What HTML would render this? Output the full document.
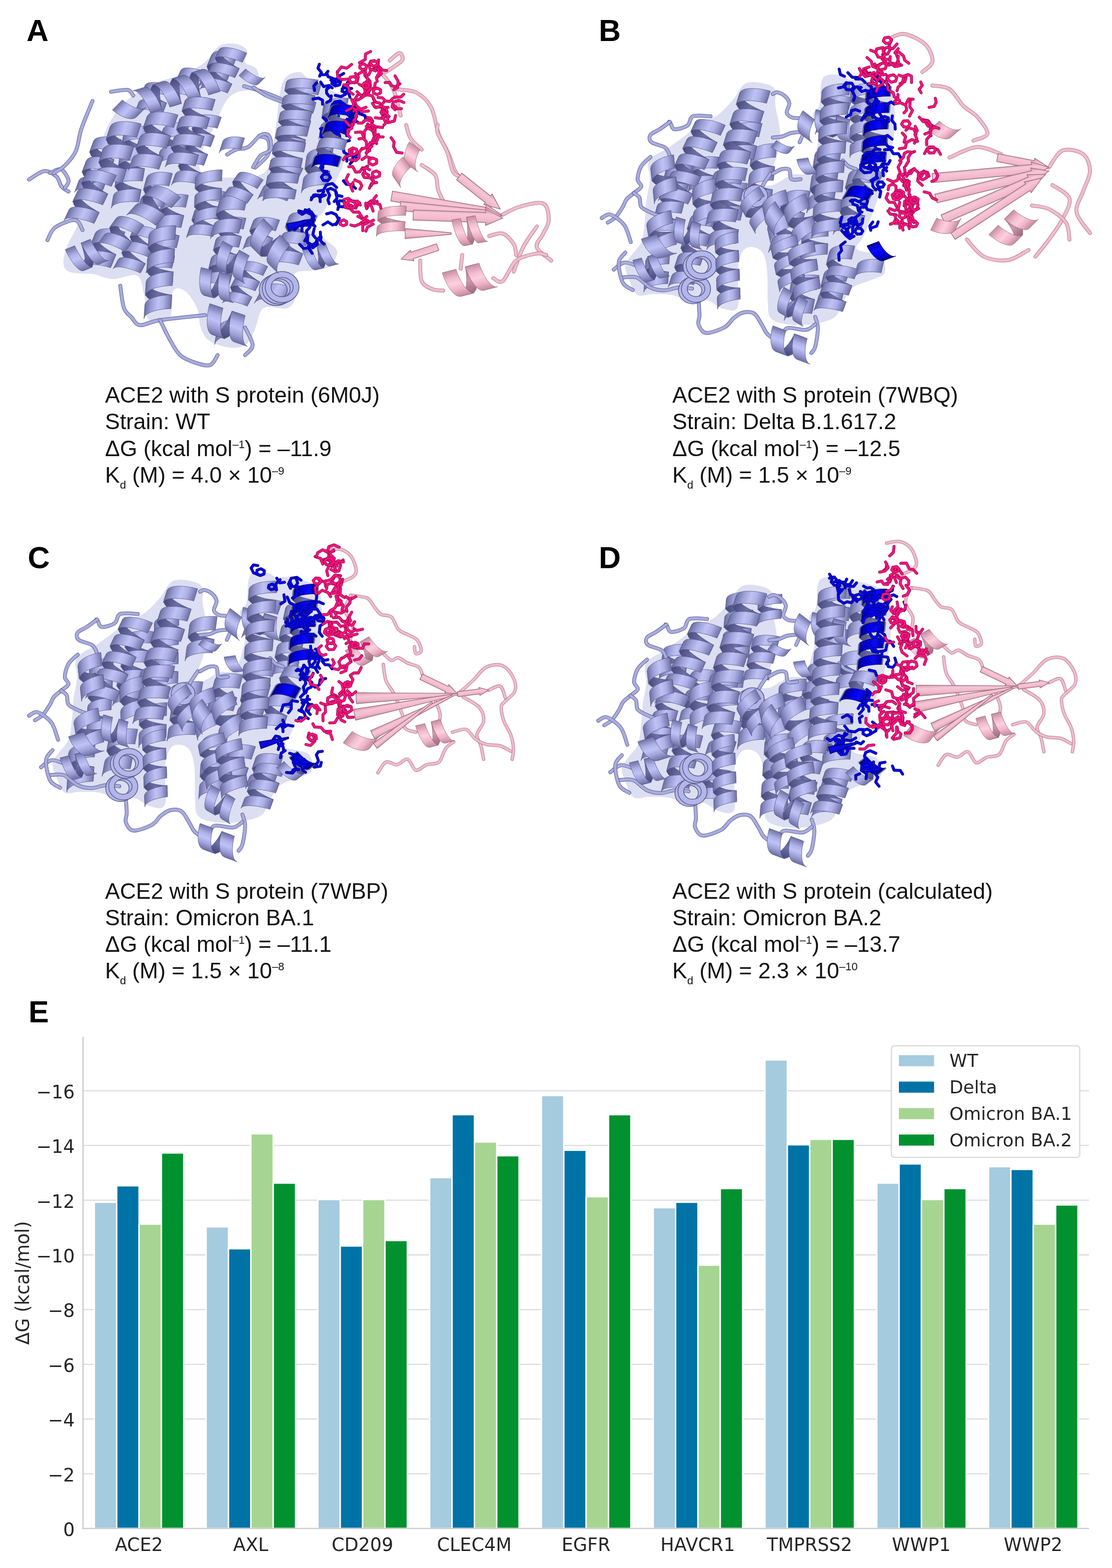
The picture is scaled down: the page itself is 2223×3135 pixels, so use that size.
<!DOCTYPE html>
<html><head><meta charset="utf-8"><style>
html,body{margin:0;padding:0;background:#fff;}
body{width:2223px;height:3135px;position:relative;overflow:hidden;}
.tk{font-family:"DejaVu Sans",sans-serif;font-size:36.5px;fill:#262626;}
.cap{position:absolute;font-family:"Liberation Sans",Arial,sans-serif;font-size:44.5px;line-height:53.3px;color:#111;white-space:nowrap;}
.cap sup{font-size:22px;line-height:0;vertical-align:0;position:relative;top:-16px;}
.cap sub{font-size:22px;line-height:0;vertical-align:0;position:relative;top:12px;}
.lab{position:absolute;font-family:"Liberation Sans",Arial,sans-serif;font-weight:bold;font-size:61px;line-height:70px;color:#000;}
</style></head><body>
<svg width="2223" height="3135" viewBox="0 0 2223 3135" style="position:absolute;left:0;top:0"><defs><linearGradient id="lf" x1="0" y1="0" x2="0" y2="1"><stop offset="0" stop-color="#6f72a6"/><stop offset="0.3" stop-color="#aeb1e6"/><stop offset="0.5" stop-color="#bfc2f5"/><stop offset="0.75" stop-color="#9da0d6"/><stop offset="1" stop-color="#6c6fa2"/></linearGradient><linearGradient id="lb" x1="0" y1="0" x2="0" y2="1"><stop offset="0" stop-color="#4a4c7c"/><stop offset="0.5" stop-color="#6e71a6"/><stop offset="1" stop-color="#46487a"/></linearGradient><linearGradient id="pf" x1="0" y1="0" x2="0" y2="1"><stop offset="0" stop-color="#c48ea2"/><stop offset="0.3" stop-color="#f3bccf"/><stop offset="0.5" stop-color="#fbd0de"/><stop offset="0.75" stop-color="#eeb2c6"/><stop offset="1" stop-color="#c08a9e"/></linearGradient><linearGradient id="sp" x1="0" y1="0" x2="0" y2="1"><stop offset="0" stop-color="#d79fb2"/><stop offset="0.35" stop-color="#f7c6d6"/><stop offset="0.7" stop-color="#f1b8ca"/><stop offset="1" stop-color="#c99aab"/></linearGradient><linearGradient id="pb" x1="0" y1="0" x2="0" y2="1"><stop offset="0" stop-color="#a67486"/><stop offset="0.5" stop-color="#cf9aae"/><stop offset="1" stop-color="#9a6a7c"/></linearGradient><linearGradient id="bf" x1="0" y1="0" x2="0" y2="1"><stop offset="0" stop-color="#00009a"/><stop offset="0.35" stop-color="#0a0af5"/><stop offset="0.6" stop-color="#0000ee"/><stop offset="1" stop-color="#000090"/></linearGradient><linearGradient id="bb" x1="0" y1="0" x2="0" y2="1"><stop offset="0" stop-color="#000070"/><stop offset="0.5" stop-color="#0000b8"/><stop offset="1" stop-color="#000068"/></linearGradient><linearGradient id="mf" x1="0" y1="0" x2="0" y2="1"><stop offset="0" stop-color="#a00048"/><stop offset="0.4" stop-color="#ff1a8a"/><stop offset="1" stop-color="#b0004e"/></linearGradient><symbol id="hl1" overflow="visible">
<path d="M0.000,-1.000 0.001,-0.951 0.006,-0.809 0.021,-0.588 0.048,-0.309 0.090,-0.000 0.148,0.309 0.221,0.588 0.306,0.809 0.401,0.951 0.500,1.000 1.100,1.000 1.001,0.951 0.906,0.809 0.821,0.588 0.748,0.309 0.690,-0.000 0.648,-0.309 0.621,-0.588 0.606,-0.809 0.601,-0.951 0.600,-1.000Z" fill="url(#lf)" stroke="#55578a" stroke-width="0.8" vector-effect="non-scaling-stroke"/>
</symbol><symbol id="hp1" overflow="visible">
<path d="M0.000,-1.000 0.001,-0.951 0.006,-0.809 0.021,-0.588 0.048,-0.309 0.090,-0.000 0.148,0.309 0.221,0.588 0.306,0.809 0.401,0.951 0.500,1.000 1.100,1.000 1.001,0.951 0.906,0.809 0.821,0.588 0.748,0.309 0.690,-0.000 0.648,-0.309 0.621,-0.588 0.606,-0.809 0.601,-0.951 0.600,-1.000Z" fill="url(#pf)" stroke="#98687a" stroke-width="0.8" vector-effect="non-scaling-stroke"/>
</symbol><symbol id="hb1" overflow="visible">
<path d="M0.000,-1.000 0.001,-0.951 0.006,-0.809 0.021,-0.588 0.048,-0.309 0.090,-0.000 0.148,0.309 0.221,0.588 0.306,0.809 0.401,0.951 0.500,1.000 1.100,1.000 1.001,0.951 0.906,0.809 0.821,0.588 0.748,0.309 0.690,-0.000 0.648,-0.309 0.621,-0.588 0.606,-0.809 0.601,-0.951 0.600,-1.000Z" fill="url(#bf)" stroke="#000050" stroke-width="0.8" vector-effect="non-scaling-stroke"/>
</symbol><symbol id="hl2" overflow="visible">
<path d="M0.500,1.000 0.599,0.951 0.694,0.809 0.779,0.588 0.852,0.309 0.910,0.000 0.952,-0.309 0.979,-0.588 0.994,-0.809 0.999,-0.951 1.000,-1.000 1.500,-1.000 1.499,-0.951 1.494,-0.809 1.479,-0.588 1.452,-0.309 1.410,0.000 1.352,0.309 1.279,0.588 1.194,0.809 1.099,0.951 1.000,1.000Z" fill="url(#lb)" stroke="#55578a" stroke-width="0.8" vector-effect="non-scaling-stroke"/>
<path d="M0.000,-1.000 0.001,-0.951 0.006,-0.809 0.021,-0.588 0.048,-0.309 0.090,-0.000 0.148,0.309 0.221,0.588 0.306,0.809 0.401,0.951 0.500,1.000 1.100,1.000 1.001,0.951 0.906,0.809 0.821,0.588 0.748,0.309 0.690,-0.000 0.648,-0.309 0.621,-0.588 0.606,-0.809 0.601,-0.951 0.600,-1.000ZM1.000,-1.000 1.001,-0.951 1.006,-0.809 1.021,-0.588 1.048,-0.309 1.090,-0.000 1.148,0.309 1.221,0.588 1.306,0.809 1.401,0.951 1.500,1.000 2.100,1.000 2.001,0.951 1.906,0.809 1.821,0.588 1.748,0.309 1.690,-0.000 1.648,-0.309 1.621,-0.588 1.606,-0.809 1.601,-0.951 1.600,-1.000Z" fill="url(#lf)" stroke="#55578a" stroke-width="0.8" vector-effect="non-scaling-stroke"/>
</symbol><symbol id="hp2" overflow="visible">
<path d="M0.500,1.000 0.599,0.951 0.694,0.809 0.779,0.588 0.852,0.309 0.910,0.000 0.952,-0.309 0.979,-0.588 0.994,-0.809 0.999,-0.951 1.000,-1.000 1.500,-1.000 1.499,-0.951 1.494,-0.809 1.479,-0.588 1.452,-0.309 1.410,0.000 1.352,0.309 1.279,0.588 1.194,0.809 1.099,0.951 1.000,1.000Z" fill="url(#pb)" stroke="#98687a" stroke-width="0.8" vector-effect="non-scaling-stroke"/>
<path d="M0.000,-1.000 0.001,-0.951 0.006,-0.809 0.021,-0.588 0.048,-0.309 0.090,-0.000 0.148,0.309 0.221,0.588 0.306,0.809 0.401,0.951 0.500,1.000 1.100,1.000 1.001,0.951 0.906,0.809 0.821,0.588 0.748,0.309 0.690,-0.000 0.648,-0.309 0.621,-0.588 0.606,-0.809 0.601,-0.951 0.600,-1.000ZM1.000,-1.000 1.001,-0.951 1.006,-0.809 1.021,-0.588 1.048,-0.309 1.090,-0.000 1.148,0.309 1.221,0.588 1.306,0.809 1.401,0.951 1.500,1.000 2.100,1.000 2.001,0.951 1.906,0.809 1.821,0.588 1.748,0.309 1.690,-0.000 1.648,-0.309 1.621,-0.588 1.606,-0.809 1.601,-0.951 1.600,-1.000Z" fill="url(#pf)" stroke="#98687a" stroke-width="0.8" vector-effect="non-scaling-stroke"/>
</symbol><symbol id="hb2" overflow="visible">
<path d="M0.500,1.000 0.599,0.951 0.694,0.809 0.779,0.588 0.852,0.309 0.910,0.000 0.952,-0.309 0.979,-0.588 0.994,-0.809 0.999,-0.951 1.000,-1.000 1.500,-1.000 1.499,-0.951 1.494,-0.809 1.479,-0.588 1.452,-0.309 1.410,0.000 1.352,0.309 1.279,0.588 1.194,0.809 1.099,0.951 1.000,1.000Z" fill="url(#bb)" stroke="#000050" stroke-width="0.8" vector-effect="non-scaling-stroke"/>
<path d="M0.000,-1.000 0.001,-0.951 0.006,-0.809 0.021,-0.588 0.048,-0.309 0.090,-0.000 0.148,0.309 0.221,0.588 0.306,0.809 0.401,0.951 0.500,1.000 1.100,1.000 1.001,0.951 0.906,0.809 0.821,0.588 0.748,0.309 0.690,-0.000 0.648,-0.309 0.621,-0.588 0.606,-0.809 0.601,-0.951 0.600,-1.000ZM1.000,-1.000 1.001,-0.951 1.006,-0.809 1.021,-0.588 1.048,-0.309 1.090,-0.000 1.148,0.309 1.221,0.588 1.306,0.809 1.401,0.951 1.500,1.000 2.100,1.000 2.001,0.951 1.906,0.809 1.821,0.588 1.748,0.309 1.690,-0.000 1.648,-0.309 1.621,-0.588 1.606,-0.809 1.601,-0.951 1.600,-1.000Z" fill="url(#bf)" stroke="#000050" stroke-width="0.8" vector-effect="non-scaling-stroke"/>
</symbol><symbol id="hl3" overflow="visible">
<path d="M0.500,1.000 0.599,0.951 0.694,0.809 0.779,0.588 0.852,0.309 0.910,0.000 0.952,-0.309 0.979,-0.588 0.994,-0.809 0.999,-0.951 1.000,-1.000 1.500,-1.000 1.499,-0.951 1.494,-0.809 1.479,-0.588 1.452,-0.309 1.410,0.000 1.352,0.309 1.279,0.588 1.194,0.809 1.099,0.951 1.000,1.000ZM1.500,1.000 1.599,0.951 1.694,0.809 1.779,0.588 1.852,0.309 1.910,0.000 1.952,-0.309 1.979,-0.588 1.994,-0.809 1.999,-0.951 2.000,-1.000 2.500,-1.000 2.499,-0.951 2.494,-0.809 2.479,-0.588 2.452,-0.309 2.410,0.000 2.352,0.309 2.279,0.588 2.194,0.809 2.099,0.951 2.000,1.000Z" fill="url(#lb)" stroke="#55578a" stroke-width="0.8" vector-effect="non-scaling-stroke"/>
<path d="M0.000,-1.000 0.001,-0.951 0.006,-0.809 0.021,-0.588 0.048,-0.309 0.090,-0.000 0.148,0.309 0.221,0.588 0.306,0.809 0.401,0.951 0.500,1.000 1.100,1.000 1.001,0.951 0.906,0.809 0.821,0.588 0.748,0.309 0.690,-0.000 0.648,-0.309 0.621,-0.588 0.606,-0.809 0.601,-0.951 0.600,-1.000ZM1.000,-1.000 1.001,-0.951 1.006,-0.809 1.021,-0.588 1.048,-0.309 1.090,-0.000 1.148,0.309 1.221,0.588 1.306,0.809 1.401,0.951 1.500,1.000 2.100,1.000 2.001,0.951 1.906,0.809 1.821,0.588 1.748,0.309 1.690,-0.000 1.648,-0.309 1.621,-0.588 1.606,-0.809 1.601,-0.951 1.600,-1.000ZM2.000,-1.000 2.001,-0.951 2.006,-0.809 2.021,-0.588 2.048,-0.309 2.090,-0.000 2.148,0.309 2.221,0.588 2.306,0.809 2.401,0.951 2.500,1.000 3.100,1.000 3.001,0.951 2.906,0.809 2.821,0.588 2.748,0.309 2.690,-0.000 2.648,-0.309 2.621,-0.588 2.606,-0.809 2.601,-0.951 2.600,-1.000Z" fill="url(#lf)" stroke="#55578a" stroke-width="0.8" vector-effect="non-scaling-stroke"/>
</symbol><symbol id="hp3" overflow="visible">
<path d="M0.500,1.000 0.599,0.951 0.694,0.809 0.779,0.588 0.852,0.309 0.910,0.000 0.952,-0.309 0.979,-0.588 0.994,-0.809 0.999,-0.951 1.000,-1.000 1.500,-1.000 1.499,-0.951 1.494,-0.809 1.479,-0.588 1.452,-0.309 1.410,0.000 1.352,0.309 1.279,0.588 1.194,0.809 1.099,0.951 1.000,1.000ZM1.500,1.000 1.599,0.951 1.694,0.809 1.779,0.588 1.852,0.309 1.910,0.000 1.952,-0.309 1.979,-0.588 1.994,-0.809 1.999,-0.951 2.000,-1.000 2.500,-1.000 2.499,-0.951 2.494,-0.809 2.479,-0.588 2.452,-0.309 2.410,0.000 2.352,0.309 2.279,0.588 2.194,0.809 2.099,0.951 2.000,1.000Z" fill="url(#pb)" stroke="#98687a" stroke-width="0.8" vector-effect="non-scaling-stroke"/>
<path d="M0.000,-1.000 0.001,-0.951 0.006,-0.809 0.021,-0.588 0.048,-0.309 0.090,-0.000 0.148,0.309 0.221,0.588 0.306,0.809 0.401,0.951 0.500,1.000 1.100,1.000 1.001,0.951 0.906,0.809 0.821,0.588 0.748,0.309 0.690,-0.000 0.648,-0.309 0.621,-0.588 0.606,-0.809 0.601,-0.951 0.600,-1.000ZM1.000,-1.000 1.001,-0.951 1.006,-0.809 1.021,-0.588 1.048,-0.309 1.090,-0.000 1.148,0.309 1.221,0.588 1.306,0.809 1.401,0.951 1.500,1.000 2.100,1.000 2.001,0.951 1.906,0.809 1.821,0.588 1.748,0.309 1.690,-0.000 1.648,-0.309 1.621,-0.588 1.606,-0.809 1.601,-0.951 1.600,-1.000ZM2.000,-1.000 2.001,-0.951 2.006,-0.809 2.021,-0.588 2.048,-0.309 2.090,-0.000 2.148,0.309 2.221,0.588 2.306,0.809 2.401,0.951 2.500,1.000 3.100,1.000 3.001,0.951 2.906,0.809 2.821,0.588 2.748,0.309 2.690,-0.000 2.648,-0.309 2.621,-0.588 2.606,-0.809 2.601,-0.951 2.600,-1.000Z" fill="url(#pf)" stroke="#98687a" stroke-width="0.8" vector-effect="non-scaling-stroke"/>
</symbol><symbol id="hb3" overflow="visible">
<path d="M0.500,1.000 0.599,0.951 0.694,0.809 0.779,0.588 0.852,0.309 0.910,0.000 0.952,-0.309 0.979,-0.588 0.994,-0.809 0.999,-0.951 1.000,-1.000 1.500,-1.000 1.499,-0.951 1.494,-0.809 1.479,-0.588 1.452,-0.309 1.410,0.000 1.352,0.309 1.279,0.588 1.194,0.809 1.099,0.951 1.000,1.000ZM1.500,1.000 1.599,0.951 1.694,0.809 1.779,0.588 1.852,0.309 1.910,0.000 1.952,-0.309 1.979,-0.588 1.994,-0.809 1.999,-0.951 2.000,-1.000 2.500,-1.000 2.499,-0.951 2.494,-0.809 2.479,-0.588 2.452,-0.309 2.410,0.000 2.352,0.309 2.279,0.588 2.194,0.809 2.099,0.951 2.000,1.000Z" fill="url(#bb)" stroke="#000050" stroke-width="0.8" vector-effect="non-scaling-stroke"/>
<path d="M0.000,-1.000 0.001,-0.951 0.006,-0.809 0.021,-0.588 0.048,-0.309 0.090,-0.000 0.148,0.309 0.221,0.588 0.306,0.809 0.401,0.951 0.500,1.000 1.100,1.000 1.001,0.951 0.906,0.809 0.821,0.588 0.748,0.309 0.690,-0.000 0.648,-0.309 0.621,-0.588 0.606,-0.809 0.601,-0.951 0.600,-1.000ZM1.000,-1.000 1.001,-0.951 1.006,-0.809 1.021,-0.588 1.048,-0.309 1.090,-0.000 1.148,0.309 1.221,0.588 1.306,0.809 1.401,0.951 1.500,1.000 2.100,1.000 2.001,0.951 1.906,0.809 1.821,0.588 1.748,0.309 1.690,-0.000 1.648,-0.309 1.621,-0.588 1.606,-0.809 1.601,-0.951 1.600,-1.000ZM2.000,-1.000 2.001,-0.951 2.006,-0.809 2.021,-0.588 2.048,-0.309 2.090,-0.000 2.148,0.309 2.221,0.588 2.306,0.809 2.401,0.951 2.500,1.000 3.100,1.000 3.001,0.951 2.906,0.809 2.821,0.588 2.748,0.309 2.690,-0.000 2.648,-0.309 2.621,-0.588 2.606,-0.809 2.601,-0.951 2.600,-1.000Z" fill="url(#bf)" stroke="#000050" stroke-width="0.8" vector-effect="non-scaling-stroke"/>
</symbol><symbol id="hl4" overflow="visible">
<path d="M0.500,1.000 0.599,0.951 0.694,0.809 0.779,0.588 0.852,0.309 0.910,0.000 0.952,-0.309 0.979,-0.588 0.994,-0.809 0.999,-0.951 1.000,-1.000 1.500,-1.000 1.499,-0.951 1.494,-0.809 1.479,-0.588 1.452,-0.309 1.410,0.000 1.352,0.309 1.279,0.588 1.194,0.809 1.099,0.951 1.000,1.000ZM1.500,1.000 1.599,0.951 1.694,0.809 1.779,0.588 1.852,0.309 1.910,0.000 1.952,-0.309 1.979,-0.588 1.994,-0.809 1.999,-0.951 2.000,-1.000 2.500,-1.000 2.499,-0.951 2.494,-0.809 2.479,-0.588 2.452,-0.309 2.410,0.000 2.352,0.309 2.279,0.588 2.194,0.809 2.099,0.951 2.000,1.000ZM2.500,1.000 2.599,0.951 2.694,0.809 2.779,0.588 2.852,0.309 2.910,0.000 2.952,-0.309 2.979,-0.588 2.994,-0.809 2.999,-0.951 3.000,-1.000 3.500,-1.000 3.499,-0.951 3.494,-0.809 3.479,-0.588 3.452,-0.309 3.410,0.000 3.352,0.309 3.279,0.588 3.194,0.809 3.099,0.951 3.000,1.000Z" fill="url(#lb)" stroke="#55578a" stroke-width="0.8" vector-effect="non-scaling-stroke"/>
<path d="M0.000,-1.000 0.001,-0.951 0.006,-0.809 0.021,-0.588 0.048,-0.309 0.090,-0.000 0.148,0.309 0.221,0.588 0.306,0.809 0.401,0.951 0.500,1.000 1.100,1.000 1.001,0.951 0.906,0.809 0.821,0.588 0.748,0.309 0.690,-0.000 0.648,-0.309 0.621,-0.588 0.606,-0.809 0.601,-0.951 0.600,-1.000ZM1.000,-1.000 1.001,-0.951 1.006,-0.809 1.021,-0.588 1.048,-0.309 1.090,-0.000 1.148,0.309 1.221,0.588 1.306,0.809 1.401,0.951 1.500,1.000 2.100,1.000 2.001,0.951 1.906,0.809 1.821,0.588 1.748,0.309 1.690,-0.000 1.648,-0.309 1.621,-0.588 1.606,-0.809 1.601,-0.951 1.600,-1.000ZM2.000,-1.000 2.001,-0.951 2.006,-0.809 2.021,-0.588 2.048,-0.309 2.090,-0.000 2.148,0.309 2.221,0.588 2.306,0.809 2.401,0.951 2.500,1.000 3.100,1.000 3.001,0.951 2.906,0.809 2.821,0.588 2.748,0.309 2.690,-0.000 2.648,-0.309 2.621,-0.588 2.606,-0.809 2.601,-0.951 2.600,-1.000ZM3.000,-1.000 3.001,-0.951 3.006,-0.809 3.021,-0.588 3.048,-0.309 3.090,-0.000 3.148,0.309 3.221,0.588 3.306,0.809 3.401,0.951 3.500,1.000 4.100,1.000 4.001,0.951 3.906,0.809 3.821,0.588 3.748,0.309 3.690,-0.000 3.648,-0.309 3.621,-0.588 3.606,-0.809 3.601,-0.951 3.600,-1.000Z" fill="url(#lf)" stroke="#55578a" stroke-width="0.8" vector-effect="non-scaling-stroke"/>
</symbol><symbol id="hp4" overflow="visible">
<path d="M0.500,1.000 0.599,0.951 0.694,0.809 0.779,0.588 0.852,0.309 0.910,0.000 0.952,-0.309 0.979,-0.588 0.994,-0.809 0.999,-0.951 1.000,-1.000 1.500,-1.000 1.499,-0.951 1.494,-0.809 1.479,-0.588 1.452,-0.309 1.410,0.000 1.352,0.309 1.279,0.588 1.194,0.809 1.099,0.951 1.000,1.000ZM1.500,1.000 1.599,0.951 1.694,0.809 1.779,0.588 1.852,0.309 1.910,0.000 1.952,-0.309 1.979,-0.588 1.994,-0.809 1.999,-0.951 2.000,-1.000 2.500,-1.000 2.499,-0.951 2.494,-0.809 2.479,-0.588 2.452,-0.309 2.410,0.000 2.352,0.309 2.279,0.588 2.194,0.809 2.099,0.951 2.000,1.000ZM2.500,1.000 2.599,0.951 2.694,0.809 2.779,0.588 2.852,0.309 2.910,0.000 2.952,-0.309 2.979,-0.588 2.994,-0.809 2.999,-0.951 3.000,-1.000 3.500,-1.000 3.499,-0.951 3.494,-0.809 3.479,-0.588 3.452,-0.309 3.410,0.000 3.352,0.309 3.279,0.588 3.194,0.809 3.099,0.951 3.000,1.000Z" fill="url(#pb)" stroke="#98687a" stroke-width="0.8" vector-effect="non-scaling-stroke"/>
<path d="M0.000,-1.000 0.001,-0.951 0.006,-0.809 0.021,-0.588 0.048,-0.309 0.090,-0.000 0.148,0.309 0.221,0.588 0.306,0.809 0.401,0.951 0.500,1.000 1.100,1.000 1.001,0.951 0.906,0.809 0.821,0.588 0.748,0.309 0.690,-0.000 0.648,-0.309 0.621,-0.588 0.606,-0.809 0.601,-0.951 0.600,-1.000ZM1.000,-1.000 1.001,-0.951 1.006,-0.809 1.021,-0.588 1.048,-0.309 1.090,-0.000 1.148,0.309 1.221,0.588 1.306,0.809 1.401,0.951 1.500,1.000 2.100,1.000 2.001,0.951 1.906,0.809 1.821,0.588 1.748,0.309 1.690,-0.000 1.648,-0.309 1.621,-0.588 1.606,-0.809 1.601,-0.951 1.600,-1.000ZM2.000,-1.000 2.001,-0.951 2.006,-0.809 2.021,-0.588 2.048,-0.309 2.090,-0.000 2.148,0.309 2.221,0.588 2.306,0.809 2.401,0.951 2.500,1.000 3.100,1.000 3.001,0.951 2.906,0.809 2.821,0.588 2.748,0.309 2.690,-0.000 2.648,-0.309 2.621,-0.588 2.606,-0.809 2.601,-0.951 2.600,-1.000ZM3.000,-1.000 3.001,-0.951 3.006,-0.809 3.021,-0.588 3.048,-0.309 3.090,-0.000 3.148,0.309 3.221,0.588 3.306,0.809 3.401,0.951 3.500,1.000 4.100,1.000 4.001,0.951 3.906,0.809 3.821,0.588 3.748,0.309 3.690,-0.000 3.648,-0.309 3.621,-0.588 3.606,-0.809 3.601,-0.951 3.600,-1.000Z" fill="url(#pf)" stroke="#98687a" stroke-width="0.8" vector-effect="non-scaling-stroke"/>
</symbol><symbol id="hb4" overflow="visible">
<path d="M0.500,1.000 0.599,0.951 0.694,0.809 0.779,0.588 0.852,0.309 0.910,0.000 0.952,-0.309 0.979,-0.588 0.994,-0.809 0.999,-0.951 1.000,-1.000 1.500,-1.000 1.499,-0.951 1.494,-0.809 1.479,-0.588 1.452,-0.309 1.410,0.000 1.352,0.309 1.279,0.588 1.194,0.809 1.099,0.951 1.000,1.000ZM1.500,1.000 1.599,0.951 1.694,0.809 1.779,0.588 1.852,0.309 1.910,0.000 1.952,-0.309 1.979,-0.588 1.994,-0.809 1.999,-0.951 2.000,-1.000 2.500,-1.000 2.499,-0.951 2.494,-0.809 2.479,-0.588 2.452,-0.309 2.410,0.000 2.352,0.309 2.279,0.588 2.194,0.809 2.099,0.951 2.000,1.000ZM2.500,1.000 2.599,0.951 2.694,0.809 2.779,0.588 2.852,0.309 2.910,0.000 2.952,-0.309 2.979,-0.588 2.994,-0.809 2.999,-0.951 3.000,-1.000 3.500,-1.000 3.499,-0.951 3.494,-0.809 3.479,-0.588 3.452,-0.309 3.410,0.000 3.352,0.309 3.279,0.588 3.194,0.809 3.099,0.951 3.000,1.000Z" fill="url(#bb)" stroke="#000050" stroke-width="0.8" vector-effect="non-scaling-stroke"/>
<path d="M0.000,-1.000 0.001,-0.951 0.006,-0.809 0.021,-0.588 0.048,-0.309 0.090,-0.000 0.148,0.309 0.221,0.588 0.306,0.809 0.401,0.951 0.500,1.000 1.100,1.000 1.001,0.951 0.906,0.809 0.821,0.588 0.748,0.309 0.690,-0.000 0.648,-0.309 0.621,-0.588 0.606,-0.809 0.601,-0.951 0.600,-1.000ZM1.000,-1.000 1.001,-0.951 1.006,-0.809 1.021,-0.588 1.048,-0.309 1.090,-0.000 1.148,0.309 1.221,0.588 1.306,0.809 1.401,0.951 1.500,1.000 2.100,1.000 2.001,0.951 1.906,0.809 1.821,0.588 1.748,0.309 1.690,-0.000 1.648,-0.309 1.621,-0.588 1.606,-0.809 1.601,-0.951 1.600,-1.000ZM2.000,-1.000 2.001,-0.951 2.006,-0.809 2.021,-0.588 2.048,-0.309 2.090,-0.000 2.148,0.309 2.221,0.588 2.306,0.809 2.401,0.951 2.500,1.000 3.100,1.000 3.001,0.951 2.906,0.809 2.821,0.588 2.748,0.309 2.690,-0.000 2.648,-0.309 2.621,-0.588 2.606,-0.809 2.601,-0.951 2.600,-1.000ZM3.000,-1.000 3.001,-0.951 3.006,-0.809 3.021,-0.588 3.048,-0.309 3.090,-0.000 3.148,0.309 3.221,0.588 3.306,0.809 3.401,0.951 3.500,1.000 4.100,1.000 4.001,0.951 3.906,0.809 3.821,0.588 3.748,0.309 3.690,-0.000 3.648,-0.309 3.621,-0.588 3.606,-0.809 3.601,-0.951 3.600,-1.000Z" fill="url(#bf)" stroke="#000050" stroke-width="0.8" vector-effect="non-scaling-stroke"/>
</symbol><symbol id="hl5" overflow="visible">
<path d="M0.500,1.000 0.599,0.951 0.694,0.809 0.779,0.588 0.852,0.309 0.910,0.000 0.952,-0.309 0.979,-0.588 0.994,-0.809 0.999,-0.951 1.000,-1.000 1.500,-1.000 1.499,-0.951 1.494,-0.809 1.479,-0.588 1.452,-0.309 1.410,0.000 1.352,0.309 1.279,0.588 1.194,0.809 1.099,0.951 1.000,1.000ZM1.500,1.000 1.599,0.951 1.694,0.809 1.779,0.588 1.852,0.309 1.910,0.000 1.952,-0.309 1.979,-0.588 1.994,-0.809 1.999,-0.951 2.000,-1.000 2.500,-1.000 2.499,-0.951 2.494,-0.809 2.479,-0.588 2.452,-0.309 2.410,0.000 2.352,0.309 2.279,0.588 2.194,0.809 2.099,0.951 2.000,1.000ZM2.500,1.000 2.599,0.951 2.694,0.809 2.779,0.588 2.852,0.309 2.910,0.000 2.952,-0.309 2.979,-0.588 2.994,-0.809 2.999,-0.951 3.000,-1.000 3.500,-1.000 3.499,-0.951 3.494,-0.809 3.479,-0.588 3.452,-0.309 3.410,0.000 3.352,0.309 3.279,0.588 3.194,0.809 3.099,0.951 3.000,1.000ZM3.500,1.000 3.599,0.951 3.694,0.809 3.779,0.588 3.852,0.309 3.910,0.000 3.952,-0.309 3.979,-0.588 3.994,-0.809 3.999,-0.951 4.000,-1.000 4.500,-1.000 4.499,-0.951 4.494,-0.809 4.479,-0.588 4.452,-0.309 4.410,0.000 4.352,0.309 4.279,0.588 4.194,0.809 4.099,0.951 4.000,1.000Z" fill="url(#lb)" stroke="#55578a" stroke-width="0.8" vector-effect="non-scaling-stroke"/>
<path d="M0.000,-1.000 0.001,-0.951 0.006,-0.809 0.021,-0.588 0.048,-0.309 0.090,-0.000 0.148,0.309 0.221,0.588 0.306,0.809 0.401,0.951 0.500,1.000 1.100,1.000 1.001,0.951 0.906,0.809 0.821,0.588 0.748,0.309 0.690,-0.000 0.648,-0.309 0.621,-0.588 0.606,-0.809 0.601,-0.951 0.600,-1.000ZM1.000,-1.000 1.001,-0.951 1.006,-0.809 1.021,-0.588 1.048,-0.309 1.090,-0.000 1.148,0.309 1.221,0.588 1.306,0.809 1.401,0.951 1.500,1.000 2.100,1.000 2.001,0.951 1.906,0.809 1.821,0.588 1.748,0.309 1.690,-0.000 1.648,-0.309 1.621,-0.588 1.606,-0.809 1.601,-0.951 1.600,-1.000ZM2.000,-1.000 2.001,-0.951 2.006,-0.809 2.021,-0.588 2.048,-0.309 2.090,-0.000 2.148,0.309 2.221,0.588 2.306,0.809 2.401,0.951 2.500,1.000 3.100,1.000 3.001,0.951 2.906,0.809 2.821,0.588 2.748,0.309 2.690,-0.000 2.648,-0.309 2.621,-0.588 2.606,-0.809 2.601,-0.951 2.600,-1.000ZM3.000,-1.000 3.001,-0.951 3.006,-0.809 3.021,-0.588 3.048,-0.309 3.090,-0.000 3.148,0.309 3.221,0.588 3.306,0.809 3.401,0.951 3.500,1.000 4.100,1.000 4.001,0.951 3.906,0.809 3.821,0.588 3.748,0.309 3.690,-0.000 3.648,-0.309 3.621,-0.588 3.606,-0.809 3.601,-0.951 3.600,-1.000ZM4.000,-1.000 4.001,-0.951 4.006,-0.809 4.021,-0.588 4.048,-0.309 4.090,-0.000 4.148,0.309 4.221,0.588 4.306,0.809 4.401,0.951 4.500,1.000 5.100,1.000 5.001,0.951 4.906,0.809 4.821,0.588 4.748,0.309 4.690,-0.000 4.648,-0.309 4.621,-0.588 4.606,-0.809 4.601,-0.951 4.600,-1.000Z" fill="url(#lf)" stroke="#55578a" stroke-width="0.8" vector-effect="non-scaling-stroke"/>
</symbol><symbol id="hp5" overflow="visible">
<path d="M0.500,1.000 0.599,0.951 0.694,0.809 0.779,0.588 0.852,0.309 0.910,0.000 0.952,-0.309 0.979,-0.588 0.994,-0.809 0.999,-0.951 1.000,-1.000 1.500,-1.000 1.499,-0.951 1.494,-0.809 1.479,-0.588 1.452,-0.309 1.410,0.000 1.352,0.309 1.279,0.588 1.194,0.809 1.099,0.951 1.000,1.000ZM1.500,1.000 1.599,0.951 1.694,0.809 1.779,0.588 1.852,0.309 1.910,0.000 1.952,-0.309 1.979,-0.588 1.994,-0.809 1.999,-0.951 2.000,-1.000 2.500,-1.000 2.499,-0.951 2.494,-0.809 2.479,-0.588 2.452,-0.309 2.410,0.000 2.352,0.309 2.279,0.588 2.194,0.809 2.099,0.951 2.000,1.000ZM2.500,1.000 2.599,0.951 2.694,0.809 2.779,0.588 2.852,0.309 2.910,0.000 2.952,-0.309 2.979,-0.588 2.994,-0.809 2.999,-0.951 3.000,-1.000 3.500,-1.000 3.499,-0.951 3.494,-0.809 3.479,-0.588 3.452,-0.309 3.410,0.000 3.352,0.309 3.279,0.588 3.194,0.809 3.099,0.951 3.000,1.000ZM3.500,1.000 3.599,0.951 3.694,0.809 3.779,0.588 3.852,0.309 3.910,0.000 3.952,-0.309 3.979,-0.588 3.994,-0.809 3.999,-0.951 4.000,-1.000 4.500,-1.000 4.499,-0.951 4.494,-0.809 4.479,-0.588 4.452,-0.309 4.410,0.000 4.352,0.309 4.279,0.588 4.194,0.809 4.099,0.951 4.000,1.000Z" fill="url(#pb)" stroke="#98687a" stroke-width="0.8" vector-effect="non-scaling-stroke"/>
<path d="M0.000,-1.000 0.001,-0.951 0.006,-0.809 0.021,-0.588 0.048,-0.309 0.090,-0.000 0.148,0.309 0.221,0.588 0.306,0.809 0.401,0.951 0.500,1.000 1.100,1.000 1.001,0.951 0.906,0.809 0.821,0.588 0.748,0.309 0.690,-0.000 0.648,-0.309 0.621,-0.588 0.606,-0.809 0.601,-0.951 0.600,-1.000ZM1.000,-1.000 1.001,-0.951 1.006,-0.809 1.021,-0.588 1.048,-0.309 1.090,-0.000 1.148,0.309 1.221,0.588 1.306,0.809 1.401,0.951 1.500,1.000 2.100,1.000 2.001,0.951 1.906,0.809 1.821,0.588 1.748,0.309 1.690,-0.000 1.648,-0.309 1.621,-0.588 1.606,-0.809 1.601,-0.951 1.600,-1.000ZM2.000,-1.000 2.001,-0.951 2.006,-0.809 2.021,-0.588 2.048,-0.309 2.090,-0.000 2.148,0.309 2.221,0.588 2.306,0.809 2.401,0.951 2.500,1.000 3.100,1.000 3.001,0.951 2.906,0.809 2.821,0.588 2.748,0.309 2.690,-0.000 2.648,-0.309 2.621,-0.588 2.606,-0.809 2.601,-0.951 2.600,-1.000ZM3.000,-1.000 3.001,-0.951 3.006,-0.809 3.021,-0.588 3.048,-0.309 3.090,-0.000 3.148,0.309 3.221,0.588 3.306,0.809 3.401,0.951 3.500,1.000 4.100,1.000 4.001,0.951 3.906,0.809 3.821,0.588 3.748,0.309 3.690,-0.000 3.648,-0.309 3.621,-0.588 3.606,-0.809 3.601,-0.951 3.600,-1.000ZM4.000,-1.000 4.001,-0.951 4.006,-0.809 4.021,-0.588 4.048,-0.309 4.090,-0.000 4.148,0.309 4.221,0.588 4.306,0.809 4.401,0.951 4.500,1.000 5.100,1.000 5.001,0.951 4.906,0.809 4.821,0.588 4.748,0.309 4.690,-0.000 4.648,-0.309 4.621,-0.588 4.606,-0.809 4.601,-0.951 4.600,-1.000Z" fill="url(#pf)" stroke="#98687a" stroke-width="0.8" vector-effect="non-scaling-stroke"/>
</symbol><symbol id="hb5" overflow="visible">
<path d="M0.500,1.000 0.599,0.951 0.694,0.809 0.779,0.588 0.852,0.309 0.910,0.000 0.952,-0.309 0.979,-0.588 0.994,-0.809 0.999,-0.951 1.000,-1.000 1.500,-1.000 1.499,-0.951 1.494,-0.809 1.479,-0.588 1.452,-0.309 1.410,0.000 1.352,0.309 1.279,0.588 1.194,0.809 1.099,0.951 1.000,1.000ZM1.500,1.000 1.599,0.951 1.694,0.809 1.779,0.588 1.852,0.309 1.910,0.000 1.952,-0.309 1.979,-0.588 1.994,-0.809 1.999,-0.951 2.000,-1.000 2.500,-1.000 2.499,-0.951 2.494,-0.809 2.479,-0.588 2.452,-0.309 2.410,0.000 2.352,0.309 2.279,0.588 2.194,0.809 2.099,0.951 2.000,1.000ZM2.500,1.000 2.599,0.951 2.694,0.809 2.779,0.588 2.852,0.309 2.910,0.000 2.952,-0.309 2.979,-0.588 2.994,-0.809 2.999,-0.951 3.000,-1.000 3.500,-1.000 3.499,-0.951 3.494,-0.809 3.479,-0.588 3.452,-0.309 3.410,0.000 3.352,0.309 3.279,0.588 3.194,0.809 3.099,0.951 3.000,1.000ZM3.500,1.000 3.599,0.951 3.694,0.809 3.779,0.588 3.852,0.309 3.910,0.000 3.952,-0.309 3.979,-0.588 3.994,-0.809 3.999,-0.951 4.000,-1.000 4.500,-1.000 4.499,-0.951 4.494,-0.809 4.479,-0.588 4.452,-0.309 4.410,0.000 4.352,0.309 4.279,0.588 4.194,0.809 4.099,0.951 4.000,1.000Z" fill="url(#bb)" stroke="#000050" stroke-width="0.8" vector-effect="non-scaling-stroke"/>
<path d="M0.000,-1.000 0.001,-0.951 0.006,-0.809 0.021,-0.588 0.048,-0.309 0.090,-0.000 0.148,0.309 0.221,0.588 0.306,0.809 0.401,0.951 0.500,1.000 1.100,1.000 1.001,0.951 0.906,0.809 0.821,0.588 0.748,0.309 0.690,-0.000 0.648,-0.309 0.621,-0.588 0.606,-0.809 0.601,-0.951 0.600,-1.000ZM1.000,-1.000 1.001,-0.951 1.006,-0.809 1.021,-0.588 1.048,-0.309 1.090,-0.000 1.148,0.309 1.221,0.588 1.306,0.809 1.401,0.951 1.500,1.000 2.100,1.000 2.001,0.951 1.906,0.809 1.821,0.588 1.748,0.309 1.690,-0.000 1.648,-0.309 1.621,-0.588 1.606,-0.809 1.601,-0.951 1.600,-1.000ZM2.000,-1.000 2.001,-0.951 2.006,-0.809 2.021,-0.588 2.048,-0.309 2.090,-0.000 2.148,0.309 2.221,0.588 2.306,0.809 2.401,0.951 2.500,1.000 3.100,1.000 3.001,0.951 2.906,0.809 2.821,0.588 2.748,0.309 2.690,-0.000 2.648,-0.309 2.621,-0.588 2.606,-0.809 2.601,-0.951 2.600,-1.000ZM3.000,-1.000 3.001,-0.951 3.006,-0.809 3.021,-0.588 3.048,-0.309 3.090,-0.000 3.148,0.309 3.221,0.588 3.306,0.809 3.401,0.951 3.500,1.000 4.100,1.000 4.001,0.951 3.906,0.809 3.821,0.588 3.748,0.309 3.690,-0.000 3.648,-0.309 3.621,-0.588 3.606,-0.809 3.601,-0.951 3.600,-1.000ZM4.000,-1.000 4.001,-0.951 4.006,-0.809 4.021,-0.588 4.048,-0.309 4.090,-0.000 4.148,0.309 4.221,0.588 4.306,0.809 4.401,0.951 4.500,1.000 5.100,1.000 5.001,0.951 4.906,0.809 4.821,0.588 4.748,0.309 4.690,-0.000 4.648,-0.309 4.621,-0.588 4.606,-0.809 4.601,-0.951 4.600,-1.000Z" fill="url(#bf)" stroke="#000050" stroke-width="0.8" vector-effect="non-scaling-stroke"/>
</symbol><symbol id="hl6" overflow="visible">
<path d="M0.500,1.000 0.599,0.951 0.694,0.809 0.779,0.588 0.852,0.309 0.910,0.000 0.952,-0.309 0.979,-0.588 0.994,-0.809 0.999,-0.951 1.000,-1.000 1.500,-1.000 1.499,-0.951 1.494,-0.809 1.479,-0.588 1.452,-0.309 1.410,0.000 1.352,0.309 1.279,0.588 1.194,0.809 1.099,0.951 1.000,1.000ZM1.500,1.000 1.599,0.951 1.694,0.809 1.779,0.588 1.852,0.309 1.910,0.000 1.952,-0.309 1.979,-0.588 1.994,-0.809 1.999,-0.951 2.000,-1.000 2.500,-1.000 2.499,-0.951 2.494,-0.809 2.479,-0.588 2.452,-0.309 2.410,0.000 2.352,0.309 2.279,0.588 2.194,0.809 2.099,0.951 2.000,1.000ZM2.500,1.000 2.599,0.951 2.694,0.809 2.779,0.588 2.852,0.309 2.910,0.000 2.952,-0.309 2.979,-0.588 2.994,-0.809 2.999,-0.951 3.000,-1.000 3.500,-1.000 3.499,-0.951 3.494,-0.809 3.479,-0.588 3.452,-0.309 3.410,0.000 3.352,0.309 3.279,0.588 3.194,0.809 3.099,0.951 3.000,1.000ZM3.500,1.000 3.599,0.951 3.694,0.809 3.779,0.588 3.852,0.309 3.910,0.000 3.952,-0.309 3.979,-0.588 3.994,-0.809 3.999,-0.951 4.000,-1.000 4.500,-1.000 4.499,-0.951 4.494,-0.809 4.479,-0.588 4.452,-0.309 4.410,0.000 4.352,0.309 4.279,0.588 4.194,0.809 4.099,0.951 4.000,1.000ZM4.500,1.000 4.599,0.951 4.694,0.809 4.779,0.588 4.852,0.309 4.910,0.000 4.952,-0.309 4.979,-0.588 4.994,-0.809 4.999,-0.951 5.000,-1.000 5.500,-1.000 5.499,-0.951 5.494,-0.809 5.479,-0.588 5.452,-0.309 5.410,0.000 5.352,0.309 5.279,0.588 5.194,0.809 5.099,0.951 5.000,1.000Z" fill="url(#lb)" stroke="#55578a" stroke-width="0.8" vector-effect="non-scaling-stroke"/>
<path d="M0.000,-1.000 0.001,-0.951 0.006,-0.809 0.021,-0.588 0.048,-0.309 0.090,-0.000 0.148,0.309 0.221,0.588 0.306,0.809 0.401,0.951 0.500,1.000 1.100,1.000 1.001,0.951 0.906,0.809 0.821,0.588 0.748,0.309 0.690,-0.000 0.648,-0.309 0.621,-0.588 0.606,-0.809 0.601,-0.951 0.600,-1.000ZM1.000,-1.000 1.001,-0.951 1.006,-0.809 1.021,-0.588 1.048,-0.309 1.090,-0.000 1.148,0.309 1.221,0.588 1.306,0.809 1.401,0.951 1.500,1.000 2.100,1.000 2.001,0.951 1.906,0.809 1.821,0.588 1.748,0.309 1.690,-0.000 1.648,-0.309 1.621,-0.588 1.606,-0.809 1.601,-0.951 1.600,-1.000ZM2.000,-1.000 2.001,-0.951 2.006,-0.809 2.021,-0.588 2.048,-0.309 2.090,-0.000 2.148,0.309 2.221,0.588 2.306,0.809 2.401,0.951 2.500,1.000 3.100,1.000 3.001,0.951 2.906,0.809 2.821,0.588 2.748,0.309 2.690,-0.000 2.648,-0.309 2.621,-0.588 2.606,-0.809 2.601,-0.951 2.600,-1.000ZM3.000,-1.000 3.001,-0.951 3.006,-0.809 3.021,-0.588 3.048,-0.309 3.090,-0.000 3.148,0.309 3.221,0.588 3.306,0.809 3.401,0.951 3.500,1.000 4.100,1.000 4.001,0.951 3.906,0.809 3.821,0.588 3.748,0.309 3.690,-0.000 3.648,-0.309 3.621,-0.588 3.606,-0.809 3.601,-0.951 3.600,-1.000ZM4.000,-1.000 4.001,-0.951 4.006,-0.809 4.021,-0.588 4.048,-0.309 4.090,-0.000 4.148,0.309 4.221,0.588 4.306,0.809 4.401,0.951 4.500,1.000 5.100,1.000 5.001,0.951 4.906,0.809 4.821,0.588 4.748,0.309 4.690,-0.000 4.648,-0.309 4.621,-0.588 4.606,-0.809 4.601,-0.951 4.600,-1.000ZM5.000,-1.000 5.001,-0.951 5.006,-0.809 5.021,-0.588 5.048,-0.309 5.090,-0.000 5.148,0.309 5.221,0.588 5.306,0.809 5.401,0.951 5.500,1.000 6.100,1.000 6.001,0.951 5.906,0.809 5.821,0.588 5.748,0.309 5.690,-0.000 5.648,-0.309 5.621,-0.588 5.606,-0.809 5.601,-0.951 5.600,-1.000Z" fill="url(#lf)" stroke="#55578a" stroke-width="0.8" vector-effect="non-scaling-stroke"/>
</symbol><symbol id="hp6" overflow="visible">
<path d="M0.500,1.000 0.599,0.951 0.694,0.809 0.779,0.588 0.852,0.309 0.910,0.000 0.952,-0.309 0.979,-0.588 0.994,-0.809 0.999,-0.951 1.000,-1.000 1.500,-1.000 1.499,-0.951 1.494,-0.809 1.479,-0.588 1.452,-0.309 1.410,0.000 1.352,0.309 1.279,0.588 1.194,0.809 1.099,0.951 1.000,1.000ZM1.500,1.000 1.599,0.951 1.694,0.809 1.779,0.588 1.852,0.309 1.910,0.000 1.952,-0.309 1.979,-0.588 1.994,-0.809 1.999,-0.951 2.000,-1.000 2.500,-1.000 2.499,-0.951 2.494,-0.809 2.479,-0.588 2.452,-0.309 2.410,0.000 2.352,0.309 2.279,0.588 2.194,0.809 2.099,0.951 2.000,1.000ZM2.500,1.000 2.599,0.951 2.694,0.809 2.779,0.588 2.852,0.309 2.910,0.000 2.952,-0.309 2.979,-0.588 2.994,-0.809 2.999,-0.951 3.000,-1.000 3.500,-1.000 3.499,-0.951 3.494,-0.809 3.479,-0.588 3.452,-0.309 3.410,0.000 3.352,0.309 3.279,0.588 3.194,0.809 3.099,0.951 3.000,1.000ZM3.500,1.000 3.599,0.951 3.694,0.809 3.779,0.588 3.852,0.309 3.910,0.000 3.952,-0.309 3.979,-0.588 3.994,-0.809 3.999,-0.951 4.000,-1.000 4.500,-1.000 4.499,-0.951 4.494,-0.809 4.479,-0.588 4.452,-0.309 4.410,0.000 4.352,0.309 4.279,0.588 4.194,0.809 4.099,0.951 4.000,1.000ZM4.500,1.000 4.599,0.951 4.694,0.809 4.779,0.588 4.852,0.309 4.910,0.000 4.952,-0.309 4.979,-0.588 4.994,-0.809 4.999,-0.951 5.000,-1.000 5.500,-1.000 5.499,-0.951 5.494,-0.809 5.479,-0.588 5.452,-0.309 5.410,0.000 5.352,0.309 5.279,0.588 5.194,0.809 5.099,0.951 5.000,1.000Z" fill="url(#pb)" stroke="#98687a" stroke-width="0.8" vector-effect="non-scaling-stroke"/>
<path d="M0.000,-1.000 0.001,-0.951 0.006,-0.809 0.021,-0.588 0.048,-0.309 0.090,-0.000 0.148,0.309 0.221,0.588 0.306,0.809 0.401,0.951 0.500,1.000 1.100,1.000 1.001,0.951 0.906,0.809 0.821,0.588 0.748,0.309 0.690,-0.000 0.648,-0.309 0.621,-0.588 0.606,-0.809 0.601,-0.951 0.600,-1.000ZM1.000,-1.000 1.001,-0.951 1.006,-0.809 1.021,-0.588 1.048,-0.309 1.090,-0.000 1.148,0.309 1.221,0.588 1.306,0.809 1.401,0.951 1.500,1.000 2.100,1.000 2.001,0.951 1.906,0.809 1.821,0.588 1.748,0.309 1.690,-0.000 1.648,-0.309 1.621,-0.588 1.606,-0.809 1.601,-0.951 1.600,-1.000ZM2.000,-1.000 2.001,-0.951 2.006,-0.809 2.021,-0.588 2.048,-0.309 2.090,-0.000 2.148,0.309 2.221,0.588 2.306,0.809 2.401,0.951 2.500,1.000 3.100,1.000 3.001,0.951 2.906,0.809 2.821,0.588 2.748,0.309 2.690,-0.000 2.648,-0.309 2.621,-0.588 2.606,-0.809 2.601,-0.951 2.600,-1.000ZM3.000,-1.000 3.001,-0.951 3.006,-0.809 3.021,-0.588 3.048,-0.309 3.090,-0.000 3.148,0.309 3.221,0.588 3.306,0.809 3.401,0.951 3.500,1.000 4.100,1.000 4.001,0.951 3.906,0.809 3.821,0.588 3.748,0.309 3.690,-0.000 3.648,-0.309 3.621,-0.588 3.606,-0.809 3.601,-0.951 3.600,-1.000ZM4.000,-1.000 4.001,-0.951 4.006,-0.809 4.021,-0.588 4.048,-0.309 4.090,-0.000 4.148,0.309 4.221,0.588 4.306,0.809 4.401,0.951 4.500,1.000 5.100,1.000 5.001,0.951 4.906,0.809 4.821,0.588 4.748,0.309 4.690,-0.000 4.648,-0.309 4.621,-0.588 4.606,-0.809 4.601,-0.951 4.600,-1.000ZM5.000,-1.000 5.001,-0.951 5.006,-0.809 5.021,-0.588 5.048,-0.309 5.090,-0.000 5.148,0.309 5.221,0.588 5.306,0.809 5.401,0.951 5.500,1.000 6.100,1.000 6.001,0.951 5.906,0.809 5.821,0.588 5.748,0.309 5.690,-0.000 5.648,-0.309 5.621,-0.588 5.606,-0.809 5.601,-0.951 5.600,-1.000Z" fill="url(#pf)" stroke="#98687a" stroke-width="0.8" vector-effect="non-scaling-stroke"/>
</symbol><symbol id="hb6" overflow="visible">
<path d="M0.500,1.000 0.599,0.951 0.694,0.809 0.779,0.588 0.852,0.309 0.910,0.000 0.952,-0.309 0.979,-0.588 0.994,-0.809 0.999,-0.951 1.000,-1.000 1.500,-1.000 1.499,-0.951 1.494,-0.809 1.479,-0.588 1.452,-0.309 1.410,0.000 1.352,0.309 1.279,0.588 1.194,0.809 1.099,0.951 1.000,1.000ZM1.500,1.000 1.599,0.951 1.694,0.809 1.779,0.588 1.852,0.309 1.910,0.000 1.952,-0.309 1.979,-0.588 1.994,-0.809 1.999,-0.951 2.000,-1.000 2.500,-1.000 2.499,-0.951 2.494,-0.809 2.479,-0.588 2.452,-0.309 2.410,0.000 2.352,0.309 2.279,0.588 2.194,0.809 2.099,0.951 2.000,1.000ZM2.500,1.000 2.599,0.951 2.694,0.809 2.779,0.588 2.852,0.309 2.910,0.000 2.952,-0.309 2.979,-0.588 2.994,-0.809 2.999,-0.951 3.000,-1.000 3.500,-1.000 3.499,-0.951 3.494,-0.809 3.479,-0.588 3.452,-0.309 3.410,0.000 3.352,0.309 3.279,0.588 3.194,0.809 3.099,0.951 3.000,1.000ZM3.500,1.000 3.599,0.951 3.694,0.809 3.779,0.588 3.852,0.309 3.910,0.000 3.952,-0.309 3.979,-0.588 3.994,-0.809 3.999,-0.951 4.000,-1.000 4.500,-1.000 4.499,-0.951 4.494,-0.809 4.479,-0.588 4.452,-0.309 4.410,0.000 4.352,0.309 4.279,0.588 4.194,0.809 4.099,0.951 4.000,1.000ZM4.500,1.000 4.599,0.951 4.694,0.809 4.779,0.588 4.852,0.309 4.910,0.000 4.952,-0.309 4.979,-0.588 4.994,-0.809 4.999,-0.951 5.000,-1.000 5.500,-1.000 5.499,-0.951 5.494,-0.809 5.479,-0.588 5.452,-0.309 5.410,0.000 5.352,0.309 5.279,0.588 5.194,0.809 5.099,0.951 5.000,1.000Z" fill="url(#bb)" stroke="#000050" stroke-width="0.8" vector-effect="non-scaling-stroke"/>
<path d="M0.000,-1.000 0.001,-0.951 0.006,-0.809 0.021,-0.588 0.048,-0.309 0.090,-0.000 0.148,0.309 0.221,0.588 0.306,0.809 0.401,0.951 0.500,1.000 1.100,1.000 1.001,0.951 0.906,0.809 0.821,0.588 0.748,0.309 0.690,-0.000 0.648,-0.309 0.621,-0.588 0.606,-0.809 0.601,-0.951 0.600,-1.000ZM1.000,-1.000 1.001,-0.951 1.006,-0.809 1.021,-0.588 1.048,-0.309 1.090,-0.000 1.148,0.309 1.221,0.588 1.306,0.809 1.401,0.951 1.500,1.000 2.100,1.000 2.001,0.951 1.906,0.809 1.821,0.588 1.748,0.309 1.690,-0.000 1.648,-0.309 1.621,-0.588 1.606,-0.809 1.601,-0.951 1.600,-1.000ZM2.000,-1.000 2.001,-0.951 2.006,-0.809 2.021,-0.588 2.048,-0.309 2.090,-0.000 2.148,0.309 2.221,0.588 2.306,0.809 2.401,0.951 2.500,1.000 3.100,1.000 3.001,0.951 2.906,0.809 2.821,0.588 2.748,0.309 2.690,-0.000 2.648,-0.309 2.621,-0.588 2.606,-0.809 2.601,-0.951 2.600,-1.000ZM3.000,-1.000 3.001,-0.951 3.006,-0.809 3.021,-0.588 3.048,-0.309 3.090,-0.000 3.148,0.309 3.221,0.588 3.306,0.809 3.401,0.951 3.500,1.000 4.100,1.000 4.001,0.951 3.906,0.809 3.821,0.588 3.748,0.309 3.690,-0.000 3.648,-0.309 3.621,-0.588 3.606,-0.809 3.601,-0.951 3.600,-1.000ZM4.000,-1.000 4.001,-0.951 4.006,-0.809 4.021,-0.588 4.048,-0.309 4.090,-0.000 4.148,0.309 4.221,0.588 4.306,0.809 4.401,0.951 4.500,1.000 5.100,1.000 5.001,0.951 4.906,0.809 4.821,0.588 4.748,0.309 4.690,-0.000 4.648,-0.309 4.621,-0.588 4.606,-0.809 4.601,-0.951 4.600,-1.000ZM5.000,-1.000 5.001,-0.951 5.006,-0.809 5.021,-0.588 5.048,-0.309 5.090,-0.000 5.148,0.309 5.221,0.588 5.306,0.809 5.401,0.951 5.500,1.000 6.100,1.000 6.001,0.951 5.906,0.809 5.821,0.588 5.748,0.309 5.690,-0.000 5.648,-0.309 5.621,-0.588 5.606,-0.809 5.601,-0.951 5.600,-1.000Z" fill="url(#bf)" stroke="#000050" stroke-width="0.8" vector-effect="non-scaling-stroke"/>
</symbol><symbol id="hl7" overflow="visible">
<path d="M0.500,1.000 0.599,0.951 0.694,0.809 0.779,0.588 0.852,0.309 0.910,0.000 0.952,-0.309 0.979,-0.588 0.994,-0.809 0.999,-0.951 1.000,-1.000 1.500,-1.000 1.499,-0.951 1.494,-0.809 1.479,-0.588 1.452,-0.309 1.410,0.000 1.352,0.309 1.279,0.588 1.194,0.809 1.099,0.951 1.000,1.000ZM1.500,1.000 1.599,0.951 1.694,0.809 1.779,0.588 1.852,0.309 1.910,0.000 1.952,-0.309 1.979,-0.588 1.994,-0.809 1.999,-0.951 2.000,-1.000 2.500,-1.000 2.499,-0.951 2.494,-0.809 2.479,-0.588 2.452,-0.309 2.410,0.000 2.352,0.309 2.279,0.588 2.194,0.809 2.099,0.951 2.000,1.000ZM2.500,1.000 2.599,0.951 2.694,0.809 2.779,0.588 2.852,0.309 2.910,0.000 2.952,-0.309 2.979,-0.588 2.994,-0.809 2.999,-0.951 3.000,-1.000 3.500,-1.000 3.499,-0.951 3.494,-0.809 3.479,-0.588 3.452,-0.309 3.410,0.000 3.352,0.309 3.279,0.588 3.194,0.809 3.099,0.951 3.000,1.000ZM3.500,1.000 3.599,0.951 3.694,0.809 3.779,0.588 3.852,0.309 3.910,0.000 3.952,-0.309 3.979,-0.588 3.994,-0.809 3.999,-0.951 4.000,-1.000 4.500,-1.000 4.499,-0.951 4.494,-0.809 4.479,-0.588 4.452,-0.309 4.410,0.000 4.352,0.309 4.279,0.588 4.194,0.809 4.099,0.951 4.000,1.000ZM4.500,1.000 4.599,0.951 4.694,0.809 4.779,0.588 4.852,0.309 4.910,0.000 4.952,-0.309 4.979,-0.588 4.994,-0.809 4.999,-0.951 5.000,-1.000 5.500,-1.000 5.499,-0.951 5.494,-0.809 5.479,-0.588 5.452,-0.309 5.410,0.000 5.352,0.309 5.279,0.588 5.194,0.809 5.099,0.951 5.000,1.000ZM5.500,1.000 5.599,0.951 5.694,0.809 5.779,0.588 5.852,0.309 5.910,0.000 5.952,-0.309 5.979,-0.588 5.994,-0.809 5.999,-0.951 6.000,-1.000 6.500,-1.000 6.499,-0.951 6.494,-0.809 6.479,-0.588 6.452,-0.309 6.410,0.000 6.352,0.309 6.279,0.588 6.194,0.809 6.099,0.951 6.000,1.000Z" fill="url(#lb)" stroke="#55578a" stroke-width="0.8" vector-effect="non-scaling-stroke"/>
<path d="M0.000,-1.000 0.001,-0.951 0.006,-0.809 0.021,-0.588 0.048,-0.309 0.090,-0.000 0.148,0.309 0.221,0.588 0.306,0.809 0.401,0.951 0.500,1.000 1.100,1.000 1.001,0.951 0.906,0.809 0.821,0.588 0.748,0.309 0.690,-0.000 0.648,-0.309 0.621,-0.588 0.606,-0.809 0.601,-0.951 0.600,-1.000ZM1.000,-1.000 1.001,-0.951 1.006,-0.809 1.021,-0.588 1.048,-0.309 1.090,-0.000 1.148,0.309 1.221,0.588 1.306,0.809 1.401,0.951 1.500,1.000 2.100,1.000 2.001,0.951 1.906,0.809 1.821,0.588 1.748,0.309 1.690,-0.000 1.648,-0.309 1.621,-0.588 1.606,-0.809 1.601,-0.951 1.600,-1.000ZM2.000,-1.000 2.001,-0.951 2.006,-0.809 2.021,-0.588 2.048,-0.309 2.090,-0.000 2.148,0.309 2.221,0.588 2.306,0.809 2.401,0.951 2.500,1.000 3.100,1.000 3.001,0.951 2.906,0.809 2.821,0.588 2.748,0.309 2.690,-0.000 2.648,-0.309 2.621,-0.588 2.606,-0.809 2.601,-0.951 2.600,-1.000ZM3.000,-1.000 3.001,-0.951 3.006,-0.809 3.021,-0.588 3.048,-0.309 3.090,-0.000 3.148,0.309 3.221,0.588 3.306,0.809 3.401,0.951 3.500,1.000 4.100,1.000 4.001,0.951 3.906,0.809 3.821,0.588 3.748,0.309 3.690,-0.000 3.648,-0.309 3.621,-0.588 3.606,-0.809 3.601,-0.951 3.600,-1.000ZM4.000,-1.000 4.001,-0.951 4.006,-0.809 4.021,-0.588 4.048,-0.309 4.090,-0.000 4.148,0.309 4.221,0.588 4.306,0.809 4.401,0.951 4.500,1.000 5.100,1.000 5.001,0.951 4.906,0.809 4.821,0.588 4.748,0.309 4.690,-0.000 4.648,-0.309 4.621,-0.588 4.606,-0.809 4.601,-0.951 4.600,-1.000ZM5.000,-1.000 5.001,-0.951 5.006,-0.809 5.021,-0.588 5.048,-0.309 5.090,-0.000 5.148,0.309 5.221,0.588 5.306,0.809 5.401,0.951 5.500,1.000 6.100,1.000 6.001,0.951 5.906,0.809 5.821,0.588 5.748,0.309 5.690,-0.000 5.648,-0.309 5.621,-0.588 5.606,-0.809 5.601,-0.951 5.600,-1.000ZM6.000,-1.000 6.001,-0.951 6.006,-0.809 6.021,-0.588 6.048,-0.309 6.090,-0.000 6.148,0.309 6.221,0.588 6.306,0.809 6.401,0.951 6.500,1.000 7.100,1.000 7.001,0.951 6.906,0.809 6.821,0.588 6.748,0.309 6.690,-0.000 6.648,-0.309 6.621,-0.588 6.606,-0.809 6.601,-0.951 6.600,-1.000Z" fill="url(#lf)" stroke="#55578a" stroke-width="0.8" vector-effect="non-scaling-stroke"/>
</symbol><symbol id="hp7" overflow="visible">
<path d="M0.500,1.000 0.599,0.951 0.694,0.809 0.779,0.588 0.852,0.309 0.910,0.000 0.952,-0.309 0.979,-0.588 0.994,-0.809 0.999,-0.951 1.000,-1.000 1.500,-1.000 1.499,-0.951 1.494,-0.809 1.479,-0.588 1.452,-0.309 1.410,0.000 1.352,0.309 1.279,0.588 1.194,0.809 1.099,0.951 1.000,1.000ZM1.500,1.000 1.599,0.951 1.694,0.809 1.779,0.588 1.852,0.309 1.910,0.000 1.952,-0.309 1.979,-0.588 1.994,-0.809 1.999,-0.951 2.000,-1.000 2.500,-1.000 2.499,-0.951 2.494,-0.809 2.479,-0.588 2.452,-0.309 2.410,0.000 2.352,0.309 2.279,0.588 2.194,0.809 2.099,0.951 2.000,1.000ZM2.500,1.000 2.599,0.951 2.694,0.809 2.779,0.588 2.852,0.309 2.910,0.000 2.952,-0.309 2.979,-0.588 2.994,-0.809 2.999,-0.951 3.000,-1.000 3.500,-1.000 3.499,-0.951 3.494,-0.809 3.479,-0.588 3.452,-0.309 3.410,0.000 3.352,0.309 3.279,0.588 3.194,0.809 3.099,0.951 3.000,1.000ZM3.500,1.000 3.599,0.951 3.694,0.809 3.779,0.588 3.852,0.309 3.910,0.000 3.952,-0.309 3.979,-0.588 3.994,-0.809 3.999,-0.951 4.000,-1.000 4.500,-1.000 4.499,-0.951 4.494,-0.809 4.479,-0.588 4.452,-0.309 4.410,0.000 4.352,0.309 4.279,0.588 4.194,0.809 4.099,0.951 4.000,1.000ZM4.500,1.000 4.599,0.951 4.694,0.809 4.779,0.588 4.852,0.309 4.910,0.000 4.952,-0.309 4.979,-0.588 4.994,-0.809 4.999,-0.951 5.000,-1.000 5.500,-1.000 5.499,-0.951 5.494,-0.809 5.479,-0.588 5.452,-0.309 5.410,0.000 5.352,0.309 5.279,0.588 5.194,0.809 5.099,0.951 5.000,1.000ZM5.500,1.000 5.599,0.951 5.694,0.809 5.779,0.588 5.852,0.309 5.910,0.000 5.952,-0.309 5.979,-0.588 5.994,-0.809 5.999,-0.951 6.000,-1.000 6.500,-1.000 6.499,-0.951 6.494,-0.809 6.479,-0.588 6.452,-0.309 6.410,0.000 6.352,0.309 6.279,0.588 6.194,0.809 6.099,0.951 6.000,1.000Z" fill="url(#pb)" stroke="#98687a" stroke-width="0.8" vector-effect="non-scaling-stroke"/>
<path d="M0.000,-1.000 0.001,-0.951 0.006,-0.809 0.021,-0.588 0.048,-0.309 0.090,-0.000 0.148,0.309 0.221,0.588 0.306,0.809 0.401,0.951 0.500,1.000 1.100,1.000 1.001,0.951 0.906,0.809 0.821,0.588 0.748,0.309 0.690,-0.000 0.648,-0.309 0.621,-0.588 0.606,-0.809 0.601,-0.951 0.600,-1.000ZM1.000,-1.000 1.001,-0.951 1.006,-0.809 1.021,-0.588 1.048,-0.309 1.090,-0.000 1.148,0.309 1.221,0.588 1.306,0.809 1.401,0.951 1.500,1.000 2.100,1.000 2.001,0.951 1.906,0.809 1.821,0.588 1.748,0.309 1.690,-0.000 1.648,-0.309 1.621,-0.588 1.606,-0.809 1.601,-0.951 1.600,-1.000ZM2.000,-1.000 2.001,-0.951 2.006,-0.809 2.021,-0.588 2.048,-0.309 2.090,-0.000 2.148,0.309 2.221,0.588 2.306,0.809 2.401,0.951 2.500,1.000 3.100,1.000 3.001,0.951 2.906,0.809 2.821,0.588 2.748,0.309 2.690,-0.000 2.648,-0.309 2.621,-0.588 2.606,-0.809 2.601,-0.951 2.600,-1.000ZM3.000,-1.000 3.001,-0.951 3.006,-0.809 3.021,-0.588 3.048,-0.309 3.090,-0.000 3.148,0.309 3.221,0.588 3.306,0.809 3.401,0.951 3.500,1.000 4.100,1.000 4.001,0.951 3.906,0.809 3.821,0.588 3.748,0.309 3.690,-0.000 3.648,-0.309 3.621,-0.588 3.606,-0.809 3.601,-0.951 3.600,-1.000ZM4.000,-1.000 4.001,-0.951 4.006,-0.809 4.021,-0.588 4.048,-0.309 4.090,-0.000 4.148,0.309 4.221,0.588 4.306,0.809 4.401,0.951 4.500,1.000 5.100,1.000 5.001,0.951 4.906,0.809 4.821,0.588 4.748,0.309 4.690,-0.000 4.648,-0.309 4.621,-0.588 4.606,-0.809 4.601,-0.951 4.600,-1.000ZM5.000,-1.000 5.001,-0.951 5.006,-0.809 5.021,-0.588 5.048,-0.309 5.090,-0.000 5.148,0.309 5.221,0.588 5.306,0.809 5.401,0.951 5.500,1.000 6.100,1.000 6.001,0.951 5.906,0.809 5.821,0.588 5.748,0.309 5.690,-0.000 5.648,-0.309 5.621,-0.588 5.606,-0.809 5.601,-0.951 5.600,-1.000ZM6.000,-1.000 6.001,-0.951 6.006,-0.809 6.021,-0.588 6.048,-0.309 6.090,-0.000 6.148,0.309 6.221,0.588 6.306,0.809 6.401,0.951 6.500,1.000 7.100,1.000 7.001,0.951 6.906,0.809 6.821,0.588 6.748,0.309 6.690,-0.000 6.648,-0.309 6.621,-0.588 6.606,-0.809 6.601,-0.951 6.600,-1.000Z" fill="url(#pf)" stroke="#98687a" stroke-width="0.8" vector-effect="non-scaling-stroke"/>
</symbol><symbol id="hb7" overflow="visible">
<path d="M0.500,1.000 0.599,0.951 0.694,0.809 0.779,0.588 0.852,0.309 0.910,0.000 0.952,-0.309 0.979,-0.588 0.994,-0.809 0.999,-0.951 1.000,-1.000 1.500,-1.000 1.499,-0.951 1.494,-0.809 1.479,-0.588 1.452,-0.309 1.410,0.000 1.352,0.309 1.279,0.588 1.194,0.809 1.099,0.951 1.000,1.000ZM1.500,1.000 1.599,0.951 1.694,0.809 1.779,0.588 1.852,0.309 1.910,0.000 1.952,-0.309 1.979,-0.588 1.994,-0.809 1.999,-0.951 2.000,-1.000 2.500,-1.000 2.499,-0.951 2.494,-0.809 2.479,-0.588 2.452,-0.309 2.410,0.000 2.352,0.309 2.279,0.588 2.194,0.809 2.099,0.951 2.000,1.000ZM2.500,1.000 2.599,0.951 2.694,0.809 2.779,0.588 2.852,0.309 2.910,0.000 2.952,-0.309 2.979,-0.588 2.994,-0.809 2.999,-0.951 3.000,-1.000 3.500,-1.000 3.499,-0.951 3.494,-0.809 3.479,-0.588 3.452,-0.309 3.410,0.000 3.352,0.309 3.279,0.588 3.194,0.809 3.099,0.951 3.000,1.000ZM3.500,1.000 3.599,0.951 3.694,0.809 3.779,0.588 3.852,0.309 3.910,0.000 3.952,-0.309 3.979,-0.588 3.994,-0.809 3.999,-0.951 4.000,-1.000 4.500,-1.000 4.499,-0.951 4.494,-0.809 4.479,-0.588 4.452,-0.309 4.410,0.000 4.352,0.309 4.279,0.588 4.194,0.809 4.099,0.951 4.000,1.000ZM4.500,1.000 4.599,0.951 4.694,0.809 4.779,0.588 4.852,0.309 4.910,0.000 4.952,-0.309 4.979,-0.588 4.994,-0.809 4.999,-0.951 5.000,-1.000 5.500,-1.000 5.499,-0.951 5.494,-0.809 5.479,-0.588 5.452,-0.309 5.410,0.000 5.352,0.309 5.279,0.588 5.194,0.809 5.099,0.951 5.000,1.000ZM5.500,1.000 5.599,0.951 5.694,0.809 5.779,0.588 5.852,0.309 5.910,0.000 5.952,-0.309 5.979,-0.588 5.994,-0.809 5.999,-0.951 6.000,-1.000 6.500,-1.000 6.499,-0.951 6.494,-0.809 6.479,-0.588 6.452,-0.309 6.410,0.000 6.352,0.309 6.279,0.588 6.194,0.809 6.099,0.951 6.000,1.000Z" fill="url(#bb)" stroke="#000050" stroke-width="0.8" vector-effect="non-scaling-stroke"/>
<path d="M0.000,-1.000 0.001,-0.951 0.006,-0.809 0.021,-0.588 0.048,-0.309 0.090,-0.000 0.148,0.309 0.221,0.588 0.306,0.809 0.401,0.951 0.500,1.000 1.100,1.000 1.001,0.951 0.906,0.809 0.821,0.588 0.748,0.309 0.690,-0.000 0.648,-0.309 0.621,-0.588 0.606,-0.809 0.601,-0.951 0.600,-1.000ZM1.000,-1.000 1.001,-0.951 1.006,-0.809 1.021,-0.588 1.048,-0.309 1.090,-0.000 1.148,0.309 1.221,0.588 1.306,0.809 1.401,0.951 1.500,1.000 2.100,1.000 2.001,0.951 1.906,0.809 1.821,0.588 1.748,0.309 1.690,-0.000 1.648,-0.309 1.621,-0.588 1.606,-0.809 1.601,-0.951 1.600,-1.000ZM2.000,-1.000 2.001,-0.951 2.006,-0.809 2.021,-0.588 2.048,-0.309 2.090,-0.000 2.148,0.309 2.221,0.588 2.306,0.809 2.401,0.951 2.500,1.000 3.100,1.000 3.001,0.951 2.906,0.809 2.821,0.588 2.748,0.309 2.690,-0.000 2.648,-0.309 2.621,-0.588 2.606,-0.809 2.601,-0.951 2.600,-1.000ZM3.000,-1.000 3.001,-0.951 3.006,-0.809 3.021,-0.588 3.048,-0.309 3.090,-0.000 3.148,0.309 3.221,0.588 3.306,0.809 3.401,0.951 3.500,1.000 4.100,1.000 4.001,0.951 3.906,0.809 3.821,0.588 3.748,0.309 3.690,-0.000 3.648,-0.309 3.621,-0.588 3.606,-0.809 3.601,-0.951 3.600,-1.000ZM4.000,-1.000 4.001,-0.951 4.006,-0.809 4.021,-0.588 4.048,-0.309 4.090,-0.000 4.148,0.309 4.221,0.588 4.306,0.809 4.401,0.951 4.500,1.000 5.100,1.000 5.001,0.951 4.906,0.809 4.821,0.588 4.748,0.309 4.690,-0.000 4.648,-0.309 4.621,-0.588 4.606,-0.809 4.601,-0.951 4.600,-1.000ZM5.000,-1.000 5.001,-0.951 5.006,-0.809 5.021,-0.588 5.048,-0.309 5.090,-0.000 5.148,0.309 5.221,0.588 5.306,0.809 5.401,0.951 5.500,1.000 6.100,1.000 6.001,0.951 5.906,0.809 5.821,0.588 5.748,0.309 5.690,-0.000 5.648,-0.309 5.621,-0.588 5.606,-0.809 5.601,-0.951 5.600,-1.000ZM6.000,-1.000 6.001,-0.951 6.006,-0.809 6.021,-0.588 6.048,-0.309 6.090,-0.000 6.148,0.309 6.221,0.588 6.306,0.809 6.401,0.951 6.500,1.000 7.100,1.000 7.001,0.951 6.906,0.809 6.821,0.588 6.748,0.309 6.690,-0.000 6.648,-0.309 6.621,-0.588 6.606,-0.809 6.601,-0.951 6.600,-1.000Z" fill="url(#bf)" stroke="#000050" stroke-width="0.8" vector-effect="non-scaling-stroke"/>
</symbol><symbol id="hl8" overflow="visible">
<path d="M0.500,1.000 0.599,0.951 0.694,0.809 0.779,0.588 0.852,0.309 0.910,0.000 0.952,-0.309 0.979,-0.588 0.994,-0.809 0.999,-0.951 1.000,-1.000 1.500,-1.000 1.499,-0.951 1.494,-0.809 1.479,-0.588 1.452,-0.309 1.410,0.000 1.352,0.309 1.279,0.588 1.194,0.809 1.099,0.951 1.000,1.000ZM1.500,1.000 1.599,0.951 1.694,0.809 1.779,0.588 1.852,0.309 1.910,0.000 1.952,-0.309 1.979,-0.588 1.994,-0.809 1.999,-0.951 2.000,-1.000 2.500,-1.000 2.499,-0.951 2.494,-0.809 2.479,-0.588 2.452,-0.309 2.410,0.000 2.352,0.309 2.279,0.588 2.194,0.809 2.099,0.951 2.000,1.000ZM2.500,1.000 2.599,0.951 2.694,0.809 2.779,0.588 2.852,0.309 2.910,0.000 2.952,-0.309 2.979,-0.588 2.994,-0.809 2.999,-0.951 3.000,-1.000 3.500,-1.000 3.499,-0.951 3.494,-0.809 3.479,-0.588 3.452,-0.309 3.410,0.000 3.352,0.309 3.279,0.588 3.194,0.809 3.099,0.951 3.000,1.000ZM3.500,1.000 3.599,0.951 3.694,0.809 3.779,0.588 3.852,0.309 3.910,0.000 3.952,-0.309 3.979,-0.588 3.994,-0.809 3.999,-0.951 4.000,-1.000 4.500,-1.000 4.499,-0.951 4.494,-0.809 4.479,-0.588 4.452,-0.309 4.410,0.000 4.352,0.309 4.279,0.588 4.194,0.809 4.099,0.951 4.000,1.000ZM4.500,1.000 4.599,0.951 4.694,0.809 4.779,0.588 4.852,0.309 4.910,0.000 4.952,-0.309 4.979,-0.588 4.994,-0.809 4.999,-0.951 5.000,-1.000 5.500,-1.000 5.499,-0.951 5.494,-0.809 5.479,-0.588 5.452,-0.309 5.410,0.000 5.352,0.309 5.279,0.588 5.194,0.809 5.099,0.951 5.000,1.000ZM5.500,1.000 5.599,0.951 5.694,0.809 5.779,0.588 5.852,0.309 5.910,0.000 5.952,-0.309 5.979,-0.588 5.994,-0.809 5.999,-0.951 6.000,-1.000 6.500,-1.000 6.499,-0.951 6.494,-0.809 6.479,-0.588 6.452,-0.309 6.410,0.000 6.352,0.309 6.279,0.588 6.194,0.809 6.099,0.951 6.000,1.000ZM6.500,1.000 6.599,0.951 6.694,0.809 6.779,0.588 6.852,0.309 6.910,0.000 6.952,-0.309 6.979,-0.588 6.994,-0.809 6.999,-0.951 7.000,-1.000 7.500,-1.000 7.499,-0.951 7.494,-0.809 7.479,-0.588 7.452,-0.309 7.410,0.000 7.352,0.309 7.279,0.588 7.194,0.809 7.099,0.951 7.000,1.000Z" fill="url(#lb)" stroke="#55578a" stroke-width="0.8" vector-effect="non-scaling-stroke"/>
<path d="M0.000,-1.000 0.001,-0.951 0.006,-0.809 0.021,-0.588 0.048,-0.309 0.090,-0.000 0.148,0.309 0.221,0.588 0.306,0.809 0.401,0.951 0.500,1.000 1.100,1.000 1.001,0.951 0.906,0.809 0.821,0.588 0.748,0.309 0.690,-0.000 0.648,-0.309 0.621,-0.588 0.606,-0.809 0.601,-0.951 0.600,-1.000ZM1.000,-1.000 1.001,-0.951 1.006,-0.809 1.021,-0.588 1.048,-0.309 1.090,-0.000 1.148,0.309 1.221,0.588 1.306,0.809 1.401,0.951 1.500,1.000 2.100,1.000 2.001,0.951 1.906,0.809 1.821,0.588 1.748,0.309 1.690,-0.000 1.648,-0.309 1.621,-0.588 1.606,-0.809 1.601,-0.951 1.600,-1.000ZM2.000,-1.000 2.001,-0.951 2.006,-0.809 2.021,-0.588 2.048,-0.309 2.090,-0.000 2.148,0.309 2.221,0.588 2.306,0.809 2.401,0.951 2.500,1.000 3.100,1.000 3.001,0.951 2.906,0.809 2.821,0.588 2.748,0.309 2.690,-0.000 2.648,-0.309 2.621,-0.588 2.606,-0.809 2.601,-0.951 2.600,-1.000ZM3.000,-1.000 3.001,-0.951 3.006,-0.809 3.021,-0.588 3.048,-0.309 3.090,-0.000 3.148,0.309 3.221,0.588 3.306,0.809 3.401,0.951 3.500,1.000 4.100,1.000 4.001,0.951 3.906,0.809 3.821,0.588 3.748,0.309 3.690,-0.000 3.648,-0.309 3.621,-0.588 3.606,-0.809 3.601,-0.951 3.600,-1.000ZM4.000,-1.000 4.001,-0.951 4.006,-0.809 4.021,-0.588 4.048,-0.309 4.090,-0.000 4.148,0.309 4.221,0.588 4.306,0.809 4.401,0.951 4.500,1.000 5.100,1.000 5.001,0.951 4.906,0.809 4.821,0.588 4.748,0.309 4.690,-0.000 4.648,-0.309 4.621,-0.588 4.606,-0.809 4.601,-0.951 4.600,-1.000ZM5.000,-1.000 5.001,-0.951 5.006,-0.809 5.021,-0.588 5.048,-0.309 5.090,-0.000 5.148,0.309 5.221,0.588 5.306,0.809 5.401,0.951 5.500,1.000 6.100,1.000 6.001,0.951 5.906,0.809 5.821,0.588 5.748,0.309 5.690,-0.000 5.648,-0.309 5.621,-0.588 5.606,-0.809 5.601,-0.951 5.600,-1.000ZM6.000,-1.000 6.001,-0.951 6.006,-0.809 6.021,-0.588 6.048,-0.309 6.090,-0.000 6.148,0.309 6.221,0.588 6.306,0.809 6.401,0.951 6.500,1.000 7.100,1.000 7.001,0.951 6.906,0.809 6.821,0.588 6.748,0.309 6.690,-0.000 6.648,-0.309 6.621,-0.588 6.606,-0.809 6.601,-0.951 6.600,-1.000ZM7.000,-1.000 7.001,-0.951 7.006,-0.809 7.021,-0.588 7.048,-0.309 7.090,-0.000 7.148,0.309 7.221,0.588 7.306,0.809 7.401,0.951 7.500,1.000 8.100,1.000 8.001,0.951 7.906,0.809 7.821,0.588 7.748,0.309 7.690,-0.000 7.648,-0.309 7.621,-0.588 7.606,-0.809 7.601,-0.951 7.600,-1.000Z" fill="url(#lf)" stroke="#55578a" stroke-width="0.8" vector-effect="non-scaling-stroke"/>
</symbol><symbol id="hp8" overflow="visible">
<path d="M0.500,1.000 0.599,0.951 0.694,0.809 0.779,0.588 0.852,0.309 0.910,0.000 0.952,-0.309 0.979,-0.588 0.994,-0.809 0.999,-0.951 1.000,-1.000 1.500,-1.000 1.499,-0.951 1.494,-0.809 1.479,-0.588 1.452,-0.309 1.410,0.000 1.352,0.309 1.279,0.588 1.194,0.809 1.099,0.951 1.000,1.000ZM1.500,1.000 1.599,0.951 1.694,0.809 1.779,0.588 1.852,0.309 1.910,0.000 1.952,-0.309 1.979,-0.588 1.994,-0.809 1.999,-0.951 2.000,-1.000 2.500,-1.000 2.499,-0.951 2.494,-0.809 2.479,-0.588 2.452,-0.309 2.410,0.000 2.352,0.309 2.279,0.588 2.194,0.809 2.099,0.951 2.000,1.000ZM2.500,1.000 2.599,0.951 2.694,0.809 2.779,0.588 2.852,0.309 2.910,0.000 2.952,-0.309 2.979,-0.588 2.994,-0.809 2.999,-0.951 3.000,-1.000 3.500,-1.000 3.499,-0.951 3.494,-0.809 3.479,-0.588 3.452,-0.309 3.410,0.000 3.352,0.309 3.279,0.588 3.194,0.809 3.099,0.951 3.000,1.000ZM3.500,1.000 3.599,0.951 3.694,0.809 3.779,0.588 3.852,0.309 3.910,0.000 3.952,-0.309 3.979,-0.588 3.994,-0.809 3.999,-0.951 4.000,-1.000 4.500,-1.000 4.499,-0.951 4.494,-0.809 4.479,-0.588 4.452,-0.309 4.410,0.000 4.352,0.309 4.279,0.588 4.194,0.809 4.099,0.951 4.000,1.000ZM4.500,1.000 4.599,0.951 4.694,0.809 4.779,0.588 4.852,0.309 4.910,0.000 4.952,-0.309 4.979,-0.588 4.994,-0.809 4.999,-0.951 5.000,-1.000 5.500,-1.000 5.499,-0.951 5.494,-0.809 5.479,-0.588 5.452,-0.309 5.410,0.000 5.352,0.309 5.279,0.588 5.194,0.809 5.099,0.951 5.000,1.000ZM5.500,1.000 5.599,0.951 5.694,0.809 5.779,0.588 5.852,0.309 5.910,0.000 5.952,-0.309 5.979,-0.588 5.994,-0.809 5.999,-0.951 6.000,-1.000 6.500,-1.000 6.499,-0.951 6.494,-0.809 6.479,-0.588 6.452,-0.309 6.410,0.000 6.352,0.309 6.279,0.588 6.194,0.809 6.099,0.951 6.000,1.000ZM6.500,1.000 6.599,0.951 6.694,0.809 6.779,0.588 6.852,0.309 6.910,0.000 6.952,-0.309 6.979,-0.588 6.994,-0.809 6.999,-0.951 7.000,-1.000 7.500,-1.000 7.499,-0.951 7.494,-0.809 7.479,-0.588 7.452,-0.309 7.410,0.000 7.352,0.309 7.279,0.588 7.194,0.809 7.099,0.951 7.000,1.000Z" fill="url(#pb)" stroke="#98687a" stroke-width="0.8" vector-effect="non-scaling-stroke"/>
<path d="M0.000,-1.000 0.001,-0.951 0.006,-0.809 0.021,-0.588 0.048,-0.309 0.090,-0.000 0.148,0.309 0.221,0.588 0.306,0.809 0.401,0.951 0.500,1.000 1.100,1.000 1.001,0.951 0.906,0.809 0.821,0.588 0.748,0.309 0.690,-0.000 0.648,-0.309 0.621,-0.588 0.606,-0.809 0.601,-0.951 0.600,-1.000ZM1.000,-1.000 1.001,-0.951 1.006,-0.809 1.021,-0.588 1.048,-0.309 1.090,-0.000 1.148,0.309 1.221,0.588 1.306,0.809 1.401,0.951 1.500,1.000 2.100,1.000 2.001,0.951 1.906,0.809 1.821,0.588 1.748,0.309 1.690,-0.000 1.648,-0.309 1.621,-0.588 1.606,-0.809 1.601,-0.951 1.600,-1.000ZM2.000,-1.000 2.001,-0.951 2.006,-0.809 2.021,-0.588 2.048,-0.309 2.090,-0.000 2.148,0.309 2.221,0.588 2.306,0.809 2.401,0.951 2.500,1.000 3.100,1.000 3.001,0.951 2.906,0.809 2.821,0.588 2.748,0.309 2.690,-0.000 2.648,-0.309 2.621,-0.588 2.606,-0.809 2.601,-0.951 2.600,-1.000ZM3.000,-1.000 3.001,-0.951 3.006,-0.809 3.021,-0.588 3.048,-0.309 3.090,-0.000 3.148,0.309 3.221,0.588 3.306,0.809 3.401,0.951 3.500,1.000 4.100,1.000 4.001,0.951 3.906,0.809 3.821,0.588 3.748,0.309 3.690,-0.000 3.648,-0.309 3.621,-0.588 3.606,-0.809 3.601,-0.951 3.600,-1.000ZM4.000,-1.000 4.001,-0.951 4.006,-0.809 4.021,-0.588 4.048,-0.309 4.090,-0.000 4.148,0.309 4.221,0.588 4.306,0.809 4.401,0.951 4.500,1.000 5.100,1.000 5.001,0.951 4.906,0.809 4.821,0.588 4.748,0.309 4.690,-0.000 4.648,-0.309 4.621,-0.588 4.606,-0.809 4.601,-0.951 4.600,-1.000ZM5.000,-1.000 5.001,-0.951 5.006,-0.809 5.021,-0.588 5.048,-0.309 5.090,-0.000 5.148,0.309 5.221,0.588 5.306,0.809 5.401,0.951 5.500,1.000 6.100,1.000 6.001,0.951 5.906,0.809 5.821,0.588 5.748,0.309 5.690,-0.000 5.648,-0.309 5.621,-0.588 5.606,-0.809 5.601,-0.951 5.600,-1.000ZM6.000,-1.000 6.001,-0.951 6.006,-0.809 6.021,-0.588 6.048,-0.309 6.090,-0.000 6.148,0.309 6.221,0.588 6.306,0.809 6.401,0.951 6.500,1.000 7.100,1.000 7.001,0.951 6.906,0.809 6.821,0.588 6.748,0.309 6.690,-0.000 6.648,-0.309 6.621,-0.588 6.606,-0.809 6.601,-0.951 6.600,-1.000ZM7.000,-1.000 7.001,-0.951 7.006,-0.809 7.021,-0.588 7.048,-0.309 7.090,-0.000 7.148,0.309 7.221,0.588 7.306,0.809 7.401,0.951 7.500,1.000 8.100,1.000 8.001,0.951 7.906,0.809 7.821,0.588 7.748,0.309 7.690,-0.000 7.648,-0.309 7.621,-0.588 7.606,-0.809 7.601,-0.951 7.600,-1.000Z" fill="url(#pf)" stroke="#98687a" stroke-width="0.8" vector-effect="non-scaling-stroke"/>
</symbol><symbol id="hb8" overflow="visible">
<path d="M0.500,1.000 0.599,0.951 0.694,0.809 0.779,0.588 0.852,0.309 0.910,0.000 0.952,-0.309 0.979,-0.588 0.994,-0.809 0.999,-0.951 1.000,-1.000 1.500,-1.000 1.499,-0.951 1.494,-0.809 1.479,-0.588 1.452,-0.309 1.410,0.000 1.352,0.309 1.279,0.588 1.194,0.809 1.099,0.951 1.000,1.000ZM1.500,1.000 1.599,0.951 1.694,0.809 1.779,0.588 1.852,0.309 1.910,0.000 1.952,-0.309 1.979,-0.588 1.994,-0.809 1.999,-0.951 2.000,-1.000 2.500,-1.000 2.499,-0.951 2.494,-0.809 2.479,-0.588 2.452,-0.309 2.410,0.000 2.352,0.309 2.279,0.588 2.194,0.809 2.099,0.951 2.000,1.000ZM2.500,1.000 2.599,0.951 2.694,0.809 2.779,0.588 2.852,0.309 2.910,0.000 2.952,-0.309 2.979,-0.588 2.994,-0.809 2.999,-0.951 3.000,-1.000 3.500,-1.000 3.499,-0.951 3.494,-0.809 3.479,-0.588 3.452,-0.309 3.410,0.000 3.352,0.309 3.279,0.588 3.194,0.809 3.099,0.951 3.000,1.000ZM3.500,1.000 3.599,0.951 3.694,0.809 3.779,0.588 3.852,0.309 3.910,0.000 3.952,-0.309 3.979,-0.588 3.994,-0.809 3.999,-0.951 4.000,-1.000 4.500,-1.000 4.499,-0.951 4.494,-0.809 4.479,-0.588 4.452,-0.309 4.410,0.000 4.352,0.309 4.279,0.588 4.194,0.809 4.099,0.951 4.000,1.000ZM4.500,1.000 4.599,0.951 4.694,0.809 4.779,0.588 4.852,0.309 4.910,0.000 4.952,-0.309 4.979,-0.588 4.994,-0.809 4.999,-0.951 5.000,-1.000 5.500,-1.000 5.499,-0.951 5.494,-0.809 5.479,-0.588 5.452,-0.309 5.410,0.000 5.352,0.309 5.279,0.588 5.194,0.809 5.099,0.951 5.000,1.000ZM5.500,1.000 5.599,0.951 5.694,0.809 5.779,0.588 5.852,0.309 5.910,0.000 5.952,-0.309 5.979,-0.588 5.994,-0.809 5.999,-0.951 6.000,-1.000 6.500,-1.000 6.499,-0.951 6.494,-0.809 6.479,-0.588 6.452,-0.309 6.410,0.000 6.352,0.309 6.279,0.588 6.194,0.809 6.099,0.951 6.000,1.000ZM6.500,1.000 6.599,0.951 6.694,0.809 6.779,0.588 6.852,0.309 6.910,0.000 6.952,-0.309 6.979,-0.588 6.994,-0.809 6.999,-0.951 7.000,-1.000 7.500,-1.000 7.499,-0.951 7.494,-0.809 7.479,-0.588 7.452,-0.309 7.410,0.000 7.352,0.309 7.279,0.588 7.194,0.809 7.099,0.951 7.000,1.000Z" fill="url(#bb)" stroke="#000050" stroke-width="0.8" vector-effect="non-scaling-stroke"/>
<path d="M0.000,-1.000 0.001,-0.951 0.006,-0.809 0.021,-0.588 0.048,-0.309 0.090,-0.000 0.148,0.309 0.221,0.588 0.306,0.809 0.401,0.951 0.500,1.000 1.100,1.000 1.001,0.951 0.906,0.809 0.821,0.588 0.748,0.309 0.690,-0.000 0.648,-0.309 0.621,-0.588 0.606,-0.809 0.601,-0.951 0.600,-1.000ZM1.000,-1.000 1.001,-0.951 1.006,-0.809 1.021,-0.588 1.048,-0.309 1.090,-0.000 1.148,0.309 1.221,0.588 1.306,0.809 1.401,0.951 1.500,1.000 2.100,1.000 2.001,0.951 1.906,0.809 1.821,0.588 1.748,0.309 1.690,-0.000 1.648,-0.309 1.621,-0.588 1.606,-0.809 1.601,-0.951 1.600,-1.000ZM2.000,-1.000 2.001,-0.951 2.006,-0.809 2.021,-0.588 2.048,-0.309 2.090,-0.000 2.148,0.309 2.221,0.588 2.306,0.809 2.401,0.951 2.500,1.000 3.100,1.000 3.001,0.951 2.906,0.809 2.821,0.588 2.748,0.309 2.690,-0.000 2.648,-0.309 2.621,-0.588 2.606,-0.809 2.601,-0.951 2.600,-1.000ZM3.000,-1.000 3.001,-0.951 3.006,-0.809 3.021,-0.588 3.048,-0.309 3.090,-0.000 3.148,0.309 3.221,0.588 3.306,0.809 3.401,0.951 3.500,1.000 4.100,1.000 4.001,0.951 3.906,0.809 3.821,0.588 3.748,0.309 3.690,-0.000 3.648,-0.309 3.621,-0.588 3.606,-0.809 3.601,-0.951 3.600,-1.000ZM4.000,-1.000 4.001,-0.951 4.006,-0.809 4.021,-0.588 4.048,-0.309 4.090,-0.000 4.148,0.309 4.221,0.588 4.306,0.809 4.401,0.951 4.500,1.000 5.100,1.000 5.001,0.951 4.906,0.809 4.821,0.588 4.748,0.309 4.690,-0.000 4.648,-0.309 4.621,-0.588 4.606,-0.809 4.601,-0.951 4.600,-1.000ZM5.000,-1.000 5.001,-0.951 5.006,-0.809 5.021,-0.588 5.048,-0.309 5.090,-0.000 5.148,0.309 5.221,0.588 5.306,0.809 5.401,0.951 5.500,1.000 6.100,1.000 6.001,0.951 5.906,0.809 5.821,0.588 5.748,0.309 5.690,-0.000 5.648,-0.309 5.621,-0.588 5.606,-0.809 5.601,-0.951 5.600,-1.000ZM6.000,-1.000 6.001,-0.951 6.006,-0.809 6.021,-0.588 6.048,-0.309 6.090,-0.000 6.148,0.309 6.221,0.588 6.306,0.809 6.401,0.951 6.500,1.000 7.100,1.000 7.001,0.951 6.906,0.809 6.821,0.588 6.748,0.309 6.690,-0.000 6.648,-0.309 6.621,-0.588 6.606,-0.809 6.601,-0.951 6.600,-1.000ZM7.000,-1.000 7.001,-0.951 7.006,-0.809 7.021,-0.588 7.048,-0.309 7.090,-0.000 7.148,0.309 7.221,0.588 7.306,0.809 7.401,0.951 7.500,1.000 8.100,1.000 8.001,0.951 7.906,0.809 7.821,0.588 7.748,0.309 7.690,-0.000 7.648,-0.309 7.621,-0.588 7.606,-0.809 7.601,-0.951 7.600,-1.000Z" fill="url(#bf)" stroke="#000050" stroke-width="0.8" vector-effect="non-scaling-stroke"/>
</symbol></defs><path d="M438,92C448.2,86.2 462.7,86.5 472,88C481.3,89.5 491,94.8 494,101C497,107.2 487,119 490,125C493,131 507.3,130.5 512,137C516.7,143.5 519.8,157 518,164C516.2,171 508.7,175.5 501,179C493.3,182.5 480.5,180.7 472,185C463.5,189.3 457,194.2 450,205C443,215.8 437.5,234.2 430,250C422.5,265.8 410,285 405,300C400,315 395.8,331 400,340C404.2,349 416.7,351.7 430,354C443.3,356.3 465,354.7 480,354C495,353.3 510,354.8 520,350C530,345.2 534.7,341.7 540,325C545.3,308.3 547.8,276.7 552,250C556.2,223.3 557.5,182.7 565,165C572.5,147.3 587.8,144.7 597,144C606.2,143.3 610,155.2 620,161C630,166.8 645.7,172.7 657,179C668.3,185.3 681.7,185.5 688,199C694.3,212.5 695,239.5 695,260C695,280.5 692.5,303.7 688,322C683.5,340.3 674.3,354 668,370C661.7,386 658,403.8 650,418C642,432.2 620,444.8 620,455C620,465.2 641,471 650,479C659,487 672.8,493.8 674,503C675.2,512.2 666,527.7 657,534C648,540.3 631.3,538.7 620,541C608.7,543.3 593.7,540 589,548C584.3,556 594.3,577.7 592,589C589.7,600.3 585.8,611.5 575,616C564.2,620.5 537.8,609.2 527,616C516.2,622.8 515.7,645 510,657C504.3,669 501.5,681.7 493,688C484.5,694.3 471.5,696.2 459,695C446.5,693.8 427.7,687.8 418,681C408.3,674.2 405,664.8 401,654C397,643.2 399.2,628 394,616C388.8,604 378,587.7 370,582C362,576.3 351.2,572.8 346,582C340.8,591.2 347,627.3 339,637C331,646.7 306.5,648 298,640C289.5,632 292,603.8 288,589C284,574.2 284.3,556.2 274,551C263.7,545.8 240.8,558.5 226,558C211.2,557.5 199.3,550.3 185,548C170.7,545.7 149.7,547.5 140,544C130.3,540.5 128,535.5 127,527C126,518.5 129,506.7 134,493C139,479.3 150.8,463.3 157,445C163.2,426.7 164.7,403.5 171,383C177.3,362.5 188.7,341.3 195,322C201.3,302.7 202.2,284.2 209,267C215.8,249.8 225.2,232.7 236,219C246.8,205.3 260.8,194.2 274,185C287.2,175.8 299,170.3 315,164C331,157.7 354,153.8 370,147C386,140.2 399.7,132.2 411,123C422.3,113.8 427.8,97.8 438,92Z" fill="#dcdef2" fill-opacity="1.0"/>
<use href="#hl2" transform="translate(673.3,192.9) rotate(98.3) scale(42.87,23.4)"/>
<use href="#hl2" transform="translate(641.7,292) rotate(98.6) scale(47.10,25)"/>
<use href="#hl3" transform="translate(610,422) rotate(110.8) scale(40.64,26)"/>
<use href="#hl1" transform="translate(561.4,563.6) rotate(118) scale(57.13,26.8)"/>
<use href="#hl4" transform="translate(616.5,160.3) rotate(105.7) scale(38.66,26.8)"/>
<use href="#hl2" transform="translate(581.4,324.5) rotate(116.2) scale(45.49,27.4)"/>
<use href="#hl2" transform="translate(536.4,431.6) rotate(110.6) scale(38.65,24.3)"/>
<use href="#hl3" transform="translate(514.3,522) rotate(117.3) scale(34.42,23.6)"/>
<use href="#hl1" transform="translate(461.9,634.5) rotate(99.2) scale(53.79,23.9)"/>
<use href="#hl4" transform="translate(468.7,430.5) rotate(104.1) scale(37.59,24)"/>
<use href="#hl3" transform="translate(429.2,377) rotate(107.1) scale(35.72,25.2)"/>
<use href="#hl2" transform="translate(454.2,98.1) rotate(112.8) scale(44.49,24)"/>
<use href="#hl4" transform="translate(420.4,226.2) rotate(110.1) scale(39.55,23.6)"/>
<use href="#hl4" transform="translate(353.1,384.9) rotate(102.8) scale(41.57,24.2)"/>
<use href="#hl2" transform="translate(391.2,134.6) rotate(115) scale(35.19,24.3)"/>
<use href="#hl2" transform="translate(353.4,241.4) rotate(98.3) scale(45.20,25.1)"/>
<use href="#hl2" transform="translate(322,340.4) rotate(105.4) scale(43.81,23.7)"/>
<use href="#hl3" transform="translate(300.5,451.8) rotate(117.6) scale(35.61,26.1)"/>
<use href="#hl2" transform="translate(321.2,162.8) rotate(110.7) scale(36.06,26.3)"/>
<use href="#hl4" transform="translate(277.1,248.9) rotate(99.5) scale(42.48,26.3)"/>
<use href="#hl2" transform="translate(225,453.7) rotate(112.1) scale(48.25,27.1)"/>
<use href="#hl3" transform="translate(219,270.5) rotate(110.5) scale(42.43,25.7)"/>
<path d="M58,359C63.2,356.2 79.8,343 89,342C98.2,341 107.3,347.8 113,353C118.7,358.2 119,368 123,373C127,378 134.7,381.3 137,383" fill="none" stroke="#5c5f90" stroke-width="7.5" stroke-linecap="round" stroke-linejoin="round"/><path d="M58,359C63.2,356.2 79.8,343 89,342C98.2,341 107.3,347.8 113,353C118.7,358.2 119,368 123,373C127,378 134.7,381.3 137,383" fill="none" stroke="#a9acdf" stroke-width="5.5" stroke-linecap="round" stroke-linejoin="round"/>
<path d="M95,480C97.5,475.8 100.8,461.7 110,455C119.2,448.3 140.8,439.2 150,440C159.2,440.8 162.5,456.7 165,460" fill="none" stroke="#5c5f90" stroke-width="7.5" stroke-linecap="round" stroke-linejoin="round"/><path d="M95,480C97.5,475.8 100.8,461.7 110,455C119.2,448.3 140.8,439.2 150,440C159.2,440.8 162.5,456.7 165,460" fill="none" stroke="#a9acdf" stroke-width="5.5" stroke-linecap="round" stroke-linejoin="round"/>
<path d="M100,346C103.7,344.8 115.8,336.1 122,338.6C128.2,341.1 135.7,354.6 137,360.8C138.3,367 130.8,373.1 129.6,375.6" fill="none" stroke="#5c5f90" stroke-width="7.5" stroke-linecap="round" stroke-linejoin="round"/><path d="M100,346C103.7,344.8 115.8,336.1 122,338.6C128.2,341.1 135.7,354.6 137,360.8C138.3,367 130.8,373.1 129.6,375.6" fill="none" stroke="#a9acdf" stroke-width="5.5" stroke-linecap="round" stroke-linejoin="round"/>
<path d="M222,183.4C227.5,182.8 247.6,178.6 255,179.8C262.4,181 264.4,189 266.3,190.8" fill="none" stroke="#5c5f90" stroke-width="7.5" stroke-linecap="round" stroke-linejoin="round"/><path d="M222,183.4C227.5,182.8 247.6,178.6 255,179.8C262.4,181 264.4,189 266.3,190.8" fill="none" stroke="#a9acdf" stroke-width="5.5" stroke-linecap="round" stroke-linejoin="round"/>
<path d="M185,201.9C181.3,211.1 168.4,240.7 162.8,257.3C157.2,273.9 157.2,289.4 151.7,301.7C146.2,314 137,323.8 129.6,331.2C122.2,338.6 111.1,343.5 107.4,346" fill="none" stroke="#5c5f90" stroke-width="7.5" stroke-linecap="round" stroke-linejoin="round"/><path d="M185,201.9C181.3,211.1 168.4,240.7 162.8,257.3C157.2,273.9 157.2,289.4 151.7,301.7C146.2,314 137,323.8 129.6,331.2C122.2,338.6 111.1,343.5 107.4,346" fill="none" stroke="#a9acdf" stroke-width="5.5" stroke-linecap="round" stroke-linejoin="round"/>
<path d="M488,172.4C494.2,174.2 512.7,179.1 525,183.4C537.3,187.7 555.8,195.7 562,198.2" fill="none" stroke="#5c5f90" stroke-width="7.5" stroke-linecap="round" stroke-linejoin="round"/><path d="M488,172.4C494.2,174.2 512.7,179.1 525,183.4C537.3,187.7 555.8,195.7 562,198.2" fill="none" stroke="#a9acdf" stroke-width="5.5" stroke-linecap="round" stroke-linejoin="round"/>
<path d="M517.5,272C520.6,273.2 532.9,273.3 536,279.5C539.1,285.7 540.3,299.8 536,309C531.7,318.2 514.3,330.7 510,335" fill="none" stroke="#5c5f90" stroke-width="7.5" stroke-linecap="round" stroke-linejoin="round"/><path d="M517.5,272C520.6,273.2 532.9,273.3 536,279.5C539.1,285.7 540.3,299.8 536,309C531.7,318.2 514.3,330.7 510,335" fill="none" stroke="#a9acdf" stroke-width="5.5" stroke-linecap="round" stroke-linejoin="round"/>
<path d="M240.4,571.4C241.6,578.8 244.1,605.2 247.8,615.7C251.5,626.2 257.2,628.5 262.6,634.2C268,639.9 270.4,649 280,650C289.6,651 298.3,643.3 320,640C341.7,636.7 395,631.7 410,630" fill="none" stroke="#5c5f90" stroke-width="7.5" stroke-linecap="round" stroke-linejoin="round"/><path d="M240.4,571.4C241.6,578.8 244.1,605.2 247.8,615.7C251.5,626.2 257.2,628.5 262.6,634.2C268,639.9 270.4,649 280,650C289.6,651 298.3,643.3 320,640C341.7,636.7 395,631.7 410,630" fill="none" stroke="#a9acdf" stroke-width="5.5" stroke-linecap="round" stroke-linejoin="round"/>
<path d="M320,640C323.3,646.7 333.3,668.3 340,680C346.7,691.7 351.7,702.5 360,710C368.3,717.5 380,721.7 390,725C400,728.3 412.5,732.5 420,730C427.5,727.5 432.5,713.3 435,710" fill="none" stroke="#5c5f90" stroke-width="7.5" stroke-linecap="round" stroke-linejoin="round"/><path d="M320,640C323.3,646.7 333.3,668.3 340,680C346.7,691.7 351.7,702.5 360,710C368.3,717.5 380,721.7 390,725C400,728.3 412.5,732.5 420,730C427.5,727.5 432.5,713.3 435,710" fill="none" stroke="#a9acdf" stroke-width="5.5" stroke-linecap="round" stroke-linejoin="round"/>
<path d="M490,655C492.5,660.8 505,680.8 505,690C505,699.2 492.5,706.7 490,710" fill="none" stroke="#5c5f90" stroke-width="7.5" stroke-linecap="round" stroke-linejoin="round"/><path d="M490,655C492.5,660.8 505,680.8 505,690C505,699.2 492.5,706.7 490,710" fill="none" stroke="#a9acdf" stroke-width="5.5" stroke-linecap="round" stroke-linejoin="round"/>
<path d="M454,309C457,307.3 465,301.5 472,299C479,296.5 487.8,298.8 496,294C504.2,289.2 514,273.7 521,270C528,266.3 534.7,267.2 538,272C541.3,276.8 543.8,292.5 541,299C538.2,305.5 526.8,305.2 521,311C515.2,316.8 508.5,330.2 506,334" fill="none" stroke="#5c5f90" stroke-width="7.5" stroke-linecap="round" stroke-linejoin="round"/><path d="M454,309C457,307.3 465,301.5 472,299C479,296.5 487.8,298.8 496,294C504.2,289.2 514,273.7 521,270C528,266.3 534.7,267.2 538,272C541.3,276.8 543.8,292.5 541,299C538.2,305.5 526.8,305.2 521,311C515.2,316.8 508.5,330.2 506,334" fill="none" stroke="#a9acdf" stroke-width="5.5" stroke-linecap="round" stroke-linejoin="round"/>
<path d="M507,175C511.5,177.8 523.8,187 534,192C544.2,197 562.3,202.8 568,205" fill="none" stroke="#5c5f90" stroke-width="7.5" stroke-linecap="round" stroke-linejoin="round"/><path d="M507,175C511.5,177.8 523.8,187 534,192C544.2,197 562.3,202.8 568,205" fill="none" stroke="#a9acdf" stroke-width="5.5" stroke-linecap="round" stroke-linejoin="round"/>
<ellipse cx="552" cy="580" rx="28" ry="25.2" fill="none" stroke="#5a5c88" stroke-width="13"/><ellipse cx="552" cy="580" rx="28" ry="25.2" fill="none" stroke="#b3b6ea" stroke-width="10"/><ellipse cx="558" cy="577" rx="28" ry="25.2" fill="none" stroke="#5a5c88" stroke-width="13"/><ellipse cx="558" cy="577" rx="28" ry="25.2" fill="none" stroke="#b3b6ea" stroke-width="10"/><ellipse cx="564" cy="574" rx="28" ry="25.2" fill="none" stroke="#5a5c88" stroke-width="13"/><ellipse cx="564" cy="574" rx="28" ry="25.2" fill="none" stroke="#b3b6ea" stroke-width="10"/>
<use href="#hl3" transform="translate(469.5,94.8) rotate(115.7) scale(34.14,26.4)"/>
<use href="#hl4" transform="translate(432.5,157.6) rotate(162.8) scale(40.61,26.4)"/>
<use href="#hl4" transform="translate(403,190.8) rotate(106.7) scale(38.58,28.6)"/>
<use href="#hl3" transform="translate(329,220.4) rotate(109.4) scale(44.39,28.6)"/>
<use href="#hl3" transform="translate(255,238.9) rotate(107.9) scale(47.89,28.6)"/>
<use href="#hl3" transform="translate(207,338.6) rotate(115) scale(40.77,28.6)"/>
<use href="#hl2" transform="translate(340,375.6) rotate(131.8) scale(47.06,28.6)"/>
<use href="#hl2" transform="translate(266.3,434.7) rotate(125.9) scale(41.04,26.4)"/>
<use href="#hl2" transform="translate(140.6,523.4) rotate(-22.4) scale(33.97,26.4)"/>
<use href="#hl4" transform="translate(325.4,449.5) rotate(93.4) scale(46.26,26.4)"/>
<use href="#hl3" transform="translate(417.7,338.6) rotate(91.9) scale(36.99,26.4)"/>
<use href="#hl2" transform="translate(469.5,386.7) rotate(103.5) scale(47.47,26.4)"/>
<use href="#hl2" transform="translate(506.4,346) rotate(124.5) scale(35.81,24.2)"/>
<use href="#hl2" transform="translate(506.4,456.9) rotate(44.9) scale(47.02,28.6)"/>
<use href="#hl2" transform="translate(395.6,560.3) rotate(14.1) scale(38.09,26.4)"/>
<use href="#hl2" transform="translate(410.3,634.2) rotate(18.5) scale(46.75,28.6)"/>
<use href="#hl2" transform="translate(432.5,504.9) rotate(29) scale(38.03,26.4)"/>
<use href="#hl1" transform="translate(491.6,165) rotate(-45) scale(31.40,19.8)"/>
<use href="#hl1" transform="translate(470,270) rotate(107.5) scale(39.85,19.8)"/>
<use href="#hl1" transform="translate(240.4,235.2) rotate(-45.1) scale(47.02,22)"/>
<use href="#hl2" transform="translate(610,520) rotate(-14.5) scale(29.95,24.2)"/>
<use href="#hl8" transform="translate(606,154) rotate(101.3) scale(31.99,30.8)"/>
<g fill="none" stroke-linecap="round" stroke-linejoin="round"><path d="M673,374.8 664.5,366.8 652.4,369.8 646.5,380.4 636.1,381.9" stroke="#00006a" stroke-width="5.8"/><path d="M673,374.8 664.5,366.8 652.4,369.8 646.5,380.4 636.1,381.9" stroke="#0505e8" stroke-width="4.2"/><path d="M628.3,432.4 622.4,423.5 610.2,419.6" stroke="#00006a" stroke-width="5.8"/><path d="M628.3,432.4 622.4,423.5 610.2,419.6" stroke="#0505e8" stroke-width="4.2"/><path d="M617.9,419.1 606.4,423.8 597.2,421.7" stroke="#00006a" stroke-width="5.8"/><path d="M617.9,419.1 606.4,423.8 597.2,421.7" stroke="#0505e8" stroke-width="4.2"/><path d="M713.7,217.1 718.5,227.2 729.7,231.2 731.4,239.1 726.1,244.2" stroke="#00006a" stroke-width="5.8"/><path d="M713.7,217.1 718.5,227.2 729.7,231.2 731.4,239.1 726.1,244.2" stroke="#0505e8" stroke-width="4.2"/><path d="M639.6,320.9 647.3,310.8 642.4,299.2" stroke="#00006a" stroke-width="5.8"/><path d="M639.6,320.9 647.3,310.8 642.4,299.2" stroke="#0505e8" stroke-width="4.2"/><path d="M714.5,243.6 706.9,242.5 704.8,235.6 696.1,230.4 697.3,221.4" stroke="#00006a" stroke-width="5.8"/><path d="M714.5,243.6 706.9,242.5 704.8,235.6 696.1,230.4 697.3,221.4" stroke="#0505e8" stroke-width="4.2"/><path d="M712.1,309.9 705.5,313.3 704.9,322.1 699.9,327.4" stroke="#00006a" stroke-width="5.8"/><path d="M712.1,309.9 705.5,313.3 704.9,322.1 699.9,327.4" stroke="#0505e8" stroke-width="4.2"/><path d="M644.8,208.3 644.8,200.4 636.9,196.1 625.7,198.2" stroke="#00006a" stroke-width="5.8"/><path d="M644.8,208.3 644.8,200.4 636.9,196.1 625.7,198.2" stroke="#0505e8" stroke-width="4.2"/><path d="M694.4,165.2 694,173.9 684,177.8" stroke="#00006a" stroke-width="5.8"/><path d="M694.4,165.2 694,173.9 684,177.8" stroke="#0505e8" stroke-width="4.2"/><path d="M653.1,427.6 662.7,425 671.8,429.2 677.3,439.6 671.8,449.1" stroke="#00006a" stroke-width="5.8"/><path d="M653.1,427.6 662.7,425 671.8,429.2 677.3,439.6 671.8,449.1" stroke="#0505e8" stroke-width="4.2"/><path d="M690.8,249.9 696.6,238.5 705.6,239.1 710.2,233.7" stroke="#00006a" stroke-width="5.8"/><path d="M690.8,249.9 696.6,238.5 705.6,239.1 710.2,233.7" stroke="#0505e8" stroke-width="4.2"/><path d="M663.1,212.7 669.2,203.7 680,202 689.6,209.2" stroke="#00006a" stroke-width="5.8"/><path d="M663.1,212.7 669.2,203.7 680,202 689.6,209.2" stroke="#0505e8" stroke-width="4.2"/><path d="M659.4,304.7 657.6,311.9 648.1,318.8 637.9,317.2" stroke="#00006a" stroke-width="5.8"/><path d="M659.4,304.7 657.6,311.9 648.1,318.8 637.9,317.2" stroke="#0505e8" stroke-width="4.2"/><path d="M704.7,219.3 710.7,210.4 709.2,199.4" stroke="#00006a" stroke-width="5.8"/><path d="M704.7,219.3 710.7,210.4 709.2,199.4" stroke="#0505e8" stroke-width="4.2"/><path d="M653.3,204.7 660.6,201.1 662.4,191.8" stroke="#00006a" stroke-width="5.8"/><path d="M653.3,204.7 660.6,201.1 662.4,191.8" stroke="#0505e8" stroke-width="4.2"/><path d="M685.3,253.4 674.4,251.4 672.2,241.4 676.7,232.1" stroke="#00006a" stroke-width="5.8"/><path d="M685.3,253.4 674.4,251.4 672.2,241.4 676.7,232.1" stroke="#0505e8" stroke-width="4.2"/><path d="M636.1,321.7 644.8,327.4 645.6,335.3" stroke="#00006a" stroke-width="5.8"/><path d="M636.1,321.7 644.8,327.4 645.6,335.3" stroke="#0505e8" stroke-width="4.2"/><path d="M641.8,287.4 652.9,292.7 661.2,289.3" stroke="#00006a" stroke-width="5.8"/><path d="M641.8,287.4 652.9,292.7 661.2,289.3" stroke="#0505e8" stroke-width="4.2"/><path d="M711.1,308 698.6,311.1 687.6,304.5 685.1,292.6 677.3,289.2" stroke="#00006a" stroke-width="5.8"/><path d="M711.1,308 698.6,311.1 687.6,304.5 685.1,292.6 677.3,289.2" stroke="#0505e8" stroke-width="4.2"/><path d="M646,235.3 652,239.3 653.7,246.3 660.5,248" stroke="#00006a" stroke-width="5.8"/><path d="M646,235.3 652,239.3 653.7,246.3 660.5,248" stroke="#0505e8" stroke-width="4.2"/><path d="M661.2,220.3 664.5,208.7 673.7,203.4" stroke="#00006a" stroke-width="5.8"/><path d="M661.2,220.3 664.5,208.7 673.7,203.4" stroke="#0505e8" stroke-width="4.2"/><path d="M653.7,342.8 646,342.5 640.8,335.1 643.8,328.6 654.7,324.9" stroke="#00006a" stroke-width="5.8"/><path d="M653.7,342.8 646,342.5 640.8,335.1 643.8,328.6 654.7,324.9" stroke="#0505e8" stroke-width="4.2"/><path d="M693.2,271.2 693.4,259.1 702.6,251.2 699.8,241.8 693.7,238.4" stroke="#00006a" stroke-width="5.8"/><path d="M693.2,271.2 693.4,259.1 702.6,251.2 699.8,241.8 693.7,238.4" stroke="#0505e8" stroke-width="4.2"/><path d="M693.3,322.1 693.7,312.2 703.4,308.8 713.1,315.6" stroke="#00006a" stroke-width="5.8"/><path d="M693.3,322.1 693.7,312.2 703.4,308.8 713.1,315.6" stroke="#0505e8" stroke-width="4.2"/><path d="M671.4,266.6 678.5,269.5 679.6,278.1 691,282.7 698.4,281.1" stroke="#00006a" stroke-width="5.8"/><path d="M671.4,266.6 678.5,269.5 679.6,278.1 691,282.7 698.4,281.1" stroke="#0505e8" stroke-width="4.2"/><path d="M681.1,291.5 673.5,289.7 666.9,281.2 671.8,272.1 669.1,262.1" stroke="#00006a" stroke-width="5.8"/><path d="M681.1,291.5 673.5,289.7 666.9,281.2 671.8,272.1 669.1,262.1" stroke="#0505e8" stroke-width="4.2"/><path d="M659.2,174.1 652.7,178.9 653,186.4 658,192.3" stroke="#00006a" stroke-width="5.8"/><path d="M659.2,174.1 652.7,178.9 653,186.4 658,192.3" stroke="#0505e8" stroke-width="4.2"/><path d="M669.2,208.7 679.3,207.6 686.2,211.6 686.5,219.9" stroke="#00006a" stroke-width="5.8"/><path d="M669.2,208.7 679.3,207.6 686.2,211.6 686.5,219.9" stroke="#0505e8" stroke-width="4.2"/><path d="M607.1,451 597.8,450.8 588.7,459.5" stroke="#00006a" stroke-width="5.8"/><path d="M607.1,451 597.8,450.8 588.7,459.5" stroke="#0505e8" stroke-width="4.2"/><path d="M683.7,392.7 672.2,390.1 670.6,381 661.2,376.6 654.2,379.5" stroke="#00006a" stroke-width="5.8"/><path d="M683.7,392.7 672.2,390.1 670.6,381 661.2,376.6 654.2,379.5" stroke="#0505e8" stroke-width="4.2"/><path d="M654.5,380.9 659,390.6 655.6,399.8 658.2,407.3" stroke="#00006a" stroke-width="5.8"/><path d="M654.5,380.9 659,390.6 655.6,399.8 658.2,407.3" stroke="#0505e8" stroke-width="4.2"/><path d="M640.7,257.3 652.6,256.2 656.9,262" stroke="#00006a" stroke-width="5.8"/><path d="M640.7,257.3 652.6,256.2 656.9,262" stroke="#0505e8" stroke-width="4.2"/><path d="M708.5,243.6 699.2,237.7 700.1,229.8 708.6,222.8" stroke="#00006a" stroke-width="5.8"/><path d="M708.5,243.6 699.2,237.7 700.1,229.8 708.6,222.8" stroke="#0505e8" stroke-width="4.2"/><path d="M686.8,183.9 697.1,186.7 699.5,194.5" stroke="#00006a" stroke-width="5.8"/><path d="M686.8,183.9 697.1,186.7 699.5,194.5" stroke="#0505e8" stroke-width="4.2"/><path d="M639,152.1 642.6,144.9 635.6,136.5 638.5,128.4" stroke="#00006a" stroke-width="5.8"/><path d="M639,152.1 642.6,144.9 635.6,136.5 638.5,128.4" stroke="#0505e8" stroke-width="4.2"/><path d="M652,279.5 641.6,273.5 642.9,262.3" stroke="#00006a" stroke-width="5.8"/><path d="M652,279.5 641.6,273.5 642.9,262.3" stroke="#0505e8" stroke-width="4.2"/><path d="M622.8,395.1 632.7,390.5 639.4,393.4 640.1,403.1" stroke="#00006a" stroke-width="5.8"/><path d="M622.8,395.1 632.7,390.5 639.4,393.4 640.1,403.1" stroke="#0505e8" stroke-width="4.2"/><path d="M675.3,418.8 677.8,408.2 673.1,402.4" stroke="#00006a" stroke-width="5.8"/><path d="M675.3,418.8 677.8,408.2 673.1,402.4" stroke="#0505e8" stroke-width="4.2"/><path d="M632.8,165.6 627.3,171.9 628.7,180.9" stroke="#00006a" stroke-width="5.8"/><path d="M632.8,165.6 627.3,171.9 628.7,180.9" stroke="#0505e8" stroke-width="4.2"/><path d="M647,383.5 642.3,391 629.4,389.3" stroke="#00006a" stroke-width="5.8"/><path d="M647,383.5 642.3,391 629.4,389.3" stroke="#0505e8" stroke-width="4.2"/><path d="M664.1,175.8 658,170.9 647.1,173.1 641,164" stroke="#00006a" stroke-width="5.8"/><path d="M664.1,175.8 658,170.9 647.1,173.1 641,164" stroke="#0505e8" stroke-width="4.2"/><path d="M692,255.4 702.4,250.3 705.3,238.7" stroke="#00006a" stroke-width="5.8"/><path d="M692,255.4 702.4,250.3 705.3,238.7" stroke="#0505e8" stroke-width="4.2"/><path d="M686.6,361.4 692.2,368.3 703.2,369.7 710.7,376.7" stroke="#00006a" stroke-width="5.8"/><path d="M686.6,361.4 692.2,368.3 703.2,369.7 710.7,376.7" stroke="#0505e8" stroke-width="4.2"/><path d="M607.8,449.9 618.5,450.8 623.6,445 623.2,438" stroke="#00006a" stroke-width="5.8"/><path d="M607.8,449.9 618.5,450.8 623.6,445 623.2,438" stroke="#0505e8" stroke-width="4.2"/><path d="M668,402.9 673.6,397.1 672.4,384.6" stroke="#00006a" stroke-width="5.8"/><path d="M668,402.9 673.6,397.1 672.4,384.6" stroke="#0505e8" stroke-width="4.2"/><path d="M695.3,169 687.4,170.5 683.5,182.5" stroke="#00006a" stroke-width="5.8"/><path d="M695.3,169 687.4,170.5 683.5,182.5" stroke="#0505e8" stroke-width="4.2"/><path d="M669.5,164.2 667.3,157.5 655.8,153.2 653.1,145.4" stroke="#00006a" stroke-width="5.8"/><path d="M669.5,164.2 667.3,157.5 655.8,153.2 653.1,145.4" stroke="#0505e8" stroke-width="4.2"/><path d="M698.8,230.1 693.6,223.4 684.2,223.9" stroke="#00006a" stroke-width="5.8"/><path d="M698.8,230.1 693.6,223.4 684.2,223.9" stroke="#0505e8" stroke-width="4.2"/><path d="M655.7,142.5 650.9,149.1 641,149.5" stroke="#00006a" stroke-width="5.8"/><path d="M655.7,142.5 650.9,149.1 641,149.5" stroke="#0505e8" stroke-width="4.2"/><path d="M661.4,160.1 670.2,166 676.5,162.5 677.6,152.5 687.1,146.8" stroke="#00006a" stroke-width="5.8"/><path d="M661.4,160.1 670.2,166 676.5,162.5 677.6,152.5 687.1,146.8" stroke="#0505e8" stroke-width="4.2"/><path d="M650.5,389.9 639.7,394.8 634.5,389.9 627,390 622.1,399.5" stroke="#00006a" stroke-width="5.8"/><path d="M650.5,389.9 639.7,394.8 634.5,389.9 627,390 622.1,399.5" stroke="#0505e8" stroke-width="4.2"/><path d="M645.7,449.6 655.5,443.6 664.8,449.8 672,447.5 678.4,436.4" stroke="#00006a" stroke-width="5.8"/><path d="M645.7,449.6 655.5,443.6 664.8,449.8 672,447.5 678.4,436.4" stroke="#0505e8" stroke-width="4.2"/><path d="M662.7,259.8 670.9,267.1 680.6,262.7 691.9,267.1" stroke="#00006a" stroke-width="5.8"/><path d="M662.7,259.8 670.9,267.1 680.6,262.7 691.9,267.1" stroke="#0505e8" stroke-width="4.2"/><path d="M602.1,443.7 609.3,441.8 617.2,447.2 625.7,445.6" stroke="#00006a" stroke-width="5.8"/><path d="M602.1,443.7 609.3,441.8 617.2,447.2 625.7,445.6" stroke="#0505e8" stroke-width="4.2"/><path d="M670.4,190.7 681.3,193 690.4,188.9 694.5,177.5 702.9,177" stroke="#00006a" stroke-width="5.8"/><path d="M670.4,190.7 681.3,193 690.4,188.9 694.5,177.5 702.9,177" stroke="#0505e8" stroke-width="4.2"/><path d="M691,408.1 686,413.6 677.7,412.9 674.2,406.8 679.1,401.3 687.5,402Z" stroke="#00006a" stroke-width="5.8"/><path d="M691,408.1 686,413.6 677.7,412.9 674.2,406.8 679.1,401.3 687.5,402Z" stroke="#0505e8" stroke-width="4.2"/><path d="M678.9,169.6 670.1,171.9 663.2,166.9 665.2,159.6 674,157.4 680.9,162.3Z" stroke="#00006a" stroke-width="5.8"/><path d="M678.9,169.6 670.1,171.9 663.2,166.9 665.2,159.6 674,157.4 680.9,162.3Z" stroke="#0505e8" stroke-width="4.2"/><path d="M660.8,355.2 655.6,361.2 646.4,360.6 642.4,353.9 647.7,347.9 656.9,348.5Z" stroke="#00006a" stroke-width="5.8"/><path d="M660.8,355.2 655.6,361.2 646.4,360.6 642.4,353.9 647.7,347.9 656.9,348.5Z" stroke="#0505e8" stroke-width="4.2"/><path d="M652.5,310.1 647.6,315.3 639.6,314.6 636.4,308.6 641.2,303.4 649.3,304.1Z" stroke="#00006a" stroke-width="5.8"/><path d="M652.5,310.1 647.6,315.3 639.6,314.6 636.4,308.6 641.2,303.4 649.3,304.1Z" stroke="#0505e8" stroke-width="4.2"/></g>
<use href="#hl4" transform="translate(691,206) rotate(108.3) scale(35.02,26.4)"/><g transform="translate(691,206) rotate(108.3)"><use href="#hb1" transform="translate(0.0,0) scale(35.02,24)"/><use href="#hb1" transform="translate(35.0,0) scale(35.02,24)"/><use href="#hb1" transform="translate(105.1,0) scale(35.02,24)"/></g>
<g fill="none" stroke-linecap="round" stroke-linejoin="round"><path d="M633.5,483.4 625,490.5 614.9,485.1 614.7,476.5" stroke="#00006a" stroke-width="5.8"/><path d="M633.5,483.4 625,490.5 614.9,485.1 614.7,476.5" stroke="#0505e8" stroke-width="4.2"/><path d="M634.2,477.4 631,487.3 620.7,490 618.8,498.8 624.2,506.5" stroke="#00006a" stroke-width="5.8"/><path d="M634.2,477.4 631,487.3 620.7,490 618.8,498.8 624.2,506.5" stroke="#0505e8" stroke-width="4.2"/><path d="M630.4,475.5 625.4,469.1 628.1,457.4" stroke="#00006a" stroke-width="5.8"/><path d="M630.4,475.5 625.4,469.1 628.1,457.4" stroke="#0505e8" stroke-width="4.2"/><path d="M647.6,488 640.7,481.3 641.9,473.9" stroke="#00006a" stroke-width="5.8"/><path d="M647.6,488 640.7,481.3 641.9,473.9" stroke="#0505e8" stroke-width="4.2"/><path d="M640.4,464.1 640.8,472.3 634.1,480.5 634.4,488.5 625.7,495.3" stroke="#00006a" stroke-width="5.8"/><path d="M640.4,464.1 640.8,472.3 634.1,480.5 634.4,488.5 625.7,495.3" stroke="#0505e8" stroke-width="4.2"/><path d="M619.5,454.4 612.8,461.7 614.2,473.1 609.2,481.4" stroke="#00006a" stroke-width="5.8"/><path d="M619.5,454.4 612.8,461.7 614.2,473.1 609.2,481.4" stroke="#0505e8" stroke-width="4.2"/><path d="M618.3,486.6 615.1,495.9 607,496.6 599,488.6" stroke="#00006a" stroke-width="5.8"/><path d="M618.3,486.6 615.1,495.9 607,496.6 599,488.6" stroke="#0505e8" stroke-width="4.2"/><path d="M613,446.3 621.5,443.3 629.8,452.7" stroke="#00006a" stroke-width="5.8"/><path d="M613,446.3 621.5,443.3 629.8,452.7" stroke="#0505e8" stroke-width="4.2"/><path d="M603.7,461.6 603.4,450.2 611.5,441.6 619.4,441.6 624,448.9" stroke="#00006a" stroke-width="5.8"/><path d="M603.7,461.6 603.4,450.2 611.5,441.6 619.4,441.6 624,448.9" stroke="#0505e8" stroke-width="4.2"/><path d="M628.3,440.3 622.4,429 612,423.7 604.1,428.5 597.9,424.5" stroke="#00006a" stroke-width="5.8"/><path d="M628.3,440.3 622.4,429 612,423.7 604.1,428.5 597.9,424.5" stroke="#0505e8" stroke-width="4.2"/></g>
<path d="M0,-8 47.4,-1.5 47.4,1.5 0,8Z" transform="translate(575,455) rotate(-18.4)" fill="#0a0ae0" stroke="#00006a" stroke-width="1.4"/>
<path d="M779,121C782.2,118.5 793.7,106.5 798,106C802.3,105.5 805.7,114.2 805,118C804.3,121.8 799.7,124.7 794,129C788.3,133.3 774.8,141.5 771,144" fill="none" stroke="#b07e90" stroke-width="7.5" stroke-linecap="round" stroke-linejoin="round"/><path d="M779,121C782.2,118.5 793.7,106.5 798,106C802.3,105.5 805.7,114.2 805,118C804.3,121.8 799.7,124.7 794,129C788.3,133.3 774.8,141.5 771,144" fill="none" stroke="#f2bccd" stroke-width="5.5" stroke-linecap="round" stroke-linejoin="round"/>
<path d="M786,178C793.7,179.2 819.3,178.8 832,185C844.7,191.2 854.5,201.2 862,215C869.5,228.8 871.3,252.8 877,268C882.7,283.2 890.3,293.3 896,306C901.7,318.7 906,335.2 911,344C916,352.8 923.5,356.5 926,359" fill="none" stroke="#b07e90" stroke-width="7.5" stroke-linecap="round" stroke-linejoin="round"/><path d="M786,178C793.7,179.2 819.3,178.8 832,185C844.7,191.2 854.5,201.2 862,215C869.5,228.8 871.3,252.8 877,268C882.7,283.2 890.3,293.3 896,306C901.7,318.7 906,335.2 911,344C916,352.8 923.5,356.5 926,359" fill="none" stroke="#f2bccd" stroke-width="5.5" stroke-linecap="round" stroke-linejoin="round"/>
<path d="M764,148C767.7,153 779.8,164.2 786,178C792.2,191.8 798.5,222.2 801,231" fill="none" stroke="#b07e90" stroke-width="7.5" stroke-linecap="round" stroke-linejoin="round"/><path d="M764,148C767.7,153 779.8,164.2 786,178C792.2,191.8 798.5,222.2 801,231" fill="none" stroke="#f2bccd" stroke-width="5.5" stroke-linecap="round" stroke-linejoin="round"/>
<path d="M812,250C813.5,254.5 815.8,268.8 821,277C826.2,285.2 839.3,295.3 843,299" fill="none" stroke="#b07e90" stroke-width="7.5" stroke-linecap="round" stroke-linejoin="round"/><path d="M812,250C813.5,254.5 815.8,268.8 821,277C826.2,285.2 839.3,295.3 843,299" fill="none" stroke="#f2bccd" stroke-width="5.5" stroke-linecap="round" stroke-linejoin="round"/>
<path d="M875,250C875,252.7 871.8,257 875,266C878.2,275 889,291.3 894,304C899,316.7 901,333.8 905,342C909,350.2 915.8,351.2 918,353" fill="none" stroke="#b07e90" stroke-width="7.5" stroke-linecap="round" stroke-linejoin="round"/><path d="M875,250C875,252.7 871.8,257 875,266C878.2,275 889,291.3 894,304C899,316.7 901,333.8 905,342C909,350.2 915.8,351.2 918,353" fill="none" stroke="#f2bccd" stroke-width="5.5" stroke-linecap="round" stroke-linejoin="round"/>
<path d="M1005,429C1010.8,426.3 1026.5,416.7 1040,413C1053.5,409.3 1076.5,402.5 1086,407C1095.5,411.5 1097,430 1097,440C1097,450 1090,458 1086,467C1082,476 1070.3,485 1073,494C1075.7,503 1097.2,516.5 1102,521" fill="none" stroke="#b07e90" stroke-width="7.5" stroke-linecap="round" stroke-linejoin="round"/><path d="M1005,429C1010.8,426.3 1026.5,416.7 1040,413C1053.5,409.3 1076.5,402.5 1086,407C1095.5,411.5 1097,430 1097,440C1097,450 1090,458 1086,467C1082,476 1070.3,485 1073,494C1075.7,503 1097.2,516.5 1102,521" fill="none" stroke="#f2bccd" stroke-width="5.5" stroke-linecap="round" stroke-linejoin="round"/>
<path d="M1027,543C1030.2,534.8 1038.3,509 1046,494C1053.7,479 1068.5,459.8 1073,453" fill="none" stroke="#b07e90" stroke-width="7.5" stroke-linecap="round" stroke-linejoin="round"/><path d="M1027,543C1030.2,534.8 1038.3,509 1046,494C1053.7,479 1068.5,459.8 1073,453" fill="none" stroke="#f2bccd" stroke-width="5.5" stroke-linecap="round" stroke-linejoin="round"/>
<path d="M978,472C982.5,471.2 996.8,464.3 1005,467C1013.2,469.7 1022.5,480.8 1027,488C1031.5,495.2 1031.2,506.3 1032,510" fill="none" stroke="#b07e90" stroke-width="7.5" stroke-linecap="round" stroke-linejoin="round"/><path d="M978,472C982.5,471.2 996.8,464.3 1005,467C1013.2,469.7 1022.5,480.8 1027,488C1031.5,495.2 1031.2,506.3 1032,510" fill="none" stroke="#f2bccd" stroke-width="5.5" stroke-linecap="round" stroke-linejoin="round"/>
<path d="M986,556C989.2,557 997.3,567.8 1005,562C1012.7,556.2 1020.7,530.2 1032,521C1043.3,511.8 1063,508.8 1073,507C1083,505.2 1088.8,509.5 1092,510" fill="none" stroke="#b07e90" stroke-width="7.5" stroke-linecap="round" stroke-linejoin="round"/><path d="M986,556C989.2,557 997.3,567.8 1005,562C1012.7,556.2 1020.7,530.2 1032,521C1043.3,511.8 1063,508.8 1073,507C1083,505.2 1088.8,509.5 1092,510" fill="none" stroke="#f2bccd" stroke-width="5.5" stroke-linecap="round" stroke-linejoin="round"/>
<path d="M840,521C840.5,527.8 839,552.5 843,562C847,571.5 856.8,574.8 864,578C871.2,581.2 882.3,580.5 886,581" fill="none" stroke="#b07e90" stroke-width="7.5" stroke-linecap="round" stroke-linejoin="round"/><path d="M840,521C840.5,527.8 839,552.5 843,562C847,571.5 856.8,574.8 864,578C871.2,581.2 882.3,580.5 886,581" fill="none" stroke="#f2bccd" stroke-width="5.5" stroke-linecap="round" stroke-linejoin="round"/>
<path d="M924,510C923.5,514.5 921.5,532.5 921,537" fill="none" stroke="#b07e90" stroke-width="7.5" stroke-linecap="round" stroke-linejoin="round"/><path d="M924,510C923.5,514.5 921.5,532.5 921,537" fill="none" stroke="#f2bccd" stroke-width="5.5" stroke-linecap="round" stroke-linejoin="round"/>
<path d="M843,330C847.5,333.3 864.5,341.7 870,350C875.5,358.3 872.7,370 876,380C879.3,390 887.7,405 890,410" fill="none" stroke="#b07e90" stroke-width="7.5" stroke-linecap="round" stroke-linejoin="round"/><path d="M843,330C847.5,333.3 864.5,341.7 870,350C875.5,358.3 872.7,370 876,380C879.3,390 887.7,405 890,410" fill="none" stroke="#f2bccd" stroke-width="5.5" stroke-linecap="round" stroke-linejoin="round"/>
<path d="M0,-8.5 73.2,-8.5 73.2,-13.6 104.6,0 73.2,13.6 73.2,8.5 0,8.5Z" transform="translate(918,353) rotate(38.4)" fill="url(#sp)" stroke="#a0707f" stroke-width="1.4"/>
<path d="M0,-10 189.3,-10 189.3,-16 223.3,0 189.3,16 189.3,10 0,10Z" transform="translate(783,392) rotate(9.8)" fill="url(#sp)" stroke="#a0707f" stroke-width="1.4"/>
<path d="M0,-9 170,-9 170,-14.4 204,0 170,14.4 170,9 0,9Z" transform="translate(800,412) rotate(5.6)" fill="url(#sp)" stroke="#a0707f" stroke-width="1.4"/>
<path d="M0,-10 145.1,-10 145.1,-16 179.1,0 145.1,16 145.1,10 0,10Z" transform="translate(826,430) rotate(1.9)" fill="url(#sp)" stroke="#a0707f" stroke-width="1.4"/>
<path d="M0,-10 92,-1.5 92,1.5 0,10Z" transform="translate(810,467) rotate(0)" fill="url(#sp)" stroke="#a0707f" stroke-width="1.4"/>
<path d="M0,-7 53.8,-7 53.8,-11.2 76.8,0 53.8,11.2 53.8,7 0,7Z" transform="translate(875,494) rotate(161.8)" fill="url(#sp)" stroke="#a0707f" stroke-width="1.4"/>
<use href="#hp2" transform="translate(785,410) rotate(94.6) scale(31.10,27.5)"/>
<use href="#hp2" transform="translate(908,467) rotate(-10.6) scale(30.01,27.5)"/>
<use href="#hp2" transform="translate(891,572) rotate(-14.6) scale(47.54,27.5)"/>
<use href="#hp1" transform="translate(807,300) rotate(34.8) scale(43.83,19.8)"/>
<use href="#hp1" transform="translate(790,325) rotate(54.5) scale(43.01,19.8)"/>
<g fill="none" stroke-linecap="round" stroke-linejoin="round"><path d="M708.7,165.5 701.4,164.6 693,169.1" stroke="#8a0040" stroke-width="5.8"/><path d="M708.7,165.5 701.4,164.6 693,169.1" stroke="#f5137d" stroke-width="4.2"/><path d="M674.4,143.4 675.2,154.1 683.2,159.1 695.3,158.1 702.6,165.3" stroke="#8a0040" stroke-width="5.8"/><path d="M674.4,143.4 675.2,154.1 683.2,159.1 695.3,158.1 702.6,165.3" stroke="#f5137d" stroke-width="4.2"/><path d="M742.1,316.2 732.3,312.9 723.6,319.1" stroke="#8a0040" stroke-width="5.8"/><path d="M742.1,316.2 732.3,312.9 723.6,319.1" stroke="#f5137d" stroke-width="4.2"/><path d="M732,305.7 739.1,301 738.8,292.5 748.3,284.8" stroke="#8a0040" stroke-width="5.8"/><path d="M732,305.7 739.1,301 738.8,292.5 748.3,284.8" stroke="#f5137d" stroke-width="4.2"/><path d="M763.5,216 771.1,220.9 772.9,233.5" stroke="#8a0040" stroke-width="5.8"/><path d="M763.5,216 771.1,220.9 772.9,233.5" stroke="#f5137d" stroke-width="4.2"/><path d="M710.9,238.9 705.5,250.3 698.1,251.1 689.9,241.1" stroke="#8a0040" stroke-width="5.8"/><path d="M710.9,238.9 705.5,250.3 698.1,251.1 689.9,241.1" stroke="#f5137d" stroke-width="4.2"/><path d="M776,214.7 766.2,215.7 761.5,224.5 765.6,231.1 777.9,233.2" stroke="#8a0040" stroke-width="5.8"/><path d="M776,214.7 766.2,215.7 761.5,224.5 765.6,231.1 777.9,233.2" stroke="#f5137d" stroke-width="4.2"/><path d="M732,171.2 733.7,183.3 723.7,191.5 716.7,187.8" stroke="#8a0040" stroke-width="5.8"/><path d="M732,171.2 733.7,183.3 723.7,191.5 716.7,187.8" stroke="#f5137d" stroke-width="4.2"/><path d="M744.5,206.7 749.4,214.1 759.5,213.9 767.1,204.4" stroke="#8a0040" stroke-width="5.8"/><path d="M744.5,206.7 749.4,214.1 759.5,213.9 767.1,204.4" stroke="#f5137d" stroke-width="4.2"/><path d="M740.5,256.5 733.1,256.7 728.3,262.7 728.1,273.1" stroke="#8a0040" stroke-width="5.8"/><path d="M740.5,256.5 733.1,256.7 728.3,262.7 728.1,273.1" stroke="#f5137d" stroke-width="4.2"/><path d="M747.9,135.9 759.9,140 762.6,147.2 755.4,153.7" stroke="#8a0040" stroke-width="5.8"/><path d="M747.9,135.9 759.9,140 762.6,147.2 755.4,153.7" stroke="#f5137d" stroke-width="4.2"/><path d="M730.3,141.6 730.8,152.7 739.6,161.9 740.4,172.2" stroke="#8a0040" stroke-width="5.8"/><path d="M730.3,141.6 730.8,152.7 739.6,161.9 740.4,172.2" stroke="#f5137d" stroke-width="4.2"/><path d="M759,206.1 749,203.8 745.3,193.8" stroke="#8a0040" stroke-width="5.8"/><path d="M759,206.1 749,203.8 745.3,193.8" stroke="#f5137d" stroke-width="4.2"/><path d="M719.1,405.6 710.5,415.3 702.4,415 694.6,405.1" stroke="#8a0040" stroke-width="5.8"/><path d="M719.1,405.6 710.5,415.3 702.4,415 694.6,405.1" stroke="#f5137d" stroke-width="4.2"/><path d="M714.2,191.1 708.4,200.1 711.7,210.5" stroke="#8a0040" stroke-width="5.8"/><path d="M714.2,191.1 708.4,200.1 711.7,210.5" stroke="#f5137d" stroke-width="4.2"/><path d="M773,141.2 764.9,140.2 755.9,131.4 756.8,119.9" stroke="#8a0040" stroke-width="5.8"/><path d="M773,141.2 764.9,140.2 755.9,131.4 756.8,119.9" stroke="#f5137d" stroke-width="4.2"/><path d="M744.8,281.3 748.3,272.9 745.9,261.3 734.5,255.9 735,247.8" stroke="#8a0040" stroke-width="5.8"/><path d="M744.8,281.3 748.3,272.9 745.9,261.3 734.5,255.9 735,247.8" stroke="#f5137d" stroke-width="4.2"/><path d="M768.1,230 762.2,236.9 750.4,235.4" stroke="#8a0040" stroke-width="5.8"/><path d="M768.1,230 762.2,236.9 750.4,235.4" stroke="#f5137d" stroke-width="4.2"/><path d="M734.8,414.4 734,407.3 742.7,401.2" stroke="#8a0040" stroke-width="5.8"/><path d="M734.8,414.4 734,407.3 742.7,401.2" stroke="#f5137d" stroke-width="4.2"/><path d="M769.8,165.1 778.7,164.7 782.7,171.3 791,173.6 799.4,167.5" stroke="#8a0040" stroke-width="5.8"/><path d="M769.8,165.1 778.7,164.7 782.7,171.3 791,173.6 799.4,167.5" stroke="#f5137d" stroke-width="4.2"/><path d="M724.8,335.4 719.4,343.5 711,344.1 705.1,333.2 697.3,333.4" stroke="#8a0040" stroke-width="5.8"/><path d="M724.8,335.4 719.4,343.5 711,344.1 705.1,333.2 697.3,333.4" stroke="#f5137d" stroke-width="4.2"/><path d="M754.1,162.6 752.5,155.2 757.7,145.5 755.6,136.1" stroke="#8a0040" stroke-width="5.8"/><path d="M754.1,162.6 752.5,155.2 757.7,145.5 755.6,136.1" stroke="#f5137d" stroke-width="4.2"/><path d="M734.6,234.8 741.6,236.2 745.1,242.4 741.6,250.5" stroke="#8a0040" stroke-width="5.8"/><path d="M734.6,234.8 741.6,236.2 745.1,242.4 741.6,250.5" stroke="#f5137d" stroke-width="4.2"/><path d="M789,194.1 801.4,193.9 807,188.5" stroke="#8a0040" stroke-width="5.8"/><path d="M789,194.1 801.4,193.9 807,188.5" stroke="#f5137d" stroke-width="4.2"/><path d="M722,445.4 733.3,440 739.6,444.1 746.7,440.1" stroke="#8a0040" stroke-width="5.8"/><path d="M722,445.4 733.3,440 739.6,444.1 746.7,440.1" stroke="#f5137d" stroke-width="4.2"/><path d="M785.9,209 794.7,217.3 802.4,217.3" stroke="#8a0040" stroke-width="5.8"/><path d="M785.9,209 794.7,217.3 802.4,217.3" stroke="#f5137d" stroke-width="4.2"/><path d="M721.4,446.9 709.6,451.8 701.6,450" stroke="#8a0040" stroke-width="5.8"/><path d="M721.4,446.9 709.6,451.8 701.6,450" stroke="#f5137d" stroke-width="4.2"/><path d="M707.1,222.2 713.7,217.6 725.3,223.5 736.6,221.9" stroke="#8a0040" stroke-width="5.8"/><path d="M707.1,222.2 713.7,217.6 725.3,223.5 736.6,221.9" stroke="#f5137d" stroke-width="4.2"/><path d="M739.4,179.7 735,189.7 723,192.4 713.8,183.3" stroke="#8a0040" stroke-width="5.8"/><path d="M739.4,179.7 735,189.7 723,192.4 713.8,183.3" stroke="#f5137d" stroke-width="4.2"/><path d="M711.3,416.3 703.1,412.3 697.5,416.5 690.3,415 687.7,404.3" stroke="#8a0040" stroke-width="5.8"/><path d="M711.3,416.3 703.1,412.3 697.5,416.5 690.3,415 687.7,404.3" stroke="#f5137d" stroke-width="4.2"/><path d="M703.1,199.1 707,208 703.6,216.2 692,221.6" stroke="#8a0040" stroke-width="5.8"/><path d="M703.1,199.1 707,208 703.6,216.2 692,221.6" stroke="#f5137d" stroke-width="4.2"/><path d="M706.8,241.2 713.2,233.5 712.5,221.9 707,216.7" stroke="#8a0040" stroke-width="5.8"/><path d="M706.8,241.2 713.2,233.5 712.5,221.9 707,216.7" stroke="#f5137d" stroke-width="4.2"/><path d="M718.9,125.3 730.1,119.1 730.8,107.8 741,103" stroke="#8a0040" stroke-width="5.8"/><path d="M718.9,125.3 730.1,119.1 730.8,107.8 741,103" stroke="#f5137d" stroke-width="4.2"/><path d="M731.7,214.6 721.1,218.4 712,210.9" stroke="#8a0040" stroke-width="5.8"/><path d="M731.7,214.6 721.1,218.4 712,210.9" stroke="#f5137d" stroke-width="4.2"/><path d="M733.1,417.3 730.9,410.3 738,404.4 748.4,406.8 754,402.5" stroke="#8a0040" stroke-width="5.8"/><path d="M733.1,417.3 730.9,410.3 738,404.4 748.4,406.8 754,402.5" stroke="#f5137d" stroke-width="4.2"/><path d="M732.9,307 734.2,299.6 743.4,292.7" stroke="#8a0040" stroke-width="5.8"/><path d="M732.9,307 734.2,299.6 743.4,292.7" stroke="#f5137d" stroke-width="4.2"/><path d="M696.1,349.2 691.5,359.2 697,368.6 706,369.3" stroke="#8a0040" stroke-width="5.8"/><path d="M696.1,349.2 691.5,359.2 697,368.6 706,369.3" stroke="#f5137d" stroke-width="4.2"/><path d="M753,365 743.1,366.3 738.5,376.3" stroke="#8a0040" stroke-width="5.8"/><path d="M753,365 743.1,366.3 738.5,376.3" stroke="#f5137d" stroke-width="4.2"/><path d="M704.3,300.1 702.7,310.3 690.4,313.2 686.4,319.4" stroke="#8a0040" stroke-width="5.8"/><path d="M704.3,300.1 702.7,310.3 690.4,313.2 686.4,319.4" stroke="#f5137d" stroke-width="4.2"/><path d="M675.1,143.2 682.4,133.8 693.4,136.3 702.9,128.7" stroke="#8a0040" stroke-width="5.8"/><path d="M675.1,143.2 682.4,133.8 693.4,136.3 702.9,128.7" stroke="#f5137d" stroke-width="4.2"/><path d="M718.2,168.5 728,174.3 730.1,182.9 726,193.7 715.2,200" stroke="#8a0040" stroke-width="5.8"/><path d="M718.2,168.5 728,174.3 730.1,182.9 726,193.7 715.2,200" stroke="#f5137d" stroke-width="4.2"/><path d="M704.1,247 703.3,256.5 695.3,259.7 694.5,268.4 699.7,275.2" stroke="#8a0040" stroke-width="5.8"/><path d="M704.1,247 703.3,256.5 695.3,259.7 694.5,268.4 699.7,275.2" stroke="#f5137d" stroke-width="4.2"/><path d="M734,179.9 737.3,190.1 744.4,191.8 749.7,202" stroke="#8a0040" stroke-width="5.8"/><path d="M734,179.9 737.3,190.1 744.4,191.8 749.7,202" stroke="#f5137d" stroke-width="4.2"/><path d="M752,215.3 760.8,211.7 771.4,216 774.2,223.9 769,231.7" stroke="#8a0040" stroke-width="5.8"/><path d="M752,215.3 760.8,211.7 771.4,216 774.2,223.9 769,231.7" stroke="#f5137d" stroke-width="4.2"/><path d="M687.6,169.5 695.8,173.3 698.6,183.2 705.9,188.5" stroke="#8a0040" stroke-width="5.8"/><path d="M687.6,169.5 695.8,173.3 698.6,183.2 705.9,188.5" stroke="#f5137d" stroke-width="4.2"/><path d="M699.9,319.6 711.3,321 718.1,315.2 717.8,304.7 723.8,296.7" stroke="#8a0040" stroke-width="5.8"/><path d="M699.9,319.6 711.3,321 718.1,315.2 717.8,304.7 723.8,296.7" stroke="#f5137d" stroke-width="4.2"/><path d="M725.2,461.1 725.2,449.8 734.4,446" stroke="#8a0040" stroke-width="5.8"/><path d="M725.2,461.1 725.2,449.8 734.4,446" stroke="#f5137d" stroke-width="4.2"/><path d="M728.2,275.2 722.2,263.9 710.9,264.7" stroke="#8a0040" stroke-width="5.8"/><path d="M728.2,275.2 722.2,263.9 710.9,264.7" stroke="#f5137d" stroke-width="4.2"/><path d="M752.4,391.4 747.4,397.4 749.9,405.8 759.6,408.9 761.4,416.4" stroke="#8a0040" stroke-width="5.8"/><path d="M752.4,391.4 747.4,397.4 749.9,405.8 759.6,408.9 761.4,416.4" stroke="#f5137d" stroke-width="4.2"/><path d="M743.7,252.8 749.8,259.1 749.9,268 756.4,273.3 765.9,273.9" stroke="#8a0040" stroke-width="5.8"/><path d="M743.7,252.8 749.8,259.1 749.9,268 756.4,273.3 765.9,273.9" stroke="#f5137d" stroke-width="4.2"/><path d="M752.7,130.4 750.2,138.4 741.9,139.3 737.2,149.6 729.1,150.6" stroke="#8a0040" stroke-width="5.8"/><path d="M752.7,130.4 750.2,138.4 741.9,139.3 737.2,149.6 729.1,150.6" stroke="#f5137d" stroke-width="4.2"/><path d="M733.2,185.5 738.2,178.9 748.5,176.1 750.2,166.3" stroke="#8a0040" stroke-width="5.8"/><path d="M733.2,185.5 738.2,178.9 748.5,176.1 750.2,166.3" stroke="#f5137d" stroke-width="4.2"/><path d="M745.5,262.9 752,253.7 764.9,254.8" stroke="#8a0040" stroke-width="5.8"/><path d="M745.5,262.9 752,253.7 764.9,254.8" stroke="#f5137d" stroke-width="4.2"/><path d="M790.8,231.2 788.4,241.9 775.9,245.1 769.6,242.1 765.3,233.6" stroke="#8a0040" stroke-width="5.8"/><path d="M790.8,231.2 788.4,241.9 775.9,245.1 769.6,242.1 765.3,233.6" stroke="#f5137d" stroke-width="4.2"/><path d="M767.4,249.9 775.3,241.8 774.6,229.3 766,221.8" stroke="#8a0040" stroke-width="5.8"/><path d="M767.4,249.9 775.3,241.8 774.6,229.3 766,221.8" stroke="#f5137d" stroke-width="4.2"/><path d="M729.1,342.5 724.9,348.4 728.3,354.9 740.6,355.6 746.4,362.5" stroke="#8a0040" stroke-width="5.8"/><path d="M729.1,342.5 724.9,348.4 728.3,354.9 740.6,355.6 746.4,362.5" stroke="#f5137d" stroke-width="4.2"/><path d="M789.8,219.4 783.8,213.5 786.1,204 798.1,200.8 807.3,204.9" stroke="#8a0040" stroke-width="5.8"/><path d="M789.8,219.4 783.8,213.5 786.1,204 798.1,200.8 807.3,204.9" stroke="#f5137d" stroke-width="4.2"/><path d="M705.9,364.7 701.3,373.3 705,381.9" stroke="#8a0040" stroke-width="5.8"/><path d="M705.9,364.7 701.3,373.3 705,381.9" stroke="#f5137d" stroke-width="4.2"/><path d="M752.7,287.3 750.6,274.5 756.6,268.8" stroke="#8a0040" stroke-width="5.8"/><path d="M752.7,287.3 750.6,274.5 756.6,268.8" stroke="#f5137d" stroke-width="4.2"/><path d="M785.3,196.5 779.4,202.9 770.2,201.8 764.5,195.6 755.8,194.8" stroke="#8a0040" stroke-width="5.8"/><path d="M785.3,196.5 779.4,202.9 770.2,201.8 764.5,195.6 755.8,194.8" stroke="#f5137d" stroke-width="4.2"/><path d="M787.5,179.3 794.9,175.3 795.9,162.4 789.8,151.7" stroke="#8a0040" stroke-width="5.8"/><path d="M787.5,179.3 794.9,175.3 795.9,162.4 789.8,151.7" stroke="#f5137d" stroke-width="4.2"/><path d="M715.5,432.7 726,438.5 733.3,432.8" stroke="#8a0040" stroke-width="5.8"/><path d="M715.5,432.7 726,438.5 733.3,432.8" stroke="#f5137d" stroke-width="4.2"/><path d="M781.9,275.3 787.9,284 786.7,293.1 792.9,304.6 803.8,305.8" stroke="#8a0040" stroke-width="5.8"/><path d="M781.9,275.3 787.9,284 786.7,293.1 792.9,304.6 803.8,305.8" stroke="#f5137d" stroke-width="4.2"/><path d="M709.2,359.6 719.8,364.6 723.4,371.4 719.6,378.3" stroke="#8a0040" stroke-width="5.8"/><path d="M709.2,359.6 719.8,364.6 723.4,371.4 719.6,378.3" stroke="#f5137d" stroke-width="4.2"/><path d="M737.1,350.3 727.7,344.6 729.1,335.8 735,332" stroke="#8a0040" stroke-width="5.8"/><path d="M737.1,350.3 727.7,344.6 729.1,335.8 735,332" stroke="#f5137d" stroke-width="4.2"/><path d="M752,253.8 743.8,248.9 732.1,252.5" stroke="#8a0040" stroke-width="5.8"/><path d="M752,253.8 743.8,248.9 732.1,252.5" stroke="#f5137d" stroke-width="4.2"/><path d="M727.2,169.8 735.1,160.1 731.8,148 724.7,142.9 718.1,146.9" stroke="#8a0040" stroke-width="5.8"/><path d="M727.2,169.8 735.1,160.1 731.8,148 724.7,142.9 718.1,146.9" stroke="#f5137d" stroke-width="4.2"/><path d="M731.2,406.2 742.5,411.9 745.8,422" stroke="#8a0040" stroke-width="5.8"/><path d="M731.2,406.2 742.5,411.9 745.8,422" stroke="#f5137d" stroke-width="4.2"/><path d="M750.9,141.8 739.5,137.6 737.5,129.7 741.1,122.2 749.1,122.6" stroke="#8a0040" stroke-width="5.8"/><path d="M750.9,141.8 739.5,137.6 737.5,129.7 741.1,122.2 749.1,122.6" stroke="#f5137d" stroke-width="4.2"/><path d="M713.5,165 716.5,153.3 710.5,146.8" stroke="#8a0040" stroke-width="5.8"/><path d="M713.5,165 716.5,153.3 710.5,146.8" stroke="#f5137d" stroke-width="4.2"/><path d="M717.6,277.7 726,276.3 732.5,283.5 732.8,290.5" stroke="#8a0040" stroke-width="5.8"/><path d="M717.6,277.7 726,276.3 732.5,283.5 732.8,290.5" stroke="#f5137d" stroke-width="4.2"/><path d="M725.3,337.6 732.4,335.5 738.8,339.5" stroke="#8a0040" stroke-width="5.8"/><path d="M725.3,337.6 732.4,335.5 738.8,339.5" stroke="#f5137d" stroke-width="4.2"/><path d="M724.7,297.7 735.2,293.4 740.4,284.8 752.1,284.4 757.4,272.6" stroke="#8a0040" stroke-width="5.8"/><path d="M724.7,297.7 735.2,293.4 740.4,284.8 752.1,284.4 757.4,272.6" stroke="#f5137d" stroke-width="4.2"/><path d="M731.4,462 735,453.7 746,448" stroke="#8a0040" stroke-width="5.8"/><path d="M731.4,462 735,453.7 746,448" stroke="#f5137d" stroke-width="4.2"/><path d="M702.1,410.2 701.6,418.7 706.5,424.1 717.3,424 724,434.4" stroke="#8a0040" stroke-width="5.8"/><path d="M702.1,410.2 701.6,418.7 706.5,424.1 717.3,424 724,434.4" stroke="#f5137d" stroke-width="4.2"/><path d="M687.8,398.8 696.6,396.5 704.8,403 715,402.2 720.3,409.8" stroke="#8a0040" stroke-width="5.8"/><path d="M687.8,398.8 696.6,396.5 704.8,403 715,402.2 720.3,409.8" stroke="#f5137d" stroke-width="4.2"/><path d="M715.7,245.8 723.8,246.2 731.3,239.5 743.8,242.8" stroke="#8a0040" stroke-width="5.8"/><path d="M715.7,245.8 723.8,246.2 731.3,239.5 743.8,242.8" stroke="#f5137d" stroke-width="4.2"/><path d="M744.1,354.2 747,362.5 742.5,370.5" stroke="#8a0040" stroke-width="5.8"/><path d="M744.1,354.2 747,362.5 742.5,370.5" stroke="#f5137d" stroke-width="4.2"/><path d="M753.7,129.9 747.4,132.5 741.3,129.4 741.6,123.7 748,121 754,124.1Z" stroke="#8a0040" stroke-width="5.8"/><path d="M753.7,129.9 747.4,132.5 741.3,129.4 741.6,123.7 748,121 754,124.1Z" stroke="#f5137d" stroke-width="4.2"/><path d="M713.9,305.3 707,309.3 699.1,306.6 698.1,299.7 705.1,295.7 712.9,298.4Z" stroke="#8a0040" stroke-width="5.8"/><path d="M713.9,305.3 707,309.3 699.1,306.6 698.1,299.7 705.1,295.7 712.9,298.4Z" stroke="#f5137d" stroke-width="4.2"/><path d="M711.1,164 703.2,165.4 697.8,160.6 700.2,154.4 708.1,153 713.6,157.8Z" stroke="#8a0040" stroke-width="5.8"/><path d="M711.1,164 703.2,165.4 697.8,160.6 700.2,154.4 708.1,153 713.6,157.8Z" stroke="#f5137d" stroke-width="4.2"/><path d="M731.7,137.1 724.8,139.3 719,135.6 720,129.8 726.9,127.5 732.8,131.2Z" stroke="#8a0040" stroke-width="5.8"/><path d="M731.7,137.1 724.8,139.3 719,135.6 720,129.8 726.9,127.5 732.8,131.2Z" stroke="#f5137d" stroke-width="4.2"/><path d="M711.3,409.1 705.9,415.7 696,415.3 691.5,408.2 697,401.6 706.8,402Z" stroke="#8a0040" stroke-width="5.8"/><path d="M711.3,409.1 705.9,415.7 696,415.3 691.5,408.2 697,401.6 706.8,402Z" stroke="#f5137d" stroke-width="4.2"/><path d="M752.9,326.4 745.3,329.9 737.7,326.4 737.6,319.4 745.2,315.8 752.9,319.3Z" stroke="#8a0040" stroke-width="5.8"/><path d="M752.9,326.4 745.3,329.9 737.7,326.4 737.6,319.4 745.2,315.8 752.9,319.3Z" stroke="#f5137d" stroke-width="4.2"/><path d="M738.5,171.1 734.7,175.8 727.7,175.4 724.5,170.4 728.4,165.7 735.4,166.1Z" stroke="#8a0040" stroke-width="5.8"/><path d="M738.5,171.1 734.7,175.8 727.7,175.4 724.5,170.4 728.4,165.7 735.4,166.1Z" stroke="#f5137d" stroke-width="4.2"/><path d="M692.5,448.9 685.8,451.3 679.9,448 680.5,442.2 687.1,439.7 693.1,443.1Z" stroke="#8a0040" stroke-width="5.8"/><path d="M692.5,448.9 685.8,451.3 679.9,448 680.5,442.2 687.1,439.7 693.1,443.1Z" stroke="#f5137d" stroke-width="4.2"/><path d="M760.8,185.9 753.7,189.2 746.6,185.9 746.5,179.3 753.6,176 760.8,179.3Z" stroke="#8a0040" stroke-width="5.8"/><path d="M760.8,185.9 753.7,189.2 746.6,185.9 746.5,179.3 753.6,176 760.8,179.3Z" stroke="#f5137d" stroke-width="4.2"/><path d="M758.5,352.1 751,354.9 744.3,351.1 745,344.5 752.5,341.7 759.2,345.5Z" stroke="#8a0040" stroke-width="5.8"/><path d="M758.5,352.1 751,354.9 744.3,351.1 745,344.5 752.5,341.7 759.2,345.5Z" stroke="#f5137d" stroke-width="4.2"/></g>
<path d="M1490,167C1500.5,161.5 1518,164.8 1528,167C1538,169.2 1546.3,172.8 1550,180C1553.7,187.2 1548.3,194.2 1550,210C1551.7,225.8 1560.8,254.2 1560,275C1559.2,295.8 1550.8,320 1545,335C1539.2,350 1525,359.2 1525,365C1525,370.8 1535.3,372.5 1545,370C1554.7,367.5 1571.3,354.2 1583,350C1594.7,345.8 1607.2,352.5 1615,345C1622.8,337.5 1626.7,316.7 1630,305C1633.3,293.3 1635.8,287.5 1635,275C1634.2,262.5 1624.5,240.8 1625,230C1625.5,219.2 1634.7,222.3 1638,210C1641.3,197.7 1638.2,166 1645,156C1651.8,146 1670.3,149.5 1679,150C1687.7,150.5 1689,157.5 1697,159C1705,160.5 1716.3,157.3 1727,159C1737.7,160.7 1751.8,165 1761,169C1770.2,173 1777.3,171.5 1782,183C1786.7,194.5 1789,217.5 1789,238C1789,258.5 1785.5,285.5 1782,306C1778.5,326.5 1773.7,342.7 1768,361C1762.3,379.3 1754.8,397.7 1748,416C1741.2,434.3 1732.8,457.3 1727,471C1721.2,484.7 1707.3,491.2 1713,498C1718.7,504.8 1751.8,504 1761,512C1770.2,520 1771.3,538 1768,546C1764.7,554 1751.5,555.2 1741,560C1730.5,564.8 1714.3,567.5 1705,575C1695.7,582.5 1690.8,595.3 1685,605C1679.2,614.7 1677.5,626.3 1670,633C1662.5,639.7 1650.8,642.2 1640,645C1629.2,647.8 1617.5,649.7 1605,650C1592.5,650.3 1575.8,649.5 1565,647C1554.2,644.5 1545,642 1540,635C1535,628 1536.2,621.7 1535,605C1533.8,588.3 1535.5,552.5 1533,535C1530.5,517.5 1527.2,506.3 1520,500C1512.8,493.7 1497.5,491.2 1490,497C1482.5,502.8 1477.5,515.7 1475,535C1472.5,554.3 1480,599.3 1475,613C1470,626.7 1455.3,619.2 1445,617C1434.7,614.8 1423.3,602 1413,600C1402.7,598 1394.3,606.7 1383,605C1371.7,603.3 1358,592.8 1345,590C1332,587.2 1316.7,588 1305,588C1293.3,588 1282.5,593.8 1275,590C1267.5,586.2 1264.2,574.7 1260,565C1255.8,555.3 1249.8,540.8 1250,532C1250.2,523.2 1255.7,520 1261,512C1266.3,504 1277.3,495.5 1282,484C1286.7,472.5 1287.3,456.7 1289,443C1290.7,429.3 1290.3,415.7 1292,402C1293.7,388.3 1298.3,373.5 1299,361C1299.7,348.5 1294.2,335.5 1296,327C1297.8,318.5 1303.2,315.3 1310,310C1316.8,304.7 1326.2,302.2 1337,295C1347.8,287.8 1363.3,275.7 1375,267C1386.7,258.3 1397,249.2 1407,243C1417,236.8 1425.3,237.2 1435,230C1444.7,222.8 1455.8,210.5 1465,200C1474.2,189.5 1479.5,172.5 1490,167Z" fill="#dcdef2" fill-opacity="1.0"/>
<use href="#hl1" transform="translate(1743.1,514.5) rotate(103.2) scale(43.18,25)"/>
<use href="#hl4" transform="translate(1727.5,163.2) rotate(90.7) scale(37.11,26.8)"/>
<use href="#hl3" transform="translate(1727.8,332.6) rotate(104.6) scale(47.54,26)"/>
<use href="#hl3" transform="translate(1686.3,486.4) rotate(103.8) scale(45.71,23.3)"/>
<use href="#hl2" transform="translate(1680.8,187.8) rotate(107.8) scale(44.10,24.4)"/>
<use href="#hl3" transform="translate(1657.5,289.9) rotate(98.1) scale(45.59,25.3)"/>
<use href="#hl2" transform="translate(1630.3,449.7) rotate(92.7) scale(36.08,26.3)"/>
<use href="#hl2" transform="translate(1612.1,545.9) rotate(100.8) scale(48.50,26)"/>
<use href="#hl3" transform="translate(1596.3,376.3) rotate(105) scale(45.18,24.9)"/>
<use href="#hl3" transform="translate(1528.8,284.8) rotate(95.5) scale(46.20,24.5)"/>
<use href="#hl2" transform="translate(1496.9,240.3) rotate(103.5) scale(46.42,27.5)"/>
<use href="#hl3" transform="translate(1467.8,361.6) rotate(101.1) scale(47.10,27.4)"/>
<use href="#hl2" transform="translate(1413.6,309.9) rotate(100.2) scale(38.59,24.6)"/>
<use href="#hl4" transform="translate(1409.7,423.5) rotate(108.1) scale(40.55,23.8)"/>
<use href="#hl4" transform="translate(1360.8,326.3) rotate(103.8) scale(37.44,25.3)"/>
<use href="#hl2" transform="translate(1315.6,502.6) rotate(93.6) scale(39.65,23.4)"/>
<path d="M1337.4,243.7C1338,244.3 1339.2,245 1341,247.4C1342.8,249.9 1342.9,257.8 1348.4,258.4C1354,259 1368.1,255.3 1374.3,251C1380.5,246.7 1377.7,235.7 1385.4,232.6C1393.1,229.5 1414.7,232.6 1420.5,232.6" fill="none" stroke="#5c5f90" stroke-width="7.5" stroke-linecap="round" stroke-linejoin="round"/><path d="M1337.4,243.7C1338,244.3 1339.2,245 1341,247.4C1342.8,249.9 1342.9,257.8 1348.4,258.4C1354,259 1368.1,255.3 1374.3,251C1380.5,246.7 1377.7,235.7 1385.4,232.6C1393.1,229.5 1414.7,232.6 1420.5,232.6" fill="none" stroke="#a9acdf" stroke-width="5.5" stroke-linecap="round" stroke-linejoin="round"/>
<path d="M1339.2,243.7C1335.8,246.2 1325.4,254.1 1318.9,258.4C1312.4,262.7 1303.2,265.2 1300.4,269.5C1297.6,273.8 1297.4,280 1302.3,284.3C1307.2,288.6 1323.8,290.8 1330,295.4C1336.2,300 1337.7,309.2 1339.2,312" fill="none" stroke="#5c5f90" stroke-width="7.5" stroke-linecap="round" stroke-linejoin="round"/><path d="M1339.2,243.7C1335.8,246.2 1325.4,254.1 1318.9,258.4C1312.4,262.7 1303.2,265.2 1300.4,269.5C1297.6,273.8 1297.4,280 1302.3,284.3C1307.2,288.6 1323.8,290.8 1330,295.4C1336.2,300 1337.7,309.2 1339.2,312" fill="none" stroke="#a9acdf" stroke-width="5.5" stroke-linecap="round" stroke-linejoin="round"/>
<path d="M1300.4,313.9C1297.3,317 1286.2,324.9 1281.9,332.3C1277.6,339.7 1274.6,351.4 1274.6,358.2C1274.6,365 1283.1,368.4 1281.9,373C1280.7,377.6 1272.1,381.6 1267.2,385.9C1262.3,390.2 1256.1,394.2 1252.4,398.8C1248.7,403.4 1248.7,407.6 1245,413.6C1241.3,419.6 1235,429.8 1230,435C1225,440.2 1217.5,443.3 1215,445" fill="none" stroke="#5c5f90" stroke-width="7.5" stroke-linecap="round" stroke-linejoin="round"/><path d="M1300.4,313.9C1297.3,317 1286.2,324.9 1281.9,332.3C1277.6,339.7 1274.6,351.4 1274.6,358.2C1274.6,365 1283.1,368.4 1281.9,373C1280.7,377.6 1272.1,381.6 1267.2,385.9C1262.3,390.2 1256.1,394.2 1252.4,398.8C1248.7,403.4 1248.7,407.6 1245,413.6C1241.3,419.6 1235,429.8 1230,435C1225,440.2 1217.5,443.3 1215,445" fill="none" stroke="#a9acdf" stroke-width="5.5" stroke-linecap="round" stroke-linejoin="round"/>
<path d="M1267.2,385.9C1269,387.4 1275.8,390.5 1278.3,395.1C1280.8,399.7 1278.2,408.7 1281.9,413.6C1285.6,418.5 1294.2,421.6 1300.4,424.7C1306.6,427.8 1315.8,430.8 1318.9,432" fill="none" stroke="#5c5f90" stroke-width="7.5" stroke-linecap="round" stroke-linejoin="round"/><path d="M1267.2,385.9C1269,387.4 1275.8,390.5 1278.3,395.1C1280.8,399.7 1278.2,408.7 1281.9,413.6C1285.6,418.5 1294.2,421.6 1300.4,424.7C1306.6,427.8 1315.8,430.8 1318.9,432" fill="none" stroke="#a9acdf" stroke-width="5.5" stroke-linecap="round" stroke-linejoin="round"/>
<path d="M1540.6,347C1538.1,350.7 1529.5,362.5 1525.8,369.3C1522.1,376.1 1519.6,384.6 1518.4,387.7" fill="none" stroke="#5c5f90" stroke-width="7.5" stroke-linecap="round" stroke-linejoin="round"/><path d="M1540.6,347C1538.1,350.7 1529.5,362.5 1525.8,369.3C1522.1,376.1 1519.6,384.6 1518.4,387.7" fill="none" stroke="#a9acdf" stroke-width="5.5" stroke-linecap="round" stroke-linejoin="round"/>
<path d="M1545,188C1546.5,187.4 1550,183.9 1554,184.6C1558,185.3 1565,188.3 1569,192C1573,195.7 1577.4,201.2 1578,206.7C1578.6,212.2 1572,220.4 1572.7,225C1573.4,229.6 1578,232.5 1582,234.4C1586,236.3 1594.2,236 1596.7,236.3" fill="none" stroke="#5c5f90" stroke-width="7.5" stroke-linecap="round" stroke-linejoin="round"/><path d="M1545,188C1546.5,187.4 1550,183.9 1554,184.6C1558,185.3 1565,188.3 1569,192C1573,195.7 1577.4,201.2 1578,206.7C1578.6,212.2 1572,220.4 1572.7,225C1573.4,229.6 1578,232.5 1582,234.4C1586,236.3 1594.2,236 1596.7,236.3" fill="none" stroke="#a9acdf" stroke-width="5.5" stroke-linecap="round" stroke-linejoin="round"/>
<path d="M1545,275C1548.1,274.7 1557.3,274.5 1563.5,273C1569.7,271.5 1575.2,267 1582,265.8C1588.8,264.6 1601.2,262.7 1604,265.8C1606.8,268.9 1599.5,281.2 1598.6,284.3" fill="none" stroke="#5c5f90" stroke-width="7.5" stroke-linecap="round" stroke-linejoin="round"/><path d="M1545,275C1548.1,274.7 1557.3,274.5 1563.5,273C1569.7,271.5 1575.2,267 1582,265.8C1588.8,264.6 1601.2,262.7 1604,265.8C1606.8,268.9 1599.5,281.2 1598.6,284.3" fill="none" stroke="#a9acdf" stroke-width="5.5" stroke-linecap="round" stroke-linejoin="round"/>
<path d="M1545,347C1548.1,345.5 1558,339.2 1563.5,338C1569,336.8 1574.9,336.3 1578,339.7C1581.1,343.1 1578.3,355.1 1582,358.2C1585.7,361.3 1597.3,358.2 1600.4,358.2" fill="none" stroke="#5c5f90" stroke-width="7.5" stroke-linecap="round" stroke-linejoin="round"/><path d="M1545,347C1548.1,345.5 1558,339.2 1563.5,338C1569,336.8 1574.9,336.3 1578,339.7C1581.1,343.1 1578.3,355.1 1582,358.2C1585.7,361.3 1597.3,358.2 1600.4,358.2" fill="none" stroke="#a9acdf" stroke-width="5.5" stroke-linecap="round" stroke-linejoin="round"/>
<path d="M1685,321C1686.8,322.8 1691.7,329.2 1696,332C1700.3,334.8 1708.5,337 1711,338" fill="none" stroke="#5c5f90" stroke-width="7.5" stroke-linecap="round" stroke-linejoin="round"/><path d="M1685,321C1686.8,322.8 1691.7,329.2 1696,332C1700.3,334.8 1708.5,337 1711,338" fill="none" stroke="#a9acdf" stroke-width="5.5" stroke-linecap="round" stroke-linejoin="round"/>
<path d="M1396.5,599C1396.8,604.2 1398.3,622.2 1398.3,630.5C1398.3,638.8 1394.3,643.1 1396.5,649C1398.7,654.9 1402.7,664.7 1411.3,665.6C1419.9,666.5 1439,659.4 1448.2,654.5C1457.4,649.6 1460.6,640.9 1466.7,636C1472.8,631.1 1478.3,626.5 1485.1,625C1491.9,623.5 1501,622.9 1507.3,626.8C1513.5,630.7 1518.5,642.1 1522.6,648.5C1526.7,654.9 1528.9,660.9 1531.8,665C1534.7,669.1 1538.6,671.7 1540,673" fill="none" stroke="#5c5f90" stroke-width="7.5" stroke-linecap="round" stroke-linejoin="round"/><path d="M1396.5,599C1396.8,604.2 1398.3,622.2 1398.3,630.5C1398.3,638.8 1394.3,643.1 1396.5,649C1398.7,654.9 1402.7,664.7 1411.3,665.6C1419.9,666.5 1439,659.4 1448.2,654.5C1457.4,649.6 1460.6,640.9 1466.7,636C1472.8,631.1 1478.3,626.5 1485.1,625C1491.9,623.5 1501,622.9 1507.3,626.8C1513.5,630.7 1518.5,642.1 1522.6,648.5C1526.7,654.9 1528.9,660.9 1531.8,665C1534.7,669.1 1538.6,671.7 1540,673" fill="none" stroke="#a9acdf" stroke-width="5.5" stroke-linecap="round" stroke-linejoin="round"/>
<path d="M1245,554.8C1249.6,554.8 1263.5,551.4 1272.7,554.8C1281.9,558.2 1291.2,570.7 1300.4,575C1309.6,579.3 1318.9,580.6 1328.1,580.6C1337.3,580.6 1346.6,575.6 1355.8,575C1365,574.4 1378.9,576.7 1383.5,577" fill="none" stroke="#5c5f90" stroke-width="7.5" stroke-linecap="round" stroke-linejoin="round"/><path d="M1245,554.8C1249.6,554.8 1263.5,551.4 1272.7,554.8C1281.9,558.2 1291.2,570.7 1300.4,575C1309.6,579.3 1318.9,580.6 1328.1,580.6C1337.3,580.6 1346.6,575.6 1355.8,575C1365,574.4 1378.9,576.7 1383.5,577" fill="none" stroke="#a9acdf" stroke-width="5.5" stroke-linecap="round" stroke-linejoin="round"/>
<path d="M1629.7,633.7C1630.6,637.4 1635,646.1 1635,656C1635,665.9 1631.9,684.7 1629.7,693C1627.5,701.3 1623.3,703.6 1622,705.7" fill="none" stroke="#5c5f90" stroke-width="7.5" stroke-linecap="round" stroke-linejoin="round"/><path d="M1629.7,633.7C1630.6,637.4 1635,646.1 1635,656C1635,665.9 1631.9,684.7 1629.7,693C1627.5,701.3 1623.3,703.6 1622,705.7" fill="none" stroke="#a9acdf" stroke-width="5.5" stroke-linecap="round" stroke-linejoin="round"/>
<path d="M1563,674C1564.8,671 1566,658.4 1574,656C1582,653.6 1601.7,660.8 1611,659.5C1620.3,658.2 1626.6,650.3 1629.7,648.5" fill="none" stroke="#5c5f90" stroke-width="7.5" stroke-linecap="round" stroke-linejoin="round"/><path d="M1563,674C1564.8,671 1566,658.4 1574,656C1582,653.6 1601.7,660.8 1611,659.5C1620.3,658.2 1626.6,650.3 1629.7,648.5" fill="none" stroke="#a9acdf" stroke-width="5.5" stroke-linecap="round" stroke-linejoin="round"/>
<path d="M1203,436C1205.8,434.8 1212.5,426.7 1220,429C1227.5,431.3 1241.2,440.8 1248,450C1254.8,459.2 1258.8,478.3 1261,484" fill="none" stroke="#5c5f90" stroke-width="7.5" stroke-linecap="round" stroke-linejoin="round"/><path d="M1203,436C1205.8,434.8 1212.5,426.7 1220,429C1227.5,431.3 1241.2,440.8 1248,450C1254.8,459.2 1258.8,478.3 1261,484" fill="none" stroke="#a9acdf" stroke-width="5.5" stroke-linecap="round" stroke-linejoin="round"/>
<path d="M1227,539C1230.5,536.7 1240,526.2 1248,525C1256,523.8 1270.5,530.8 1275,532" fill="none" stroke="#5c5f90" stroke-width="7.5" stroke-linecap="round" stroke-linejoin="round"/><path d="M1227,539C1230.5,536.7 1240,526.2 1248,525C1256,523.8 1270.5,530.8 1275,532" fill="none" stroke="#a9acdf" stroke-width="5.5" stroke-linecap="round" stroke-linejoin="round"/>
<path d="M1250,505C1247.8,508.3 1237.8,515 1237,525C1236.2,535 1240.3,555.8 1245,565C1249.7,574.2 1261.7,577.5 1265,580" fill="none" stroke="#5c5f90" stroke-width="7.5" stroke-linecap="round" stroke-linejoin="round"/><path d="M1250,505C1247.8,508.3 1237.8,515 1237,525C1236.2,535 1240.3,555.8 1245,565C1249.7,574.2 1261.7,577.5 1265,580" fill="none" stroke="#a9acdf" stroke-width="5.5" stroke-linecap="round" stroke-linejoin="round"/>
<use href="#hl2" transform="translate(1625,240) rotate(16.4) scale(44.30,22)"/>
<ellipse cx="1385.4" cy="580.6" rx="23.4" ry="21.1" fill="none" stroke="#5a5c88" stroke-width="13"/><ellipse cx="1385.4" cy="580.6" rx="23.4" ry="21.1" fill="none" stroke="#b3b6ea" stroke-width="10"/><ellipse cx="1391.4" cy="577.6" rx="23.4" ry="21.1" fill="none" stroke="#5a5c88" stroke-width="13"/><ellipse cx="1391.4" cy="577.6" rx="23.4" ry="21.1" fill="none" stroke="#b3b6ea" stroke-width="10"/>
<ellipse cx="1396.5" cy="532.6" rx="25.2" ry="22.7" fill="none" stroke="#5a5c88" stroke-width="13"/><ellipse cx="1396.5" cy="532.6" rx="25.2" ry="22.7" fill="none" stroke="#b3b6ea" stroke-width="10"/><ellipse cx="1402.5" cy="529.6" rx="25.2" ry="22.7" fill="none" stroke="#5a5c88" stroke-width="13"/><ellipse cx="1402.5" cy="529.6" rx="25.2" ry="22.7" fill="none" stroke="#b3b6ea" stroke-width="10"/>
<ellipse cx="1505" cy="395" rx="18" ry="16.2" fill="none" stroke="#5a5c88" stroke-width="13"/><ellipse cx="1505" cy="395" rx="18" ry="16.2" fill="none" stroke="#b3b6ea" stroke-width="10"/><ellipse cx="1511" cy="392" rx="18" ry="16.2" fill="none" stroke="#5a5c88" stroke-width="13"/><ellipse cx="1511" cy="392" rx="18" ry="16.2" fill="none" stroke="#b3b6ea" stroke-width="10"/>
<use href="#hl5" transform="translate(1512.9,173.5) rotate(107.7) scale(42.65,28.6)"/>
<use href="#hl5" transform="translate(1424.2,238.1) rotate(115.3) scale(38.01,28.6)"/>
<use href="#hl2" transform="translate(1322.6,312) rotate(84.1) scale(44.59,24.2)"/>
<use href="#hl2" transform="translate(1407.6,358) rotate(87.9) scale(46.33,24.2)"/>
<use href="#hl3" transform="translate(1466.7,330.5) rotate(102.6) scale(42.29,28.6)"/>
<use href="#hl2" transform="translate(1494.4,385.9) rotate(60.3) scale(37.24,26.4)"/>
<use href="#hl2" transform="translate(1315,425) rotate(80) scale(43.16,26.4)"/>
<use href="#hl2" transform="translate(1345,457) rotate(16.2) scale(32.28,24.2)"/>
<use href="#hl1" transform="translate(1593,237) rotate(37.6) scale(49.20,19.8)"/>
<use href="#hl1" transform="translate(1555,305) rotate(-50.7) scale(28.43,17.6)"/>
<use href="#hl1" transform="translate(1595,335) rotate(-7.5) scale(38.33,16.5)"/>
<use href="#hl4" transform="translate(1451.9,464) rotate(87.9) scale(37.50,23.1)"/>
<use href="#hl2" transform="translate(1270.9,543.7) rotate(-14.1) scale(30.46,24.2)"/>
<use href="#hl1" transform="translate(1289.3,501) rotate(-17.6) scale(54.24,24.2)"/>
<use href="#hl2" transform="translate(1545,385) rotate(77.5) scale(46.10,26.4)"/>
<use href="#hl2" transform="translate(1585,395) rotate(71.6) scale(47.43,26.4)"/>
<use href="#hl1" transform="translate(1533,414) rotate(55.7) scale(53.25,19.8)"/>
<use href="#hl3" transform="translate(1565,475) rotate(78.7) scale(33.99,27.5)"/>
<use href="#hl3" transform="translate(1600,485) rotate(82.2) scale(37.01,27.5)"/>
<use href="#hl2" transform="translate(1555,595) rotate(30.3) scale(34.73,24.2)"/>
<use href="#hl3" transform="translate(1689,529) rotate(109.7) scale(34.69,27.5)"/>
<use href="#hl2" transform="translate(1537,673) rotate(20.4) scale(45.88,23.1)"/>
<use href="#hl8" transform="translate(1672,165) rotate(94.1) scale(38.85,27.5)"/>
<use href="#hl5" transform="translate(1757,171) rotate(94.2) scale(32.89,25.3)"/><g transform="translate(1757,171) rotate(94.2)"><use href="#hb1" transform="translate(0.0,0) scale(32.89,23)"/><use href="#hb1" transform="translate(32.9,0) scale(32.89,23)"/><use href="#hb1" transform="translate(65.8,0) scale(32.89,23)"/><use href="#hb1" transform="translate(98.7,0) scale(32.89,23)"/><use href="#hb1" transform="translate(131.6,0) scale(32.89,23)"/></g>
<use href="#hl2" transform="translate(1745,335) rotate(118.5) scale(39.82,24.2)"/><g transform="translate(1745,335) rotate(118.5)"><use href="#hb1" transform="translate(39.8,0) scale(39.82,22)"/></g>
<g fill="none" stroke-linecap="round" stroke-linejoin="round"><path d="M1739.6,145.9 1748.2,152.9 1755.1,151" stroke="#00006a" stroke-width="5.8"/><path d="M1739.6,145.9 1748.2,152.9 1755.1,151" stroke="#0505e8" stroke-width="4.2"/><path d="M1734.5,336.8 1739.7,327.7 1735.6,320.8 1737.7,313.2 1745.2,307.6" stroke="#00006a" stroke-width="5.8"/><path d="M1734.5,336.8 1739.7,327.7 1735.6,320.8 1737.7,313.2 1745.2,307.6" stroke="#0505e8" stroke-width="4.2"/><path d="M1688.2,152.5 1680.1,149.1 1677.6,138.2" stroke="#00006a" stroke-width="5.8"/><path d="M1688.2,152.5 1680.1,149.1 1677.6,138.2" stroke="#0505e8" stroke-width="4.2"/><path d="M1691.6,165.4 1685,174 1676.1,175.9" stroke="#00006a" stroke-width="5.8"/><path d="M1691.6,165.4 1685,174 1676.1,175.9" stroke="#0505e8" stroke-width="4.2"/><path d="M1743.8,386.8 1735.6,384.9 1729.3,373.6" stroke="#00006a" stroke-width="5.8"/><path d="M1743.8,386.8 1735.6,384.9 1729.3,373.6" stroke="#0505e8" stroke-width="4.2"/><path d="M1739.7,335.3 1727.9,334.5 1722.3,328.4" stroke="#00006a" stroke-width="5.8"/><path d="M1739.7,335.3 1727.9,334.5 1722.3,328.4" stroke="#0505e8" stroke-width="4.2"/><path d="M1706.2,462.6 1700.7,471.3 1691.1,470.9 1682.6,461.1" stroke="#00006a" stroke-width="5.8"/><path d="M1706.2,462.6 1700.7,471.3 1691.1,470.9 1682.6,461.1" stroke="#0505e8" stroke-width="4.2"/><path d="M1755.5,443.6 1752.4,452.3 1740.1,456.2" stroke="#00006a" stroke-width="5.8"/><path d="M1755.5,443.6 1752.4,452.3 1740.1,456.2" stroke="#0505e8" stroke-width="4.2"/><path d="M1750.7,379.7 1744.8,372.2 1744,360.9 1754.4,355.8" stroke="#00006a" stroke-width="5.8"/><path d="M1750.7,379.7 1744.8,372.2 1744,360.9 1754.4,355.8" stroke="#0505e8" stroke-width="4.2"/><path d="M1721.6,174.9 1710,173.8 1703.6,181.3 1708.9,192.4 1706.5,200.5" stroke="#00006a" stroke-width="5.8"/><path d="M1721.6,174.9 1710,173.8 1703.6,181.3 1708.9,192.4 1706.5,200.5" stroke="#0505e8" stroke-width="4.2"/><path d="M1729.7,165 1722.7,158.1 1710.5,157.9" stroke="#00006a" stroke-width="5.8"/><path d="M1729.7,165 1722.7,158.1 1710.5,157.9" stroke="#0505e8" stroke-width="4.2"/><path d="M1725.9,396.9 1717.4,403.7 1708.7,399.4 1700,401.9" stroke="#00006a" stroke-width="5.8"/><path d="M1725.9,396.9 1717.4,403.7 1708.7,399.4 1700,401.9" stroke="#0505e8" stroke-width="4.2"/><path d="M1732.6,218.9 1742.5,226.4 1744.9,234.5" stroke="#00006a" stroke-width="5.8"/><path d="M1732.6,218.9 1742.5,226.4 1744.9,234.5" stroke="#0505e8" stroke-width="4.2"/><path d="M1743.6,213.3 1743.6,223.1 1738.6,228.8 1729.1,229.2 1722.6,240.3" stroke="#00006a" stroke-width="5.8"/><path d="M1743.6,213.3 1743.6,223.1 1738.6,228.8 1729.1,229.2 1722.6,240.3" stroke="#0505e8" stroke-width="4.2"/><path d="M1698.5,443.8 1693.4,450.1 1681,451.9" stroke="#00006a" stroke-width="5.8"/><path d="M1698.5,443.8 1693.4,450.1 1681,451.9" stroke="#0505e8" stroke-width="4.2"/><path d="M1712.7,443.6 1704.6,453.2 1704.5,463.1" stroke="#00006a" stroke-width="5.8"/><path d="M1712.7,443.6 1704.6,453.2 1704.5,463.1" stroke="#0505e8" stroke-width="4.2"/><path d="M1759.4,299 1750.8,297.2 1743.2,304.1 1732.8,305.2 1725.4,311.9" stroke="#00006a" stroke-width="5.8"/><path d="M1759.4,299 1750.8,297.2 1743.2,304.1 1732.8,305.2 1725.4,311.9" stroke="#0505e8" stroke-width="4.2"/><path d="M1707.3,472.2 1699.1,477.1 1692.5,472.2 1690.6,463 1698.4,453.2" stroke="#00006a" stroke-width="5.8"/><path d="M1707.3,472.2 1699.1,477.1 1692.5,472.2 1690.6,463 1698.4,453.2" stroke="#0505e8" stroke-width="4.2"/><path d="M1737.1,337.4 1744.6,335.3 1752.7,344.6 1752.2,354.2 1741.1,360.9" stroke="#00006a" stroke-width="5.8"/><path d="M1737.1,337.4 1744.6,335.3 1752.7,344.6 1752.2,354.2 1741.1,360.9" stroke="#0505e8" stroke-width="4.2"/><path d="M1763.9,243.6 1764.9,236 1758.6,227.5" stroke="#00006a" stroke-width="5.8"/><path d="M1763.9,243.6 1764.9,236 1758.6,227.5" stroke="#0505e8" stroke-width="4.2"/><path d="M1750.3,209.5 1750.6,197 1745,189.3 1744.9,180.3" stroke="#00006a" stroke-width="5.8"/><path d="M1750.3,209.5 1750.6,197 1745,189.3 1744.9,180.3" stroke="#0505e8" stroke-width="4.2"/><path d="M1748.7,336.7 1760.4,334 1763.8,327.6 1775.5,328.3 1779.4,321" stroke="#00006a" stroke-width="5.8"/><path d="M1748.7,336.7 1760.4,334 1763.8,327.6 1775.5,328.3 1779.4,321" stroke="#0505e8" stroke-width="4.2"/><path d="M1697.5,468.4 1692.6,457.7 1685.7,455.5 1679.7,445.2 1683,433.8" stroke="#00006a" stroke-width="5.8"/><path d="M1697.5,468.4 1692.6,457.7 1685.7,455.5 1679.7,445.2 1683,433.8" stroke="#0505e8" stroke-width="4.2"/><path d="M1771.4,216.4 1772.9,209.1 1781.4,203.8 1787.7,208.1" stroke="#00006a" stroke-width="5.8"/><path d="M1771.4,216.4 1772.9,209.1 1781.4,203.8 1787.7,208.1" stroke="#0505e8" stroke-width="4.2"/><path d="M1783.9,231.5 1782.6,240.3 1789.2,248.4 1789.7,258" stroke="#00006a" stroke-width="5.8"/><path d="M1783.9,231.5 1782.6,240.3 1789.2,248.4 1789.7,258" stroke="#0505e8" stroke-width="4.2"/><path d="M1723.2,424.1 1716.3,421.5 1713.6,410.9 1705.2,408.3 1702.8,399.7" stroke="#00006a" stroke-width="5.8"/><path d="M1723.2,424.1 1716.3,421.5 1713.6,410.9 1705.2,408.3 1702.8,399.7" stroke="#0505e8" stroke-width="4.2"/><path d="M1747.5,334.4 1740.1,344.3 1728.1,345.4 1720.7,339.3 1720.7,329.6" stroke="#00006a" stroke-width="5.8"/><path d="M1747.5,334.4 1740.1,344.3 1728.1,345.4 1720.7,339.3 1720.7,329.6" stroke="#0505e8" stroke-width="4.2"/><path d="M1754.9,376.5 1760.8,382.6 1758.6,394" stroke="#00006a" stroke-width="5.8"/><path d="M1754.9,376.5 1760.8,382.6 1758.6,394" stroke="#0505e8" stroke-width="4.2"/><path d="M1714.4,452.5 1712.7,444.2 1700.9,441.3 1695.3,447.5 1687,449.1" stroke="#00006a" stroke-width="5.8"/><path d="M1714.4,452.5 1712.7,444.2 1700.9,441.3 1695.3,447.5 1687,449.1" stroke="#0505e8" stroke-width="4.2"/><path d="M1768.2,299.5 1780.5,298.5 1785.9,307.3 1795.8,307.1 1802,317.4" stroke="#00006a" stroke-width="5.8"/><path d="M1768.2,299.5 1780.5,298.5 1785.9,307.3 1795.8,307.1 1802,317.4" stroke="#0505e8" stroke-width="4.2"/><path d="M1718.4,222.2 1710,219 1702,221.6 1700.3,228.8 1692,233.9" stroke="#00006a" stroke-width="5.8"/><path d="M1718.4,222.2 1710,219 1702,221.6 1700.3,228.8 1692,233.9" stroke="#0505e8" stroke-width="4.2"/><path d="M1772.6,341.9 1765.2,332.4 1768.1,321.4 1763,314.4" stroke="#00006a" stroke-width="5.8"/><path d="M1772.6,341.9 1765.2,332.4 1768.1,321.4 1763,314.4" stroke="#0505e8" stroke-width="4.2"/><path d="M1743.6,421.1 1733.7,418.9 1729.4,408.8 1721.8,407.3" stroke="#00006a" stroke-width="5.8"/><path d="M1743.6,421.1 1733.7,418.9 1729.4,408.8 1721.8,407.3" stroke="#0505e8" stroke-width="4.2"/><path d="M1715.3,154.9 1703.7,154.5 1694.9,145.3" stroke="#00006a" stroke-width="5.8"/><path d="M1715.3,154.9 1703.7,154.5 1694.9,145.3" stroke="#0505e8" stroke-width="4.2"/><path d="M1709.8,434.2 1708.1,443.2 1716.5,450.1 1723.8,446.3 1724.7,437.9" stroke="#00006a" stroke-width="5.8"/><path d="M1709.8,434.2 1708.1,443.2 1716.5,450.1 1723.8,446.3 1724.7,437.9" stroke="#0505e8" stroke-width="4.2"/><path d="M1716.9,177.7 1722.8,183.1 1730.4,180.5 1737.1,182.8" stroke="#00006a" stroke-width="5.8"/><path d="M1716.9,177.7 1722.8,183.1 1730.4,180.5 1737.1,182.8" stroke="#0505e8" stroke-width="4.2"/><path d="M1783.3,278.2 1774.3,270.8 1764.7,274.7" stroke="#00006a" stroke-width="5.8"/><path d="M1783.3,278.2 1774.3,270.8 1764.7,274.7" stroke="#0505e8" stroke-width="4.2"/><path d="M1742.6,161.5 1745.9,154.7 1757.8,153" stroke="#00006a" stroke-width="5.8"/><path d="M1742.6,161.5 1745.9,154.7 1757.8,153" stroke="#0505e8" stroke-width="4.2"/><path d="M1748.9,292 1758.5,283.9 1770.2,286 1775,293 1784.5,295" stroke="#00006a" stroke-width="5.8"/><path d="M1748.9,292 1758.5,283.9 1770.2,286 1775,293 1784.5,295" stroke="#0505e8" stroke-width="4.2"/><path d="M1754.8,339.9 1746,338.4 1738.5,329.3 1739.4,318.8" stroke="#00006a" stroke-width="5.8"/><path d="M1754.8,339.9 1746,338.4 1738.5,329.3 1739.4,318.8" stroke="#0505e8" stroke-width="4.2"/><path d="M1772.6,334.9 1765,340.5 1765.9,351.3" stroke="#00006a" stroke-width="5.8"/><path d="M1772.6,334.9 1765,340.5 1765.9,351.3" stroke="#0505e8" stroke-width="4.2"/><path d="M1719.2,419.3 1719,428.1 1710.9,434.3" stroke="#00006a" stroke-width="5.8"/><path d="M1719.2,419.3 1719,428.1 1710.9,434.3" stroke="#0505e8" stroke-width="4.2"/><path d="M1756.4,202.9 1747,211.7 1736.1,206.5 1733,199.1" stroke="#00006a" stroke-width="5.8"/><path d="M1756.4,202.9 1747,211.7 1736.1,206.5 1733,199.1" stroke="#0505e8" stroke-width="4.2"/><path d="M1689.6,483.8 1680.4,490.8 1682.5,501 1676.7,508 1677.5,520.2" stroke="#00006a" stroke-width="5.8"/><path d="M1689.6,483.8 1680.4,490.8 1682.5,501 1676.7,508 1677.5,520.2" stroke="#0505e8" stroke-width="4.2"/><path d="M1746,191 1740.4,185.7 1742.2,174.1 1734.9,168.4" stroke="#00006a" stroke-width="5.8"/><path d="M1746,191 1740.4,185.7 1742.2,174.1 1734.9,168.4" stroke="#0505e8" stroke-width="4.2"/><path d="M1776.5,242.9 1775.9,235.5 1768.1,232.9 1761.3,236" stroke="#00006a" stroke-width="5.8"/><path d="M1776.5,242.9 1775.9,235.5 1768.1,232.9 1761.3,236" stroke="#0505e8" stroke-width="4.2"/><path d="M1746.4,304.3 1749.7,313.4 1761.4,314.3 1768.7,307.1" stroke="#00006a" stroke-width="5.8"/><path d="M1746.4,304.3 1749.7,313.4 1761.4,314.3 1768.7,307.1" stroke="#0505e8" stroke-width="4.2"/><path d="M1740.7,460.4 1738.8,451.8 1744.7,443.9" stroke="#00006a" stroke-width="5.8"/><path d="M1740.7,460.4 1738.8,451.8 1744.7,443.9" stroke="#0505e8" stroke-width="4.2"/><path d="M1734.7,146.2 1745.4,148.8 1749.8,159.5 1760.2,162.8 1765.8,171.7" stroke="#00006a" stroke-width="5.8"/><path d="M1734.7,146.2 1745.4,148.8 1749.8,159.5 1760.2,162.8 1765.8,171.7" stroke="#0505e8" stroke-width="4.2"/><path d="M1739,312.1 1741.1,322.9 1750.5,328.9 1750.5,338.3" stroke="#00006a" stroke-width="5.8"/><path d="M1739,312.1 1741.1,322.9 1750.5,328.9 1750.5,338.3" stroke="#0505e8" stroke-width="4.2"/><path d="M1756.2,150.1 1760.2,161 1770.1,163.3 1776.7,171" stroke="#00006a" stroke-width="5.8"/><path d="M1756.2,150.1 1760.2,161 1770.1,163.3 1776.7,171" stroke="#0505e8" stroke-width="4.2"/><path d="M1737.3,314.5 1733.9,321.5 1723.1,324.4" stroke="#00006a" stroke-width="5.8"/><path d="M1737.3,314.5 1733.9,321.5 1723.1,324.4" stroke="#0505e8" stroke-width="4.2"/><path d="M1735.4,222.2 1743,222.7 1748.3,217.1 1746.7,205.9 1753.1,198.4" stroke="#00006a" stroke-width="5.8"/><path d="M1735.4,222.2 1743,222.7 1748.3,217.1 1746.7,205.9 1753.1,198.4" stroke="#0505e8" stroke-width="4.2"/><path d="M1734.1,402.7 1730,414.1 1719.9,414.7" stroke="#00006a" stroke-width="5.8"/><path d="M1734.1,402.7 1730,414.1 1719.9,414.7" stroke="#0505e8" stroke-width="4.2"/><path d="M1764.4,237.7 1754.8,239.1 1746.7,232.8 1746.4,223.9 1738.4,221" stroke="#00006a" stroke-width="5.8"/><path d="M1764.4,237.7 1754.8,239.1 1746.7,232.8 1746.4,223.9 1738.4,221" stroke="#0505e8" stroke-width="4.2"/><path d="M1712.3,443.8 1706.1,448.2 1698.3,446.1 1696.6,439.7 1702.8,435.3 1710.6,437.4Z" stroke="#00006a" stroke-width="5.8"/><path d="M1712.3,443.8 1706.1,448.2 1698.3,446.1 1696.6,439.7 1702.8,435.3 1710.6,437.4Z" stroke="#0505e8" stroke-width="4.2"/><path d="M1721.3,467.6 1713.1,468 1708.7,462.6 1712.3,456.7 1720.4,456.4 1724.9,461.8Z" stroke="#00006a" stroke-width="5.8"/><path d="M1721.3,467.6 1713.1,468 1708.7,462.6 1712.3,456.7 1720.4,456.4 1724.9,461.8Z" stroke="#0505e8" stroke-width="4.2"/><path d="M1764.8,374 1757.4,374.5 1753.1,369.6 1756.3,364.2 1763.7,363.7 1768,368.6Z" stroke="#00006a" stroke-width="5.8"/><path d="M1764.8,374 1757.4,374.5 1753.1,369.6 1756.3,364.2 1763.7,363.7 1768,368.6Z" stroke="#0505e8" stroke-width="4.2"/><path d="M1707,173.5 1701.4,179.7 1691.9,178.9 1688,172 1693.6,165.8 1703,166.5Z" stroke="#00006a" stroke-width="5.8"/><path d="M1707,173.5 1701.4,179.7 1691.9,178.9 1688,172 1693.6,165.8 1703,166.5Z" stroke="#0505e8" stroke-width="4.2"/></g>
<use href="#hb1" transform="translate(1740,510) rotate(-20.6) scale(42.72,19.8)"/>
<path d="M1782,75C1786.5,73.8 1797.7,65.7 1809,68C1820.3,70.3 1840.8,79.8 1850,89C1859.2,98.2 1865,113.8 1864,123C1863,132.2 1847.3,140.5 1844,144" fill="none" stroke="#b07e90" stroke-width="7.5" stroke-linecap="round" stroke-linejoin="round"/><path d="M1782,75C1786.5,73.8 1797.7,65.7 1809,68C1820.3,70.3 1840.8,79.8 1850,89C1859.2,98.2 1865,113.8 1864,123C1863,132.2 1847.3,140.5 1844,144" fill="none" stroke="#f2bccd" stroke-width="5.5" stroke-linecap="round" stroke-linejoin="round"/>
<path d="M1864,171C1869.7,172.2 1887.7,171.2 1898,178C1908.3,184.8 1916.8,202.8 1926,212C1935.2,221.2 1945,223.8 1953,233C1961,242.2 1975.2,259 1974,267C1972.8,275 1950.7,278.7 1946,281" fill="none" stroke="#b07e90" stroke-width="7.5" stroke-linecap="round" stroke-linejoin="round"/><path d="M1864,171C1869.7,172.2 1887.7,171.2 1898,178C1908.3,184.8 1916.8,202.8 1926,212C1935.2,221.2 1945,223.8 1953,233C1961,242.2 1975.2,259 1974,267C1972.8,275 1950.7,278.7 1946,281" fill="none" stroke="#f2bccd" stroke-width="5.5" stroke-linecap="round" stroke-linejoin="round"/>
<path d="M2097,335C2101.5,329.3 2112.7,305.5 2124,301C2135.3,296.5 2155.8,301.2 2165,308C2174.2,314.8 2179,329.5 2179,342C2179,354.5 2169.5,369.3 2165,383C2160.5,396.7 2149.7,410.2 2152,424C2154.3,437.8 2174.5,459 2179,466" fill="none" stroke="#b07e90" stroke-width="7.5" stroke-linecap="round" stroke-linejoin="round"/><path d="M2097,335C2101.5,329.3 2112.7,305.5 2124,301C2135.3,296.5 2155.8,301.2 2165,308C2174.2,314.8 2179,329.5 2179,342C2179,354.5 2169.5,369.3 2165,383C2160.5,396.7 2149.7,410.2 2152,424C2154.3,437.8 2174.5,459 2179,466" fill="none" stroke="#f2bccd" stroke-width="5.5" stroke-linecap="round" stroke-linejoin="round"/>
<path d="M2104,370C2109.7,374.5 2134.7,385.7 2138,397C2141.3,408.3 2130.8,424.3 2124,438C2117.2,451.7 2106,466.5 2097,479C2088,491.5 2074.5,507.3 2070,513" fill="none" stroke="#b07e90" stroke-width="7.5" stroke-linecap="round" stroke-linejoin="round"/><path d="M2104,370C2109.7,374.5 2134.7,385.7 2138,397C2141.3,408.3 2130.8,424.3 2124,438C2117.2,451.7 2106,466.5 2097,479C2088,491.5 2074.5,507.3 2070,513" fill="none" stroke="#f2bccd" stroke-width="5.5" stroke-linecap="round" stroke-linejoin="round"/>
<path d="M1933,479C1938.7,484.7 1953.3,506.2 1967,513C1980.7,519.8 2000.2,522.2 2015,520C2029.8,517.8 2049.2,503.3 2056,500" fill="none" stroke="#b07e90" stroke-width="7.5" stroke-linecap="round" stroke-linejoin="round"/><path d="M1933,479C1938.7,484.7 1953.3,506.2 1967,513C1980.7,519.8 2000.2,522.2 2015,520C2029.8,517.8 2049.2,503.3 2056,500" fill="none" stroke="#f2bccd" stroke-width="5.5" stroke-linecap="round" stroke-linejoin="round"/>
<path d="M1898,315C1907.2,311.5 1935.8,295.2 1953,294C1970.2,292.8 1993,305.7 2001,308" fill="none" stroke="#b07e90" stroke-width="7.5" stroke-linecap="round" stroke-linejoin="round"/><path d="M1898,315C1907.2,311.5 1935.8,295.2 1953,294C1970.2,292.8 1993,305.7 2001,308" fill="none" stroke="#f2bccd" stroke-width="5.5" stroke-linecap="round" stroke-linejoin="round"/>
<path d="M2063,411C2068.7,412.2 2085.7,412.3 2097,418C2108.3,423.7 2124.2,434.8 2131,445C2137.8,455.2 2136.8,473.3 2138,479" fill="none" stroke="#b07e90" stroke-width="7.5" stroke-linecap="round" stroke-linejoin="round"/><path d="M2063,411C2068.7,412.2 2085.7,412.3 2097,418C2108.3,423.7 2124.2,434.8 2131,445C2137.8,455.2 2136.8,473.3 2138,479" fill="none" stroke="#f2bccd" stroke-width="5.5" stroke-linecap="round" stroke-linejoin="round"/>
<path d="M0,-8 73.4,-8 73.4,-12.8 104.9,0 73.4,12.8 73.4,8 0,8Z" transform="translate(1994,315) rotate(11)" fill="url(#sp)" stroke="#a0707f" stroke-width="1.4"/>
<path d="M0,-9 199.9,-9 199.9,-14.4 233.9,0 199.9,14.4 199.9,9 0,9Z" transform="translate(1864,356) rotate(-5.2)" fill="url(#sp)" stroke="#a0707f" stroke-width="1.4"/>
<path d="M0,-9 198.6,-9 198.6,-14.4 232.6,0 198.6,14.4 198.6,9 0,9Z" transform="translate(1871,397) rotate(-13.7)" fill="url(#sp)" stroke="#a0707f" stroke-width="1.4"/>
<path d="M0,-9 189.5,-9 189.5,-14.4 223.5,0 189.5,14.4 189.5,9 0,9Z" transform="translate(1885,438) rotate(-23.5)" fill="url(#sp)" stroke="#a0707f" stroke-width="1.4"/>
<path d="M0,-8 178.5,-8 178.5,-12.8 212.5,0 178.5,12.8 178.5,8 0,8Z" transform="translate(1905,472) rotate(-33.1)" fill="url(#sp)" stroke="#a0707f" stroke-width="1.4"/>
<use href="#hp2" transform="translate(1994,486) rotate(-45) scale(43.84,24.2)"/>
<use href="#hp1" transform="translate(1880,470) rotate(-63.4) scale(44.72,22)"/>
<use href="#hp1" transform="translate(1870,275) rotate(-40.6) scale(46.10,19.8)"/>
<g fill="none" stroke-linecap="round" stroke-linejoin="round"><path d="M1819.1,389.8 1815.4,399.6 1808.5,402.2 1807.5,411.4" stroke="#8a0040" stroke-width="5.8"/><path d="M1819.1,389.8 1815.4,399.6 1808.5,402.2 1807.5,411.4" stroke="#f5137d" stroke-width="4.2"/><path d="M1791.4,381.6 1791.2,372.3 1784.6,367.7 1776.8,371.9 1775.6,379.4" stroke="#8a0040" stroke-width="5.8"/><path d="M1791.4,381.6 1791.2,372.3 1784.6,367.7 1776.8,371.9 1775.6,379.4" stroke="#f5137d" stroke-width="4.2"/><path d="M1848.2,307 1853.3,297.5 1863.8,294.5 1874.9,299.4 1880.1,308.6" stroke="#8a0040" stroke-width="5.8"/><path d="M1848.2,307 1853.3,297.5 1863.8,294.5 1874.9,299.4 1880.1,308.6" stroke="#f5137d" stroke-width="4.2"/><path d="M1771.2,148.8 1758.8,150.4 1754.4,144.6 1756.6,137.5 1748.8,128" stroke="#8a0040" stroke-width="5.8"/><path d="M1771.2,148.8 1758.8,150.4 1754.4,144.6 1756.6,137.5 1748.8,128" stroke="#f5137d" stroke-width="4.2"/><path d="M1828.5,302.9 1821.7,305.3 1815.4,315.3 1816.2,322.3 1810.8,331" stroke="#8a0040" stroke-width="5.8"/><path d="M1828.5,302.9 1821.7,305.3 1815.4,315.3 1816.2,322.3 1810.8,331" stroke="#f5137d" stroke-width="4.2"/><path d="M1846.9,341.9 1842.8,351.6 1835.8,353.9 1834.4,361.9 1843.8,370.6" stroke="#8a0040" stroke-width="5.8"/><path d="M1846.9,341.9 1842.8,351.6 1835.8,353.9 1834.4,361.9 1843.8,370.6" stroke="#f5137d" stroke-width="4.2"/><path d="M1748.1,149.6 1743.2,158 1744.1,165.1 1751.7,169.1" stroke="#8a0040" stroke-width="5.8"/><path d="M1748.1,149.6 1743.2,158 1744.1,165.1 1751.7,169.1" stroke="#f5137d" stroke-width="4.2"/><path d="M1811.3,154.8 1808.9,163.4 1799.4,167.2" stroke="#8a0040" stroke-width="5.8"/><path d="M1811.3,154.8 1808.9,163.4 1799.4,167.2" stroke="#f5137d" stroke-width="4.2"/><path d="M1788.7,446.6 1796.5,446.6 1803.3,441.9" stroke="#8a0040" stroke-width="5.8"/><path d="M1788.7,446.6 1796.5,446.6 1803.3,441.9" stroke="#f5137d" stroke-width="4.2"/><path d="M1831,268.3 1827.4,258.5 1816.5,255.7 1811.1,260.3" stroke="#8a0040" stroke-width="5.8"/><path d="M1831,268.3 1827.4,258.5 1816.5,255.7 1811.1,260.3" stroke="#f5137d" stroke-width="4.2"/><path d="M1823.5,434 1820.5,423.8 1811.9,418.8" stroke="#8a0040" stroke-width="5.8"/><path d="M1823.5,434 1820.5,423.8 1811.9,418.8" stroke="#f5137d" stroke-width="4.2"/><path d="M1755.1,130.3 1765.9,125.7 1777,130.2 1786.2,126.8" stroke="#8a0040" stroke-width="5.8"/><path d="M1755.1,130.3 1765.9,125.7 1777,130.2 1786.2,126.8" stroke="#f5137d" stroke-width="4.2"/><path d="M1806,359.4 1815.9,361.9 1817.6,369.4 1812.2,380.1" stroke="#8a0040" stroke-width="5.8"/><path d="M1806,359.4 1815.9,361.9 1817.6,369.4 1812.2,380.1" stroke="#f5137d" stroke-width="4.2"/><path d="M1753.3,136.2 1744.3,132.5 1741.8,122.6 1733.3,115.1" stroke="#8a0040" stroke-width="5.8"/><path d="M1753.3,136.2 1744.3,132.5 1741.8,122.6 1733.3,115.1" stroke="#f5137d" stroke-width="4.2"/><path d="M1789.1,105.3 1796.5,103.8 1806.2,112 1808.5,120.3 1816.8,126.5" stroke="#8a0040" stroke-width="5.8"/><path d="M1789.1,105.3 1796.5,103.8 1806.2,112 1808.5,120.3 1816.8,126.5" stroke="#f5137d" stroke-width="4.2"/><path d="M1792.3,413.3 1788.2,404.9 1777.5,404.4 1771.3,396 1774.8,386.9" stroke="#8a0040" stroke-width="5.8"/><path d="M1792.3,413.3 1788.2,404.9 1777.5,404.4 1771.3,396 1774.8,386.9" stroke="#f5137d" stroke-width="4.2"/><path d="M1806.3,156 1803.3,167.5 1795.2,174.2 1793.4,181.4" stroke="#8a0040" stroke-width="5.8"/><path d="M1806.3,156 1803.3,167.5 1795.2,174.2 1793.4,181.4" stroke="#f5137d" stroke-width="4.2"/><path d="M1816.5,398 1815,407 1809.9,411.9 1812.1,423.9" stroke="#8a0040" stroke-width="5.8"/><path d="M1816.5,398 1815,407 1809.9,411.9 1812.1,423.9" stroke="#f5137d" stroke-width="4.2"/><path d="M1823.7,304.5 1814.1,303.2 1807.9,306.5 1805.9,314.8 1798.6,321.2" stroke="#8a0040" stroke-width="5.8"/><path d="M1823.7,304.5 1814.1,303.2 1807.9,306.5 1805.9,314.8 1798.6,321.2" stroke="#f5137d" stroke-width="4.2"/><path d="M1858.7,271.8 1852.4,279 1852.5,289.6" stroke="#8a0040" stroke-width="5.8"/><path d="M1858.7,271.8 1852.4,279 1852.5,289.6" stroke="#f5137d" stroke-width="4.2"/><path d="M1763.6,118 1772.7,126.4 1770.1,137.1 1758.3,140.2 1750.9,149.1" stroke="#8a0040" stroke-width="5.8"/><path d="M1763.6,118 1772.7,126.4 1770.1,137.1 1758.3,140.2 1750.9,149.1" stroke="#f5137d" stroke-width="4.2"/><path d="M1739.7,150.5 1729.4,153.1 1722.9,144.9 1726.8,137.4 1737.6,133.9" stroke="#8a0040" stroke-width="5.8"/><path d="M1739.7,150.5 1729.4,153.1 1722.9,144.9 1726.8,137.4 1737.6,133.9" stroke="#f5137d" stroke-width="4.2"/><path d="M1869.5,254.6 1863.4,250.9 1855.5,252.5 1848.8,242.3" stroke="#8a0040" stroke-width="5.8"/><path d="M1869.5,254.6 1863.4,250.9 1855.5,252.5 1848.8,242.3" stroke="#f5137d" stroke-width="4.2"/><path d="M1807.4,284.1 1810.4,273.5 1803.9,266.1" stroke="#8a0040" stroke-width="5.8"/><path d="M1807.4,284.1 1810.4,273.5 1803.9,266.1" stroke="#f5137d" stroke-width="4.2"/><path d="M1768,99.3 1765.9,111.7 1770.2,119.1 1779.2,118.2" stroke="#8a0040" stroke-width="5.8"/><path d="M1768,99.3 1765.9,111.7 1770.2,119.1 1779.2,118.2" stroke="#f5137d" stroke-width="4.2"/><path d="M1827.7,403.6 1822.9,415.1 1826.2,424.1 1820.4,430.1 1820.5,440" stroke="#8a0040" stroke-width="5.8"/><path d="M1827.7,403.6 1822.9,415.1 1826.2,424.1 1820.4,430.1 1820.5,440" stroke="#f5137d" stroke-width="4.2"/><path d="M1803.3,437.6 1804.2,446 1816.2,449.7 1817.6,457" stroke="#8a0040" stroke-width="5.8"/><path d="M1803.3,437.6 1804.2,446 1816.2,449.7 1817.6,457" stroke="#f5137d" stroke-width="4.2"/><path d="M1796,122.5 1789.9,128.2 1778.2,125.5" stroke="#8a0040" stroke-width="5.8"/><path d="M1796,122.5 1789.9,128.2 1778.2,125.5" stroke="#f5137d" stroke-width="4.2"/><path d="M1819.6,418.8 1821.5,427.4 1814.8,434.6 1818,445" stroke="#8a0040" stroke-width="5.8"/><path d="M1819.6,418.8 1821.5,427.4 1814.8,434.6 1818,445" stroke="#f5137d" stroke-width="4.2"/><path d="M1773.6,153.2 1771.7,165.6 1775.4,173.2" stroke="#8a0040" stroke-width="5.8"/><path d="M1773.6,153.2 1771.7,165.6 1775.4,173.2" stroke="#f5137d" stroke-width="4.2"/><path d="M1844.9,239.1 1855.5,241.4 1862.1,251.2 1860.3,263.4 1849,268" stroke="#8a0040" stroke-width="5.8"/><path d="M1844.9,239.1 1855.5,241.4 1862.1,251.2 1860.3,263.4 1849,268" stroke="#f5137d" stroke-width="4.2"/><path d="M1804.2,362.9 1795.6,353.1 1799.6,344.9 1795.3,334.1 1801.4,323.7" stroke="#8a0040" stroke-width="5.8"/><path d="M1804.2,362.9 1795.6,353.1 1799.6,344.9 1795.3,334.1 1801.4,323.7" stroke="#f5137d" stroke-width="4.2"/><path d="M1730.4,139.7 1736.4,150.9 1746.1,150.2" stroke="#8a0040" stroke-width="5.8"/><path d="M1730.4,139.7 1736.4,150.9 1746.1,150.2" stroke="#f5137d" stroke-width="4.2"/><path d="M1747.3,144.9 1735.5,149 1727.7,142.9" stroke="#8a0040" stroke-width="5.8"/><path d="M1747.3,144.9 1735.5,149 1727.7,142.9" stroke="#f5137d" stroke-width="4.2"/><path d="M1822.2,164.8 1822.1,152.1 1815,149 1805.1,153 1797,150.2" stroke="#8a0040" stroke-width="5.8"/><path d="M1822.2,164.8 1822.1,152.1 1815,149 1805.1,153 1797,150.2" stroke="#f5137d" stroke-width="4.2"/><path d="M1778.6,417.3 1788.7,420.9 1796.3,416.4 1798.6,404.6" stroke="#8a0040" stroke-width="5.8"/><path d="M1778.6,417.3 1788.7,420.9 1796.3,416.4 1798.6,404.6" stroke="#f5137d" stroke-width="4.2"/><path d="M1806.6,371 1809,363.3 1804.9,351.6 1809.7,346.2 1807.8,334.8" stroke="#8a0040" stroke-width="5.8"/><path d="M1806.6,371 1809,363.3 1804.9,351.6 1809.7,346.2 1807.8,334.8" stroke="#f5137d" stroke-width="4.2"/><path d="M1825.5,198.3 1816.3,197.8 1812.5,205.6" stroke="#8a0040" stroke-width="5.8"/><path d="M1825.5,198.3 1816.3,197.8 1812.5,205.6" stroke="#f5137d" stroke-width="4.2"/><path d="M1805.3,460 1803.7,453 1809.2,447.7 1817.7,450" stroke="#8a0040" stroke-width="5.8"/><path d="M1805.3,460 1803.7,453 1809.2,447.7 1817.7,450" stroke="#f5137d" stroke-width="4.2"/><path d="M1760.1,127.8 1753.7,135 1755.9,141.7 1763.9,144.8" stroke="#8a0040" stroke-width="5.8"/><path d="M1760.1,127.8 1753.7,135 1755.9,141.7 1763.9,144.8" stroke="#f5137d" stroke-width="4.2"/><path d="M1857.4,214.7 1867.3,212.9 1871.4,204.4 1869.8,196.5" stroke="#8a0040" stroke-width="5.8"/><path d="M1857.4,214.7 1867.3,212.9 1871.4,204.4 1869.8,196.5" stroke="#f5137d" stroke-width="4.2"/><path d="M1791.6,429.7 1779.5,427.8 1775.1,421.7" stroke="#8a0040" stroke-width="5.8"/><path d="M1791.6,429.7 1779.5,427.8 1775.1,421.7" stroke="#f5137d" stroke-width="4.2"/><path d="M1717.9,137.1 1722.7,147.1 1718.3,152.9" stroke="#8a0040" stroke-width="5.8"/><path d="M1717.9,137.1 1722.7,147.1 1718.3,152.9" stroke="#f5137d" stroke-width="4.2"/><path d="M1757.1,156.6 1750.4,166.8 1737.6,167.4" stroke="#8a0040" stroke-width="5.8"/><path d="M1757.1,156.6 1750.4,166.8 1737.6,167.4" stroke="#f5137d" stroke-width="4.2"/><path d="M1807.2,225.7 1812.5,220 1810.9,210.4 1800.2,205.5 1790,207.3" stroke="#8a0040" stroke-width="5.8"/><path d="M1807.2,225.7 1812.5,220 1810.9,210.4 1800.2,205.5 1790,207.3" stroke="#f5137d" stroke-width="4.2"/><path d="M1764.3,109.1 1774.5,108.1 1779.7,98.4 1777.3,91.3 1782.6,79.6" stroke="#8a0040" stroke-width="5.8"/><path d="M1764.3,109.1 1774.5,108.1 1779.7,98.4 1777.3,91.3 1782.6,79.6" stroke="#f5137d" stroke-width="4.2"/><path d="M1812.7,352.8 1818.1,342.2 1826.7,337.7 1834.5,343.6" stroke="#8a0040" stroke-width="5.8"/><path d="M1812.7,352.8 1818.1,342.2 1826.7,337.7 1834.5,343.6" stroke="#f5137d" stroke-width="4.2"/><path d="M1816.5,423.4 1817.5,430.5 1823.9,433.8 1827.3,445.2" stroke="#8a0040" stroke-width="5.8"/><path d="M1816.5,423.4 1817.5,430.5 1823.9,433.8 1827.3,445.2" stroke="#f5137d" stroke-width="4.2"/><path d="M1823.8,422.6 1818,416.8 1819.2,409.5 1826.2,406.9" stroke="#8a0040" stroke-width="5.8"/><path d="M1823.8,422.6 1818,416.8 1819.2,409.5 1826.2,406.9" stroke="#f5137d" stroke-width="4.2"/><path d="M1795.1,188.9 1794.7,197.7 1788.5,202.6" stroke="#8a0040" stroke-width="5.8"/><path d="M1795.1,188.9 1794.7,197.7 1788.5,202.6" stroke="#f5137d" stroke-width="4.2"/><path d="M1766.7,110.6 1765.5,99.3 1773.1,94.8 1785,97.3 1793.2,88" stroke="#8a0040" stroke-width="5.8"/><path d="M1766.7,110.6 1765.5,99.3 1773.1,94.8 1785,97.3 1793.2,88" stroke="#f5137d" stroke-width="4.2"/><path d="M1794,114.1 1790,103.9 1795.6,97.4" stroke="#8a0040" stroke-width="5.8"/><path d="M1794,114.1 1790,103.9 1795.6,97.4" stroke="#f5137d" stroke-width="4.2"/><path d="M1829.7,252.7 1833.7,261 1828.9,268.7 1833,277.4 1828.1,286.3" stroke="#8a0040" stroke-width="5.8"/><path d="M1829.7,252.7 1833.7,261 1828.9,268.7 1833,277.4 1828.1,286.3" stroke="#f5137d" stroke-width="4.2"/><path d="M1788.8,429.3 1790.7,437.4 1787.1,445.3 1779.9,448.2" stroke="#8a0040" stroke-width="5.8"/><path d="M1788.8,429.3 1790.7,437.4 1787.1,445.3 1779.9,448.2" stroke="#f5137d" stroke-width="4.2"/><path d="M1752.5,159.5 1744.4,151.3 1733.5,149.7 1728,142.4" stroke="#8a0040" stroke-width="5.8"/><path d="M1752.5,159.5 1744.4,151.3 1733.5,149.7 1728,142.4" stroke="#f5137d" stroke-width="4.2"/><path d="M1859.7,259.3 1860.9,248.8 1853.1,240.9 1845.5,243 1837.8,234.4" stroke="#8a0040" stroke-width="5.8"/><path d="M1859.7,259.3 1860.9,248.8 1853.1,240.9 1845.5,243 1837.8,234.4" stroke="#f5137d" stroke-width="4.2"/><path d="M1814.1,360.2 1807.9,369.3 1812.4,379.8" stroke="#8a0040" stroke-width="5.8"/><path d="M1814.1,360.2 1807.9,369.3 1812.4,379.8" stroke="#f5137d" stroke-width="4.2"/><path d="M1765.1,95.2 1752.4,97.8 1751,105.1" stroke="#8a0040" stroke-width="5.8"/><path d="M1765.1,95.2 1752.4,97.8 1751,105.1" stroke="#f5137d" stroke-width="4.2"/><path d="M1847.5,383.6 1858.3,386.3 1863.5,395.5 1872.3,399.6" stroke="#8a0040" stroke-width="5.8"/><path d="M1847.5,383.6 1858.3,386.3 1863.5,395.5 1872.3,399.6" stroke="#f5137d" stroke-width="4.2"/><path d="M1862.8,362.6 1871.4,359.2 1874.7,351.2 1869.6,341" stroke="#8a0040" stroke-width="5.8"/><path d="M1862.8,362.6 1871.4,359.2 1874.7,351.2 1869.6,341" stroke="#f5137d" stroke-width="4.2"/><path d="M1827.8,337 1820.8,346.9 1810.1,348.2" stroke="#8a0040" stroke-width="5.8"/><path d="M1827.8,337 1820.8,346.9 1810.1,348.2" stroke="#f5137d" stroke-width="4.2"/><path d="M1774.5,172.2 1775.1,179.5 1785.6,185.3 1787.8,193.7 1798.4,200.6" stroke="#8a0040" stroke-width="5.8"/><path d="M1774.5,172.2 1775.1,179.5 1785.6,185.3 1787.8,193.7 1798.4,200.6" stroke="#f5137d" stroke-width="4.2"/><path d="M1861.1,271.5 1859.4,261 1867.6,253.7 1877.1,256.8" stroke="#8a0040" stroke-width="5.8"/><path d="M1861.1,271.5 1859.4,261 1867.6,253.7 1877.1,256.8" stroke="#f5137d" stroke-width="4.2"/><path d="M1770.3,108.4 1763,115.4 1755.4,114.2 1750.6,104.5 1740.6,100.3" stroke="#8a0040" stroke-width="5.8"/><path d="M1770.3,108.4 1763,115.4 1755.4,114.2 1750.6,104.5 1740.6,100.3" stroke="#f5137d" stroke-width="4.2"/><path d="M1818,363.2 1813.1,370.5 1817.9,378.5 1816.9,389.3 1823.7,398.6" stroke="#8a0040" stroke-width="5.8"/><path d="M1818,363.2 1813.1,370.5 1817.9,378.5 1816.9,389.3 1823.7,398.6" stroke="#f5137d" stroke-width="4.2"/><path d="M1802.5,130.4 1794.3,125.3 1795.8,112.5" stroke="#8a0040" stroke-width="5.8"/><path d="M1802.5,130.4 1794.3,125.3 1795.8,112.5" stroke="#f5137d" stroke-width="4.2"/><path d="M1798.7,131.5 1789.1,133.1 1778.8,125.5 1779.6,113.2" stroke="#8a0040" stroke-width="5.8"/><path d="M1798.7,131.5 1789.1,133.1 1778.8,125.5 1779.6,113.2" stroke="#f5137d" stroke-width="4.2"/><path d="M1797.1,421.9 1809.4,424 1819.4,418.1" stroke="#8a0040" stroke-width="5.8"/><path d="M1797.1,421.9 1809.4,424 1819.4,418.1" stroke="#f5137d" stroke-width="4.2"/><path d="M1792.3,438.9 1799.2,445.8 1798.7,455.8" stroke="#8a0040" stroke-width="5.8"/><path d="M1792.3,438.9 1799.2,445.8 1798.7,455.8" stroke="#f5137d" stroke-width="4.2"/><path d="M1812,406.8 1813.7,398.1 1806.1,389.7 1795.7,391.2 1790.3,399" stroke="#8a0040" stroke-width="5.8"/><path d="M1812,406.8 1813.7,398.1 1806.1,389.7 1795.7,391.2 1790.3,399" stroke="#f5137d" stroke-width="4.2"/><path d="M1806.5,348.1 1797.6,351.3 1793.7,360.5 1785.9,363.6 1774.4,358.7" stroke="#8a0040" stroke-width="5.8"/><path d="M1806.5,348.1 1797.6,351.3 1793.7,360.5 1785.9,363.6 1774.4,358.7" stroke="#f5137d" stroke-width="4.2"/><path d="M1816.4,396.4 1829,399.5 1835.4,409.4 1832.8,417.8 1824.6,421.5" stroke="#8a0040" stroke-width="5.8"/><path d="M1816.4,396.4 1829,399.5 1835.4,409.4 1832.8,417.8 1824.6,421.5" stroke="#f5137d" stroke-width="4.2"/><path d="M1836.6,416.7 1828.9,420.9 1822.3,416.6 1821,409.2 1812.7,404" stroke="#8a0040" stroke-width="5.8"/><path d="M1836.6,416.7 1828.9,420.9 1822.3,416.6 1821,409.2 1812.7,404" stroke="#f5137d" stroke-width="4.2"/><path d="M1758.1,155.1 1765.9,161.2 1764.5,168.7 1754.6,173.5 1752,182.6" stroke="#8a0040" stroke-width="5.8"/><path d="M1758.1,155.1 1765.9,161.2 1764.5,168.7 1754.6,173.5 1752,182.6" stroke="#f5137d" stroke-width="4.2"/><path d="M1834.3,282.6 1823,279.2 1812.1,284.8 1809.9,295.3 1797.9,297.3" stroke="#8a0040" stroke-width="5.8"/><path d="M1834.3,282.6 1823,279.2 1812.1,284.8 1809.9,295.3 1797.9,297.3" stroke="#f5137d" stroke-width="4.2"/><path d="M1857.3,352.3 1854.3,344.7 1846.2,342.6" stroke="#8a0040" stroke-width="5.8"/><path d="M1857.3,352.3 1854.3,344.7 1846.2,342.6" stroke="#f5137d" stroke-width="4.2"/><path d="M1841.3,185.3 1837.5,178.6 1843.6,170.9 1840.7,164" stroke="#8a0040" stroke-width="5.8"/><path d="M1841.3,185.3 1837.5,178.6 1843.6,170.9 1840.7,164" stroke="#f5137d" stroke-width="4.2"/><path d="M1818.3,232.1 1824.2,220.7 1818.6,213.6 1819.7,201.1" stroke="#8a0040" stroke-width="5.8"/><path d="M1818.3,232.1 1824.2,220.7 1818.6,213.6 1819.7,201.1" stroke="#f5137d" stroke-width="4.2"/><path d="M1790.3,162.4 1781.1,164.3 1774.4,158.9 1776.9,151.5 1786.2,149.6 1792.9,155.1Z" stroke="#8a0040" stroke-width="5.8"/><path d="M1790.3,162.4 1781.1,164.3 1774.4,158.9 1776.9,151.5 1786.2,149.6 1792.9,155.1Z" stroke="#f5137d" stroke-width="4.2"/><path d="M1815.6,253.4 1807,253.8 1802.3,248 1806.2,241.8 1814.9,241.5 1819.5,247.3Z" stroke="#8a0040" stroke-width="5.8"/><path d="M1815.6,253.4 1807,253.8 1802.3,248 1806.2,241.8 1814.9,241.5 1819.5,247.3Z" stroke="#f5137d" stroke-width="4.2"/><path d="M1866.7,305.5 1858.2,305.9 1853.4,300.2 1857.2,294 1865.8,293.6 1870.5,299.3Z" stroke="#8a0040" stroke-width="5.8"/><path d="M1866.7,305.5 1858.2,305.9 1853.4,300.2 1857.2,294 1865.8,293.6 1870.5,299.3Z" stroke="#f5137d" stroke-width="4.2"/><path d="M1834.3,404.6 1826.5,406.9 1820.1,402.7 1821.4,396.1 1829.2,393.8 1835.6,398Z" stroke="#8a0040" stroke-width="5.8"/><path d="M1834.3,404.6 1826.5,406.9 1820.1,402.7 1821.4,396.1 1829.2,393.8 1835.6,398Z" stroke="#f5137d" stroke-width="4.2"/><path d="M1779.2,85.7 1771.1,86.8 1765.8,81.8 1768.7,75.6 1776.8,74.4 1782.1,79.5Z" stroke="#8a0040" stroke-width="5.8"/><path d="M1779.2,85.7 1771.1,86.8 1765.8,81.8 1768.7,75.6 1776.8,74.4 1782.1,79.5Z" stroke="#f5137d" stroke-width="4.2"/><path d="M1831.3,452.7 1823.5,453.5 1818.8,448.6 1821.8,442.8 1829.5,442 1834.3,446.9Z" stroke="#8a0040" stroke-width="5.8"/><path d="M1831.3,452.7 1823.5,453.5 1818.8,448.6 1821.8,442.8 1829.5,442 1834.3,446.9Z" stroke="#f5137d" stroke-width="4.2"/><path d="M1853.2,354.8 1845.2,359.2 1836.5,355.8 1835.8,348.1 1843.8,343.8 1852.4,347.1Z" stroke="#8a0040" stroke-width="5.8"/><path d="M1853.2,354.8 1845.2,359.2 1836.5,355.8 1835.8,348.1 1843.8,343.8 1852.4,347.1Z" stroke="#f5137d" stroke-width="4.2"/><path d="M1805.7,392 1797.1,395.4 1789.2,391.1 1789.8,383.5 1798.4,380.1 1806.4,384.4Z" stroke="#8a0040" stroke-width="5.8"/><path d="M1805.7,392 1797.1,395.4 1789.2,391.1 1789.8,383.5 1798.4,380.1 1806.4,384.4Z" stroke="#f5137d" stroke-width="4.2"/><path d="M1802.6,393.8 1795.7,399.5 1786.1,397.6 1783.4,390 1790.2,384.3 1799.8,386.2Z" stroke="#8a0040" stroke-width="5.8"/><path d="M1802.6,393.8 1795.7,399.5 1786.1,397.6 1783.4,390 1790.2,384.3 1799.8,386.2Z" stroke="#f5137d" stroke-width="4.2"/><path d="M1809,434.8 1802.1,436.1 1797.3,432 1799.3,426.6 1806.2,425.3 1811,429.4Z" stroke="#8a0040" stroke-width="5.8"/><path d="M1809,434.8 1802.1,436.1 1797.3,432 1799.3,426.6 1806.2,425.3 1811,429.4Z" stroke="#f5137d" stroke-width="4.2"/></g>
<path d="M345,1162C355.5,1156.5 373,1159.8 383,1162C393,1164.2 401.3,1167.8 405,1175C408.7,1182.2 403.3,1189.2 405,1205C406.7,1220.8 415.8,1249.2 415,1270C414.2,1290.8 405.8,1315 400,1330C394.2,1345 380,1354.2 380,1360C380,1365.8 390.3,1367.5 400,1365C409.7,1362.5 426.3,1349.2 438,1345C449.7,1340.8 462.2,1347.5 470,1340C477.8,1332.5 481.7,1311.7 485,1300C488.3,1288.3 490.8,1282.5 490,1270C489.2,1257.5 479.5,1235.8 480,1225C480.5,1214.2 489.7,1217.3 493,1205C496.3,1192.7 493.2,1161 500,1151C506.8,1141 525.3,1144.5 534,1145C542.7,1145.5 544,1152.5 552,1154C560,1155.5 571.3,1152.3 582,1154C592.7,1155.7 606.8,1160 616,1164C625.2,1168 632.3,1166.5 637,1178C641.7,1189.5 644,1212.5 644,1233C644,1253.5 640.5,1280.5 637,1301C633.5,1321.5 628.7,1337.7 623,1356C617.3,1374.3 609.8,1392.7 603,1411C596.2,1429.3 587.8,1452.3 582,1466C576.2,1479.7 562.3,1486.2 568,1493C573.7,1499.8 606.8,1499 616,1507C625.2,1515 626.3,1533 623,1541C619.7,1549 606.5,1550.2 596,1555C585.5,1559.8 569.3,1562.5 560,1570C550.7,1577.5 545.8,1590.3 540,1600C534.2,1609.7 532.5,1621.3 525,1628C517.5,1634.7 505.8,1637.2 495,1640C484.2,1642.8 472.5,1644.7 460,1645C447.5,1645.3 430.8,1644.5 420,1642C409.2,1639.5 400,1637 395,1630C390,1623 391.2,1616.7 390,1600C388.8,1583.3 390.5,1547.5 388,1530C385.5,1512.5 382.2,1501.3 375,1495C367.8,1488.7 352.5,1486.2 345,1492C337.5,1497.8 332.5,1510.7 330,1530C327.5,1549.3 335,1594.3 330,1608C325,1621.7 310.3,1614.2 300,1612C289.7,1609.8 278.3,1597 268,1595C257.7,1593 249.3,1601.7 238,1600C226.7,1598.3 213,1587.8 200,1585C187,1582.2 171.7,1583 160,1583C148.3,1583 137.5,1588.8 130,1585C122.5,1581.2 119.2,1569.7 115,1560C110.8,1550.3 104.8,1535.8 105,1527C105.2,1518.2 110.7,1515 116,1507C121.3,1499 132.3,1490.5 137,1479C141.7,1467.5 142.3,1451.7 144,1438C145.7,1424.3 145.3,1410.7 147,1397C148.7,1383.3 153.3,1368.5 154,1356C154.7,1343.5 149.2,1330.5 151,1322C152.8,1313.5 158.2,1310.3 165,1305C171.8,1299.7 181.2,1297.2 192,1290C202.8,1282.8 218.3,1270.7 230,1262C241.7,1253.3 252,1244.2 262,1238C272,1231.8 280.3,1232.2 290,1225C299.7,1217.8 310.8,1205.5 320,1195C329.2,1184.5 334.5,1167.5 345,1162Z" fill="#dcdef2" fill-opacity="1.0"/>
<use href="#hl4" transform="translate(599.2,1201.6) rotate(102.3) scale(39.38,24.5)"/>
<use href="#hl2" transform="translate(564.8,1384.7) rotate(109) scale(40.79,23.8)"/>
<use href="#hl2" transform="translate(542.3,1503.1) rotate(108.6) scale(41.24,25.5)"/>
<use href="#hl2" transform="translate(539.2,1194.1) rotate(109.4) scale(45.43,26.4)"/>
<use href="#hl3" transform="translate(527,1321.5) rotate(104.6) scale(42.69,25.2)"/>
<use href="#hl2" transform="translate(487.3,1484.8) rotate(108.5) scale(45.05,24.9)"/>
<use href="#hl2" transform="translate(460.7,1342.9) rotate(105) scale(46.58,25.8)"/>
<use href="#hl3" transform="translate(430.2,1463.2) rotate(93.6) scale(44.09,24.6)"/>
<use href="#hl2" transform="translate(408.3,1229.4) rotate(97.5) scale(45.79,26.1)"/>
<use href="#hl3" transform="translate(378.5,1359.5) rotate(98.1) scale(41.18,27.3)"/>
<use href="#hl4" transform="translate(333.5,1227) rotate(91) scale(38.42,24.4)"/>
<use href="#hl2" transform="translate(306.5,1404.1) rotate(91.4) scale(43.53,27.1)"/>
<use href="#hl4" transform="translate(283.6,1258.1) rotate(102) scale(39.54,25.7)"/>
<use href="#hl2" transform="translate(249.4,1453.2) rotate(100.7) scale(50.40,26.5)"/>
<use href="#hl4" transform="translate(203.6,1314) rotate(92.7) scale(40.14,23.5)"/>
<use href="#hl2" transform="translate(164.3,1483) rotate(92.8) scale(48.74,26)"/>
<path d="M192.4,1238.7C193,1239.3 194.2,1240 196,1242.4C197.8,1244.9 197.8,1252.8 203.4,1253.4C209,1254 223.1,1250.3 229.3,1246C235.5,1241.7 232.7,1230.7 240.4,1227.6C248.1,1224.5 269.6,1227.6 275.5,1227.6" fill="none" stroke="#5c5f90" stroke-width="7.5" stroke-linecap="round" stroke-linejoin="round"/><path d="M192.4,1238.7C193,1239.3 194.2,1240 196,1242.4C197.8,1244.9 197.8,1252.8 203.4,1253.4C209,1254 223.1,1250.3 229.3,1246C235.5,1241.7 232.7,1230.7 240.4,1227.6C248.1,1224.5 269.6,1227.6 275.5,1227.6" fill="none" stroke="#a9acdf" stroke-width="5.5" stroke-linecap="round" stroke-linejoin="round"/>
<path d="M194.2,1238.7C190.8,1241.2 180.4,1249.1 173.9,1253.4C167.4,1257.7 158.2,1260.2 155.4,1264.5C152.6,1268.8 152.4,1275 157.3,1279.3C162.2,1283.6 178.8,1285.8 185,1290.4C191.2,1295 192.7,1304.2 194.2,1307" fill="none" stroke="#5c5f90" stroke-width="7.5" stroke-linecap="round" stroke-linejoin="round"/><path d="M194.2,1238.7C190.8,1241.2 180.4,1249.1 173.9,1253.4C167.4,1257.7 158.2,1260.2 155.4,1264.5C152.6,1268.8 152.4,1275 157.3,1279.3C162.2,1283.6 178.8,1285.8 185,1290.4C191.2,1295 192.7,1304.2 194.2,1307" fill="none" stroke="#a9acdf" stroke-width="5.5" stroke-linecap="round" stroke-linejoin="round"/>
<path d="M155.4,1308.9C152.3,1312 141.2,1319.9 136.9,1327.3C132.6,1334.7 129.6,1346.4 129.6,1353.2C129.6,1360 138.1,1363.4 136.9,1368C135.7,1372.6 127.1,1376.6 122.2,1380.9C117.3,1385.2 111.1,1389.2 107.4,1393.8C103.7,1398.4 103.7,1402.6 100,1408.6C96.3,1414.6 90,1424.8 85,1430C80,1435.2 72.5,1438.3 70,1440" fill="none" stroke="#5c5f90" stroke-width="7.5" stroke-linecap="round" stroke-linejoin="round"/><path d="M155.4,1308.9C152.3,1312 141.2,1319.9 136.9,1327.3C132.6,1334.7 129.6,1346.4 129.6,1353.2C129.6,1360 138.1,1363.4 136.9,1368C135.7,1372.6 127.1,1376.6 122.2,1380.9C117.3,1385.2 111.1,1389.2 107.4,1393.8C103.7,1398.4 103.7,1402.6 100,1408.6C96.3,1414.6 90,1424.8 85,1430C80,1435.2 72.5,1438.3 70,1440" fill="none" stroke="#a9acdf" stroke-width="5.5" stroke-linecap="round" stroke-linejoin="round"/>
<path d="M122.2,1380.9C124.1,1382.4 130.9,1385.5 133.3,1390.1C135.8,1394.7 133.2,1403.7 136.9,1408.6C140.6,1413.5 149.2,1416.6 155.4,1419.7C161.6,1422.8 170.8,1425.8 173.9,1427" fill="none" stroke="#5c5f90" stroke-width="7.5" stroke-linecap="round" stroke-linejoin="round"/><path d="M122.2,1380.9C124.1,1382.4 130.9,1385.5 133.3,1390.1C135.8,1394.7 133.2,1403.7 136.9,1408.6C140.6,1413.5 149.2,1416.6 155.4,1419.7C161.6,1422.8 170.8,1425.8 173.9,1427" fill="none" stroke="#a9acdf" stroke-width="5.5" stroke-linecap="round" stroke-linejoin="round"/>
<path d="M395.6,1342C393.1,1345.7 384.5,1357.5 380.8,1364.3C377.1,1371.1 374.6,1379.6 373.4,1382.7" fill="none" stroke="#5c5f90" stroke-width="7.5" stroke-linecap="round" stroke-linejoin="round"/><path d="M395.6,1342C393.1,1345.7 384.5,1357.5 380.8,1364.3C377.1,1371.1 374.6,1379.6 373.4,1382.7" fill="none" stroke="#a9acdf" stroke-width="5.5" stroke-linecap="round" stroke-linejoin="round"/>
<path d="M400,1183C401.5,1182.4 405,1178.9 409,1179.6C413,1180.3 420,1183.3 424,1187C428,1190.7 432.4,1196.2 433,1201.7C433.6,1207.2 427,1215.4 427.7,1220C428.4,1224.6 433,1227.5 437,1229.4C441,1231.3 449.2,1231 451.7,1231.3" fill="none" stroke="#5c5f90" stroke-width="7.5" stroke-linecap="round" stroke-linejoin="round"/><path d="M400,1183C401.5,1182.4 405,1178.9 409,1179.6C413,1180.3 420,1183.3 424,1187C428,1190.7 432.4,1196.2 433,1201.7C433.6,1207.2 427,1215.4 427.7,1220C428.4,1224.6 433,1227.5 437,1229.4C441,1231.3 449.2,1231 451.7,1231.3" fill="none" stroke="#a9acdf" stroke-width="5.5" stroke-linecap="round" stroke-linejoin="round"/>
<path d="M400,1270C403.1,1269.7 412.3,1269.5 418.5,1268C424.7,1266.5 430.2,1262 437,1260.8C443.8,1259.6 456.2,1257.7 459,1260.8C461.8,1263.9 454.5,1276.2 453.6,1279.3" fill="none" stroke="#5c5f90" stroke-width="7.5" stroke-linecap="round" stroke-linejoin="round"/><path d="M400,1270C403.1,1269.7 412.3,1269.5 418.5,1268C424.7,1266.5 430.2,1262 437,1260.8C443.8,1259.6 456.2,1257.7 459,1260.8C461.8,1263.9 454.5,1276.2 453.6,1279.3" fill="none" stroke="#a9acdf" stroke-width="5.5" stroke-linecap="round" stroke-linejoin="round"/>
<path d="M400,1342C403.1,1340.5 413,1334.2 418.5,1333C424,1331.8 429.9,1331.3 433,1334.7C436.1,1338.1 433.3,1350.1 437,1353.2C440.7,1356.3 452.3,1353.2 455.4,1353.2" fill="none" stroke="#5c5f90" stroke-width="7.5" stroke-linecap="round" stroke-linejoin="round"/><path d="M400,1342C403.1,1340.5 413,1334.2 418.5,1333C424,1331.8 429.9,1331.3 433,1334.7C436.1,1338.1 433.3,1350.1 437,1353.2C440.7,1356.3 452.3,1353.2 455.4,1353.2" fill="none" stroke="#a9acdf" stroke-width="5.5" stroke-linecap="round" stroke-linejoin="round"/>
<path d="M540,1316C541.8,1317.8 546.7,1324.2 551,1327C555.3,1329.8 563.5,1332 566,1333" fill="none" stroke="#5c5f90" stroke-width="7.5" stroke-linecap="round" stroke-linejoin="round"/><path d="M540,1316C541.8,1317.8 546.7,1324.2 551,1327C555.3,1329.8 563.5,1332 566,1333" fill="none" stroke="#a9acdf" stroke-width="5.5" stroke-linecap="round" stroke-linejoin="round"/>
<path d="M251.5,1594C251.8,1599.2 253.3,1617.2 253.3,1625.5C253.3,1633.8 249.3,1638.2 251.5,1644C253.7,1649.8 257.7,1659.7 266.3,1660.6C274.9,1661.5 294,1654.4 303.2,1649.5C312.4,1644.6 315.5,1635.9 321.7,1631C327.9,1626.1 333.3,1621.5 340.1,1620C346.9,1618.5 356.1,1617.9 362.3,1621.8C368.6,1625.7 373.5,1637.1 377.6,1643.5C381.7,1649.9 383.9,1655.9 386.8,1660C389.7,1664.1 393.6,1666.7 395,1668" fill="none" stroke="#5c5f90" stroke-width="7.5" stroke-linecap="round" stroke-linejoin="round"/><path d="M251.5,1594C251.8,1599.2 253.3,1617.2 253.3,1625.5C253.3,1633.8 249.3,1638.2 251.5,1644C253.7,1649.8 257.7,1659.7 266.3,1660.6C274.9,1661.5 294,1654.4 303.2,1649.5C312.4,1644.6 315.5,1635.9 321.7,1631C327.9,1626.1 333.3,1621.5 340.1,1620C346.9,1618.5 356.1,1617.9 362.3,1621.8C368.6,1625.7 373.5,1637.1 377.6,1643.5C381.7,1649.9 383.9,1655.9 386.8,1660C389.7,1664.1 393.6,1666.7 395,1668" fill="none" stroke="#a9acdf" stroke-width="5.5" stroke-linecap="round" stroke-linejoin="round"/>
<path d="M100,1549.8C104.6,1549.8 118.5,1546.4 127.7,1549.8C136.9,1553.2 146.2,1565.7 155.4,1570C164.6,1574.3 173.9,1575.6 183.1,1575.6C192.3,1575.6 201.6,1570.6 210.8,1570C220,1569.4 233.9,1571.7 238.5,1572" fill="none" stroke="#5c5f90" stroke-width="7.5" stroke-linecap="round" stroke-linejoin="round"/><path d="M100,1549.8C104.6,1549.8 118.5,1546.4 127.7,1549.8C136.9,1553.2 146.2,1565.7 155.4,1570C164.6,1574.3 173.9,1575.6 183.1,1575.6C192.3,1575.6 201.6,1570.6 210.8,1570C220,1569.4 233.9,1571.7 238.5,1572" fill="none" stroke="#a9acdf" stroke-width="5.5" stroke-linecap="round" stroke-linejoin="round"/>
<path d="M484.7,1628.7C485.6,1632.4 490,1641.1 490,1651C490,1660.9 486.9,1679.7 484.7,1688C482.5,1696.3 478.3,1698.6 477,1700.7" fill="none" stroke="#5c5f90" stroke-width="7.5" stroke-linecap="round" stroke-linejoin="round"/><path d="M484.7,1628.7C485.6,1632.4 490,1641.1 490,1651C490,1660.9 486.9,1679.7 484.7,1688C482.5,1696.3 478.3,1698.6 477,1700.7" fill="none" stroke="#a9acdf" stroke-width="5.5" stroke-linecap="round" stroke-linejoin="round"/>
<path d="M418,1669C419.8,1666 421,1653.4 429,1651C437,1648.6 456.7,1655.8 466,1654.5C475.3,1653.2 481.6,1645.3 484.7,1643.5" fill="none" stroke="#5c5f90" stroke-width="7.5" stroke-linecap="round" stroke-linejoin="round"/><path d="M418,1669C419.8,1666 421,1653.4 429,1651C437,1648.6 456.7,1655.8 466,1654.5C475.3,1653.2 481.6,1645.3 484.7,1643.5" fill="none" stroke="#a9acdf" stroke-width="5.5" stroke-linecap="round" stroke-linejoin="round"/>
<path d="M58,1431C60.8,1429.8 67.5,1421.7 75,1424C82.5,1426.3 96.2,1435.8 103,1445C109.8,1454.2 113.8,1473.3 116,1479" fill="none" stroke="#5c5f90" stroke-width="7.5" stroke-linecap="round" stroke-linejoin="round"/><path d="M58,1431C60.8,1429.8 67.5,1421.7 75,1424C82.5,1426.3 96.2,1435.8 103,1445C109.8,1454.2 113.8,1473.3 116,1479" fill="none" stroke="#a9acdf" stroke-width="5.5" stroke-linecap="round" stroke-linejoin="round"/>
<path d="M82,1534C85.5,1531.7 95,1521.2 103,1520C111,1518.8 125.5,1525.8 130,1527" fill="none" stroke="#5c5f90" stroke-width="7.5" stroke-linecap="round" stroke-linejoin="round"/><path d="M82,1534C85.5,1531.7 95,1521.2 103,1520C111,1518.8 125.5,1525.8 130,1527" fill="none" stroke="#a9acdf" stroke-width="5.5" stroke-linecap="round" stroke-linejoin="round"/>
<path d="M105,1500C102.8,1503.3 92.8,1510 92,1520C91.2,1530 95.3,1550.8 100,1560C104.7,1569.2 116.7,1572.5 120,1575" fill="none" stroke="#5c5f90" stroke-width="7.5" stroke-linecap="round" stroke-linejoin="round"/><path d="M105,1500C102.8,1503.3 92.8,1510 92,1520C91.2,1530 95.3,1550.8 100,1560C104.7,1569.2 116.7,1572.5 120,1575" fill="none" stroke="#a9acdf" stroke-width="5.5" stroke-linecap="round" stroke-linejoin="round"/>
<use href="#hl2" transform="translate(480,1235) rotate(16.4) scale(44.30,22)"/>
<ellipse cx="240.4" cy="1575.6" rx="23.4" ry="21.1" fill="none" stroke="#5a5c88" stroke-width="13"/><ellipse cx="240.4" cy="1575.6" rx="23.4" ry="21.1" fill="none" stroke="#b3b6ea" stroke-width="10"/><ellipse cx="246.4" cy="1572.6" rx="23.4" ry="21.1" fill="none" stroke="#5a5c88" stroke-width="13"/><ellipse cx="246.4" cy="1572.6" rx="23.4" ry="21.1" fill="none" stroke="#b3b6ea" stroke-width="10"/>
<ellipse cx="251.5" cy="1527.6" rx="25.2" ry="22.7" fill="none" stroke="#5a5c88" stroke-width="13"/><ellipse cx="251.5" cy="1527.6" rx="25.2" ry="22.7" fill="none" stroke="#b3b6ea" stroke-width="10"/><ellipse cx="257.5" cy="1524.6" rx="25.2" ry="22.7" fill="none" stroke="#5a5c88" stroke-width="13"/><ellipse cx="257.5" cy="1524.6" rx="25.2" ry="22.7" fill="none" stroke="#b3b6ea" stroke-width="10"/>
<ellipse cx="360" cy="1390" rx="18" ry="16.2" fill="none" stroke="#5a5c88" stroke-width="13"/><ellipse cx="360" cy="1390" rx="18" ry="16.2" fill="none" stroke="#b3b6ea" stroke-width="10"/><ellipse cx="366" cy="1387" rx="18" ry="16.2" fill="none" stroke="#5a5c88" stroke-width="13"/><ellipse cx="366" cy="1387" rx="18" ry="16.2" fill="none" stroke="#b3b6ea" stroke-width="10"/>
<use href="#hl5" transform="translate(367.9,1168.5) rotate(107.7) scale(42.65,28.6)"/>
<use href="#hl5" transform="translate(279.2,1233.1) rotate(115.3) scale(38.01,28.6)"/>
<use href="#hl2" transform="translate(177.6,1307) rotate(84.1) scale(44.59,24.2)"/>
<use href="#hl2" transform="translate(262.6,1353) rotate(87.9) scale(46.33,24.2)"/>
<use href="#hl3" transform="translate(321.7,1325.5) rotate(102.6) scale(42.29,28.6)"/>
<use href="#hl2" transform="translate(349.4,1380.9) rotate(60.3) scale(37.24,26.4)"/>
<use href="#hl2" transform="translate(170,1420) rotate(80) scale(43.16,26.4)"/>
<use href="#hl2" transform="translate(200,1452) rotate(16.2) scale(32.28,24.2)"/>
<use href="#hl1" transform="translate(448,1232) rotate(37.6) scale(49.20,19.8)"/>
<use href="#hl1" transform="translate(410,1300) rotate(-50.7) scale(28.43,17.6)"/>
<use href="#hl1" transform="translate(450,1330) rotate(-7.5) scale(38.33,16.5)"/>
<use href="#hl4" transform="translate(306.9,1459) rotate(87.9) scale(37.50,23.1)"/>
<use href="#hl2" transform="translate(125.9,1538.7) rotate(-14.1) scale(30.46,24.2)"/>
<use href="#hl1" transform="translate(144.3,1496) rotate(-17.6) scale(54.24,24.2)"/>
<use href="#hl2" transform="translate(400,1380) rotate(77.5) scale(46.10,26.4)"/>
<use href="#hl2" transform="translate(440,1390) rotate(71.6) scale(47.43,26.4)"/>
<use href="#hl1" transform="translate(388,1409) rotate(55.7) scale(53.25,19.8)"/>
<use href="#hl3" transform="translate(420,1470) rotate(78.7) scale(33.99,27.5)"/>
<use href="#hl3" transform="translate(455,1480) rotate(82.2) scale(37.01,27.5)"/>
<use href="#hl2" transform="translate(410,1590) rotate(30.3) scale(34.73,24.2)"/>
<use href="#hl3" transform="translate(544,1524) rotate(109.7) scale(34.69,27.5)"/>
<use href="#hl2" transform="translate(392,1668) rotate(20.4) scale(45.88,23.1)"/>
<use href="#hl8" transform="translate(527,1160) rotate(94.1) scale(38.85,27.5)"/>
<use href="#hl5" transform="translate(612,1166) rotate(94.2) scale(32.89,25.3)"/><g transform="translate(612,1166) rotate(94.2)"><use href="#hb1" transform="translate(0.0,0) scale(32.89,23)"/><use href="#hb1" transform="translate(32.9,0) scale(32.89,23)"/><use href="#hb1" transform="translate(65.8,0) scale(32.89,23)"/><use href="#hb1" transform="translate(98.7,0) scale(32.89,23)"/><use href="#hb1" transform="translate(131.6,0) scale(32.89,23)"/></g>
<use href="#hl2" transform="translate(600,1330) rotate(118.5) scale(39.82,24.2)"/><g transform="translate(600,1330) rotate(118.5)"><use href="#hb1" transform="translate(39.8,0) scale(39.82,22)"/></g>
<g fill="none" stroke-linecap="round" stroke-linejoin="round"><path d="M602.6,1262 610.5,1266.1 619.2,1259.2" stroke="#00006a" stroke-width="5.8"/><path d="M602.6,1262 610.5,1266.1 619.2,1259.2" stroke="#0505e8" stroke-width="4.2"/><path d="M594.2,1249.7 604.7,1251.5 610.6,1258.8" stroke="#00006a" stroke-width="5.8"/><path d="M594.2,1249.7 604.7,1251.5 610.6,1258.8" stroke="#0505e8" stroke-width="4.2"/><path d="M644,1321.9 649.7,1329 658.2,1329.4 663.6,1337.1" stroke="#00006a" stroke-width="5.8"/><path d="M644,1321.9 649.7,1329 658.2,1329.4 663.6,1337.1" stroke="#0505e8" stroke-width="4.2"/><path d="M593.2,1245 594.3,1232.6 603,1223 614.5,1221 617.5,1208.6" stroke="#00006a" stroke-width="5.8"/><path d="M593.2,1245 594.3,1232.6 603,1223 614.5,1221 617.5,1208.6" stroke="#0505e8" stroke-width="4.2"/><path d="M622.2,1368.4 629.9,1374 638.3,1369.2 639.9,1359.2 651.1,1356.7" stroke="#00006a" stroke-width="5.8"/><path d="M622.2,1368.4 629.9,1374 638.3,1369.2 639.9,1359.2 651.1,1356.7" stroke="#0505e8" stroke-width="4.2"/><path d="M601.5,1264.9 608.5,1263.5 614.8,1270 625.2,1268 631.7,1271.7" stroke="#00006a" stroke-width="5.8"/><path d="M601.5,1264.9 608.5,1263.5 614.8,1270 625.2,1268 631.7,1271.7" stroke="#0505e8" stroke-width="4.2"/><path d="M580.2,1164 584.3,1172.5 596.8,1173.4" stroke="#00006a" stroke-width="5.8"/><path d="M580.2,1164 584.3,1172.5 596.8,1173.4" stroke="#0505e8" stroke-width="4.2"/><path d="M565.4,1439.7 568.1,1446.4 564.1,1453.9" stroke="#00006a" stroke-width="5.8"/><path d="M565.4,1439.7 568.1,1446.4 564.1,1453.9" stroke="#0505e8" stroke-width="4.2"/><path d="M601.8,1160 593.8,1154.3 582.3,1156 576.7,1167.7 580.7,1176.4" stroke="#00006a" stroke-width="5.8"/><path d="M601.8,1160 593.8,1154.3 582.3,1156 576.7,1167.7 580.7,1176.4" stroke="#0505e8" stroke-width="4.2"/><path d="M609.6,1354.7 611.2,1366.7 606.4,1373.9 609,1385.4 600.5,1393.8" stroke="#00006a" stroke-width="5.8"/><path d="M609.6,1354.7 611.2,1366.7 606.4,1373.9 609,1385.4 600.5,1393.8" stroke="#0505e8" stroke-width="4.2"/><path d="M646.4,1207.2 637.1,1203.2 625,1206.3" stroke="#00006a" stroke-width="5.8"/><path d="M646.4,1207.2 637.1,1203.2 625,1206.3" stroke="#0505e8" stroke-width="4.2"/><path d="M560,1159.2 551.3,1167.8 552.8,1179.3" stroke="#00006a" stroke-width="5.8"/><path d="M560,1159.2 551.3,1167.8 552.8,1179.3" stroke="#0505e8" stroke-width="4.2"/><path d="M607.4,1424.7 602,1418.1 607.8,1407.1" stroke="#00006a" stroke-width="5.8"/><path d="M607.4,1424.7 602,1418.1 607.8,1407.1" stroke="#0505e8" stroke-width="4.2"/><path d="M614.6,1257.3 617.5,1245.9 624.1,1243.7 631.4,1233.4 643.8,1235.7" stroke="#00006a" stroke-width="5.8"/><path d="M614.6,1257.3 617.5,1245.9 624.1,1243.7 631.4,1233.4 643.8,1235.7" stroke="#0505e8" stroke-width="4.2"/><path d="M567.6,1189.3 569.7,1201.9 561.5,1207.4" stroke="#00006a" stroke-width="5.8"/><path d="M567.6,1189.3 569.7,1201.9 561.5,1207.4" stroke="#0505e8" stroke-width="4.2"/><path d="M616.2,1336.3 615.2,1344 608.8,1348.8 599.8,1348.8" stroke="#00006a" stroke-width="5.8"/><path d="M616.2,1336.3 615.2,1344 608.8,1348.8 599.8,1348.8" stroke="#0505e8" stroke-width="4.2"/><path d="M565.8,1462.8 565.3,1455.5 574.6,1449.7 585.6,1451.6" stroke="#00006a" stroke-width="5.8"/><path d="M565.8,1462.8 565.3,1455.5 574.6,1449.7 585.6,1451.6" stroke="#0505e8" stroke-width="4.2"/><path d="M621.6,1234.4 620.2,1244.8 627.9,1249.5" stroke="#00006a" stroke-width="5.8"/><path d="M621.6,1234.4 620.2,1244.8 627.9,1249.5" stroke="#0505e8" stroke-width="4.2"/><path d="M638.8,1336.4 634,1329.6 638.1,1319.9 633.5,1312.8" stroke="#00006a" stroke-width="5.8"/><path d="M638.8,1336.4 634,1329.6 638.1,1319.9 633.5,1312.8" stroke="#0505e8" stroke-width="4.2"/><path d="M576.6,1424.9 582.2,1417.6 582.4,1407" stroke="#00006a" stroke-width="5.8"/><path d="M576.6,1424.9 582.2,1417.6 582.4,1407" stroke="#0505e8" stroke-width="4.2"/><path d="M611.1,1222.3 612.3,1230.2 605.6,1241 609.6,1248.6" stroke="#00006a" stroke-width="5.8"/><path d="M611.1,1222.3 612.3,1230.2 605.6,1241 609.6,1248.6" stroke="#0505e8" stroke-width="4.2"/><path d="M611.2,1385.4 614.8,1377.2 622.1,1373.8 623.8,1364.8 615.7,1358.6" stroke="#00006a" stroke-width="5.8"/><path d="M611.2,1385.4 614.8,1377.2 622.1,1373.8 623.8,1364.8 615.7,1358.6" stroke="#0505e8" stroke-width="4.2"/><path d="M613.6,1221.6 621,1216.4 633.4,1217.4 640.3,1227.7" stroke="#00006a" stroke-width="5.8"/><path d="M613.6,1221.6 621,1216.4 633.4,1217.4 640.3,1227.7" stroke="#0505e8" stroke-width="4.2"/><path d="M607.8,1329.9 604,1338.7 592,1340.8" stroke="#00006a" stroke-width="5.8"/><path d="M607.8,1329.9 604,1338.7 592,1340.8" stroke="#0505e8" stroke-width="4.2"/><path d="M597.4,1420.1 608.1,1425.1 610.4,1432.9 616.3,1436.8" stroke="#00006a" stroke-width="5.8"/><path d="M597.4,1420.1 608.1,1425.1 610.4,1432.9 616.3,1436.8" stroke="#0505e8" stroke-width="4.2"/><path d="M617,1420.3 619.7,1411.5 612,1401.2 602.9,1399.2" stroke="#00006a" stroke-width="5.8"/><path d="M617,1420.3 619.7,1411.5 612,1401.2 602.9,1399.2" stroke="#0505e8" stroke-width="4.2"/><path d="M552.2,1457.1 561.3,1448.9 569.6,1448.7" stroke="#00006a" stroke-width="5.8"/><path d="M552.2,1457.1 561.3,1448.9 569.6,1448.7" stroke="#0505e8" stroke-width="4.2"/><path d="M588.4,1218.5 588.4,1209.9 579,1204.8 574.3,1193.6" stroke="#00006a" stroke-width="5.8"/><path d="M588.4,1218.5 588.4,1209.9 579,1204.8 574.3,1193.6" stroke="#0505e8" stroke-width="4.2"/><path d="M561.4,1490.6 563,1480.4 558.6,1473.4 551,1471.7 546.1,1478.5" stroke="#00006a" stroke-width="5.8"/><path d="M561.4,1490.6 563,1480.4 558.6,1473.4 551,1471.7 546.1,1478.5" stroke="#0505e8" stroke-width="4.2"/><path d="M593.5,1179.4 593,1191.1 584.6,1195.5" stroke="#00006a" stroke-width="5.8"/><path d="M593.5,1179.4 593,1191.1 584.6,1195.5" stroke="#0505e8" stroke-width="4.2"/><path d="M606.1,1407.4 612.8,1401.6 615.1,1391.6" stroke="#00006a" stroke-width="5.8"/><path d="M606.1,1407.4 612.8,1401.6 615.1,1391.6" stroke="#0505e8" stroke-width="4.2"/><path d="M582.5,1222.2 579.9,1233.1 584.6,1238.5 580.2,1247.6 571.6,1251.8" stroke="#00006a" stroke-width="5.8"/><path d="M582.5,1222.2 579.9,1233.1 584.6,1238.5 580.2,1247.6 571.6,1251.8" stroke="#0505e8" stroke-width="4.2"/><path d="M627.4,1174.6 627.7,1183.1 633.3,1189.9 632.4,1198.4" stroke="#00006a" stroke-width="5.8"/><path d="M627.4,1174.6 627.7,1183.1 633.3,1189.9 632.4,1198.4" stroke="#0505e8" stroke-width="4.2"/><path d="M647.1,1235.4 646.4,1247.1 639.7,1251.5 638.4,1264.4 644.1,1272.1" stroke="#00006a" stroke-width="5.8"/><path d="M647.1,1235.4 646.4,1247.1 639.7,1251.5 638.4,1264.4 644.1,1272.1" stroke="#0505e8" stroke-width="4.2"/><path d="M625.2,1311.6 617.5,1321.8 620.3,1332.6 630.3,1335" stroke="#00006a" stroke-width="5.8"/><path d="M625.2,1311.6 617.5,1321.8 620.3,1332.6 630.3,1335" stroke="#0505e8" stroke-width="4.2"/><path d="M607,1330.1 613.2,1335.9 613,1348.3 602.6,1352.6 600.1,1359.2" stroke="#00006a" stroke-width="5.8"/><path d="M607,1330.1 613.2,1335.9 613,1348.3 602.6,1352.6 600.1,1359.2" stroke="#0505e8" stroke-width="4.2"/><path d="M604,1405.2 610.4,1399.4 618.9,1398.4" stroke="#00006a" stroke-width="5.8"/><path d="M604,1405.2 610.4,1399.4 618.9,1398.4" stroke="#0505e8" stroke-width="4.2"/><path d="M565.9,1487.4 558.7,1489.4 556.3,1498.6" stroke="#00006a" stroke-width="5.8"/><path d="M565.9,1487.4 558.7,1489.4 556.3,1498.6" stroke="#0505e8" stroke-width="4.2"/><path d="M594.8,1402.7 584.4,1400.7 579.1,1407.8 566.4,1409.4 562.3,1421.6" stroke="#00006a" stroke-width="5.8"/><path d="M594.8,1402.7 584.4,1400.7 579.1,1407.8 566.4,1409.4 562.3,1421.6" stroke="#0505e8" stroke-width="4.2"/><path d="M625.1,1209.3 618.3,1213.5 608.7,1212 602.2,1218.4 602.1,1229.2" stroke="#00006a" stroke-width="5.8"/><path d="M625.1,1209.3 618.3,1213.5 608.7,1212 602.2,1218.4 602.1,1229.2" stroke="#0505e8" stroke-width="4.2"/><path d="M605.5,1228 612.6,1230.1 622.4,1222.3" stroke="#00006a" stroke-width="5.8"/><path d="M605.5,1228 612.6,1230.1 622.4,1222.3" stroke="#0505e8" stroke-width="4.2"/><path d="M604.6,1185.9 597.4,1183.6 590.4,1172.9 595.1,1165.6 591.4,1154.7" stroke="#00006a" stroke-width="5.8"/><path d="M604.6,1185.9 597.4,1183.6 590.4,1172.9 595.1,1165.6 591.4,1154.7" stroke="#0505e8" stroke-width="4.2"/><path d="M595.2,1337.7 605.5,1345 606.8,1357.9" stroke="#00006a" stroke-width="5.8"/><path d="M595.2,1337.7 605.5,1345 606.8,1357.9" stroke="#0505e8" stroke-width="4.2"/><path d="M626.1,1346.1 623.1,1353.4 614,1355.3 602.9,1350.2 602.1,1342.7" stroke="#00006a" stroke-width="5.8"/><path d="M626.1,1346.1 623.1,1353.4 614,1355.3 602.9,1350.2 602.1,1342.7" stroke="#0505e8" stroke-width="4.2"/><path d="M623.7,1408.3 615.9,1409.2 611.7,1419.6 620.3,1428.5" stroke="#00006a" stroke-width="5.8"/><path d="M623.7,1408.3 615.9,1409.2 611.7,1419.6 620.3,1428.5" stroke="#0505e8" stroke-width="4.2"/><path d="M594.6,1441.5 599.1,1434.5 608.4,1436.1" stroke="#00006a" stroke-width="5.8"/><path d="M594.6,1441.5 599.1,1434.5 608.4,1436.1" stroke="#0505e8" stroke-width="4.2"/><path d="M587.1,1228.1 593,1233.5 590.4,1244.3 579.8,1250.1 570.9,1244.3" stroke="#00006a" stroke-width="5.8"/><path d="M587.1,1228.1 593,1233.5 590.4,1244.3 579.8,1250.1 570.9,1244.3" stroke="#0505e8" stroke-width="4.2"/><path d="M640.7,1229.3 630,1231 624.4,1238.9 612.7,1242 604.6,1233.1" stroke="#00006a" stroke-width="5.8"/><path d="M640.7,1229.3 630,1231 624.4,1238.9 612.7,1242 604.6,1233.1" stroke="#0505e8" stroke-width="4.2"/><path d="M630.7,1297.8 638.3,1304.1 641,1314.6 648.1,1320.5 655.5,1318.8" stroke="#00006a" stroke-width="5.8"/><path d="M630.7,1297.8 638.3,1304.1 641,1314.6 648.1,1320.5 655.5,1318.8" stroke="#0505e8" stroke-width="4.2"/><path d="M594.3,1239.8 594.9,1247.8 584.6,1254.7 574.5,1250.6 574.6,1237.7" stroke="#00006a" stroke-width="5.8"/><path d="M594.3,1239.8 594.9,1247.8 584.6,1254.7 574.5,1250.6 574.6,1237.7" stroke="#0505e8" stroke-width="4.2"/><path d="M635.5,1326.6 631,1337.3 635.1,1344.1" stroke="#00006a" stroke-width="5.8"/><path d="M635.5,1326.6 631,1337.3 635.1,1344.1" stroke="#0505e8" stroke-width="4.2"/><path d="M516.8,1149.4 506.5,1145.1 502,1135.6 506.9,1129.4 515.5,1130.8" stroke="#00006a" stroke-width="5.8"/><path d="M516.8,1149.4 506.5,1145.1 502,1135.6 506.9,1129.4 515.5,1130.8" stroke="#0505e8" stroke-width="4.2"/><path d="M568.7,1164.1 559.9,1165.5 553.3,1156.1" stroke="#00006a" stroke-width="5.8"/><path d="M568.7,1164.1 559.9,1165.5 553.3,1156.1" stroke="#0505e8" stroke-width="4.2"/><path d="M625.1,1328.7 630.3,1322.8 629.9,1311 621.8,1304 620.9,1291.8" stroke="#00006a" stroke-width="5.8"/><path d="M625.1,1328.7 630.3,1322.8 629.9,1311 621.8,1304 620.9,1291.8" stroke="#0505e8" stroke-width="4.2"/><path d="M556.4,1487.3 565.9,1492.6 567.3,1501.5" stroke="#00006a" stroke-width="5.8"/><path d="M556.4,1487.3 565.9,1492.6 567.3,1501.5" stroke="#0505e8" stroke-width="4.2"/><path d="M527.8,1147.8 520.1,1150.7 513.1,1146.8 513.8,1140 521.5,1137.1 528.5,1141Z" stroke="#00006a" stroke-width="5.8"/><path d="M527.8,1147.8 520.1,1150.7 513.1,1146.8 513.8,1140 521.5,1137.1 528.5,1141Z" stroke="#0505e8" stroke-width="4.2"/><path d="M636.7,1312 631.8,1317.2 623.7,1316.4 620.5,1310.4 625.4,1305.2 633.5,1306Z" stroke="#00006a" stroke-width="5.8"/><path d="M636.7,1312 631.8,1317.2 623.7,1316.4 620.5,1310.4 625.4,1305.2 633.5,1306Z" stroke="#0505e8" stroke-width="4.2"/><path d="M548.7,1177 542.1,1179 536.6,1175.5 537.7,1169.9 544.2,1167.8 549.8,1171.4Z" stroke="#00006a" stroke-width="5.8"/><path d="M548.7,1177 542.1,1179 536.6,1175.5 537.7,1169.9 544.2,1167.8 549.8,1171.4Z" stroke="#0505e8" stroke-width="4.2"/><path d="M647.9,1237.3 643.3,1242 635.9,1241.2 633.1,1235.7 637.7,1231 645.1,1231.8Z" stroke="#00006a" stroke-width="5.8"/><path d="M647.9,1237.3 643.3,1242 635.9,1241.2 633.1,1235.7 637.7,1231 645.1,1231.8Z" stroke="#0505e8" stroke-width="4.2"/></g>
<use href="#hl2" transform="translate(566,1552) rotate(-38.3) scale(33.11,22)"/><g transform="translate(566,1552) rotate(-38.3)"><use href="#hb1" transform="translate(33.1,0) scale(33.11,20)"/></g>
<path d="M0,-7 58.9,-1.5 58.9,1.5 0,7Z" transform="translate(520,1490) rotate(-14.7)" fill="#0a0ae0" stroke="#00006a" stroke-width="1.4"/>
<g fill="none" stroke-linecap="round" stroke-linejoin="round"><path d="M608.4,1518.3 602.4,1522.1 596,1518" stroke="#00006a" stroke-width="5.8"/><path d="M608.4,1518.3 602.4,1522.1 596,1518" stroke="#0505e8" stroke-width="4.2"/><path d="M592,1537.4 585,1545.5 572.8,1544.5" stroke="#00006a" stroke-width="5.8"/><path d="M592,1537.4 585,1545.5 572.8,1544.5" stroke="#0505e8" stroke-width="4.2"/><path d="M597.3,1538.5 587.1,1538.3 582.6,1544.3" stroke="#00006a" stroke-width="5.8"/><path d="M597.3,1538.5 587.1,1538.3 582.6,1544.3" stroke="#0505e8" stroke-width="4.2"/><path d="M591.5,1526.2 603.4,1529.8 604.8,1539.4 610.7,1544.2" stroke="#00006a" stroke-width="5.8"/><path d="M591.5,1526.2 603.4,1529.8 604.8,1539.4 610.7,1544.2" stroke="#0505e8" stroke-width="4.2"/><path d="M627.9,1533.9 640.3,1532 642.3,1524.3" stroke="#00006a" stroke-width="5.8"/><path d="M627.9,1533.9 640.3,1532 642.3,1524.3" stroke="#0505e8" stroke-width="4.2"/><path d="M630.6,1532.8 636.6,1521.3 632.5,1509.2 636.4,1503.1 644.5,1502.1" stroke="#00006a" stroke-width="5.8"/><path d="M630.6,1532.8 636.6,1521.3 632.5,1509.2 636.4,1503.1 644.5,1502.1" stroke="#0505e8" stroke-width="4.2"/><path d="M570,1500.7 562,1505.8 560.8,1514.8" stroke="#00006a" stroke-width="5.8"/><path d="M570,1500.7 562,1505.8 560.8,1514.8" stroke="#0505e8" stroke-width="4.2"/><path d="M590.1,1533.1 586.1,1524.4 592.3,1516.1 588.9,1509.2 579,1506.1" stroke="#00006a" stroke-width="5.8"/><path d="M590.1,1533.1 586.1,1524.4 592.3,1516.1 588.9,1509.2 579,1506.1" stroke="#0505e8" stroke-width="4.2"/></g>
<path d="M652.5,1100.8C657,1100.3 671.5,1096.2 679.6,1098C687.7,1099.8 695.9,1104.9 701.3,1111.7C706.7,1118.5 711.1,1132 712,1138.8C712.9,1145.6 710.3,1148.7 706.7,1152.3C703.1,1155.9 695.8,1158.1 690.4,1160.4C685,1162.7 676.9,1165 674.2,1165.9" fill="none" stroke="#b07e90" stroke-width="6.5" stroke-linecap="round" stroke-linejoin="round"/><path d="M652.5,1100.8C657,1100.3 671.5,1096.2 679.6,1098C687.7,1099.8 695.9,1104.9 701.3,1111.7C706.7,1118.5 711.1,1132 712,1138.8C712.9,1145.6 710.3,1148.7 706.7,1152.3C703.1,1155.9 695.8,1158.1 690.4,1160.4C685,1162.7 676.9,1165 674.2,1165.9" fill="none" stroke="#f2bccd" stroke-width="4.5" stroke-linecap="round" stroke-linejoin="round"/>
<path d="M701.3,1190C706.7,1191 726.1,1192 733.8,1195.7C741.5,1199.4 742.8,1206.6 747.3,1212C751.8,1217.4 755.1,1224.4 761,1228C766.9,1231.6 776.8,1228.6 782.6,1233.6C788.4,1238.6 790.6,1252.1 796,1258C801.4,1263.9 808.7,1265.2 815,1268.8C821.3,1272.4 829.5,1274.3 834,1279.7C838.5,1285.1 842.5,1296.5 842,1301C841.5,1305.5 833.2,1308.1 831,1306.8C828.8,1305.5 829,1295.3 828.6,1293" fill="none" stroke="#b07e90" stroke-width="6.5" stroke-linecap="round" stroke-linejoin="round"/><path d="M701.3,1190C706.7,1191 726.1,1192 733.8,1195.7C741.5,1199.4 742.8,1206.6 747.3,1212C751.8,1217.4 755.1,1224.4 761,1228C766.9,1231.6 776.8,1228.6 782.6,1233.6C788.4,1238.6 790.6,1252.1 796,1258C801.4,1263.9 808.7,1265.2 815,1268.8C821.3,1272.4 829.5,1274.3 834,1279.7C838.5,1285.1 842.5,1296.5 842,1301C841.5,1305.5 833.2,1308.1 831,1306.8C828.8,1305.5 829,1295.3 828.6,1293" fill="none" stroke="#f2bccd" stroke-width="4.5" stroke-linecap="round" stroke-linejoin="round"/>
<path d="M766.3,1306.8C769,1309 777.6,1318.9 782.6,1320.3C787.6,1321.7 790.6,1314.1 796,1315C801.4,1315.9 808.2,1322.6 815,1325.7C821.8,1328.8 831.8,1329.8 836.8,1333.8C841.8,1337.8 843.6,1347.3 845,1350" fill="none" stroke="#b07e90" stroke-width="6.5" stroke-linecap="round" stroke-linejoin="round"/><path d="M766.3,1306.8C769,1309 777.6,1318.9 782.6,1320.3C787.6,1321.7 790.6,1314.1 796,1315C801.4,1315.9 808.2,1322.6 815,1325.7C821.8,1328.8 831.8,1329.8 836.8,1333.8C841.8,1337.8 843.6,1347.3 845,1350" fill="none" stroke="#f2bccd" stroke-width="4.5" stroke-linecap="round" stroke-linejoin="round"/>
<path d="M915,1388C920,1383.5 935.5,1370 945,1361C954.5,1352 962,1339 972,1334C982,1329 995.6,1327.4 1004.7,1331C1013.8,1334.6 1022.4,1346.9 1026.4,1355.5C1030.5,1364.1 1032.2,1374.5 1029,1382.6C1025.8,1390.7 1011.9,1398.9 1007.4,1404.3C1002.9,1409.7 1002,1408.7 1002,1415C1002,1421.3 1004.2,1433 1007.4,1442C1010.6,1451 1017.8,1459.9 1021,1469C1024.2,1478.1 1026,1488.2 1026.4,1496.4C1026.9,1504.6 1024.2,1514.4 1023.7,1518" fill="none" stroke="#b07e90" stroke-width="6.5" stroke-linecap="round" stroke-linejoin="round"/><path d="M915,1388C920,1383.5 935.5,1370 945,1361C954.5,1352 962,1339 972,1334C982,1329 995.6,1327.4 1004.7,1331C1013.8,1334.6 1022.4,1346.9 1026.4,1355.5C1030.5,1364.1 1032.2,1374.5 1029,1382.6C1025.8,1390.7 1011.9,1398.9 1007.4,1404.3C1002.9,1409.7 1002,1408.7 1002,1415C1002,1421.3 1004.2,1433 1007.4,1442C1010.6,1451 1017.8,1459.9 1021,1469C1024.2,1478.1 1026,1488.2 1026.4,1496.4C1026.9,1504.6 1024.2,1514.4 1023.7,1518" fill="none" stroke="#f2bccd" stroke-width="4.5" stroke-linecap="round" stroke-linejoin="round"/>
<path d="M926,1393.5C931.5,1397.1 951.9,1406.9 958.7,1415C965.5,1423.1 967.7,1433 966.8,1442C965.9,1451 954.2,1460.8 953.3,1469C952.4,1477.2 959.1,1482.8 961.4,1491C963.6,1499.2 965.9,1513.5 966.8,1518" fill="none" stroke="#b07e90" stroke-width="6.5" stroke-linecap="round" stroke-linejoin="round"/><path d="M926,1393.5C931.5,1397.1 951.9,1406.9 958.7,1415C965.5,1423.1 967.7,1433 966.8,1442C965.9,1451 954.2,1460.8 953.3,1469C952.4,1477.2 959.1,1482.8 961.4,1491C963.6,1499.2 965.9,1513.5 966.8,1518" fill="none" stroke="#f2bccd" stroke-width="4.5" stroke-linecap="round" stroke-linejoin="round"/>
<path d="M904.5,1464C909,1463.1 923.9,1456.2 931.6,1458.5C939.3,1460.8 943.7,1472.5 950.5,1477.5C957.3,1482.5 964.1,1486 972.2,1488.3C980.3,1490.5 991.2,1488.8 999.3,1491C1007.4,1493.2 1017.4,1500 1021,1501.8" fill="none" stroke="#b07e90" stroke-width="6.5" stroke-linecap="round" stroke-linejoin="round"/><path d="M904.5,1464C909,1463.1 923.9,1456.2 931.6,1458.5C939.3,1460.8 943.7,1472.5 950.5,1477.5C957.3,1482.5 964.1,1486 972.2,1488.3C980.3,1490.5 991.2,1488.8 999.3,1491C1007.4,1493.2 1017.4,1500 1021,1501.8" fill="none" stroke="#f2bccd" stroke-width="4.5" stroke-linecap="round" stroke-linejoin="round"/>
<path d="M755.5,1545C758.2,1541.4 765.4,1526.2 771.7,1523.5C778,1520.8 786.2,1529.9 793.4,1529C800.6,1528.1 808.7,1516.2 815,1518C821.3,1519.8 825,1538 831.3,1539.8C837.6,1541.6 845.3,1531.7 853,1529C860.7,1526.3 871.1,1528.9 877.4,1523.5C883.7,1518.1 886,1503.2 891,1496.4C896,1489.7 904.5,1485.2 907.2,1483" fill="none" stroke="#b07e90" stroke-width="6.5" stroke-linecap="round" stroke-linejoin="round"/><path d="M755.5,1545C758.2,1541.4 765.4,1526.2 771.7,1523.5C778,1520.8 786.2,1529.9 793.4,1529C800.6,1528.1 808.7,1516.2 815,1518C821.3,1519.8 825,1538 831.3,1539.8C837.6,1541.6 845.3,1531.7 853,1529C860.7,1526.3 871.1,1528.9 877.4,1523.5C883.7,1518.1 886,1503.2 891,1496.4C896,1489.7 904.5,1485.2 907.2,1483" fill="none" stroke="#f2bccd" stroke-width="4.5" stroke-linecap="round" stroke-linejoin="round"/>
<path d="M766.3,1328.4C767.2,1333.8 768.1,1351.1 771.7,1361C775.3,1370.9 782.6,1376.7 788,1388C793.4,1399.3 800.6,1417.4 804.2,1428.7C807.8,1440 805.2,1449.9 809.7,1455.8C814.2,1461.7 827.7,1462.6 831.3,1464" fill="none" stroke="#b07e90" stroke-width="6.5" stroke-linecap="round" stroke-linejoin="round"/><path d="M766.3,1328.4C767.2,1333.8 768.1,1351.1 771.7,1361C775.3,1370.9 782.6,1376.7 788,1388C793.4,1399.3 800.6,1417.4 804.2,1428.7C807.8,1440 805.2,1449.9 809.7,1455.8C814.2,1461.7 827.7,1462.6 831.3,1464" fill="none" stroke="#f2bccd" stroke-width="4.5" stroke-linecap="round" stroke-linejoin="round"/>
<path d="M701,1190C699.2,1195 689.3,1210 690,1220C690.7,1230 703.3,1240 705,1250C706.7,1260 700.8,1275 700,1280" fill="none" stroke="#b07e90" stroke-width="6.5" stroke-linecap="round" stroke-linejoin="round"/><path d="M701,1190C699.2,1195 689.3,1210 690,1220C690.7,1230 703.3,1240 705,1250C706.7,1260 700.8,1275 700,1280" fill="none" stroke="#f2bccd" stroke-width="4.5" stroke-linecap="round" stroke-linejoin="round"/>
<path d="M870,1400C871.7,1405 879.5,1420 880,1430C880.5,1440 874.2,1455 873,1460" fill="none" stroke="#b07e90" stroke-width="6.5" stroke-linecap="round" stroke-linejoin="round"/><path d="M870,1400C871.7,1405 879.5,1420 880,1430C880.5,1440 874.2,1455 873,1460" fill="none" stroke="#f2bccd" stroke-width="4.5" stroke-linecap="round" stroke-linejoin="round"/>
<path d="M977,1380C980.8,1378.7 994.5,1369.5 1000,1372C1005.5,1374.5 1008.3,1391.2 1010,1395" fill="none" stroke="#b07e90" stroke-width="6.5" stroke-linecap="round" stroke-linejoin="round"/><path d="M977,1380C980.8,1378.7 994.5,1369.5 1000,1372C1005.5,1374.5 1008.3,1391.2 1010,1395" fill="none" stroke="#f2bccd" stroke-width="4.5" stroke-linecap="round" stroke-linejoin="round"/>
<path d="M0,-6 56.7,-6 56.7,-9.6 81,0 56.7,9.6 56.7,6 0,6Z" transform="translate(842,1353) rotate(25.6)" fill="url(#sp)" stroke="#a0707f" stroke-width="1.4"/>
<path d="M0,-11 203.2,-1.5 203.2,1.5 0,11Z" transform="translate(712,1396) rotate(-2.3)" fill="url(#sp)" stroke="#a0707f" stroke-width="1.4"/>
<path d="M0,-11 210,-1.5 210,1.5 0,11Z" transform="translate(709,1429) rotate(-11.3)" fill="url(#sp)" stroke="#a0707f" stroke-width="1.4"/>
<path d="M0,-9 177.1,-1.5 177.1,1.5 0,9Z" transform="translate(745,1469) rotate(-26.1)" fill="url(#sp)" stroke="#a0707f" stroke-width="1.4"/>
<path d="M0,-6.5 143.4,-1.5 143.4,1.5 0,6.5Z" transform="translate(750,1491) rotate(-37.3)" fill="url(#sp)" stroke="#a0707f" stroke-width="1.4"/>
<path d="M0,-5 43.8,-5 43.8,-8 62.5,0 43.8,8 43.8,5 0,5Z" transform="translate(915,1388) rotate(-7.4)" fill="url(#sp)" stroke="#a0707f" stroke-width="1.4"/>
<use href="#hp2" transform="translate(836.8,1474.7) rotate(-14.6) scale(32.14,24.2)"/>
<use href="#hp1" transform="translate(705,1500) rotate(-51.7) scale(48.41,24.2)"/>
<use href="#hp2" transform="translate(701,1320) rotate(-30.3) scale(34.73,22)"/>
<g fill="none" stroke-linecap="round" stroke-linejoin="round"><path d="M661.8,1261.3 655.9,1265.1 649.4,1261" stroke="#8a0040" stroke-width="5.8"/><path d="M661.8,1261.3 655.9,1265.1 649.4,1261" stroke="#f5137d" stroke-width="4.2"/><path d="M709.7,1290.3 714,1296.2 725,1296.1 728.3,1287.5 737,1287.4" stroke="#8a0040" stroke-width="5.8"/><path d="M709.7,1290.3 714,1296.2 725,1296.1 728.3,1287.5 737,1287.4" stroke="#f5137d" stroke-width="4.2"/><path d="M708.9,1319.5 718.3,1317.4 723.2,1311" stroke="#8a0040" stroke-width="5.8"/><path d="M708.9,1319.5 718.3,1317.4 723.2,1311" stroke="#f5137d" stroke-width="4.2"/><path d="M628.8,1414.2 634.9,1418.1 633.5,1426.7" stroke="#8a0040" stroke-width="5.8"/><path d="M628.8,1414.2 634.9,1418.1 633.5,1426.7" stroke="#f5137d" stroke-width="4.2"/><path d="M661.6,1138.5 670.1,1143.3 677.5,1141.4 681,1130 677.3,1123.1" stroke="#8a0040" stroke-width="5.8"/><path d="M661.6,1138.5 670.1,1143.3 677.5,1141.4 681,1130 677.3,1123.1" stroke="#f5137d" stroke-width="4.2"/><path d="M637.4,1159.4 649.4,1163.6 651.1,1172.5" stroke="#8a0040" stroke-width="5.8"/><path d="M637.4,1159.4 649.4,1163.6 651.1,1172.5" stroke="#f5137d" stroke-width="4.2"/><path d="M708.9,1243 704.8,1250.1 696.5,1249.1" stroke="#8a0040" stroke-width="5.8"/><path d="M708.9,1243 704.8,1250.1 696.5,1249.1" stroke="#f5137d" stroke-width="4.2"/><path d="M689,1194.7 679.7,1188.8 680.8,1176.5" stroke="#8a0040" stroke-width="5.8"/><path d="M689,1194.7 679.7,1188.8 680.8,1176.5" stroke="#f5137d" stroke-width="4.2"/><path d="M673.6,1256.9 664.4,1254.2 662.1,1244.1 654.7,1242.2 645.9,1247.6" stroke="#8a0040" stroke-width="5.8"/><path d="M673.6,1256.9 664.4,1254.2 662.1,1244.1 654.7,1242.2 645.9,1247.6" stroke="#f5137d" stroke-width="4.2"/><path d="M691.7,1192.9 700,1198.9 711.2,1192.8" stroke="#8a0040" stroke-width="5.8"/><path d="M691.7,1192.9 700,1198.9 711.2,1192.8" stroke="#f5137d" stroke-width="4.2"/><path d="M681.1,1252.7 673.6,1244 664.9,1244.1" stroke="#8a0040" stroke-width="5.8"/><path d="M681.1,1252.7 673.6,1244 664.9,1244.1" stroke="#f5137d" stroke-width="4.2"/><path d="M677.6,1165.3 671.3,1169 664.5,1167 661.8,1158.6" stroke="#8a0040" stroke-width="5.8"/><path d="M677.6,1165.3 671.3,1169 664.5,1167 661.8,1158.6" stroke="#f5137d" stroke-width="4.2"/><path d="M626.2,1470.3 629.4,1481.7 620.8,1490.5 611.7,1488.5" stroke="#8a0040" stroke-width="5.8"/><path d="M626.2,1470.3 629.4,1481.7 620.8,1490.5 611.7,1488.5" stroke="#f5137d" stroke-width="4.2"/><path d="M682.8,1315.9 677.5,1323.4 681.6,1334.4 690.8,1335.9" stroke="#8a0040" stroke-width="5.8"/><path d="M682.8,1315.9 677.5,1323.4 681.6,1334.4 690.8,1335.9" stroke="#f5137d" stroke-width="4.2"/><path d="M672.6,1210.3 680.2,1209.3 682.1,1201.7 675.2,1196.3 675.5,1184.7" stroke="#8a0040" stroke-width="5.8"/><path d="M672.6,1210.3 680.2,1209.3 682.1,1201.7 675.2,1196.3 675.5,1184.7" stroke="#f5137d" stroke-width="4.2"/><path d="M690.1,1331.1 682.5,1331.9 676.1,1339 668,1337.1" stroke="#8a0040" stroke-width="5.8"/><path d="M690.1,1331.1 682.5,1331.9 676.1,1339 668,1337.1" stroke="#f5137d" stroke-width="4.2"/><path d="M661.2,1462.1 648.6,1462.4 641.4,1454.1 628.6,1453.6 625.5,1447" stroke="#8a0040" stroke-width="5.8"/><path d="M661.2,1462.1 648.6,1462.4 641.4,1454.1 628.6,1453.6 625.5,1447" stroke="#f5137d" stroke-width="4.2"/><path d="M637.6,1378.4 631.7,1371 620.7,1368 618.6,1357.7 625.9,1347.3" stroke="#8a0040" stroke-width="5.8"/><path d="M637.6,1378.4 631.7,1371 620.7,1368 618.6,1357.7 625.9,1347.3" stroke="#f5137d" stroke-width="4.2"/><path d="M689.7,1251.5 691.6,1262.1 685.3,1267.1 675.8,1261.6" stroke="#8a0040" stroke-width="5.8"/><path d="M689.7,1251.5 691.6,1262.1 685.3,1267.1 675.8,1261.6" stroke="#f5137d" stroke-width="4.2"/><path d="M641.9,1120.4 653,1117.6 663.7,1124.7 663.4,1132.5" stroke="#8a0040" stroke-width="5.8"/><path d="M641.9,1120.4 653,1117.6 663.7,1124.7 663.4,1132.5" stroke="#f5137d" stroke-width="4.2"/><path d="M688.8,1277 694.9,1272.1 702,1272" stroke="#8a0040" stroke-width="5.8"/><path d="M688.8,1277 694.9,1272.1 702,1272" stroke="#f5137d" stroke-width="4.2"/><path d="M653,1177.3 653.9,1168.7 665.9,1164.7 676,1170.1" stroke="#8a0040" stroke-width="5.8"/><path d="M653,1177.3 653.9,1168.7 665.9,1164.7 676,1170.1" stroke="#f5137d" stroke-width="4.2"/><path d="M685.9,1315.2 693.1,1310.1 705,1310.6" stroke="#8a0040" stroke-width="5.8"/><path d="M685.9,1315.2 693.1,1310.1 705,1310.6" stroke="#f5137d" stroke-width="4.2"/><path d="M686.8,1376.8 690.2,1368.8 701,1369 705.7,1359.1 701.6,1352.5" stroke="#8a0040" stroke-width="5.8"/><path d="M686.8,1376.8 690.2,1368.8 701,1369 705.7,1359.1 701.6,1352.5" stroke="#f5137d" stroke-width="4.2"/><path d="M691.8,1286.6 698,1283.4 706.7,1289.2" stroke="#8a0040" stroke-width="5.8"/><path d="M691.8,1286.6 698,1283.4 706.7,1289.2" stroke="#f5137d" stroke-width="4.2"/><path d="M659.4,1407.2 650.5,1409.2 641.2,1405.5" stroke="#8a0040" stroke-width="5.8"/><path d="M659.4,1407.2 650.5,1409.2 641.2,1405.5" stroke="#f5137d" stroke-width="4.2"/><path d="M671.3,1139.3 666.2,1130.5 657.6,1131.1 653.1,1141.4 655.5,1150.7" stroke="#8a0040" stroke-width="5.8"/><path d="M671.3,1139.3 666.2,1130.5 657.6,1131.1 653.1,1141.4 655.5,1150.7" stroke="#f5137d" stroke-width="4.2"/><path d="M688.9,1373.3 687.1,1381.1 692.7,1389.8 704.1,1389.1 711.1,1383.1" stroke="#8a0040" stroke-width="5.8"/><path d="M688.9,1373.3 687.1,1381.1 692.7,1389.8 704.1,1389.1 711.1,1383.1" stroke="#f5137d" stroke-width="4.2"/><path d="M698.5,1232.2 692.8,1242.5 685.1,1242.5 677.5,1234 666.6,1235.2" stroke="#8a0040" stroke-width="5.8"/><path d="M698.5,1232.2 692.8,1242.5 685.1,1242.5 677.5,1234 666.6,1235.2" stroke="#f5137d" stroke-width="4.2"/><path d="M703,1224.1 697.7,1233.5 700.2,1240.9 693.1,1251.5 685.1,1251.3" stroke="#8a0040" stroke-width="5.8"/><path d="M703,1224.1 697.7,1233.5 700.2,1240.9 693.1,1251.5 685.1,1251.3" stroke="#f5137d" stroke-width="4.2"/><path d="M678.4,1414.3 676.1,1404.7 665.5,1401.8 658.7,1405.5" stroke="#8a0040" stroke-width="5.8"/><path d="M678.4,1414.3 676.1,1404.7 665.5,1401.8 658.7,1405.5" stroke="#f5137d" stroke-width="4.2"/><path d="M664,1184.7 669.9,1174.4 681.8,1170.6 685.1,1158.2" stroke="#8a0040" stroke-width="5.8"/><path d="M664,1184.7 669.9,1174.4 681.8,1170.6 685.1,1158.2" stroke="#f5137d" stroke-width="4.2"/><path d="M678.8,1386.9 686.5,1379.7 683.6,1367.6 677.6,1362.7" stroke="#8a0040" stroke-width="5.8"/><path d="M678.8,1386.9 686.5,1379.7 683.6,1367.6 677.6,1362.7" stroke="#f5137d" stroke-width="4.2"/><path d="M611.6,1434.5 601.8,1442 591.5,1440.5" stroke="#8a0040" stroke-width="5.8"/><path d="M611.6,1434.5 601.8,1442 591.5,1440.5" stroke="#f5137d" stroke-width="4.2"/><path d="M681,1273.8 670.1,1269.8 669.9,1262.6 659.4,1256.7 658,1245.9" stroke="#8a0040" stroke-width="5.8"/><path d="M681,1273.8 670.1,1269.8 669.9,1262.6 659.4,1256.7 658,1245.9" stroke="#f5137d" stroke-width="4.2"/><path d="M693.3,1267.3 701.3,1270.9 713.8,1267.7" stroke="#8a0040" stroke-width="5.8"/><path d="M693.3,1267.3 701.3,1270.9 713.8,1267.7" stroke="#f5137d" stroke-width="4.2"/><path d="M661.2,1391.9 668.9,1389.5 675.9,1393.8 686.4,1386.4" stroke="#8a0040" stroke-width="5.8"/><path d="M661.2,1391.9 668.9,1389.5 675.9,1393.8 686.4,1386.4" stroke="#f5137d" stroke-width="4.2"/><path d="M679.5,1201.8 686,1210.5 683.5,1219.7" stroke="#8a0040" stroke-width="5.8"/><path d="M679.5,1201.8 686,1210.5 683.5,1219.7" stroke="#f5137d" stroke-width="4.2"/><path d="M707.6,1256.5 713.4,1260.6 724.6,1258.1" stroke="#8a0040" stroke-width="5.8"/><path d="M707.6,1256.5 713.4,1260.6 724.6,1258.1" stroke="#f5137d" stroke-width="4.2"/><path d="M666.3,1127.2 663.8,1119.8 657.4,1115.5 647.2,1122" stroke="#8a0040" stroke-width="5.8"/><path d="M666.3,1127.2 663.8,1119.8 657.4,1115.5 647.2,1122" stroke="#f5137d" stroke-width="4.2"/><path d="M674.4,1267.7 683.2,1273.1 693.2,1272.6 696.7,1278.7" stroke="#8a0040" stroke-width="5.8"/><path d="M674.4,1267.7 683.2,1273.1 693.2,1272.6 696.7,1278.7" stroke="#f5137d" stroke-width="4.2"/><path d="M660.4,1108.9 654.6,1104 657.3,1093.1 667.6,1089.4 678.1,1094.1" stroke="#8a0040" stroke-width="5.8"/><path d="M660.4,1108.9 654.6,1104 657.3,1093.1 667.6,1089.4 678.1,1094.1" stroke="#f5137d" stroke-width="4.2"/><path d="M640.8,1350.1 645.9,1359.2 641,1365.9" stroke="#8a0040" stroke-width="5.8"/><path d="M640.8,1350.1 645.9,1359.2 641,1365.9" stroke="#f5137d" stroke-width="4.2"/><path d="M658.8,1116.2 667.6,1124.6 679.4,1126.3 686,1119.7" stroke="#8a0040" stroke-width="5.8"/><path d="M658.8,1116.2 667.6,1124.6 679.4,1126.3 686,1119.7" stroke="#f5137d" stroke-width="4.2"/><path d="M652.8,1464.8 660.5,1466.5 664.5,1478.6" stroke="#8a0040" stroke-width="5.8"/><path d="M652.8,1464.8 660.5,1466.5 664.5,1478.6" stroke="#f5137d" stroke-width="4.2"/><path d="M701.9,1322.7 696.2,1312.3 701.3,1304.1 697.8,1293.8 703.2,1283.5" stroke="#8a0040" stroke-width="5.8"/><path d="M701.9,1322.7 696.2,1312.3 701.3,1304.1 697.8,1293.8 703.2,1283.5" stroke="#f5137d" stroke-width="4.2"/><path d="M672.7,1224.5 682.4,1225.9 689.1,1221.6" stroke="#8a0040" stroke-width="5.8"/><path d="M672.7,1224.5 682.4,1225.9 689.1,1221.6" stroke="#f5137d" stroke-width="4.2"/><path d="M685.3,1241.6 693.2,1248.1 694.7,1258.6 701.7,1264.2 708.7,1260.5" stroke="#8a0040" stroke-width="5.8"/><path d="M685.3,1241.6 693.2,1248.1 694.7,1258.6 701.7,1264.2 708.7,1260.5" stroke="#f5137d" stroke-width="4.2"/><path d="M677.4,1264.5 670.4,1268.4 662,1264.2 658.1,1252.6 660.3,1245.2" stroke="#8a0040" stroke-width="5.8"/><path d="M677.4,1264.5 670.4,1268.4 662,1264.2 658.1,1252.6 660.3,1245.2" stroke="#f5137d" stroke-width="4.2"/><path d="M673.8,1131.8 665.6,1124.9 658.6,1128.1" stroke="#8a0040" stroke-width="5.8"/><path d="M673.8,1131.8 665.6,1124.9 658.6,1128.1" stroke="#f5137d" stroke-width="4.2"/><path d="M681.5,1345.1 691.8,1340.9 694.3,1328.5 700.5,1323.9" stroke="#8a0040" stroke-width="5.8"/><path d="M681.5,1345.1 691.8,1340.9 694.3,1328.5 700.5,1323.9" stroke="#f5137d" stroke-width="4.2"/><path d="M681,1151.2 670.3,1150.1 665,1160" stroke="#8a0040" stroke-width="5.8"/><path d="M681,1151.2 670.3,1150.1 665,1160" stroke="#f5137d" stroke-width="4.2"/><path d="M645.2,1127.7 641.3,1116.8 629.9,1112.8" stroke="#8a0040" stroke-width="5.8"/><path d="M645.2,1127.7 641.3,1116.8 629.9,1112.8" stroke="#f5137d" stroke-width="4.2"/><path d="M650.1,1412.8 650.9,1423.7 645.5,1428.8 645.8,1441.1" stroke="#8a0040" stroke-width="5.8"/><path d="M650.1,1412.8 650.9,1423.7 645.5,1428.8 645.8,1441.1" stroke="#f5137d" stroke-width="4.2"/><path d="M672.9,1233.9 669.9,1223.3 660,1221.3 654.8,1228.9 645.9,1228.8" stroke="#8a0040" stroke-width="5.8"/><path d="M672.9,1233.9 669.9,1223.3 660,1221.3 654.8,1228.9 645.9,1228.8" stroke="#f5137d" stroke-width="4.2"/><path d="M686.1,1422 685.8,1431.3 674.8,1435.4 669.4,1444.9 659.2,1445.4" stroke="#8a0040" stroke-width="5.8"/><path d="M686.1,1422 685.8,1431.3 674.8,1435.4 669.4,1444.9 659.2,1445.4" stroke="#f5137d" stroke-width="4.2"/><path d="M690.6,1419.7 681.8,1421.4 677.8,1430.8 681.9,1439.7 689.2,1443.2" stroke="#8a0040" stroke-width="5.8"/><path d="M690.6,1419.7 681.8,1421.4 677.8,1430.8 681.9,1439.7 689.2,1443.2" stroke="#f5137d" stroke-width="4.2"/><path d="M621.7,1480.9 615.7,1474.7 617.7,1465.7" stroke="#8a0040" stroke-width="5.8"/><path d="M621.7,1480.9 615.7,1474.7 617.7,1465.7" stroke="#f5137d" stroke-width="4.2"/><path d="M690.5,1424.5 695.5,1434.5 706.2,1433.9" stroke="#8a0040" stroke-width="5.8"/><path d="M690.5,1424.5 695.5,1434.5 706.2,1433.9" stroke="#f5137d" stroke-width="4.2"/><path d="M639.6,1419.5 632.6,1410.1 622.9,1411 616.2,1416.7" stroke="#8a0040" stroke-width="5.8"/><path d="M639.6,1419.5 632.6,1410.1 622.9,1411 616.2,1416.7" stroke="#f5137d" stroke-width="4.2"/><path d="M661,1192.9 655.7,1184.7 644,1180.1 637.1,1185.9" stroke="#8a0040" stroke-width="5.8"/><path d="M661,1192.9 655.7,1184.7 644,1180.1 637.1,1185.9" stroke="#f5137d" stroke-width="4.2"/><path d="M693.7,1221.8 692,1214.1 699.6,1205.8 700.2,1196.3" stroke="#8a0040" stroke-width="5.8"/><path d="M693.7,1221.8 692,1214.1 699.6,1205.8 700.2,1196.3" stroke="#f5137d" stroke-width="4.2"/><path d="M700.3,1350.2 707.8,1345.3 716.5,1345.5 722,1334.6" stroke="#8a0040" stroke-width="5.8"/><path d="M700.3,1350.2 707.8,1345.3 716.5,1345.5 722,1334.6" stroke="#f5137d" stroke-width="4.2"/><path d="M649.6,1161.9 660.5,1159.6 669.1,1150.4 677.9,1153.1 682.7,1163.6" stroke="#8a0040" stroke-width="5.8"/><path d="M649.6,1161.9 660.5,1159.6 669.1,1150.4 677.9,1153.1 682.7,1163.6" stroke="#f5137d" stroke-width="4.2"/><path d="M667.3,1101.8 656.4,1105.1 645.1,1099.2 635.2,1105.1 632.4,1113.4" stroke="#8a0040" stroke-width="5.8"/><path d="M667.3,1101.8 656.4,1105.1 645.1,1099.2 635.2,1105.1 632.4,1113.4" stroke="#f5137d" stroke-width="4.2"/><path d="M662.1,1231.8 661.1,1220.5 669.9,1215.2 674.6,1204.2 671.7,1191.7" stroke="#8a0040" stroke-width="5.8"/><path d="M662.1,1231.8 661.1,1220.5 669.9,1215.2 674.6,1204.2 671.7,1191.7" stroke="#f5137d" stroke-width="4.2"/><path d="M638.1,1165.7 630.1,1175.1 632,1187" stroke="#8a0040" stroke-width="5.8"/><path d="M638.1,1165.7 630.1,1175.1 632,1187" stroke="#f5137d" stroke-width="4.2"/><path d="M659.8,1117.6 669.7,1124.8 676.5,1121.1 686.7,1123.6" stroke="#8a0040" stroke-width="5.8"/><path d="M659.8,1117.6 669.7,1124.8 676.5,1121.1 686.7,1123.6" stroke="#f5137d" stroke-width="4.2"/><path d="M651.6,1308.5 644.9,1310.6 638.2,1305.3 635.7,1297.2 642.3,1291" stroke="#8a0040" stroke-width="5.8"/><path d="M651.6,1308.5 644.9,1310.6 638.2,1305.3 635.7,1297.2 642.3,1291" stroke="#f5137d" stroke-width="4.2"/><path d="M679.4,1411.9 680.8,1403 688.1,1400.1 690.3,1392.3 685.7,1385.5" stroke="#8a0040" stroke-width="5.8"/><path d="M679.4,1411.9 680.8,1403 688.1,1400.1 690.3,1392.3 685.7,1385.5" stroke="#f5137d" stroke-width="4.2"/><path d="M661.7,1186.3 669.4,1185.8 677.4,1176.6 675,1169 680.3,1159.6" stroke="#8a0040" stroke-width="5.8"/><path d="M661.7,1186.3 669.4,1185.8 677.4,1176.6 675,1169 680.3,1159.6" stroke="#f5137d" stroke-width="4.2"/><path d="M666.9,1099.9 657.7,1106.1 656.7,1115.8 661.8,1124 674.2,1125.9" stroke="#8a0040" stroke-width="5.8"/><path d="M666.9,1099.9 657.7,1106.1 656.7,1115.8 661.8,1124 674.2,1125.9" stroke="#f5137d" stroke-width="4.2"/><path d="M665,1375.4 662.8,1385.7 670.5,1393" stroke="#8a0040" stroke-width="5.8"/><path d="M665,1375.4 662.8,1385.7 670.5,1393" stroke="#f5137d" stroke-width="4.2"/><path d="M697,1412.7 685.9,1411.7 675.6,1418 674.8,1429.1" stroke="#8a0040" stroke-width="5.8"/><path d="M697,1412.7 685.9,1411.7 675.6,1418 674.8,1429.1" stroke="#f5137d" stroke-width="4.2"/><path d="M662.6,1333.7 668.3,1325.7 665,1318.8" stroke="#8a0040" stroke-width="5.8"/><path d="M662.6,1333.7 668.3,1325.7 665,1318.8" stroke="#f5137d" stroke-width="4.2"/><path d="M659.7,1108.3 668.5,1116.3 664.7,1128.1" stroke="#8a0040" stroke-width="5.8"/><path d="M659.7,1108.3 668.5,1116.3 664.7,1128.1" stroke="#f5137d" stroke-width="4.2"/><path d="M687,1422.4 687.7,1415.3 680.3,1410.2 679.6,1400.4 673.2,1395.1" stroke="#8a0040" stroke-width="5.8"/><path d="M687,1422.4 687.7,1415.3 680.3,1410.2 679.6,1400.4 673.2,1395.1" stroke="#f5137d" stroke-width="4.2"/><path d="M694.3,1380.9 700,1386.2 698.6,1395.1 704.9,1403.6" stroke="#8a0040" stroke-width="5.8"/><path d="M694.3,1380.9 700,1386.2 698.6,1395.1 704.9,1403.6" stroke="#f5137d" stroke-width="4.2"/><path d="M703.1,1420.1 695.9,1424.5 687.4,1421.7 686.2,1414.5 693.5,1410 701.9,1412.8Z" stroke="#8a0040" stroke-width="5.8"/><path d="M703.1,1420.1 695.9,1424.5 687.4,1421.7 686.2,1414.5 693.5,1410 701.9,1412.8Z" stroke="#f5137d" stroke-width="4.2"/><path d="M632.4,1477 625.7,1480.9 618.2,1478.2 617.3,1471.6 624,1467.7 631.6,1470.4Z" stroke="#8a0040" stroke-width="5.8"/><path d="M632.4,1477 625.7,1480.9 618.2,1478.2 617.3,1471.6 624,1467.7 631.6,1470.4Z" stroke="#f5137d" stroke-width="4.2"/><path d="M700.7,1371.7 694.3,1374.1 688.5,1370.8 689.1,1365.2 695.5,1362.8 701.3,1366Z" stroke="#8a0040" stroke-width="5.8"/><path d="M700.7,1371.7 694.3,1374.1 688.5,1370.8 689.1,1365.2 695.5,1362.8 701.3,1366Z" stroke="#f5137d" stroke-width="4.2"/><path d="M642.2,1162.4 637.4,1167.5 629.4,1166.7 626.2,1160.8 631,1155.7 639,1156.4Z" stroke="#8a0040" stroke-width="5.8"/><path d="M642.2,1162.4 637.4,1167.5 629.4,1166.7 626.2,1160.8 631,1155.7 639,1156.4Z" stroke="#f5137d" stroke-width="4.2"/><path d="M715.9,1292.5 709.9,1295.4 703.8,1292.6 703.7,1287 709.8,1284.1 715.9,1286.9Z" stroke="#8a0040" stroke-width="5.8"/><path d="M715.9,1292.5 709.9,1295.4 703.8,1292.6 703.7,1287 709.8,1284.1 715.9,1286.9Z" stroke="#f5137d" stroke-width="4.2"/><path d="M667.5,1282.9 662.4,1287 655.5,1285.5 653.7,1279.9 658.8,1275.9 665.7,1277.4Z" stroke="#8a0040" stroke-width="5.8"/><path d="M667.5,1282.9 662.4,1287 655.5,1285.5 653.7,1279.9 658.8,1275.9 665.7,1277.4Z" stroke="#f5137d" stroke-width="4.2"/><path d="M667,1123.9 661.6,1129.9 652.3,1129.2 648.5,1122.3 654,1116.3 663.2,1117.1Z" stroke="#8a0040" stroke-width="5.8"/><path d="M667,1123.9 661.6,1129.9 652.3,1129.2 648.5,1122.3 654,1116.3 663.2,1117.1Z" stroke="#f5137d" stroke-width="4.2"/><path d="M666.9,1298.6 657.3,1298.9 652.1,1292.5 656.4,1285.7 666,1285.3 671.2,1291.7Z" stroke="#8a0040" stroke-width="5.8"/><path d="M666.9,1298.6 657.3,1298.9 652.1,1292.5 656.4,1285.7 666,1285.3 671.2,1291.7Z" stroke="#f5137d" stroke-width="4.2"/><path d="M671.1,1403.7 662.7,1407.2 654.7,1403 655.2,1395.4 663.7,1392 671.6,1396.1Z" stroke="#8a0040" stroke-width="5.8"/><path d="M671.1,1403.7 662.7,1407.2 654.7,1403 655.2,1395.4 663.7,1392 671.6,1396.1Z" stroke="#f5137d" stroke-width="4.2"/><path d="M664.2,1268.5 655,1270.3 648.4,1264.9 651,1257.6 660.2,1255.7 666.8,1261.2Z" stroke="#8a0040" stroke-width="5.8"/><path d="M664.2,1268.5 655,1270.3 648.4,1264.9 651,1257.6 660.2,1255.7 666.8,1261.2Z" stroke="#f5137d" stroke-width="4.2"/></g>
<path d="M1483,1172C1493.5,1166.5 1511,1169.8 1521,1172C1531,1174.2 1539.3,1177.8 1543,1185C1546.7,1192.2 1541.3,1199.2 1543,1215C1544.7,1230.8 1553.8,1259.2 1553,1280C1552.2,1300.8 1543.8,1325 1538,1340C1532.2,1355 1518,1364.2 1518,1370C1518,1375.8 1528.3,1377.5 1538,1375C1547.7,1372.5 1564.3,1359.2 1576,1355C1587.7,1350.8 1600.2,1357.5 1608,1350C1615.8,1342.5 1619.7,1321.7 1623,1310C1626.3,1298.3 1628.8,1292.5 1628,1280C1627.2,1267.5 1617.5,1245.8 1618,1235C1618.5,1224.2 1627.7,1227.3 1631,1215C1634.3,1202.7 1631.2,1171 1638,1161C1644.8,1151 1663.3,1154.5 1672,1155C1680.7,1155.5 1682,1162.5 1690,1164C1698,1165.5 1709.3,1162.3 1720,1164C1730.7,1165.7 1744.8,1170 1754,1174C1763.2,1178 1770.3,1176.5 1775,1188C1779.7,1199.5 1782,1222.5 1782,1243C1782,1263.5 1778.5,1290.5 1775,1311C1771.5,1331.5 1766.7,1347.7 1761,1366C1755.3,1384.3 1747.8,1402.7 1741,1421C1734.2,1439.3 1725.8,1462.3 1720,1476C1714.2,1489.7 1700.3,1496.2 1706,1503C1711.7,1509.8 1744.8,1509 1754,1517C1763.2,1525 1764.3,1543 1761,1551C1757.7,1559 1744.5,1560.2 1734,1565C1723.5,1569.8 1707.3,1572.5 1698,1580C1688.7,1587.5 1683.8,1600.3 1678,1610C1672.2,1619.7 1670.5,1631.3 1663,1638C1655.5,1644.7 1643.8,1647.2 1633,1650C1622.2,1652.8 1610.5,1654.7 1598,1655C1585.5,1655.3 1568.8,1654.5 1558,1652C1547.2,1649.5 1538,1647 1533,1640C1528,1633 1529.2,1626.7 1528,1610C1526.8,1593.3 1528.5,1557.5 1526,1540C1523.5,1522.5 1520.2,1511.3 1513,1505C1505.8,1498.7 1490.5,1496.2 1483,1502C1475.5,1507.8 1470.5,1520.7 1468,1540C1465.5,1559.3 1473,1604.3 1468,1618C1463,1631.7 1448.3,1624.2 1438,1622C1427.7,1619.8 1416.3,1607 1406,1605C1395.7,1603 1387.3,1611.7 1376,1610C1364.7,1608.3 1351,1597.8 1338,1595C1325,1592.2 1309.7,1593 1298,1593C1286.3,1593 1275.5,1598.8 1268,1595C1260.5,1591.2 1257.2,1579.7 1253,1570C1248.8,1560.3 1242.8,1545.8 1243,1537C1243.2,1528.2 1248.7,1525 1254,1517C1259.3,1509 1270.3,1500.5 1275,1489C1279.7,1477.5 1280.3,1461.7 1282,1448C1283.7,1434.3 1283.3,1420.7 1285,1407C1286.7,1393.3 1291.3,1378.5 1292,1366C1292.7,1353.5 1287.2,1340.5 1289,1332C1290.8,1323.5 1296.2,1320.3 1303,1315C1309.8,1309.7 1319.2,1307.2 1330,1300C1340.8,1292.8 1356.3,1280.7 1368,1272C1379.7,1263.3 1390,1254.2 1400,1248C1410,1241.8 1418.3,1242.2 1428,1235C1437.7,1227.8 1448.8,1215.5 1458,1205C1467.2,1194.5 1472.5,1177.5 1483,1172Z" fill="#dcdef2" fill-opacity="1.0"/>
<use href="#hl2" transform="translate(1730.5,1189.9) rotate(96.6) scale(44.92,27.3)"/>
<use href="#hl2" transform="translate(1712.7,1297.2) rotate(101.7) scale(45.85,27.3)"/>
<use href="#hl3" transform="translate(1678.5,1424.9) rotate(94.1) scale(35.18,27.5)"/>
<use href="#hl2" transform="translate(1675.2,1545) rotate(107.4) scale(48.18,24.1)"/>
<use href="#hl3" transform="translate(1677.2,1168.1) rotate(94.4) scale(44.70,24.6)"/>
<use href="#hl3" transform="translate(1646.7,1322) rotate(102.9) scale(36.54,27.3)"/>
<use href="#hl4" transform="translate(1633.9,1476.3) rotate(105.8) scale(42.34,23.9)"/>
<use href="#hl2" transform="translate(1585.1,1356.3) rotate(91.9) scale(38.99,27.1)"/>
<use href="#hl4" transform="translate(1557.1,1464.9) rotate(93.9) scale(42.29,26.6)"/>
<use href="#hl2" transform="translate(1539.8,1187.3) rotate(92) scale(30.47,23.6)"/>
<use href="#hl3" transform="translate(1534.6,1266.9) rotate(104.3) scale(34.51,25.2)"/>
<use href="#hl2" transform="translate(1509.8,1396.6) rotate(95.6) scale(49.97,25.8)"/>
<use href="#hl4" transform="translate(1481.2,1180.9) rotate(95.1) scale(36.69,27.4)"/>
<use href="#hl2" transform="translate(1463.9,1350.5) rotate(97.5) scale(35.56,23.9)"/>
<use href="#hl2" transform="translate(1459.5,1436) rotate(107.3) scale(41.24,25.8)"/>
<use href="#hl2" transform="translate(1437.8,1534.9) rotate(106.4) scale(37.97,23.9)"/>
<use href="#hl3" transform="translate(1408.7,1335.3) rotate(104.3) scale(38.72,23.7)"/>
<use href="#hl3" transform="translate(1380.1,1464.6) rotate(104.9) scale(42.02,26.1)"/>
<use href="#hl2" transform="translate(1354,1285.1) rotate(98.5) scale(37.52,25.5)"/>
<use href="#hl4" transform="translate(1342.2,1379.8) rotate(104.7) scale(36.97,23.2)"/>
<path d="M1330.4,1248.7C1331,1249.3 1332.2,1250 1334,1252.4C1335.8,1254.9 1335.9,1262.8 1341.4,1263.4C1347,1264 1361.1,1260.3 1367.3,1256C1373.5,1251.7 1370.7,1240.7 1378.4,1237.6C1386.1,1234.5 1407.7,1237.6 1413.5,1237.6" fill="none" stroke="#5c5f90" stroke-width="7.5" stroke-linecap="round" stroke-linejoin="round"/><path d="M1330.4,1248.7C1331,1249.3 1332.2,1250 1334,1252.4C1335.8,1254.9 1335.9,1262.8 1341.4,1263.4C1347,1264 1361.1,1260.3 1367.3,1256C1373.5,1251.7 1370.7,1240.7 1378.4,1237.6C1386.1,1234.5 1407.7,1237.6 1413.5,1237.6" fill="none" stroke="#a9acdf" stroke-width="5.5" stroke-linecap="round" stroke-linejoin="round"/>
<path d="M1332.2,1248.7C1328.8,1251.2 1318.4,1259.1 1311.9,1263.4C1305.4,1267.7 1296.2,1270.2 1293.4,1274.5C1290.6,1278.8 1290.4,1285 1295.3,1289.3C1300.2,1293.6 1316.8,1295.8 1323,1300.4C1329.2,1305 1330.7,1314.2 1332.2,1317" fill="none" stroke="#5c5f90" stroke-width="7.5" stroke-linecap="round" stroke-linejoin="round"/><path d="M1332.2,1248.7C1328.8,1251.2 1318.4,1259.1 1311.9,1263.4C1305.4,1267.7 1296.2,1270.2 1293.4,1274.5C1290.6,1278.8 1290.4,1285 1295.3,1289.3C1300.2,1293.6 1316.8,1295.8 1323,1300.4C1329.2,1305 1330.7,1314.2 1332.2,1317" fill="none" stroke="#a9acdf" stroke-width="5.5" stroke-linecap="round" stroke-linejoin="round"/>
<path d="M1293.4,1318.9C1290.3,1322 1279.2,1329.9 1274.9,1337.3C1270.6,1344.7 1267.6,1356.4 1267.6,1363.2C1267.6,1370 1276.1,1373.4 1274.9,1378C1273.7,1382.6 1265.1,1386.6 1260.2,1390.9C1255.3,1395.2 1249.1,1399.2 1245.4,1403.8C1241.7,1408.4 1241.7,1412.6 1238,1418.6C1234.3,1424.6 1228,1434.8 1223,1440C1218,1445.2 1210.5,1448.3 1208,1450" fill="none" stroke="#5c5f90" stroke-width="7.5" stroke-linecap="round" stroke-linejoin="round"/><path d="M1293.4,1318.9C1290.3,1322 1279.2,1329.9 1274.9,1337.3C1270.6,1344.7 1267.6,1356.4 1267.6,1363.2C1267.6,1370 1276.1,1373.4 1274.9,1378C1273.7,1382.6 1265.1,1386.6 1260.2,1390.9C1255.3,1395.2 1249.1,1399.2 1245.4,1403.8C1241.7,1408.4 1241.7,1412.6 1238,1418.6C1234.3,1424.6 1228,1434.8 1223,1440C1218,1445.2 1210.5,1448.3 1208,1450" fill="none" stroke="#a9acdf" stroke-width="5.5" stroke-linecap="round" stroke-linejoin="round"/>
<path d="M1260.2,1390.9C1262,1392.4 1268.8,1395.5 1271.3,1400.1C1273.8,1404.7 1271.2,1413.7 1274.9,1418.6C1278.6,1423.5 1287.2,1426.6 1293.4,1429.7C1299.6,1432.8 1308.8,1435.8 1311.9,1437" fill="none" stroke="#5c5f90" stroke-width="7.5" stroke-linecap="round" stroke-linejoin="round"/><path d="M1260.2,1390.9C1262,1392.4 1268.8,1395.5 1271.3,1400.1C1273.8,1404.7 1271.2,1413.7 1274.9,1418.6C1278.6,1423.5 1287.2,1426.6 1293.4,1429.7C1299.6,1432.8 1308.8,1435.8 1311.9,1437" fill="none" stroke="#a9acdf" stroke-width="5.5" stroke-linecap="round" stroke-linejoin="round"/>
<path d="M1533.6,1352C1531.1,1355.7 1522.5,1367.5 1518.8,1374.3C1515.1,1381.1 1512.6,1389.6 1511.4,1392.7" fill="none" stroke="#5c5f90" stroke-width="7.5" stroke-linecap="round" stroke-linejoin="round"/><path d="M1533.6,1352C1531.1,1355.7 1522.5,1367.5 1518.8,1374.3C1515.1,1381.1 1512.6,1389.6 1511.4,1392.7" fill="none" stroke="#a9acdf" stroke-width="5.5" stroke-linecap="round" stroke-linejoin="round"/>
<path d="M1538,1193C1539.5,1192.4 1543,1188.9 1547,1189.6C1551,1190.3 1558,1193.3 1562,1197C1566,1200.7 1570.4,1206.2 1571,1211.7C1571.6,1217.2 1565,1225.4 1565.7,1230C1566.4,1234.6 1571,1237.5 1575,1239.4C1579,1241.3 1587.2,1241 1589.7,1241.3" fill="none" stroke="#5c5f90" stroke-width="7.5" stroke-linecap="round" stroke-linejoin="round"/><path d="M1538,1193C1539.5,1192.4 1543,1188.9 1547,1189.6C1551,1190.3 1558,1193.3 1562,1197C1566,1200.7 1570.4,1206.2 1571,1211.7C1571.6,1217.2 1565,1225.4 1565.7,1230C1566.4,1234.6 1571,1237.5 1575,1239.4C1579,1241.3 1587.2,1241 1589.7,1241.3" fill="none" stroke="#a9acdf" stroke-width="5.5" stroke-linecap="round" stroke-linejoin="round"/>
<path d="M1538,1280C1541.1,1279.7 1550.3,1279.5 1556.5,1278C1562.7,1276.5 1568.2,1272 1575,1270.8C1581.8,1269.6 1594.2,1267.7 1597,1270.8C1599.8,1273.9 1592.5,1286.2 1591.6,1289.3" fill="none" stroke="#5c5f90" stroke-width="7.5" stroke-linecap="round" stroke-linejoin="round"/><path d="M1538,1280C1541.1,1279.7 1550.3,1279.5 1556.5,1278C1562.7,1276.5 1568.2,1272 1575,1270.8C1581.8,1269.6 1594.2,1267.7 1597,1270.8C1599.8,1273.9 1592.5,1286.2 1591.6,1289.3" fill="none" stroke="#a9acdf" stroke-width="5.5" stroke-linecap="round" stroke-linejoin="round"/>
<path d="M1538,1352C1541.1,1350.5 1551,1344.2 1556.5,1343C1562,1341.8 1567.9,1341.3 1571,1344.7C1574.1,1348.1 1571.3,1360.1 1575,1363.2C1578.7,1366.3 1590.3,1363.2 1593.4,1363.2" fill="none" stroke="#5c5f90" stroke-width="7.5" stroke-linecap="round" stroke-linejoin="round"/><path d="M1538,1352C1541.1,1350.5 1551,1344.2 1556.5,1343C1562,1341.8 1567.9,1341.3 1571,1344.7C1574.1,1348.1 1571.3,1360.1 1575,1363.2C1578.7,1366.3 1590.3,1363.2 1593.4,1363.2" fill="none" stroke="#a9acdf" stroke-width="5.5" stroke-linecap="round" stroke-linejoin="round"/>
<path d="M1678,1326C1679.8,1327.8 1684.7,1334.2 1689,1337C1693.3,1339.8 1701.5,1342 1704,1343" fill="none" stroke="#5c5f90" stroke-width="7.5" stroke-linecap="round" stroke-linejoin="round"/><path d="M1678,1326C1679.8,1327.8 1684.7,1334.2 1689,1337C1693.3,1339.8 1701.5,1342 1704,1343" fill="none" stroke="#a9acdf" stroke-width="5.5" stroke-linecap="round" stroke-linejoin="round"/>
<path d="M1389.5,1604C1389.8,1609.2 1391.3,1627.2 1391.3,1635.5C1391.3,1643.8 1387.3,1648.2 1389.5,1654C1391.7,1659.8 1395.7,1669.7 1404.3,1670.6C1412.9,1671.5 1432,1664.4 1441.2,1659.5C1450.4,1654.6 1453.6,1645.9 1459.7,1641C1465.8,1636.1 1471.3,1631.5 1478.1,1630C1484.9,1628.5 1494,1627.9 1500.3,1631.8C1506.5,1635.7 1511.5,1647.1 1515.6,1653.5C1519.7,1659.9 1521.9,1665.9 1524.8,1670C1527.7,1674.1 1531.6,1676.7 1533,1678" fill="none" stroke="#5c5f90" stroke-width="7.5" stroke-linecap="round" stroke-linejoin="round"/><path d="M1389.5,1604C1389.8,1609.2 1391.3,1627.2 1391.3,1635.5C1391.3,1643.8 1387.3,1648.2 1389.5,1654C1391.7,1659.8 1395.7,1669.7 1404.3,1670.6C1412.9,1671.5 1432,1664.4 1441.2,1659.5C1450.4,1654.6 1453.6,1645.9 1459.7,1641C1465.8,1636.1 1471.3,1631.5 1478.1,1630C1484.9,1628.5 1494,1627.9 1500.3,1631.8C1506.5,1635.7 1511.5,1647.1 1515.6,1653.5C1519.7,1659.9 1521.9,1665.9 1524.8,1670C1527.7,1674.1 1531.6,1676.7 1533,1678" fill="none" stroke="#a9acdf" stroke-width="5.5" stroke-linecap="round" stroke-linejoin="round"/>
<path d="M1238,1559.8C1242.6,1559.8 1256.5,1556.4 1265.7,1559.8C1274.9,1563.2 1284.2,1575.7 1293.4,1580C1302.6,1584.3 1311.9,1585.6 1321.1,1585.6C1330.3,1585.6 1339.6,1580.6 1348.8,1580C1358,1579.4 1371.9,1581.7 1376.5,1582" fill="none" stroke="#5c5f90" stroke-width="7.5" stroke-linecap="round" stroke-linejoin="round"/><path d="M1238,1559.8C1242.6,1559.8 1256.5,1556.4 1265.7,1559.8C1274.9,1563.2 1284.2,1575.7 1293.4,1580C1302.6,1584.3 1311.9,1585.6 1321.1,1585.6C1330.3,1585.6 1339.6,1580.6 1348.8,1580C1358,1579.4 1371.9,1581.7 1376.5,1582" fill="none" stroke="#a9acdf" stroke-width="5.5" stroke-linecap="round" stroke-linejoin="round"/>
<path d="M1622.7,1638.7C1623.6,1642.4 1628,1651.1 1628,1661C1628,1670.9 1624.9,1689.7 1622.7,1698C1620.5,1706.3 1616.3,1708.6 1615,1710.7" fill="none" stroke="#5c5f90" stroke-width="7.5" stroke-linecap="round" stroke-linejoin="round"/><path d="M1622.7,1638.7C1623.6,1642.4 1628,1651.1 1628,1661C1628,1670.9 1624.9,1689.7 1622.7,1698C1620.5,1706.3 1616.3,1708.6 1615,1710.7" fill="none" stroke="#a9acdf" stroke-width="5.5" stroke-linecap="round" stroke-linejoin="round"/>
<path d="M1556,1679C1557.8,1676 1559,1663.4 1567,1661C1575,1658.6 1594.7,1665.8 1604,1664.5C1613.3,1663.2 1619.6,1655.3 1622.7,1653.5" fill="none" stroke="#5c5f90" stroke-width="7.5" stroke-linecap="round" stroke-linejoin="round"/><path d="M1556,1679C1557.8,1676 1559,1663.4 1567,1661C1575,1658.6 1594.7,1665.8 1604,1664.5C1613.3,1663.2 1619.6,1655.3 1622.7,1653.5" fill="none" stroke="#a9acdf" stroke-width="5.5" stroke-linecap="round" stroke-linejoin="round"/>
<path d="M1196,1441C1198.8,1439.8 1205.5,1431.7 1213,1434C1220.5,1436.3 1234.2,1445.8 1241,1455C1247.8,1464.2 1251.8,1483.3 1254,1489" fill="none" stroke="#5c5f90" stroke-width="7.5" stroke-linecap="round" stroke-linejoin="round"/><path d="M1196,1441C1198.8,1439.8 1205.5,1431.7 1213,1434C1220.5,1436.3 1234.2,1445.8 1241,1455C1247.8,1464.2 1251.8,1483.3 1254,1489" fill="none" stroke="#a9acdf" stroke-width="5.5" stroke-linecap="round" stroke-linejoin="round"/>
<path d="M1220,1544C1223.5,1541.7 1233,1531.2 1241,1530C1249,1528.8 1263.5,1535.8 1268,1537" fill="none" stroke="#5c5f90" stroke-width="7.5" stroke-linecap="round" stroke-linejoin="round"/><path d="M1220,1544C1223.5,1541.7 1233,1531.2 1241,1530C1249,1528.8 1263.5,1535.8 1268,1537" fill="none" stroke="#a9acdf" stroke-width="5.5" stroke-linecap="round" stroke-linejoin="round"/>
<path d="M1243,1510C1240.8,1513.3 1230.8,1520 1230,1530C1229.2,1540 1233.3,1560.8 1238,1570C1242.7,1579.2 1254.7,1582.5 1258,1585" fill="none" stroke="#5c5f90" stroke-width="7.5" stroke-linecap="round" stroke-linejoin="round"/><path d="M1243,1510C1240.8,1513.3 1230.8,1520 1230,1530C1229.2,1540 1233.3,1560.8 1238,1570C1242.7,1579.2 1254.7,1582.5 1258,1585" fill="none" stroke="#a9acdf" stroke-width="5.5" stroke-linecap="round" stroke-linejoin="round"/>
<use href="#hl2" transform="translate(1618,1245) rotate(16.4) scale(44.30,22)"/>
<ellipse cx="1378.4" cy="1585.6" rx="23.4" ry="21.1" fill="none" stroke="#5a5c88" stroke-width="13"/><ellipse cx="1378.4" cy="1585.6" rx="23.4" ry="21.1" fill="none" stroke="#b3b6ea" stroke-width="10"/><ellipse cx="1384.4" cy="1582.6" rx="23.4" ry="21.1" fill="none" stroke="#5a5c88" stroke-width="13"/><ellipse cx="1384.4" cy="1582.6" rx="23.4" ry="21.1" fill="none" stroke="#b3b6ea" stroke-width="10"/>
<ellipse cx="1389.5" cy="1537.6" rx="25.2" ry="22.7" fill="none" stroke="#5a5c88" stroke-width="13"/><ellipse cx="1389.5" cy="1537.6" rx="25.2" ry="22.7" fill="none" stroke="#b3b6ea" stroke-width="10"/><ellipse cx="1395.5" cy="1534.6" rx="25.2" ry="22.7" fill="none" stroke="#5a5c88" stroke-width="13"/><ellipse cx="1395.5" cy="1534.6" rx="25.2" ry="22.7" fill="none" stroke="#b3b6ea" stroke-width="10"/>
<ellipse cx="1498" cy="1400" rx="18" ry="16.2" fill="none" stroke="#5a5c88" stroke-width="13"/><ellipse cx="1498" cy="1400" rx="18" ry="16.2" fill="none" stroke="#b3b6ea" stroke-width="10"/><ellipse cx="1504" cy="1397" rx="18" ry="16.2" fill="none" stroke="#5a5c88" stroke-width="13"/><ellipse cx="1504" cy="1397" rx="18" ry="16.2" fill="none" stroke="#b3b6ea" stroke-width="10"/>
<use href="#hl5" transform="translate(1505.9,1178.5) rotate(107.7) scale(42.65,28.6)"/>
<use href="#hl5" transform="translate(1417.2,1243.1) rotate(115.3) scale(38.01,28.6)"/>
<use href="#hl2" transform="translate(1315.6,1317) rotate(84.1) scale(44.59,24.2)"/>
<use href="#hl2" transform="translate(1400.6,1363) rotate(87.9) scale(46.33,24.2)"/>
<use href="#hl3" transform="translate(1459.7,1335.5) rotate(102.6) scale(42.29,28.6)"/>
<use href="#hl2" transform="translate(1487.4,1390.9) rotate(60.3) scale(37.24,26.4)"/>
<use href="#hl2" transform="translate(1308,1430) rotate(80) scale(43.16,26.4)"/>
<use href="#hl2" transform="translate(1338,1462) rotate(16.2) scale(32.28,24.2)"/>
<use href="#hl1" transform="translate(1586,1242) rotate(37.6) scale(49.20,19.8)"/>
<use href="#hl1" transform="translate(1548,1310) rotate(-50.7) scale(28.43,17.6)"/>
<use href="#hl1" transform="translate(1588,1340) rotate(-7.5) scale(38.33,16.5)"/>
<use href="#hl4" transform="translate(1444.9,1469) rotate(87.9) scale(37.50,23.1)"/>
<use href="#hl2" transform="translate(1263.9,1548.7) rotate(-14.1) scale(30.46,24.2)"/>
<use href="#hl1" transform="translate(1282.3,1506) rotate(-17.6) scale(54.24,24.2)"/>
<use href="#hl2" transform="translate(1538,1390) rotate(77.5) scale(46.10,26.4)"/>
<use href="#hl2" transform="translate(1578,1400) rotate(71.6) scale(47.43,26.4)"/>
<use href="#hl1" transform="translate(1526,1419) rotate(55.7) scale(53.25,19.8)"/>
<use href="#hl3" transform="translate(1558,1480) rotate(78.7) scale(33.99,27.5)"/>
<use href="#hl3" transform="translate(1593,1490) rotate(82.2) scale(37.01,27.5)"/>
<use href="#hl2" transform="translate(1548,1600) rotate(30.3) scale(34.73,24.2)"/>
<use href="#hl3" transform="translate(1682,1534) rotate(109.7) scale(34.69,27.5)"/>
<use href="#hl2" transform="translate(1530,1678) rotate(20.4) scale(45.88,23.1)"/>
<use href="#hl8" transform="translate(1665,1170) rotate(94.1) scale(38.85,27.5)"/>
<use href="#hl5" transform="translate(1750,1176) rotate(94.2) scale(32.89,25.3)"/><g transform="translate(1750,1176) rotate(94.2)"><use href="#hb1" transform="translate(0.0,0) scale(32.89,23)"/><use href="#hb1" transform="translate(32.9,0) scale(32.89,23)"/><use href="#hb1" transform="translate(65.8,0) scale(32.89,23)"/><use href="#hb1" transform="translate(98.7,0) scale(32.89,23)"/><use href="#hb1" transform="translate(131.6,0) scale(32.89,23)"/></g>
<use href="#hl2" transform="translate(1738,1340) rotate(118.5) scale(39.82,24.2)"/><g transform="translate(1738,1340) rotate(118.5)"><use href="#hb1" transform="translate(39.8,0) scale(39.82,22)"/></g>
<g fill="none" stroke-linecap="round" stroke-linejoin="round"><path d="M1693.2,1467.8 1685.4,1474.1 1685.8,1486.8 1680.8,1491.7 1681.9,1501.5" stroke="#00006a" stroke-width="5.8"/><path d="M1693.2,1467.8 1685.4,1474.1 1685.8,1486.8 1680.8,1491.7 1681.9,1501.5" stroke="#0505e8" stroke-width="4.2"/><path d="M1757.1,1221.6 1751.1,1226.5 1752.6,1236.1" stroke="#00006a" stroke-width="5.8"/><path d="M1757.1,1221.6 1751.1,1226.5 1752.6,1236.1" stroke="#0505e8" stroke-width="4.2"/><path d="M1710.7,1475.4 1700.9,1481.2 1689.2,1479.2" stroke="#00006a" stroke-width="5.8"/><path d="M1710.7,1475.4 1700.9,1481.2 1689.2,1479.2" stroke="#0505e8" stroke-width="4.2"/><path d="M1752.4,1350.7 1749.3,1342.3 1737.5,1339.7" stroke="#00006a" stroke-width="5.8"/><path d="M1752.4,1350.7 1749.3,1342.3 1737.5,1339.7" stroke="#0505e8" stroke-width="4.2"/><path d="M1727.1,1201.4 1735.7,1196.2 1743.7,1202.1 1753.3,1198.7 1757.7,1190.5" stroke="#00006a" stroke-width="5.8"/><path d="M1727.1,1201.4 1735.7,1196.2 1743.7,1202.1 1753.3,1198.7 1757.7,1190.5" stroke="#0505e8" stroke-width="4.2"/><path d="M1750.3,1218.9 1746.4,1207.7 1749.3,1199.7 1745.3,1193.2 1732.5,1192.3" stroke="#00006a" stroke-width="5.8"/><path d="M1750.3,1218.9 1746.4,1207.7 1749.3,1199.7 1745.3,1193.2 1732.5,1192.3" stroke="#0505e8" stroke-width="4.2"/><path d="M1758.2,1261.5 1768.5,1269.1 1770.7,1278" stroke="#00006a" stroke-width="5.8"/><path d="M1758.2,1261.5 1768.5,1269.1 1770.7,1278" stroke="#0505e8" stroke-width="4.2"/><path d="M1785.2,1224.4 1796.2,1218.5 1807.6,1220.4 1811.8,1214.4 1807.2,1203.7" stroke="#00006a" stroke-width="5.8"/><path d="M1785.2,1224.4 1796.2,1218.5 1807.6,1220.4 1811.8,1214.4 1807.2,1203.7" stroke="#0505e8" stroke-width="4.2"/><path d="M1703.3,1190.4 1706.3,1199.6 1701.7,1205.1 1693.4,1203.2 1686.6,1206.4" stroke="#00006a" stroke-width="5.8"/><path d="M1703.3,1190.4 1706.3,1199.6 1701.7,1205.1 1693.4,1203.2 1686.6,1206.4" stroke="#0505e8" stroke-width="4.2"/><path d="M1772.1,1327.5 1776.7,1320.9 1774.6,1313.8 1767.5,1313.1" stroke="#00006a" stroke-width="5.8"/><path d="M1772.1,1327.5 1776.7,1320.9 1774.6,1313.8 1767.5,1313.1" stroke="#0505e8" stroke-width="4.2"/><path d="M1738.9,1229.9 1728.7,1234.7 1725,1245" stroke="#00006a" stroke-width="5.8"/><path d="M1738.9,1229.9 1728.7,1234.7 1725,1245" stroke="#0505e8" stroke-width="4.2"/><path d="M1727.3,1459 1717.1,1458.4 1709.3,1463.3 1696.6,1461.7 1688.5,1451.5" stroke="#00006a" stroke-width="5.8"/><path d="M1727.3,1459 1717.1,1458.4 1709.3,1463.3 1696.6,1461.7 1688.5,1451.5" stroke="#0505e8" stroke-width="4.2"/><path d="M1712.9,1202.7 1707.6,1191.1 1700.4,1188.2 1697.7,1178.6" stroke="#00006a" stroke-width="5.8"/><path d="M1712.9,1202.7 1707.6,1191.1 1700.4,1188.2 1697.7,1178.6" stroke="#0505e8" stroke-width="4.2"/><path d="M1773.5,1323.9 1775.7,1332.7 1784.8,1334.5 1792,1325.7 1788.9,1315.7" stroke="#00006a" stroke-width="5.8"/><path d="M1773.5,1323.9 1775.7,1332.7 1784.8,1334.5 1792,1325.7 1788.9,1315.7" stroke="#0505e8" stroke-width="4.2"/><path d="M1689.5,1175.5 1689.4,1168.4 1678.9,1162 1668.3,1163.1" stroke="#00006a" stroke-width="5.8"/><path d="M1689.5,1175.5 1689.4,1168.4 1678.9,1162 1668.3,1163.1" stroke="#0505e8" stroke-width="4.2"/><path d="M1743.8,1211.3 1732.2,1211.8 1726.5,1222.4" stroke="#00006a" stroke-width="5.8"/><path d="M1743.8,1211.3 1732.2,1211.8 1726.5,1222.4" stroke="#0505e8" stroke-width="4.2"/><path d="M1727.7,1399.4 1723.5,1407.6 1726,1418.1 1718,1427.3" stroke="#00006a" stroke-width="5.8"/><path d="M1727.7,1399.4 1723.5,1407.6 1726,1418.1 1718,1427.3" stroke="#0505e8" stroke-width="4.2"/><path d="M1776.1,1200.9 1770.4,1193.7 1773.4,1185.9 1783.7,1180.6 1785,1172.1" stroke="#00006a" stroke-width="5.8"/><path d="M1776.1,1200.9 1770.4,1193.7 1773.4,1185.9 1783.7,1180.6 1785,1172.1" stroke="#0505e8" stroke-width="4.2"/><path d="M1758.4,1271.1 1765,1277.1 1763.2,1286.6" stroke="#00006a" stroke-width="5.8"/><path d="M1758.4,1271.1 1765,1277.1 1763.2,1286.6" stroke="#0505e8" stroke-width="4.2"/><path d="M1677.8,1160.7 1687.9,1168.6 1698.9,1168.9 1704.2,1160.8" stroke="#00006a" stroke-width="5.8"/><path d="M1677.8,1160.7 1687.9,1168.6 1698.9,1168.9 1704.2,1160.8" stroke="#0505e8" stroke-width="4.2"/><path d="M1755.6,1264.7 1753.1,1272.9 1744.4,1274.4 1738.4,1265.2" stroke="#00006a" stroke-width="5.8"/><path d="M1755.6,1264.7 1753.1,1272.9 1744.4,1274.4 1738.4,1265.2" stroke="#0505e8" stroke-width="4.2"/><path d="M1720,1182.6 1728.4,1187.4 1739.3,1186.6" stroke="#00006a" stroke-width="5.8"/><path d="M1720,1182.6 1728.4,1187.4 1739.3,1186.6" stroke="#0505e8" stroke-width="4.2"/><path d="M1738.3,1280.5 1729.5,1287.5 1721.3,1286.6" stroke="#00006a" stroke-width="5.8"/><path d="M1738.3,1280.5 1729.5,1287.5 1721.3,1286.6" stroke="#0505e8" stroke-width="4.2"/><path d="M1755.5,1304.4 1744.4,1302.1 1740.5,1292.1 1733.6,1287.9" stroke="#00006a" stroke-width="5.8"/><path d="M1755.5,1304.4 1744.4,1302.1 1740.5,1292.1 1733.6,1287.9" stroke="#0505e8" stroke-width="4.2"/><path d="M1773.3,1214.5 1764,1219.3 1762.4,1231.2 1767.3,1239.5" stroke="#00006a" stroke-width="5.8"/><path d="M1773.3,1214.5 1764,1219.3 1762.4,1231.2 1767.3,1239.5" stroke="#0505e8" stroke-width="4.2"/><path d="M1773,1202.9 1765.8,1209.1 1756.2,1206.8 1747.3,1214.4" stroke="#00006a" stroke-width="5.8"/><path d="M1773,1202.9 1765.8,1209.1 1756.2,1206.8 1747.3,1214.4" stroke="#0505e8" stroke-width="4.2"/><path d="M1758.7,1235.8 1755.9,1244.8 1748.5,1249.9" stroke="#00006a" stroke-width="5.8"/><path d="M1758.7,1235.8 1755.9,1244.8 1748.5,1249.9" stroke="#0505e8" stroke-width="4.2"/><path d="M1740.8,1327.3 1733.6,1322.6 1732.8,1314.6" stroke="#00006a" stroke-width="5.8"/><path d="M1740.8,1327.3 1733.6,1322.6 1732.8,1314.6" stroke="#0505e8" stroke-width="4.2"/><path d="M1740.4,1467.2 1751.1,1461.2 1752.4,1450.1 1744.2,1443.6" stroke="#00006a" stroke-width="5.8"/><path d="M1740.4,1467.2 1751.1,1461.2 1752.4,1450.1 1744.2,1443.6" stroke="#0505e8" stroke-width="4.2"/><path d="M1679.1,1171 1667.4,1169.9 1661.6,1163.4 1663.9,1156.7 1658.3,1148" stroke="#00006a" stroke-width="5.8"/><path d="M1679.1,1171 1667.4,1169.9 1661.6,1163.4 1663.9,1156.7 1658.3,1148" stroke="#0505e8" stroke-width="4.2"/><path d="M1763.8,1301.5 1754.2,1303 1747.6,1296.9" stroke="#00006a" stroke-width="5.8"/><path d="M1763.8,1301.5 1754.2,1303 1747.6,1296.9" stroke="#0505e8" stroke-width="4.2"/><path d="M1768.6,1280.5 1780.5,1282.4 1786.5,1292.3" stroke="#00006a" stroke-width="5.8"/><path d="M1768.6,1280.5 1780.5,1282.4 1786.5,1292.3" stroke="#0505e8" stroke-width="4.2"/><path d="M1737,1421.9 1736.3,1413.4 1729.4,1408.5 1720.2,1408.9 1715.6,1416.5" stroke="#00006a" stroke-width="5.8"/><path d="M1737,1421.9 1736.3,1413.4 1729.4,1408.5 1720.2,1408.9 1715.6,1416.5" stroke="#0505e8" stroke-width="4.2"/><path d="M1767.6,1188 1779.5,1191.8 1786.2,1189.2 1792.7,1192.8" stroke="#00006a" stroke-width="5.8"/><path d="M1767.6,1188 1779.5,1191.8 1786.2,1189.2 1792.7,1192.8" stroke="#0505e8" stroke-width="4.2"/><path d="M1743.2,1408.7 1754.6,1410.5 1760.5,1419.4" stroke="#00006a" stroke-width="5.8"/><path d="M1743.2,1408.7 1754.6,1410.5 1760.5,1419.4" stroke="#0505e8" stroke-width="4.2"/><path d="M1744,1400.5 1734.6,1399.6 1730,1405.6 1732.3,1412.7" stroke="#00006a" stroke-width="5.8"/><path d="M1744,1400.5 1734.6,1399.6 1730,1405.6 1732.3,1412.7" stroke="#0505e8" stroke-width="4.2"/><path d="M1685.5,1163.9 1693.7,1171.6 1706.3,1172.7 1712.3,1165.3" stroke="#00006a" stroke-width="5.8"/><path d="M1685.5,1163.9 1693.7,1171.6 1706.3,1172.7 1712.3,1165.3" stroke="#0505e8" stroke-width="4.2"/><path d="M1746.8,1184.8 1734.8,1188.3 1728.4,1181.4" stroke="#00006a" stroke-width="5.8"/><path d="M1746.8,1184.8 1734.8,1188.3 1728.4,1181.4" stroke="#0505e8" stroke-width="4.2"/><path d="M1681.3,1179.9 1673.9,1173.6 1674.6,1162.3 1667.9,1153.6 1658.2,1156" stroke="#00006a" stroke-width="5.8"/><path d="M1681.3,1179.9 1673.9,1173.6 1674.6,1162.3 1667.9,1153.6 1658.2,1156" stroke="#0505e8" stroke-width="4.2"/><path d="M1703,1443 1701.9,1435 1693.7,1429.2 1684.1,1434.4" stroke="#00006a" stroke-width="5.8"/><path d="M1703,1443 1701.9,1435 1693.7,1429.2 1684.1,1434.4" stroke="#0505e8" stroke-width="4.2"/><path d="M1684.3,1178.8 1675.7,1188.5 1676.5,1199.6 1686.1,1205.5" stroke="#00006a" stroke-width="5.8"/><path d="M1684.3,1178.8 1675.7,1188.5 1676.5,1199.6 1686.1,1205.5" stroke="#0505e8" stroke-width="4.2"/><path d="M1726.3,1171.8 1732.8,1175.7 1740,1174.8 1746.7,1178.9 1748.5,1191.2" stroke="#00006a" stroke-width="5.8"/><path d="M1726.3,1171.8 1732.8,1175.7 1740,1174.8 1746.7,1178.9 1748.5,1191.2" stroke="#0505e8" stroke-width="4.2"/><path d="M1762.8,1312.8 1763,1302.9 1770.8,1299.8 1772.9,1288.6" stroke="#00006a" stroke-width="5.8"/><path d="M1762.8,1312.8 1763,1302.9 1770.8,1299.8 1772.9,1288.6" stroke="#0505e8" stroke-width="4.2"/><path d="M1677.7,1479.2 1666.9,1477 1660,1481 1653.5,1476.5" stroke="#00006a" stroke-width="5.8"/><path d="M1677.7,1479.2 1666.9,1477 1660,1481 1653.5,1476.5" stroke="#0505e8" stroke-width="4.2"/><path d="M1732.9,1378.7 1740.1,1385 1736.8,1395.2" stroke="#00006a" stroke-width="5.8"/><path d="M1732.9,1378.7 1740.1,1385 1736.8,1395.2" stroke="#0505e8" stroke-width="4.2"/><path d="M1737.4,1190.8 1740.4,1198.4 1733.4,1206.7" stroke="#00006a" stroke-width="5.8"/><path d="M1737.4,1190.8 1740.4,1198.4 1733.4,1206.7" stroke="#0505e8" stroke-width="4.2"/><path d="M1762.8,1223.1 1755.9,1216.7 1748.1,1218.9 1737.2,1213.5 1734.7,1201.5" stroke="#00006a" stroke-width="5.8"/><path d="M1762.8,1223.1 1755.9,1216.7 1748.1,1218.9 1737.2,1213.5 1734.7,1201.5" stroke="#0505e8" stroke-width="4.2"/><path d="M1670.6,1488.9 1679.2,1487.1 1685.6,1494.7 1684.7,1504" stroke="#00006a" stroke-width="5.8"/><path d="M1670.6,1488.9 1679.2,1487.1 1685.6,1494.7 1684.7,1504" stroke="#0505e8" stroke-width="4.2"/><path d="M1692.6,1157.9 1689.5,1164.5 1679.6,1165.6 1673.4,1173 1676.3,1185.5" stroke="#00006a" stroke-width="5.8"/><path d="M1692.6,1157.9 1689.5,1164.5 1679.6,1165.6 1673.4,1173 1676.3,1185.5" stroke="#0505e8" stroke-width="4.2"/><path d="M1768.7,1225.1 1775,1216.4 1773.9,1207.3 1781.3,1198.4" stroke="#00006a" stroke-width="5.8"/><path d="M1768.7,1225.1 1775,1216.4 1773.9,1207.3 1781.3,1198.4" stroke="#0505e8" stroke-width="4.2"/><path d="M1676.1,1490.9 1687.4,1490.6 1694.9,1495.9 1707.4,1496.1" stroke="#00006a" stroke-width="5.8"/><path d="M1676.1,1490.9 1687.4,1490.6 1694.9,1495.9 1707.4,1496.1" stroke="#0505e8" stroke-width="4.2"/><path d="M1686.5,1484.3 1683.7,1477.3 1689.1,1465.8" stroke="#00006a" stroke-width="5.8"/><path d="M1686.5,1484.3 1683.7,1477.3 1689.1,1465.8" stroke="#0505e8" stroke-width="4.2"/><path d="M1719.5,1444.5 1717.8,1436.1 1723.6,1431.9" stroke="#00006a" stroke-width="5.8"/><path d="M1719.5,1444.5 1717.8,1436.1 1723.6,1431.9" stroke="#0505e8" stroke-width="4.2"/><path d="M1711.8,1483.8 1721,1487.3 1726.2,1482.6" stroke="#00006a" stroke-width="5.8"/><path d="M1711.8,1483.8 1721,1487.3 1726.2,1482.6" stroke="#0505e8" stroke-width="4.2"/><path d="M1766.1,1228.1 1758.7,1233.3 1749.4,1228 1741.1,1232.2" stroke="#00006a" stroke-width="5.8"/><path d="M1766.1,1228.1 1758.7,1233.3 1749.4,1228 1741.1,1232.2" stroke="#0505e8" stroke-width="4.2"/><path d="M1691.3,1507.7 1681.6,1508.8 1675.6,1502.6 1679.2,1495.3 1688.9,1494.2 1695,1500.4Z" stroke="#00006a" stroke-width="5.8"/><path d="M1691.3,1507.7 1681.6,1508.8 1675.6,1502.6 1679.2,1495.3 1688.9,1494.2 1695,1500.4Z" stroke="#0505e8" stroke-width="4.2"/><path d="M1722,1197 1715.4,1199.2 1709.7,1195.7 1710.7,1190 1717.4,1187.9 1723,1191.4Z" stroke="#00006a" stroke-width="5.8"/><path d="M1722,1197 1715.4,1199.2 1709.7,1195.7 1710.7,1190 1717.4,1187.9 1723,1191.4Z" stroke="#0505e8" stroke-width="4.2"/><path d="M1739.8,1468 1732.3,1471 1725.3,1467.2 1725.9,1460.5 1733.5,1457.6 1740.4,1461.3Z" stroke="#00006a" stroke-width="5.8"/><path d="M1739.8,1468 1732.3,1471 1725.3,1467.2 1725.9,1460.5 1733.5,1457.6 1740.4,1461.3Z" stroke="#0505e8" stroke-width="4.2"/><path d="M1685.9,1480.2 1678.5,1484.6 1670.1,1481.7 1669,1474.4 1676.4,1470 1684.8,1472.9Z" stroke="#00006a" stroke-width="5.8"/><path d="M1685.9,1480.2 1678.5,1484.6 1670.1,1481.7 1669,1474.4 1676.4,1470 1684.8,1472.9Z" stroke="#0505e8" stroke-width="4.2"/></g>
<use href="#hl2" transform="translate(1704,1562) rotate(-38.3) scale(33.11,22)"/><g transform="translate(1704,1562) rotate(-38.3)"><use href="#hb1" transform="translate(33.1,0) scale(33.11,20)"/></g>
<path d="M0,-7 58.9,-1.5 58.9,1.5 0,7Z" transform="translate(1658,1500) rotate(-14.7)" fill="#0a0ae0" stroke="#00006a" stroke-width="1.4"/>
<g fill="none" stroke-linecap="round" stroke-linejoin="round"><path d="M1744.2,1539.8 1756.4,1537.8 1759.1,1525.7 1769.2,1524" stroke="#00006a" stroke-width="5.8"/><path d="M1744.2,1539.8 1756.4,1537.8 1759.1,1525.7 1769.2,1524" stroke="#0505e8" stroke-width="4.2"/><path d="M1731.4,1556.9 1732.1,1546.9 1722,1540.2 1722.9,1531.5" stroke="#00006a" stroke-width="5.8"/><path d="M1731.4,1556.9 1732.1,1546.9 1722,1540.2 1722.9,1531.5" stroke="#0505e8" stroke-width="4.2"/><path d="M1718.6,1547.1 1710.6,1550.5 1710.9,1557.9" stroke="#00006a" stroke-width="5.8"/><path d="M1718.6,1547.1 1710.6,1550.5 1710.9,1557.9" stroke="#0505e8" stroke-width="4.2"/><path d="M1723.3,1540.9 1730.5,1535.4 1739.5,1537.9 1745.6,1531 1746.2,1523.5" stroke="#00006a" stroke-width="5.8"/><path d="M1723.3,1540.9 1730.5,1535.4 1739.5,1537.9 1745.6,1531 1746.2,1523.5" stroke="#0505e8" stroke-width="4.2"/><path d="M1727.8,1524.1 1737.7,1524.5 1743,1532.7 1740.8,1539.4 1730.2,1544.3" stroke="#00006a" stroke-width="5.8"/><path d="M1727.8,1524.1 1737.7,1524.5 1743,1532.7 1740.8,1539.4 1730.2,1544.3" stroke="#0505e8" stroke-width="4.2"/><path d="M1731.2,1522.3 1728.2,1511.4 1730.7,1504.3 1739.7,1501.1 1750.9,1506" stroke="#00006a" stroke-width="5.8"/><path d="M1731.2,1522.3 1728.2,1511.4 1730.7,1504.3 1739.7,1501.1 1750.9,1506" stroke="#0505e8" stroke-width="4.2"/><path d="M1784.1,1531.5 1787.3,1539.9 1799.7,1540.3 1804.4,1547.7" stroke="#00006a" stroke-width="5.8"/><path d="M1784.1,1531.5 1787.3,1539.9 1799.7,1540.3 1804.4,1547.7" stroke="#0505e8" stroke-width="4.2"/><path d="M1749.6,1546.8 1754.9,1554.1 1750.5,1563.7 1757.3,1572" stroke="#00006a" stroke-width="5.8"/><path d="M1749.6,1546.8 1754.9,1554.1 1750.5,1563.7 1757.3,1572" stroke="#0505e8" stroke-width="4.2"/></g>
<path d="M1772.5,1085.8C1777,1085.3 1791.5,1081.2 1799.6,1083C1807.7,1084.8 1815.9,1089.9 1821.3,1096.7C1826.7,1103.5 1831.1,1117 1832,1123.8C1832.9,1130.6 1830.3,1133.7 1826.7,1137.3C1823.1,1140.9 1815.8,1143.1 1810.4,1145.4C1805,1147.7 1796.9,1150 1794.2,1150.9" fill="none" stroke="#b07e90" stroke-width="6.5" stroke-linecap="round" stroke-linejoin="round"/><path d="M1772.5,1085.8C1777,1085.3 1791.5,1081.2 1799.6,1083C1807.7,1084.8 1815.9,1089.9 1821.3,1096.7C1826.7,1103.5 1831.1,1117 1832,1123.8C1832.9,1130.6 1830.3,1133.7 1826.7,1137.3C1823.1,1140.9 1815.8,1143.1 1810.4,1145.4C1805,1147.7 1796.9,1150 1794.2,1150.9" fill="none" stroke="#f2bccd" stroke-width="4.5" stroke-linecap="round" stroke-linejoin="round"/>
<path d="M1821.3,1175C1826.7,1176 1846.1,1177 1853.8,1180.7C1861.5,1184.4 1862.8,1191.6 1867.3,1197C1871.8,1202.4 1875.1,1209.4 1881,1213C1886.9,1216.6 1896.8,1213.6 1902.6,1218.6C1908.4,1223.6 1910.6,1237.1 1916,1243C1921.4,1248.9 1928.7,1250.2 1935,1253.8C1941.3,1257.4 1949.5,1259.3 1954,1264.7C1958.5,1270.1 1962.5,1281.5 1962,1286C1961.5,1290.5 1953.2,1293.1 1951,1291.8C1948.8,1290.5 1949,1280.3 1948.6,1278" fill="none" stroke="#b07e90" stroke-width="6.5" stroke-linecap="round" stroke-linejoin="round"/><path d="M1821.3,1175C1826.7,1176 1846.1,1177 1853.8,1180.7C1861.5,1184.4 1862.8,1191.6 1867.3,1197C1871.8,1202.4 1875.1,1209.4 1881,1213C1886.9,1216.6 1896.8,1213.6 1902.6,1218.6C1908.4,1223.6 1910.6,1237.1 1916,1243C1921.4,1248.9 1928.7,1250.2 1935,1253.8C1941.3,1257.4 1949.5,1259.3 1954,1264.7C1958.5,1270.1 1962.5,1281.5 1962,1286C1961.5,1290.5 1953.2,1293.1 1951,1291.8C1948.8,1290.5 1949,1280.3 1948.6,1278" fill="none" stroke="#f2bccd" stroke-width="4.5" stroke-linecap="round" stroke-linejoin="round"/>
<path d="M1886.3,1291.8C1889,1294 1897.6,1303.9 1902.6,1305.3C1907.5,1306.7 1910.6,1299.1 1916,1300C1921.4,1300.9 1928.2,1307.6 1935,1310.7C1941.8,1313.8 1951.8,1314.8 1956.8,1318.8C1961.8,1322.8 1963.6,1332.3 1965,1335" fill="none" stroke="#b07e90" stroke-width="6.5" stroke-linecap="round" stroke-linejoin="round"/><path d="M1886.3,1291.8C1889,1294 1897.6,1303.9 1902.6,1305.3C1907.5,1306.7 1910.6,1299.1 1916,1300C1921.4,1300.9 1928.2,1307.6 1935,1310.7C1941.8,1313.8 1951.8,1314.8 1956.8,1318.8C1961.8,1322.8 1963.6,1332.3 1965,1335" fill="none" stroke="#f2bccd" stroke-width="4.5" stroke-linecap="round" stroke-linejoin="round"/>
<path d="M2035,1373C2040,1368.5 2055.5,1355 2065,1346C2074.5,1337 2082.1,1324 2092,1319C2101.9,1314 2115.6,1312.4 2124.7,1316C2133.8,1319.6 2142.3,1331.9 2146.4,1340.5C2150.5,1349.1 2152.2,1359.5 2149,1367.6C2145.8,1375.7 2131.9,1383.9 2127.4,1389.3C2122.9,1394.7 2122,1393.7 2122,1400C2122,1406.3 2124.2,1418 2127.4,1427C2130.6,1436 2137.8,1444.9 2141,1454C2144.2,1463.1 2146,1473.2 2146.4,1481.4C2146.8,1489.6 2144.1,1499.4 2143.7,1503" fill="none" stroke="#b07e90" stroke-width="6.5" stroke-linecap="round" stroke-linejoin="round"/><path d="M2035,1373C2040,1368.5 2055.5,1355 2065,1346C2074.5,1337 2082.1,1324 2092,1319C2101.9,1314 2115.6,1312.4 2124.7,1316C2133.8,1319.6 2142.3,1331.9 2146.4,1340.5C2150.5,1349.1 2152.2,1359.5 2149,1367.6C2145.8,1375.7 2131.9,1383.9 2127.4,1389.3C2122.9,1394.7 2122,1393.7 2122,1400C2122,1406.3 2124.2,1418 2127.4,1427C2130.6,1436 2137.8,1444.9 2141,1454C2144.2,1463.1 2146,1473.2 2146.4,1481.4C2146.8,1489.6 2144.1,1499.4 2143.7,1503" fill="none" stroke="#f2bccd" stroke-width="4.5" stroke-linecap="round" stroke-linejoin="round"/>
<path d="M2046,1378.5C2051.4,1382.1 2071.9,1391.9 2078.7,1400C2085.5,1408.1 2087.7,1418 2086.8,1427C2085.9,1436 2074.2,1445.8 2073.3,1454C2072.4,1462.2 2079.2,1467.8 2081.4,1476C2083.7,1484.2 2085.9,1498.5 2086.8,1503" fill="none" stroke="#b07e90" stroke-width="6.5" stroke-linecap="round" stroke-linejoin="round"/><path d="M2046,1378.5C2051.4,1382.1 2071.9,1391.9 2078.7,1400C2085.5,1408.1 2087.7,1418 2086.8,1427C2085.9,1436 2074.2,1445.8 2073.3,1454C2072.4,1462.2 2079.2,1467.8 2081.4,1476C2083.7,1484.2 2085.9,1498.5 2086.8,1503" fill="none" stroke="#f2bccd" stroke-width="4.5" stroke-linecap="round" stroke-linejoin="round"/>
<path d="M2024.5,1449C2029,1448.1 2043.9,1441.2 2051.6,1443.5C2059.3,1445.8 2063.7,1457.5 2070.5,1462.5C2077.3,1467.5 2084.1,1471 2092.2,1473.3C2100.3,1475.5 2111.2,1473.8 2119.3,1476C2127.4,1478.2 2137.4,1485 2141,1486.8" fill="none" stroke="#b07e90" stroke-width="6.5" stroke-linecap="round" stroke-linejoin="round"/><path d="M2024.5,1449C2029,1448.1 2043.9,1441.2 2051.6,1443.5C2059.3,1445.8 2063.7,1457.5 2070.5,1462.5C2077.3,1467.5 2084.1,1471 2092.2,1473.3C2100.3,1475.5 2111.2,1473.8 2119.3,1476C2127.4,1478.2 2137.4,1485 2141,1486.8" fill="none" stroke="#f2bccd" stroke-width="4.5" stroke-linecap="round" stroke-linejoin="round"/>
<path d="M1875.5,1530C1878.2,1526.4 1885.4,1511.2 1891.7,1508.5C1898,1505.8 1906.2,1514.9 1913.4,1514C1920.6,1513.1 1928.7,1501.2 1935,1503C1941.3,1504.8 1945,1523 1951.3,1524.8C1957.6,1526.6 1965.3,1516.7 1973,1514C1980.7,1511.3 1991.1,1513.9 1997.4,1508.5C2003.7,1503.1 2006,1488.2 2011,1481.4C2016,1474.7 2024.5,1470.2 2027.2,1468" fill="none" stroke="#b07e90" stroke-width="6.5" stroke-linecap="round" stroke-linejoin="round"/><path d="M1875.5,1530C1878.2,1526.4 1885.4,1511.2 1891.7,1508.5C1898,1505.8 1906.2,1514.9 1913.4,1514C1920.6,1513.1 1928.7,1501.2 1935,1503C1941.3,1504.8 1945,1523 1951.3,1524.8C1957.6,1526.6 1965.3,1516.7 1973,1514C1980.7,1511.3 1991.1,1513.9 1997.4,1508.5C2003.7,1503.1 2006,1488.2 2011,1481.4C2016,1474.7 2024.5,1470.2 2027.2,1468" fill="none" stroke="#f2bccd" stroke-width="4.5" stroke-linecap="round" stroke-linejoin="round"/>
<path d="M1886.3,1313.4C1887.2,1318.8 1888.1,1336.1 1891.7,1346C1895.3,1355.9 1902.6,1361.7 1908,1373C1913.4,1384.3 1920.6,1402.4 1924.2,1413.7C1927.8,1425 1925.2,1434.9 1929.7,1440.8C1934.2,1446.7 1947.7,1447.6 1951.3,1449" fill="none" stroke="#b07e90" stroke-width="6.5" stroke-linecap="round" stroke-linejoin="round"/><path d="M1886.3,1313.4C1887.2,1318.8 1888.1,1336.1 1891.7,1346C1895.3,1355.9 1902.6,1361.7 1908,1373C1913.4,1384.3 1920.6,1402.4 1924.2,1413.7C1927.8,1425 1925.2,1434.9 1929.7,1440.8C1934.2,1446.7 1947.7,1447.6 1951.3,1449" fill="none" stroke="#f2bccd" stroke-width="4.5" stroke-linecap="round" stroke-linejoin="round"/>
<path d="M1821,1175C1819.2,1180 1809.3,1195 1810,1205C1810.7,1215 1823.3,1225 1825,1235C1826.7,1245 1820.8,1260 1820,1265" fill="none" stroke="#b07e90" stroke-width="6.5" stroke-linecap="round" stroke-linejoin="round"/><path d="M1821,1175C1819.2,1180 1809.3,1195 1810,1205C1810.7,1215 1823.3,1225 1825,1235C1826.7,1245 1820.8,1260 1820,1265" fill="none" stroke="#f2bccd" stroke-width="4.5" stroke-linecap="round" stroke-linejoin="round"/>
<path d="M1990,1385C1991.7,1390 1999.5,1405 2000,1415C2000.5,1425 1994.2,1440 1993,1445" fill="none" stroke="#b07e90" stroke-width="6.5" stroke-linecap="round" stroke-linejoin="round"/><path d="M1990,1385C1991.7,1390 1999.5,1405 2000,1415C2000.5,1425 1994.2,1440 1993,1445" fill="none" stroke="#f2bccd" stroke-width="4.5" stroke-linecap="round" stroke-linejoin="round"/>
<path d="M2097,1365C2100.8,1363.7 2114.5,1354.5 2120,1357C2125.5,1359.5 2128.3,1376.2 2130,1380" fill="none" stroke="#b07e90" stroke-width="6.5" stroke-linecap="round" stroke-linejoin="round"/><path d="M2097,1365C2100.8,1363.7 2114.5,1354.5 2120,1357C2125.5,1359.5 2128.3,1376.2 2130,1380" fill="none" stroke="#f2bccd" stroke-width="4.5" stroke-linecap="round" stroke-linejoin="round"/>
<path d="M0,-6 56.7,-6 56.7,-9.6 81,0 56.7,9.6 56.7,6 0,6Z" transform="translate(1962,1338) rotate(25.6)" fill="url(#sp)" stroke="#a0707f" stroke-width="1.4"/>
<path d="M0,-11 203.2,-1.5 203.2,1.5 0,11Z" transform="translate(1832,1381) rotate(-2.3)" fill="url(#sp)" stroke="#a0707f" stroke-width="1.4"/>
<path d="M0,-11 210,-1.5 210,1.5 0,11Z" transform="translate(1829,1414) rotate(-11.3)" fill="url(#sp)" stroke="#a0707f" stroke-width="1.4"/>
<path d="M0,-9 177.1,-1.5 177.1,1.5 0,9Z" transform="translate(1865,1454) rotate(-26.1)" fill="url(#sp)" stroke="#a0707f" stroke-width="1.4"/>
<path d="M0,-6.5 143.4,-1.5 143.4,1.5 0,6.5Z" transform="translate(1870,1476) rotate(-37.3)" fill="url(#sp)" stroke="#a0707f" stroke-width="1.4"/>
<path d="M0,-5 43.8,-5 43.8,-8 62.5,0 43.8,8 43.8,5 0,5Z" transform="translate(2035,1373) rotate(-7.4)" fill="url(#sp)" stroke="#a0707f" stroke-width="1.4"/>
<use href="#hp2" transform="translate(1956.8,1459.7) rotate(-14.6) scale(32.14,24.2)"/>
<use href="#hp1" transform="translate(1825,1485) rotate(-51.7) scale(48.41,24.2)"/>
<use href="#hp2" transform="translate(1821,1305) rotate(-30.3) scale(34.73,22)"/>
<g fill="none" stroke-linecap="round" stroke-linejoin="round"><path d="M1787.2,1349.6 1799.3,1347.6 1802.1,1335.5 1812.1,1333.8" stroke="#8a0040" stroke-width="5.8"/><path d="M1787.2,1349.6 1799.3,1347.6 1802.1,1335.5 1812.1,1333.8" stroke="#f5137d" stroke-width="4.2"/><path d="M1771.8,1471 1772.4,1461 1762.3,1454.3 1763.3,1445.6" stroke="#8a0040" stroke-width="5.8"/><path d="M1771.8,1471 1772.4,1461 1762.3,1454.3 1763.3,1445.6" stroke="#f5137d" stroke-width="4.2"/><path d="M1756.3,1401.3 1748.3,1404.7 1748.6,1412.1" stroke="#8a0040" stroke-width="5.8"/><path d="M1756.3,1401.3 1748.3,1404.7 1748.6,1412.1" stroke="#f5137d" stroke-width="4.2"/><path d="M1762,1357.9 1769.2,1352.3 1778.2,1354.9 1784.3,1348 1784.9,1340.4" stroke="#8a0040" stroke-width="5.8"/><path d="M1762,1357.9 1769.2,1352.3 1778.2,1354.9 1784.3,1348 1784.9,1340.4" stroke="#f5137d" stroke-width="4.2"/><path d="M1823.7,1366.9 1813.8,1363.1 1812.7,1354.3 1806.5,1347.4 1805.7,1335.2" stroke="#8a0040" stroke-width="5.8"/><path d="M1823.7,1366.9 1813.8,1363.1 1812.7,1354.3 1806.5,1347.4 1805.7,1335.2" stroke="#f5137d" stroke-width="4.2"/><path d="M1826.3,1376.8 1825.8,1384.3 1818,1389.8 1805.9,1388.2" stroke="#8a0040" stroke-width="5.8"/><path d="M1826.3,1376.8 1825.8,1384.3 1818,1389.8 1805.9,1388.2" stroke="#f5137d" stroke-width="4.2"/><path d="M1835.3,1290.9 1838.4,1299.3 1850.9,1299.8 1855.6,1307.1" stroke="#8a0040" stroke-width="5.8"/><path d="M1835.3,1290.9 1838.4,1299.3 1850.9,1299.8 1855.6,1307.1" stroke="#f5137d" stroke-width="4.2"/><path d="M1793.7,1399.7 1799,1407 1794.6,1416.5 1801.4,1424.9" stroke="#8a0040" stroke-width="5.8"/><path d="M1793.7,1399.7 1799,1407 1794.6,1416.5 1801.4,1424.9" stroke="#f5137d" stroke-width="4.2"/><path d="M1805.7,1191.9 1813.4,1189 1818.3,1179.6 1811.1,1170.4" stroke="#8a0040" stroke-width="5.8"/><path d="M1805.7,1191.9 1813.4,1189 1818.3,1179.6 1811.1,1170.4" stroke="#f5137d" stroke-width="4.2"/><path d="M1832.5,1264.2 1839.6,1264.9 1844.3,1258" stroke="#8a0040" stroke-width="5.8"/><path d="M1832.5,1264.2 1839.6,1264.9 1844.3,1258" stroke="#f5137d" stroke-width="4.2"/><path d="M1815.3,1391.9 1811.9,1382.5 1817.2,1375.2" stroke="#8a0040" stroke-width="5.8"/><path d="M1815.3,1391.9 1811.9,1382.5 1817.2,1375.2" stroke="#f5137d" stroke-width="4.2"/><path d="M1772.3,1181.9 1780.1,1180 1786.1,1172.1" stroke="#8a0040" stroke-width="5.8"/><path d="M1772.3,1181.9 1780.1,1180 1786.1,1172.1" stroke="#f5137d" stroke-width="4.2"/><path d="M1817.3,1296.4 1819.2,1288 1814.4,1280 1806.9,1278.3 1797.7,1287.1" stroke="#8a0040" stroke-width="5.8"/><path d="M1817.3,1296.4 1819.2,1288 1814.4,1280 1806.9,1278.3 1797.7,1287.1" stroke="#f5137d" stroke-width="4.2"/><path d="M1757.8,1418.9 1767.1,1411.8 1778,1415.4" stroke="#8a0040" stroke-width="5.8"/><path d="M1757.8,1418.9 1767.1,1411.8 1778,1415.4" stroke="#f5137d" stroke-width="4.2"/><path d="M1821,1297.2 1828.6,1291.8 1836.5,1294.7 1837.7,1304.3" stroke="#8a0040" stroke-width="5.8"/><path d="M1821,1297.2 1828.6,1291.8 1836.5,1294.7 1837.7,1304.3" stroke="#f5137d" stroke-width="4.2"/><path d="M1766.1,1141.5 1771.5,1136.7 1772.7,1127.8" stroke="#8a0040" stroke-width="5.8"/><path d="M1766.1,1141.5 1771.5,1136.7 1772.7,1127.8" stroke="#f5137d" stroke-width="4.2"/><path d="M1829.1,1428.4 1841.4,1425.3 1849.2,1435" stroke="#8a0040" stroke-width="5.8"/><path d="M1829.1,1428.4 1841.4,1425.3 1849.2,1435" stroke="#f5137d" stroke-width="4.2"/><path d="M1787,1138.7 1797.5,1139.1 1803.5,1147.2" stroke="#8a0040" stroke-width="5.8"/><path d="M1787,1138.7 1797.5,1139.1 1803.5,1147.2" stroke="#f5137d" stroke-width="4.2"/><path d="M1783.9,1213.4 1780.7,1219.8 1786.1,1226.8 1798,1223.8 1801.8,1217.6" stroke="#8a0040" stroke-width="5.8"/><path d="M1783.9,1213.4 1780.7,1219.8 1786.1,1226.8 1798,1223.8 1801.8,1217.6" stroke="#f5137d" stroke-width="4.2"/><path d="M1762.1,1372.5 1757.5,1382.9 1748.9,1383.5 1743.8,1389.2" stroke="#8a0040" stroke-width="5.8"/><path d="M1762.1,1372.5 1757.5,1382.9 1748.9,1383.5 1743.8,1389.2" stroke="#f5137d" stroke-width="4.2"/><path d="M1755.9,1455.1 1748.7,1449.5 1739,1452.5 1730.9,1445 1731.3,1436.2" stroke="#8a0040" stroke-width="5.8"/><path d="M1755.9,1455.1 1748.7,1449.5 1739,1452.5 1730.9,1445 1731.3,1436.2" stroke="#f5137d" stroke-width="4.2"/><path d="M1805.7,1254.2 1815.5,1253 1824.3,1260.4 1825.2,1270.9" stroke="#8a0040" stroke-width="5.8"/><path d="M1805.7,1254.2 1815.5,1253 1824.3,1260.4 1825.2,1270.9" stroke="#f5137d" stroke-width="4.2"/><path d="M1788.8,1227.7 1787.9,1219.8 1795.1,1213.4 1793.5,1203.6" stroke="#8a0040" stroke-width="5.8"/><path d="M1788.8,1227.7 1787.9,1219.8 1795.1,1213.4 1793.5,1203.6" stroke="#f5137d" stroke-width="4.2"/><path d="M1792,1164.7 1787.8,1154.2 1779.8,1153.9 1773.9,1158.3" stroke="#8a0040" stroke-width="5.8"/><path d="M1792,1164.7 1787.8,1154.2 1779.8,1153.9 1773.9,1158.3" stroke="#f5137d" stroke-width="4.2"/><path d="M1783.4,1151.4 1779.2,1163.3 1768.4,1168" stroke="#8a0040" stroke-width="5.8"/><path d="M1783.4,1151.4 1779.2,1163.3 1768.4,1168" stroke="#f5137d" stroke-width="4.2"/><path d="M1761.9,1426.2 1759.9,1416.4 1767.3,1411.4" stroke="#8a0040" stroke-width="5.8"/><path d="M1761.9,1426.2 1759.9,1416.4 1767.3,1411.4" stroke="#f5137d" stroke-width="4.2"/><path d="M1819.2,1391.2 1812.8,1395.8 1810.8,1408.1 1817.4,1412.2 1827.6,1410.4" stroke="#8a0040" stroke-width="5.8"/><path d="M1819.2,1391.2 1812.8,1395.8 1810.8,1408.1 1817.4,1412.2 1827.6,1410.4" stroke="#f5137d" stroke-width="4.2"/><path d="M1810.2,1295.6 1814.5,1286.4 1812.1,1274.7 1804.5,1271.7" stroke="#8a0040" stroke-width="5.8"/><path d="M1810.2,1295.6 1814.5,1286.4 1812.1,1274.7 1804.5,1271.7" stroke="#f5137d" stroke-width="4.2"/><path d="M1747,1489.3 1735.8,1490.7 1728.2,1497.6 1719,1497.5" stroke="#8a0040" stroke-width="5.8"/><path d="M1747,1489.3 1735.8,1490.7 1728.2,1497.6 1719,1497.5" stroke="#f5137d" stroke-width="4.2"/><path d="M1829.3,1316.6 1836.1,1309.9 1847.8,1310.7 1851.6,1317.9 1847.8,1328.5" stroke="#8a0040" stroke-width="5.8"/><path d="M1829.3,1316.6 1836.1,1309.9 1847.8,1310.7 1851.6,1317.9 1847.8,1328.5" stroke="#f5137d" stroke-width="4.2"/><path d="M1793.1,1149.8 1801.2,1158 1799.5,1167.2 1805.4,1176.6" stroke="#8a0040" stroke-width="5.8"/><path d="M1793.1,1149.8 1801.2,1158 1799.5,1167.2 1805.4,1176.6" stroke="#f5137d" stroke-width="4.2"/><path d="M1785.7,1423.5 1772.9,1424.4 1768.6,1434.4 1760.9,1437" stroke="#8a0040" stroke-width="5.8"/><path d="M1785.7,1423.5 1772.9,1424.4 1768.6,1434.4 1760.9,1437" stroke="#f5137d" stroke-width="4.2"/><path d="M1769.5,1460.8 1765.6,1448.8 1758.3,1447.7" stroke="#8a0040" stroke-width="5.8"/><path d="M1769.5,1460.8 1765.6,1448.8 1758.3,1447.7" stroke="#f5137d" stroke-width="4.2"/><path d="M1776.8,1447.1 1783.9,1441.4 1784.2,1429.1" stroke="#8a0040" stroke-width="5.8"/><path d="M1776.8,1447.1 1783.9,1441.4 1784.2,1429.1" stroke="#f5137d" stroke-width="4.2"/><path d="M1778.5,1111.3 1785.8,1104.7 1787.3,1092.5" stroke="#8a0040" stroke-width="5.8"/><path d="M1778.5,1111.3 1785.8,1104.7 1787.3,1092.5" stroke="#f5137d" stroke-width="4.2"/><path d="M1800.9,1126.1 1812.3,1126 1817.6,1137.4 1826.2,1138.9 1832.6,1146.3" stroke="#8a0040" stroke-width="5.8"/><path d="M1800.9,1126.1 1812.3,1126 1817.6,1137.4 1826.2,1138.9 1832.6,1146.3" stroke="#f5137d" stroke-width="4.2"/><path d="M1786.5,1478.1 1799,1475.2 1801.3,1467.8 1794.5,1461.6 1793.5,1453.7" stroke="#8a0040" stroke-width="5.8"/><path d="M1786.5,1478.1 1799,1475.2 1801.3,1467.8 1794.5,1461.6 1793.5,1453.7" stroke="#f5137d" stroke-width="4.2"/><path d="M1784,1233.1 1788.7,1238.4 1789.1,1246.3 1780.5,1255.3" stroke="#8a0040" stroke-width="5.8"/><path d="M1784,1233.1 1788.7,1238.4 1789.1,1246.3 1780.5,1255.3" stroke="#f5137d" stroke-width="4.2"/><path d="M1758.5,1143.9 1769.2,1141.6 1775.6,1134.9 1770.3,1123.6" stroke="#8a0040" stroke-width="5.8"/><path d="M1758.5,1143.9 1769.2,1141.6 1775.6,1134.9 1770.3,1123.6" stroke="#f5137d" stroke-width="4.2"/><path d="M1812.2,1251.4 1814.5,1258.3 1823.6,1258.9" stroke="#8a0040" stroke-width="5.8"/><path d="M1812.2,1251.4 1814.5,1258.3 1823.6,1258.9" stroke="#f5137d" stroke-width="4.2"/><path d="M1791,1407.3 1783.5,1401.9 1773,1402.6 1767.6,1409.4 1756.2,1411.1" stroke="#8a0040" stroke-width="5.8"/><path d="M1791,1407.3 1783.5,1401.9 1773,1402.6 1767.6,1409.4 1756.2,1411.1" stroke="#f5137d" stroke-width="4.2"/><path d="M1835.9,1290.9 1832.7,1279.9 1836.8,1268.8 1831.3,1261.9 1831.1,1252.5" stroke="#8a0040" stroke-width="5.8"/><path d="M1835.9,1290.9 1832.7,1279.9 1836.8,1268.8 1831.3,1261.9 1831.1,1252.5" stroke="#f5137d" stroke-width="4.2"/><path d="M1765.2,1456.1 1756.5,1450.4 1744.3,1454.1" stroke="#8a0040" stroke-width="5.8"/><path d="M1765.2,1456.1 1756.5,1450.4 1744.3,1454.1" stroke="#f5137d" stroke-width="4.2"/><path d="M1795.4,1432.9 1798,1441.9 1808.8,1446.9 1817.7,1442.8" stroke="#8a0040" stroke-width="5.8"/><path d="M1795.4,1432.9 1798,1441.9 1808.8,1446.9 1817.7,1442.8" stroke="#f5137d" stroke-width="4.2"/><path d="M1772.3,1425.4 1776.3,1434.9 1788.7,1437" stroke="#8a0040" stroke-width="5.8"/><path d="M1772.3,1425.4 1776.3,1434.9 1788.7,1437" stroke="#f5137d" stroke-width="4.2"/><path d="M1800.7,1435.7 1800.9,1447.7 1808.7,1450.6" stroke="#8a0040" stroke-width="5.8"/><path d="M1800.7,1435.7 1800.9,1447.7 1808.7,1450.6" stroke="#f5137d" stroke-width="4.2"/><path d="M1829,1417.4 1836.4,1420.1 1837.7,1427.2 1828.3,1433.5" stroke="#8a0040" stroke-width="5.8"/><path d="M1829,1417.4 1836.4,1420.1 1837.7,1427.2 1828.3,1433.5" stroke="#f5137d" stroke-width="4.2"/><path d="M1803.5,1392.5 1796.1,1397.4 1785.2,1394.2 1782.4,1382.7 1770.9,1379.2" stroke="#8a0040" stroke-width="5.8"/><path d="M1803.5,1392.5 1796.1,1397.4 1785.2,1394.2 1782.4,1382.7 1770.9,1379.2" stroke="#f5137d" stroke-width="4.2"/><path d="M1757.9,1381.1 1755.8,1370.8 1746,1363.4" stroke="#8a0040" stroke-width="5.8"/><path d="M1757.9,1381.1 1755.8,1370.8 1746,1363.4" stroke="#f5137d" stroke-width="4.2"/><path d="M1759.9,1442.4 1758.4,1429.7 1767,1422.6" stroke="#8a0040" stroke-width="5.8"/><path d="M1759.9,1442.4 1758.4,1429.7 1767,1422.6" stroke="#f5137d" stroke-width="4.2"/><path d="M1803.2,1339.2 1800,1331.3 1805.1,1323.7 1815.6,1322.6" stroke="#8a0040" stroke-width="5.8"/><path d="M1803.2,1339.2 1800,1331.3 1805.1,1323.7 1815.6,1322.6" stroke="#f5137d" stroke-width="4.2"/><path d="M1773,1473.9 1772.1,1464.4 1777.5,1459.1" stroke="#8a0040" stroke-width="5.8"/><path d="M1773,1473.9 1772.1,1464.4 1777.5,1459.1" stroke="#f5137d" stroke-width="4.2"/><path d="M1781.3,1237.2 1791.5,1234.1 1797.8,1223.3 1808.7,1218.3 1810.9,1209.8" stroke="#8a0040" stroke-width="5.8"/><path d="M1781.3,1237.2 1791.5,1234.1 1797.8,1223.3 1808.7,1218.3 1810.9,1209.8" stroke="#f5137d" stroke-width="4.2"/><path d="M1778.4,1159.8 1774.2,1168.7 1766.8,1168.2 1762.3,1161.6 1753.4,1163.5" stroke="#8a0040" stroke-width="5.8"/><path d="M1778.4,1159.8 1774.2,1168.7 1766.8,1168.2 1762.3,1161.6 1753.4,1163.5" stroke="#f5137d" stroke-width="4.2"/><path d="M1818.8,1414.4 1814.8,1408.5 1807.8,1408.1" stroke="#8a0040" stroke-width="5.8"/><path d="M1818.8,1414.4 1814.8,1408.5 1807.8,1408.1" stroke="#f5137d" stroke-width="4.2"/><path d="M1814.9,1373.7 1803.7,1369.9 1799.9,1358.5 1805.1,1347.4 1801.3,1340.2" stroke="#8a0040" stroke-width="5.8"/><path d="M1814.9,1373.7 1803.7,1369.9 1799.9,1358.5 1805.1,1347.4 1801.3,1340.2" stroke="#f5137d" stroke-width="4.2"/><path d="M1793.5,1328.3 1801.8,1331.8 1805.6,1338.3 1812.7,1340.6 1823.1,1333.9" stroke="#8a0040" stroke-width="5.8"/><path d="M1793.5,1328.3 1801.8,1331.8 1805.6,1338.3 1812.7,1340.6 1823.1,1333.9" stroke="#f5137d" stroke-width="4.2"/><path d="M1800.9,1435.2 1791.8,1435.4 1784.1,1442.5 1781.8,1455.2" stroke="#8a0040" stroke-width="5.8"/><path d="M1800.9,1435.2 1791.8,1435.4 1784.1,1442.5 1781.8,1455.2" stroke="#f5137d" stroke-width="4.2"/><path d="M1786.4,1283.8 1776.1,1285.4 1769.4,1274.4" stroke="#8a0040" stroke-width="5.8"/><path d="M1786.4,1283.8 1776.1,1285.4 1769.4,1274.4" stroke="#f5137d" stroke-width="4.2"/><path d="M1779.7,1150.2 1789.1,1145.1 1790.8,1134.7" stroke="#8a0040" stroke-width="5.8"/><path d="M1779.7,1150.2 1789.1,1145.1 1790.8,1134.7" stroke="#f5137d" stroke-width="4.2"/><path d="M1811.4,1385.6 1809,1397.1 1802,1399.7" stroke="#8a0040" stroke-width="5.8"/><path d="M1811.4,1385.6 1809,1397.1 1802,1399.7" stroke="#f5137d" stroke-width="4.2"/><path d="M1791.1,1151.2 1798.2,1156.8 1809.8,1153.8 1816.9,1161 1816.3,1168.6" stroke="#8a0040" stroke-width="5.8"/><path d="M1791.1,1151.2 1798.2,1156.8 1809.8,1153.8 1816.9,1161 1816.3,1168.6" stroke="#f5137d" stroke-width="4.2"/><path d="M1794.2,1373 1804.2,1380.5 1811.4,1377.1" stroke="#8a0040" stroke-width="5.8"/><path d="M1794.2,1373 1804.2,1380.5 1811.4,1377.1" stroke="#f5137d" stroke-width="4.2"/><path d="M1783.6,1475.5 1792.1,1466 1792.4,1453.4" stroke="#8a0040" stroke-width="5.8"/><path d="M1783.6,1475.5 1792.1,1466 1792.4,1453.4" stroke="#f5137d" stroke-width="4.2"/><path d="M1788.2,1424.4 1799,1425 1805.3,1434.9 1804.7,1442.8" stroke="#8a0040" stroke-width="5.8"/><path d="M1788.2,1424.4 1799,1425 1805.3,1434.9 1804.7,1442.8" stroke="#f5137d" stroke-width="4.2"/><path d="M1835.2,1305.2 1847.5,1305.7 1851.5,1297.3" stroke="#8a0040" stroke-width="5.8"/><path d="M1835.2,1305.2 1847.5,1305.7 1851.5,1297.3" stroke="#f5137d" stroke-width="4.2"/><path d="M1797.8,1217.1 1792,1226.3 1794.1,1237.6 1803.3,1246.3" stroke="#8a0040" stroke-width="5.8"/><path d="M1797.8,1217.1 1792,1226.3 1794.1,1237.6 1803.3,1246.3" stroke="#f5137d" stroke-width="4.2"/><path d="M1802.5,1359.2 1804.3,1371.8 1815.3,1374.7" stroke="#8a0040" stroke-width="5.8"/><path d="M1802.5,1359.2 1804.3,1371.8 1815.3,1374.7" stroke="#f5137d" stroke-width="4.2"/><path d="M1785.8,1426.1 1798.6,1425.6 1804.5,1429.8 1804.3,1440.1" stroke="#8a0040" stroke-width="5.8"/><path d="M1785.8,1426.1 1798.6,1425.6 1804.5,1429.8 1804.3,1440.1" stroke="#f5137d" stroke-width="4.2"/><path d="M1803.4,1287.5 1800.2,1294.4 1803.2,1303.7 1813.3,1311.5" stroke="#8a0040" stroke-width="5.8"/><path d="M1803.4,1287.5 1800.2,1294.4 1803.2,1303.7 1813.3,1311.5" stroke="#f5137d" stroke-width="4.2"/><path d="M1791.7,1441.3 1782.5,1450.2 1784.9,1460.8" stroke="#8a0040" stroke-width="5.8"/><path d="M1791.7,1441.3 1782.5,1450.2 1784.9,1460.8" stroke="#f5137d" stroke-width="4.2"/><path d="M1812.3,1354.6 1807.1,1360.3 1796.1,1359.1 1790.1,1353.4 1782.1,1354.2" stroke="#8a0040" stroke-width="5.8"/><path d="M1812.3,1354.6 1807.1,1360.3 1796.1,1359.1 1790.1,1353.4 1782.1,1354.2" stroke="#f5137d" stroke-width="4.2"/><path d="M1801.2,1263.9 1809.9,1263 1817.2,1269.1 1814.4,1277.7" stroke="#8a0040" stroke-width="5.8"/><path d="M1801.2,1263.9 1809.9,1263 1817.2,1269.1 1814.4,1277.7" stroke="#f5137d" stroke-width="4.2"/><path d="M1835.7,1388.6 1826.1,1396.7 1827.2,1406.6 1818.7,1412.8" stroke="#8a0040" stroke-width="5.8"/><path d="M1835.7,1388.6 1826.1,1396.7 1827.2,1406.6 1818.7,1412.8" stroke="#f5137d" stroke-width="4.2"/><path d="M1827,1284 1817.1,1288 1811.5,1283.3 1799,1282.2 1794.3,1273.3" stroke="#8a0040" stroke-width="5.8"/><path d="M1827,1284 1817.1,1288 1811.5,1283.3 1799,1282.2 1794.3,1273.3" stroke="#f5137d" stroke-width="4.2"/><path d="M1813.5,1442.8 1823.4,1451.1 1823.8,1458.2 1818.6,1465.6 1809.6,1465.4" stroke="#8a0040" stroke-width="5.8"/><path d="M1813.5,1442.8 1823.4,1451.1 1823.8,1458.2 1818.6,1465.6 1809.6,1465.4" stroke="#f5137d" stroke-width="4.2"/><path d="M1810,1424.8 1799.9,1421.7 1798.3,1413.2" stroke="#8a0040" stroke-width="5.8"/><path d="M1810,1424.8 1799.9,1421.7 1798.3,1413.2" stroke="#f5137d" stroke-width="4.2"/><path d="M1795.4,1255.9 1799.2,1264.2 1807.2,1266.1 1812.4,1275.1 1807.2,1281.8" stroke="#8a0040" stroke-width="5.8"/><path d="M1795.4,1255.9 1799.2,1264.2 1807.2,1266.1 1812.4,1275.1 1807.2,1281.8" stroke="#f5137d" stroke-width="4.2"/><path d="M1777.4,1197.9 1769.2,1199.7 1763.2,1194.9 1765.4,1188.4 1773.5,1186.6 1779.6,1191.3Z" stroke="#8a0040" stroke-width="5.8"/><path d="M1777.4,1197.9 1769.2,1199.7 1763.2,1194.9 1765.4,1188.4 1773.5,1186.6 1779.6,1191.3Z" stroke="#f5137d" stroke-width="4.2"/><path d="M1833.3,1331.5 1826.2,1336.9 1816.8,1334.6 1814.5,1327 1821.6,1321.6 1831,1323.9Z" stroke="#8a0040" stroke-width="5.8"/><path d="M1833.3,1331.5 1826.2,1336.9 1816.8,1334.6 1814.5,1327 1821.6,1321.6 1831,1323.9Z" stroke="#f5137d" stroke-width="4.2"/><path d="M1808.9,1249 1802.7,1252.8 1795.5,1250.4 1794.6,1244.2 1800.8,1240.4 1807.9,1242.8Z" stroke="#8a0040" stroke-width="5.8"/><path d="M1808.9,1249 1802.7,1252.8 1795.5,1250.4 1794.6,1244.2 1800.8,1240.4 1807.9,1242.8Z" stroke="#f5137d" stroke-width="4.2"/><path d="M1770.9,1361.3 1762.8,1364.3 1755.5,1360.2 1756.3,1353 1764.5,1350.1 1771.7,1354.2Z" stroke="#8a0040" stroke-width="5.8"/><path d="M1770.9,1361.3 1762.8,1364.3 1755.5,1360.2 1756.3,1353 1764.5,1350.1 1771.7,1354.2Z" stroke="#f5137d" stroke-width="4.2"/><path d="M1816.9,1273 1812.3,1277.8 1804.8,1276.9 1801.9,1271.3 1806.6,1266.5 1814.1,1267.4Z" stroke="#8a0040" stroke-width="5.8"/><path d="M1816.9,1273 1812.3,1277.8 1804.8,1276.9 1801.9,1271.3 1806.6,1266.5 1814.1,1267.4Z" stroke="#f5137d" stroke-width="4.2"/><path d="M1769.9,1363.4 1763.8,1366.3 1757.6,1363.5 1757.6,1357.8 1763.7,1354.9 1769.9,1357.7Z" stroke="#8a0040" stroke-width="5.8"/><path d="M1769.9,1363.4 1763.8,1366.3 1757.6,1363.5 1757.6,1357.8 1763.7,1354.9 1769.9,1357.7Z" stroke="#f5137d" stroke-width="4.2"/><path d="M1780.9,1444.2 1775.6,1449.3 1767.4,1448.2 1764.5,1442 1769.8,1436.9 1777.9,1438Z" stroke="#8a0040" stroke-width="5.8"/><path d="M1780.9,1444.2 1775.6,1449.3 1767.4,1448.2 1764.5,1442 1769.8,1436.9 1777.9,1438Z" stroke="#f5137d" stroke-width="4.2"/><path d="M1794.3,1142.9 1787.1,1143.7 1782.6,1139.2 1785.2,1133.8 1792.5,1132.9 1797,1137.4Z" stroke="#8a0040" stroke-width="5.8"/><path d="M1794.3,1142.9 1787.1,1143.7 1782.6,1139.2 1785.2,1133.8 1792.5,1132.9 1797,1137.4Z" stroke="#f5137d" stroke-width="4.2"/><path d="M1793.8,1241.2 1789.1,1246 1781.5,1245.1 1778.7,1239.4 1783.4,1234.6 1791,1235.5Z" stroke="#8a0040" stroke-width="5.8"/><path d="M1793.8,1241.2 1789.1,1246 1781.5,1245.1 1778.7,1239.4 1783.4,1234.6 1791,1235.5Z" stroke="#f5137d" stroke-width="4.2"/><path d="M1840.3,1289.8 1833.3,1293.2 1826.2,1290.1 1825.9,1283.5 1832.9,1280.1 1840.1,1283.2Z" stroke="#8a0040" stroke-width="5.8"/><path d="M1840.3,1289.8 1833.3,1293.2 1826.2,1290.1 1825.9,1283.5 1832.9,1280.1 1840.1,1283.2Z" stroke="#f5137d" stroke-width="4.2"/></g></svg>
<svg width="2223" height="3135" viewBox="0 0 2223 3135" style="position:absolute;left:0;top:0">
<line x1="166" y1="2946.6" x2="2177" y2="2946.6" stroke="#dcdcdc" stroke-width="2.3"/>
<line x1="166" y1="2837.2" x2="2177" y2="2837.2" stroke="#dcdcdc" stroke-width="2.3"/>
<line x1="166" y1="2727.8" x2="2177" y2="2727.8" stroke="#dcdcdc" stroke-width="2.3"/>
<line x1="166" y1="2618.4" x2="2177" y2="2618.4" stroke="#dcdcdc" stroke-width="2.3"/>
<line x1="166" y1="2509.0" x2="2177" y2="2509.0" stroke="#dcdcdc" stroke-width="2.3"/>
<line x1="166" y1="2399.6" x2="2177" y2="2399.6" stroke="#dcdcdc" stroke-width="2.3"/>
<line x1="166" y1="2290.2" x2="2177" y2="2290.2" stroke="#dcdcdc" stroke-width="2.3"/>
<line x1="166" y1="2180.8" x2="2177" y2="2180.8" stroke="#dcdcdc" stroke-width="2.3"/>
<rect x="188.6" y="2403.7" width="44.7" height="652.3" fill="#a5cbdf" stroke="#ffffff" stroke-width="2.8"/>
<rect x="233.3" y="2370.8" width="44.7" height="685.1" fill="#0073a6" stroke="#ffffff" stroke-width="2.8"/>
<rect x="278.0" y="2447.4" width="44.7" height="608.6" fill="#a6d592" stroke="#ffffff" stroke-width="2.8"/>
<rect x="322.7" y="2305.2" width="44.7" height="750.8" fill="#01922f" stroke="#ffffff" stroke-width="2.8"/>
<rect x="412.1" y="2452.9" width="44.7" height="603.1" fill="#a5cbdf" stroke="#ffffff" stroke-width="2.8"/>
<rect x="456.8" y="2496.7" width="44.7" height="559.3" fill="#0073a6" stroke="#ffffff" stroke-width="2.8"/>
<rect x="501.5" y="2266.9" width="44.7" height="789.1" fill="#a6d592" stroke="#ffffff" stroke-width="2.8"/>
<rect x="546.2" y="2365.4" width="44.7" height="690.6" fill="#01922f" stroke="#ffffff" stroke-width="2.8"/>
<rect x="635.5" y="2398.2" width="44.7" height="657.8" fill="#a5cbdf" stroke="#ffffff" stroke-width="2.8"/>
<rect x="680.2" y="2491.2" width="44.7" height="564.8" fill="#0073a6" stroke="#ffffff" stroke-width="2.8"/>
<rect x="724.9" y="2398.2" width="44.7" height="657.8" fill="#a6d592" stroke="#ffffff" stroke-width="2.8"/>
<rect x="769.6" y="2480.2" width="44.7" height="575.7" fill="#01922f" stroke="#ffffff" stroke-width="2.8"/>
<rect x="859.0" y="2354.4" width="44.7" height="701.6" fill="#a5cbdf" stroke="#ffffff" stroke-width="2.8"/>
<rect x="903.7" y="2228.6" width="44.7" height="827.4" fill="#0073a6" stroke="#ffffff" stroke-width="2.8"/>
<rect x="948.4" y="2283.3" width="44.7" height="772.7" fill="#a6d592" stroke="#ffffff" stroke-width="2.8"/>
<rect x="993.0" y="2310.7" width="44.7" height="745.3" fill="#01922f" stroke="#ffffff" stroke-width="2.8"/>
<rect x="1082.4" y="2190.3" width="44.7" height="865.7" fill="#a5cbdf" stroke="#ffffff" stroke-width="2.8"/>
<rect x="1127.1" y="2299.7" width="44.7" height="756.3" fill="#0073a6" stroke="#ffffff" stroke-width="2.8"/>
<rect x="1171.8" y="2392.7" width="44.7" height="663.3" fill="#a6d592" stroke="#ffffff" stroke-width="2.8"/>
<rect x="1216.5" y="2228.6" width="44.7" height="827.4" fill="#01922f" stroke="#ffffff" stroke-width="2.8"/>
<rect x="1305.9" y="2414.6" width="44.7" height="641.4" fill="#a5cbdf" stroke="#ffffff" stroke-width="2.8"/>
<rect x="1350.6" y="2403.7" width="44.7" height="652.3" fill="#0073a6" stroke="#ffffff" stroke-width="2.8"/>
<rect x="1395.2" y="2529.5" width="44.7" height="526.5" fill="#a6d592" stroke="#ffffff" stroke-width="2.8"/>
<rect x="1439.9" y="2376.3" width="44.7" height="679.7" fill="#01922f" stroke="#ffffff" stroke-width="2.8"/>
<rect x="1529.3" y="2119.2" width="44.7" height="936.8" fill="#a5cbdf" stroke="#ffffff" stroke-width="2.8"/>
<rect x="1574.0" y="2288.8" width="44.7" height="767.2" fill="#0073a6" stroke="#ffffff" stroke-width="2.8"/>
<rect x="1618.7" y="2277.9" width="44.7" height="778.1" fill="#a6d592" stroke="#ffffff" stroke-width="2.8"/>
<rect x="1663.4" y="2277.9" width="44.7" height="778.1" fill="#01922f" stroke="#ffffff" stroke-width="2.8"/>
<rect x="1752.8" y="2365.4" width="44.7" height="690.6" fill="#a5cbdf" stroke="#ffffff" stroke-width="2.8"/>
<rect x="1797.4" y="2327.1" width="44.7" height="728.9" fill="#0073a6" stroke="#ffffff" stroke-width="2.8"/>
<rect x="1842.1" y="2398.2" width="44.7" height="657.8" fill="#a6d592" stroke="#ffffff" stroke-width="2.8"/>
<rect x="1886.8" y="2376.3" width="44.7" height="679.7" fill="#01922f" stroke="#ffffff" stroke-width="2.8"/>
<rect x="1976.2" y="2332.6" width="44.7" height="723.4" fill="#a5cbdf" stroke="#ffffff" stroke-width="2.8"/>
<rect x="2020.9" y="2338.0" width="44.7" height="718.0" fill="#0073a6" stroke="#ffffff" stroke-width="2.8"/>
<rect x="2065.6" y="2447.4" width="44.7" height="608.6" fill="#a6d592" stroke="#ffffff" stroke-width="2.8"/>
<rect x="2110.3" y="2409.1" width="44.7" height="646.9" fill="#01922f" stroke="#ffffff" stroke-width="2.8"/>
<line x1="166" y1="2073" x2="166" y2="3057.3" stroke="#cccccc" stroke-width="2.6"/>
<line x1="164.7" y1="3056" x2="2177" y2="3056" stroke="#cccccc" stroke-width="2.6"/>
<text x="149.5" y="3071.0" text-anchor="end" class="tk">0</text>
<text x="149.5" y="2961.6" text-anchor="end" class="tk">−2</text>
<text x="149.5" y="2852.2" text-anchor="end" class="tk">−4</text>
<text x="149.5" y="2742.8" text-anchor="end" class="tk">−6</text>
<text x="149.5" y="2633.4" text-anchor="end" class="tk">−8</text>
<text x="149.5" y="2524.0" text-anchor="end" class="tk">−10</text>
<text x="149.5" y="2414.6" text-anchor="end" class="tk">−12</text>
<text x="149.5" y="2305.2" text-anchor="end" class="tk">−14</text>
<text x="149.5" y="2195.8" text-anchor="end" class="tk">−16</text>
<text x="277.7" y="3101" text-anchor="middle" class="tk">ACE2</text>
<text x="501.2" y="3101" text-anchor="middle" class="tk">AXL</text>
<text x="724.6" y="3101" text-anchor="middle" class="tk">CD209</text>
<text x="948.1" y="3101" text-anchor="middle" class="tk">CLEC4M</text>
<text x="1171.5" y="3101" text-anchor="middle" class="tk">EGFR</text>
<text x="1394.9" y="3101" text-anchor="middle" class="tk">HAVCR1</text>
<text x="1618.4" y="3101" text-anchor="middle" class="tk">TMPRSS2</text>
<text x="1841.8" y="3101" text-anchor="middle" class="tk">WWP1</text>
<text x="2065.3" y="3101" text-anchor="middle" class="tk">WWP2</text>
<text transform="translate(58,2565) rotate(-90)" text-anchor="middle" class="tk">ΔG (kcal/mol)</text>
<rect x="1782" y="2091" width="376.5" height="223" rx="6" ry="6" fill="#ffffff" fill-opacity="0.96" stroke="#d6d6d6" stroke-width="2.2"/>
<rect x="1797" y="2109.6" width="70.3" height="22.2" fill="#a5cbdf"/>
<text x="1898" y="2133.1" class="tk" style="font-size:35.8px">WT</text>
<rect x="1797" y="2162.5" width="70.3" height="22.2" fill="#0073a6"/>
<text x="1898" y="2186.0" class="tk" style="font-size:35.8px">Delta</text>
<rect x="1797" y="2215.4" width="70.3" height="22.2" fill="#a6d592"/>
<text x="1898" y="2238.9" class="tk" style="font-size:35.8px">Omicron BA.1</text>
<rect x="1797" y="2268.3" width="70.3" height="22.2" fill="#01922f"/>
<text x="1898" y="2291.8" class="tk" style="font-size:35.8px">Omicron BA.2</text>
</svg>
<div class="cap" style="left:210px;top:763px">
<div>ACE2 with S protein (6M0J)</div>
<div>Strain: WT</div>
<div>ΔG (kcal mol<sup>–1</sup>) = –11.9</div>
<div>K<sub>d</sub> (M) = 4.0 × 10<sup>–9</sup></div>
</div><div class="cap" style="left:1344px;top:763px">
<div>ACE2 with S protein (7WBQ)</div>
<div>Strain: Delta B.1.617.2</div>
<div>ΔG (kcal mol<sup>–1</sup>) = –12.5</div>
<div>K<sub>d</sub> (M) = 1.5 × 10<sup>–9</sup></div>
</div><div class="cap" style="left:210px;top:1754.5px">
<div>ACE2 with S protein (7WBP)</div>
<div>Strain: Omicron BA.1</div>
<div>ΔG (kcal mol<sup>–1</sup>) = –11.1</div>
<div>K<sub>d</sub> (M) = 1.5 × 10<sup>–8</sup></div>
</div><div class="cap" style="left:1344px;top:1754.5px">
<div>ACE2 with S protein (calculated)</div>
<div>Strain: Omicron BA.2</div>
<div>ΔG (kcal mol<sup>–1</sup>) = –13.7</div>
<div>K<sub>d</sub> (M) = 2.3 × 10<sup>–10</sup></div>
</div>
<div class="lab" style="left:53px;top:25.5px">A</div><div class="lab" style="left:1197px;top:25.799999999999997px">B</div><div class="lab" style="left:55.5px;top:1080.0px">C</div><div class="lab" style="left:1197px;top:1080.2px">D</div><div class="lab" style="left:57px;top:1988.2px">E</div>
</body></html>
